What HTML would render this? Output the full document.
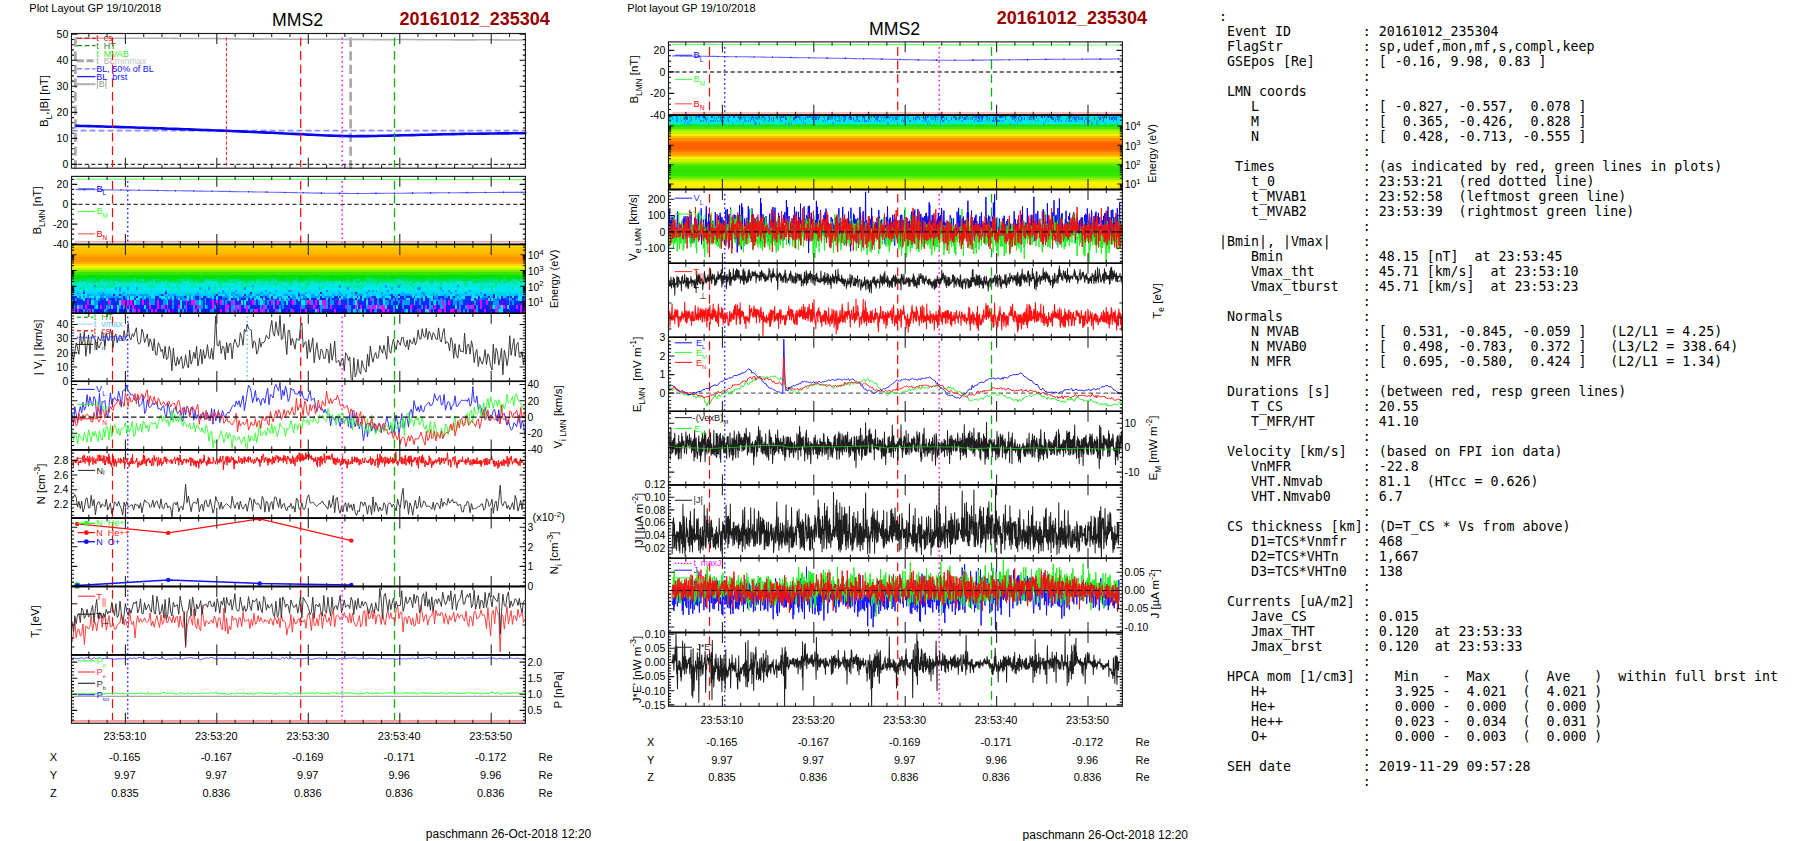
<!DOCTYPE html>
<html lang="en"><head><meta charset="utf-8"><title>MMS2 20161012_235304</title>
<style>
html,body{margin:0;padding:0;background:#fff;}
body{width:1804px;height:841px;overflow:hidden;position:relative;}
svg{position:absolute;left:0;top:0;font-family:"Liberation Sans", Arial, sans-serif;}
svg text{white-space:pre;}
pre#info{position:absolute;left:1219px;top:8.6px;margin:0;font-family:"DejaVu Sans Mono","Liberation Mono",monospace;
font-size:13.28px;line-height:15px;color:#000;white-space:pre;}
</style></head><body>
<svg width="1804" height="841" viewBox="0 0 1804 841">
<text x="29.3" y="11.9" font-size="11" text-anchor="start" fill="#000" >Plot Layout GP 19/10/2018</text>
<text x="297.5" y="26.3" font-size="17.7" text-anchor="middle" fill="#000" >MMS2</text>
<text x="399.6" y="24.6" font-size="18" text-anchor="start" fill="#990000" font-weight="bold" >20161012_235304</text>
<line x1="75.4" y1="37.6" x2="75.4" y2="169.6" stroke="#a8a8a8" stroke-width="2.7" stroke-dasharray="9.3 4.3"/>
<line x1="350.6" y1="37.6" x2="350.6" y2="169.6" stroke="#a8a8a8" stroke-width="2.7" stroke-dasharray="9.3 4.3"/>
<polyline points="75.3,38.2 82.9,38.2 90.6,38.2 98.2,38.2 105.9,38.3 113.5,38.3 121.2,38.3 128.8,38.3 136.5,38.2 144.1,38.2 151.7,38.2 159.4,38.2 167,38.3 174.7,38.4 182.3,38.5 190,38.5 197.6,38.5 205.3,38.5 212.9,38.5 220.6,38.6 228.2,38.7 235.9,38.9 243.5,39 251.1,39.1 258.8,39.1 266.4,39 274.1,39 281.7,39.1 289.4,39.2 297,39.2 304.7,39.2 312.3,39.2 320,39.2 327.6,39.2 335.3,39.3 342.9,39.4 350.5,39.4 358.2,39.4 365.8,39.5 373.5,39.6 381.1,39.6 388.8,39.6 396.4,39.5 404.1,39.5 411.7,39.5 419.4,39.6 427,39.7 434.7,39.7 442.3,39.7 449.9,39.8 457.6,39.9 465.2,39.9 472.9,39.9 480.5,39.8 488.2,39.8 495.8,39.9 503.5,40 511.1,40 518.8,40 526.4,40" fill="none" stroke="#b0b0b0" stroke-width="1.6" stroke-linejoin="round" />
<line x1="71.5" y1="130.6" x2="525.4" y2="130.6" stroke="#8c8cff" stroke-width="1.6" stroke-dasharray="6 3"/>
<line x1="71.5" y1="164.4" x2="525.4" y2="164.4" stroke="#333" stroke-width="1.1" stroke-dasharray="4 2.6"/>
<polyline points="75.3,125.7 79.8,125.9 84.4,126 89,126.1 93.5,126.3 98.1,126.4 102.6,126.5 107.2,126.7 111.7,126.8 116.3,126.9 120.9,127.1 125.4,127.2 130,127.3 134.5,127.5 139.1,127.7 143.6,127.8 148.2,128 152.8,128.1 157.3,128.3 161.9,128.4 166.4,128.6 171,128.7 175.5,128.9 180.1,129.1 184.6,129.3 189.2,129.4 193.8,129.6 198.3,129.8 202.9,130 207.4,130.1 212,130.3 216.5,130.5 221.1,130.6 225.7,130.8 230.2,131 234.8,131.2 239.3,131.4 243.9,131.6 248.4,131.8 253,132 257.6,132.2 262.1,132.4 266.7,132.6 271.2,132.8 275.8,133 280.3,133.2 284.9,133.5 289.5,133.7 294,133.9 298.6,134.1 303.1,134.3 307.7,134.6 312.2,134.8 316.8,135 321.4,135.3 325.9,135.5 330.5,135.6 335,135.7 339.6,135.9 344.1,136 348.7,136.1 353.2,136.2 357.8,136.1 362.4,136.1 366.9,136.1 371.5,136 376,136 380.6,135.8 385.1,135.7 389.7,135.6 394.3,135.5 398.8,135.4 403.4,135.3 407.9,135.2 412.5,135.1 417,135 421.6,134.8 426.2,134.7 430.7,134.6 435.3,134.5 439.8,134.4 444.4,134.3 448.9,134.2 453.5,134.1 458.1,134 462.6,133.9 467.2,133.8 471.7,133.7 476.3,133.7 480.8,133.6 485.4,133.6 490,133.5 494.5,133.5 499.1,133.4 503.6,133.4 508.2,133.4 512.7,133.3 517.3,133.3 521.9,133.2 526.4,133.2" fill="none" stroke="#0808f0" stroke-width="2.6" stroke-linejoin="round" />
<line x1="112.5" y1="37.5" x2="112.5" y2="167" stroke="#ff0000" stroke-width="1.2" stroke-dasharray="8.8 4.8"/>
<line x1="300.7" y1="37.5" x2="300.7" y2="167" stroke="#ff0000" stroke-width="1.2" stroke-dasharray="8.8 4.8"/>
<line x1="342.2" y1="37.5" x2="342.2" y2="167" stroke="#ff20ff" stroke-width="1.55" stroke-dasharray="1.7 3.0"/>
<line x1="394.5" y1="37.5" x2="394.5" y2="167" stroke="#10b010" stroke-width="1.3" stroke-dasharray="8.8 4.8"/>
<line x1="226.4" y1="37.5" x2="226.4" y2="167" stroke="#ff0000" stroke-width="0.9" stroke-dasharray="3.2 2"/>
<line x1="77" y1="38.3" x2="95.5" y2="38.3" stroke="#ff0000" stroke-width="1.3" stroke-dasharray="5 2.6"/>
<text x="96.3" y="41.4" font-size="9" text-anchor="start" fill="#ff0000" >t cs</text>
<line x1="77" y1="45.7" x2="95.5" y2="45.7" stroke="#109010" stroke-width="1.3" stroke-dasharray="5 2.6"/>
<text x="96.3" y="48.8" font-size="9" text-anchor="start" fill="#109010" >t HT</text>
<text x="96.3" y="56.7" font-size="9" text-anchor="start" fill="#30f030" >t MVAB</text>
<line x1="77" y1="60.8" x2="95.5" y2="60.8" stroke="#a8a8a8" stroke-width="3.0" stroke-dasharray="7 2.5"/>
<text x="96.3" y="63.9" font-size="9" text-anchor="start" fill="#b4acac" >t BL<tspan fill="#c4c4c4">minmax</tspan></text>
<line x1="77" y1="68.8" x2="95.5" y2="68.8" stroke="#7070ff" stroke-width="1.3" stroke-dasharray="5 2.6"/>
<text x="96.3" y="71.9" font-size="9" text-anchor="start" fill="#1010ff" >BL, 50% of BL</text>
<line x1="77" y1="76.6" x2="95.5" y2="76.6" stroke="#2020ff" stroke-width="1.3" />
<text x="96.3" y="79.7" font-size="9" text-anchor="start" fill="#1010ff" >BL brst</text>
<line x1="77" y1="84.2" x2="95.5" y2="84.2" stroke="#b0b0b0" stroke-width="2.0" />
<text x="96.3" y="87.3" font-size="9" text-anchor="start" fill="#909090" >|B|</text>
<path d="M88.8 33.5v3.5M88.8 168.2v-3.5M107.1 33.5v3.5M107.1 168.2v-3.5M125.4 33.5v10.4M125.4 168.2v-10.4M143.7 33.5v3.5M143.7 168.2v-3.5M162 33.5v3.5M162 168.2v-3.5M180.3 33.5v3.5M180.3 168.2v-3.5M198.6 33.5v3.5M198.6 168.2v-3.5M216.8 33.5v10.4M216.8 168.2v-10.4M235.1 33.5v3.5M235.1 168.2v-3.5M253.4 33.5v3.5M253.4 168.2v-3.5M271.7 33.5v3.5M271.7 168.2v-3.5M290 33.5v3.5M290 168.2v-3.5M308.3 33.5v10.4M308.3 168.2v-10.4M326.6 33.5v3.5M326.6 168.2v-3.5M344.9 33.5v3.5M344.9 168.2v-3.5M363.2 33.5v3.5M363.2 168.2v-3.5M381.5 33.5v3.5M381.5 168.2v-3.5M399.8 33.5v10.4M399.8 168.2v-10.4M418 33.5v3.5M418 168.2v-3.5M436.3 33.5v3.5M436.3 168.2v-3.5M454.6 33.5v3.5M454.6 168.2v-3.5M472.9 33.5v3.5M472.9 168.2v-3.5M491.2 33.5v10.4M491.2 168.2v-10.4M509.5 33.5v3.5M509.5 168.2v-3.5" stroke="#2a2a2a" stroke-width="1.1" fill="none"/>
<rect x="71.5" y="33.5" width="453.9" height="134.7" fill="none" stroke="#1c1c1c" stroke-width="1.15"/>
<path d="M71.5 164.4h5.8M525.4 164.4h-5.8M71.5 138.4h5.8M525.4 138.4h-5.8M71.5 112.4h5.8M525.4 112.4h-5.8M71.5 86.3h5.8M525.4 86.3h-5.8M71.5 60.3h5.8M525.4 60.3h-5.8M71.5 34.3h5.8M525.4 34.3h-5.8M71.5 164.4h2.6M525.4 164.4h-2.6M71.5 159.2h2.6M525.4 159.2h-2.6M71.5 154h2.6M525.4 154h-2.6M71.5 148.8h2.6M525.4 148.8h-2.6M71.5 143.6h2.6M525.4 143.6h-2.6M71.5 138.4h2.6M525.4 138.4h-2.6M71.5 133.2h2.6M525.4 133.2h-2.6M71.5 128h2.6M525.4 128h-2.6M71.5 122.8h2.6M525.4 122.8h-2.6M71.5 117.6h2.6M525.4 117.6h-2.6M71.5 112.4h2.6M525.4 112.4h-2.6M71.5 107.2h2.6M525.4 107.2h-2.6M71.5 102h2.6M525.4 102h-2.6M71.5 96.7h2.6M525.4 96.7h-2.6M71.5 91.5h2.6M525.4 91.5h-2.6M71.5 86.3h2.6M525.4 86.3h-2.6M71.5 81.1h2.6M525.4 81.1h-2.6M71.5 75.9h2.6M525.4 75.9h-2.6M71.5 70.7h2.6M525.4 70.7h-2.6M71.5 65.5h2.6M525.4 65.5h-2.6M71.5 60.3h2.6M525.4 60.3h-2.6M71.5 55.1h2.6M525.4 55.1h-2.6M71.5 49.9h2.6M525.4 49.9h-2.6M71.5 44.7h2.6M525.4 44.7h-2.6M71.5 39.5h2.6M525.4 39.5h-2.6M71.5 34.3h2.6M525.4 34.3h-2.6" stroke="#111" stroke-width="1.1" fill="none"/>
<text x="68.3" y="168.1" font-size="10.5" text-anchor="end" fill="#000" >0</text>
<text x="68.3" y="142.1" font-size="10.5" text-anchor="end" fill="#000" >10</text>
<text x="68.3" y="116.1" font-size="10.5" text-anchor="end" fill="#000" >20</text>
<text x="68.3" y="90" font-size="10.5" text-anchor="end" fill="#000" >30</text>
<text x="68.3" y="64" font-size="10.5" text-anchor="end" fill="#000" >40</text>
<text x="68.3" y="38" font-size="10.5" text-anchor="end" fill="#000" >50</text>
<text x="48" y="101" font-size="11.5" text-anchor="middle" fill="#000" transform="rotate(-90 48 101)" >B<tspan dy="3.8" font-size="8.3">L</tspan><tspan dy="-3.8" font-size="1">&#8203;</tspan>,|B| [nT]</text>
<polyline points="75.3,179.1 79.8,179.1 84.4,179.2 89,179.2 93.5,179.2 98.1,179.2 102.6,179.2 107.2,179.2 111.7,179.2 116.3,179.2 120.9,179.2 125.4,179.2 130,179.2 134.5,179.2 139.1,179.2 143.6,179.2 148.2,179.2 152.8,179.2 157.3,179.2 161.9,179.3 166.4,179.3 171,179.3 175.5,179.3 180.1,179.3 184.6,179.3 189.2,179.3 193.8,179.3 198.3,179.3 202.9,179.3 207.4,179.3 212,179.3 216.5,179.3 221.1,179.3 225.7,179.3 230.2,179.3 234.8,179.3 239.3,179.4 243.9,179.4 248.4,179.4 253,179.4 257.6,179.4 262.1,179.4 266.7,179.4 271.2,179.4 275.8,179.4 280.3,179.4 284.9,179.4 289.5,179.4 294,179.4 298.6,179.4 303.1,179.4 307.7,179.4 312.2,179.5 316.8,179.5 321.4,179.5 325.9,179.5 330.5,179.5 335,179.5 339.6,179.5 344.1,179.5 348.7,179.5 353.2,179.5 357.8,179.5 362.4,179.5 366.9,179.5 371.5,179.5 376,179.5 380.6,179.5 385.1,179.5 389.7,179.6 394.3,179.6 398.8,179.6 403.4,179.6 407.9,179.6 412.5,179.6 417,179.6 421.6,179.6 426.2,179.6 430.7,179.6 435.3,179.6 439.8,179.6 444.4,179.6 448.9,179.6 453.5,179.6 458.1,179.6 462.6,179.6 467.2,179.7 471.7,179.7 476.3,179.7 480.8,179.7 485.4,179.7 490,179.7 494.5,179.7 499.1,179.7 503.6,179.7 508.2,179.7 512.7,179.7 517.3,179.7 521.9,179.7 526.4,179.7" fill="none" stroke="#70ff70" stroke-width="1.2" stroke-linejoin="round" />
<polyline points="75.3,241.8 79.8,241.8 84.4,241.8 89,241.8 93.5,241.8 98.1,241.8 102.6,241.8 107.2,241.8 111.7,241.8 116.3,241.8 120.9,241.8 125.4,241.8 130,241.8 134.5,241.8 139.1,241.8 143.6,241.8 148.2,241.8 152.8,241.8 157.3,241.8 161.9,241.8 166.4,241.8 171,241.8 175.5,241.8 180.1,241.8 184.6,241.8 189.2,241.8 193.8,241.8 198.3,241.8 202.9,241.8 207.4,241.8 212,241.8 216.5,241.8 221.1,241.8 225.7,241.8 230.2,241.8 234.8,241.8 239.3,241.8 243.9,241.8 248.4,241.8 253,241.8 257.6,241.8 262.1,241.8 266.7,241.8 271.2,241.8 275.8,241.8 280.3,241.8 284.9,241.8 289.5,241.8 294,241.8 298.6,241.8 303.1,241.8 307.7,241.8 312.2,241.8 316.8,241.8 321.4,241.8 325.9,241.8 330.5,241.8 335,241.8 339.6,241.8 344.1,241.8 348.7,241.8 353.2,241.8 357.8,241.8 362.4,241.8 366.9,241.8 371.5,241.8 376,241.8 380.6,241.8 385.1,241.8 389.7,241.8 394.3,241.8 398.8,241.8 403.4,241.8 407.9,241.8 412.5,241.8 417,241.8 421.6,241.8 426.2,241.8 430.7,241.8 435.3,241.8 439.8,241.8 444.4,241.8 448.9,241.8 453.5,241.8 458.1,241.8 462.6,241.8 467.2,241.8 471.7,241.8 476.3,241.8 480.8,241.8 485.4,241.8 490,241.8 494.5,241.8 499.1,241.8 503.6,241.8 508.2,241.8 512.7,241.8 517.3,241.8 521.9,241.8 526.4,241.8" fill="none" stroke="#ff5858" stroke-width="0.8" stroke-linejoin="round" />
<polyline points="75.3,189.5 79.8,189.6 84.4,189.6 89,189.7 93.5,189.7 98.1,189.8 102.6,189.8 107.2,189.9 111.7,189.9 116.3,190 120.9,190 125.4,190.1 130,190.1 134.5,190.2 139.1,190.2 143.6,190.3 148.2,190.4 152.8,190.4 157.3,190.5 161.9,190.5 166.4,190.6 171,190.7 175.5,190.7 180.1,190.8 184.6,190.9 189.2,190.9 193.8,191 198.3,191.1 202.9,191.1 207.4,191.2 212,191.2 216.5,191.3 221.1,191.4 225.7,191.4 230.2,191.5 234.8,191.6 239.3,191.7 243.9,191.7 248.4,191.8 253,191.9 257.6,192 262.1,192 266.7,192.1 271.2,192.2 275.8,192.3 280.3,192.4 284.9,192.5 289.5,192.5 294,192.6 298.6,192.7 303.1,192.8 307.7,192.9 312.2,193 316.8,193.1 321.4,193.1 325.9,193.2 330.5,193.3 335,193.3 339.6,193.4 344.1,193.4 348.7,193.5 353.2,193.5 357.8,193.5 362.4,193.5 366.9,193.5 371.5,193.4 376,193.4 380.6,193.4 385.1,193.3 389.7,193.3 394.3,193.2 398.8,193.2 403.4,193.2 407.9,193.1 412.5,193.1 417,193 421.6,193 426.2,192.9 430.7,192.9 435.3,192.9 439.8,192.8 444.4,192.8 448.9,192.7 453.5,192.7 458.1,192.7 462.6,192.6 467.2,192.6 471.7,192.6 476.3,192.5 480.8,192.5 485.4,192.5 490,192.5 494.5,192.5 499.1,192.4 503.6,192.4 508.2,192.4 512.7,192.4 517.3,192.4 521.9,192.4 526.4,192.3" fill="none" stroke="#6868ff" stroke-width="1.1" stroke-linejoin="round" />
<path d="M84.4 188.8v1.6M102.6 189v1.6M120.9 189.2v1.6M139.1 189.4v1.6M157.3 189.7v1.6M175.5 189.9v1.6M193.8 190.2v1.6M212 190.4v1.6M230.2 190.7v1.6M248.4 191v1.6M266.7 191.3v1.6M284.9 191.7v1.6M303.1 192v1.6M321.4 192.3v1.6M339.6 192.6v1.6M357.8 192.7v1.6M376 192.6v1.6M394.3 192.4v1.6M412.5 192.3v1.6M430.7 192.1v1.6M448.9 191.9v1.6M467.2 191.8v1.6M485.4 191.7v1.6M503.6 191.6v1.6M521.9 191.6v1.6" stroke="#3030d0" stroke-width="1.2"/>
<line x1="71.5" y1="204.3" x2="525.4" y2="204.3" stroke="#3a3a3a" stroke-width="1.3" stroke-dasharray="4.2 2.7"/>
<line x1="112.5" y1="181" x2="112.5" y2="243" stroke="#ff0000" stroke-width="1.2" stroke-dasharray="8.8 4.8"/>
<line x1="127.7" y1="181" x2="127.7" y2="243" stroke="#3434ff" stroke-width="1.5" stroke-dasharray="1.8 2.7"/>
<line x1="300.7" y1="181" x2="300.7" y2="243" stroke="#ff0000" stroke-width="1.2" stroke-dasharray="8.8 4.8"/>
<line x1="342.2" y1="181" x2="342.2" y2="243" stroke="#ff20ff" stroke-width="1.55" stroke-dasharray="1.7 3.0"/>
<line x1="394.5" y1="181" x2="394.5" y2="243" stroke="#10b010" stroke-width="1.3" stroke-dasharray="8.8 4.8"/>
<line x1="77.8" y1="188.9" x2="94.8" y2="188.9" stroke="#4040ff" stroke-width="1.2" />
<text x="96.4" y="191.7" font-size="9.2" text-anchor="start" fill="#0000ff" >B<tspan dy="3.6" font-size="6.5">L</tspan><tspan dy="-3.6" font-size="1">&#8203;</tspan></text>
<line x1="77.8" y1="211.5" x2="94.8" y2="211.5" stroke="#50ff50" stroke-width="1.2" />
<text x="96.4" y="214.3" font-size="9.2" text-anchor="start" fill="#30ff30" >B<tspan dy="3.6" font-size="6.5">M</tspan><tspan dy="-3.6" font-size="1">&#8203;</tspan></text>
<line x1="77.8" y1="233.8" x2="94.8" y2="233.8" stroke="#ff6060" stroke-width="1.2" />
<text x="96.4" y="236.6" font-size="9.2" text-anchor="start" fill="#ff0000" >B<tspan dy="3.6" font-size="6.5">N</tspan><tspan dy="-3.6" font-size="1">&#8203;</tspan></text>
<path d="M88.8 176.4v3.5M88.8 244.5v-3.5M107.1 176.4v3.5M107.1 244.5v-3.5M125.4 176.4v10.4M125.4 244.5v-10.4M143.7 176.4v3.5M143.7 244.5v-3.5M162 176.4v3.5M162 244.5v-3.5M180.3 176.4v3.5M180.3 244.5v-3.5M198.6 176.4v3.5M198.6 244.5v-3.5M216.8 176.4v10.4M216.8 244.5v-10.4M235.1 176.4v3.5M235.1 244.5v-3.5M253.4 176.4v3.5M253.4 244.5v-3.5M271.7 176.4v3.5M271.7 244.5v-3.5M290 176.4v3.5M290 244.5v-3.5M308.3 176.4v10.4M308.3 244.5v-10.4M326.6 176.4v3.5M326.6 244.5v-3.5M344.9 176.4v3.5M344.9 244.5v-3.5M363.2 176.4v3.5M363.2 244.5v-3.5M381.5 176.4v3.5M381.5 244.5v-3.5M399.8 176.4v10.4M399.8 244.5v-10.4M418 176.4v3.5M418 244.5v-3.5M436.3 176.4v3.5M436.3 244.5v-3.5M454.6 176.4v3.5M454.6 244.5v-3.5M472.9 176.4v3.5M472.9 244.5v-3.5M491.2 176.4v10.4M491.2 244.5v-10.4M509.5 176.4v3.5M509.5 244.5v-3.5" stroke="#2a2a2a" stroke-width="1.1" fill="none"/>
<rect x="71.5" y="176.4" width="453.9" height="68.1" fill="none" stroke="#1c1c1c" stroke-width="1.15"/>
<line x1="71" y1="244.5" x2="525.9" y2="244.5" stroke="#000" stroke-width="1.35" />
<path d="M71.5 244h5.8M525.4 244h-5.8M71.5 224.1h5.8M525.4 224.1h-5.8M71.5 204.3h5.8M525.4 204.3h-5.8M71.5 184.4h5.8M525.4 184.4h-5.8M71.5 244h2.6M525.4 244h-2.6M71.5 239h2.6M525.4 239h-2.6M71.5 234.1h2.6M525.4 234.1h-2.6M71.5 229.1h2.6M525.4 229.1h-2.6M71.5 224.1h2.6M525.4 224.1h-2.6M71.5 219.2h2.6M525.4 219.2h-2.6M71.5 214.2h2.6M525.4 214.2h-2.6M71.5 209.2h2.6M525.4 209.2h-2.6M71.5 204.3h2.6M525.4 204.3h-2.6M71.5 199.3h2.6M525.4 199.3h-2.6M71.5 194.3h2.6M525.4 194.3h-2.6M71.5 189.4h2.6M525.4 189.4h-2.6M71.5 184.4h2.6M525.4 184.4h-2.6M71.5 179.4h2.6M525.4 179.4h-2.6" stroke="#111" stroke-width="1.1" fill="none"/>
<text x="68.3" y="247.7" font-size="10.5" text-anchor="end" fill="#000" >-40</text>
<text x="68.3" y="227.8" font-size="10.5" text-anchor="end" fill="#000" >-20</text>
<text x="68.3" y="208" font-size="10.5" text-anchor="end" fill="#000" >0</text>
<text x="68.3" y="188.1" font-size="10.5" text-anchor="end" fill="#000" >20</text>
<text x="41.4" y="210.5" font-size="11.5" text-anchor="middle" fill="#000" transform="rotate(-90 41.4 210.5)" >B<tspan dy="3.8" font-size="8.3">LMN</tspan><tspan dy="-3.8" font-size="1">&#8203;</tspan> [nT]</text>
<g shape-rendering="crispEdges">
<rect x="71.5" y="244.4" width="453.9" height="2.5" fill="#e8e400"/>
<rect x="71.5" y="246.6" width="453.9" height="2.5" fill="#ffc400"/>
<rect x="71.5" y="248.7" width="453.9" height="2.5" fill="#ffc000"/>
<rect x="71.5" y="250.9" width="453.9" height="2.5" fill="#ffbc00"/>
<rect x="71.5" y="253" width="453.9" height="2.5" fill="#ffb400"/>
<rect x="71.5" y="255.2" width="453.9" height="2.5" fill="#ffa400"/>
<rect x="71.5" y="257.3" width="453.9" height="2.5" fill="#ff9600"/>
<rect x="71.5" y="259.5" width="453.9" height="2.5" fill="#ff9400"/>
<rect x="71.5" y="261.6" width="453.9" height="2.5" fill="#ffb000"/>
<rect x="71.5" y="263.8" width="453.9" height="2.5" fill="#ffd800"/>
<rect x="71.5" y="265.9" width="453.9" height="2.5" fill="#f8f800"/>
<rect x="71.5" y="268.1" width="453.9" height="2.5" fill="#c0f400"/>
<rect x="71.5" y="270.2" width="453.9" height="2.5" fill="#78ec00"/>
<rect x="71.5" y="272.4" width="453.9" height="2.5" fill="#38e400"/>
<rect x="71.5" y="274.5" width="453.9" height="2.5" fill="#08e000"/>
<rect x="71.5" y="276.7" width="453.9" height="2.5" fill="#00e010"/>
<rect x="71.5" y="278.8" width="453.9" height="2.5" fill="#00e048"/>
<rect x="71.5" y="281" width="453.9" height="2.5" fill="#00e488"/>
<rect x="71.5" y="283.2" width="453.9" height="2.5" fill="#00e8c0"/>
<rect x="71.5" y="285.3" width="453.9" height="2.5" fill="#00e8e0"/>
<rect x="71.5" y="287.5" width="453.9" height="2.5" fill="#00e8f0"/>
<rect x="71.5" y="289.6" width="453.9" height="2.5" fill="#00e0f8"/>
<rect x="71.5" y="291.8" width="453.9" height="2.5" fill="#00d8ff"/>
<rect x="71.5" y="293.9" width="453.9" height="2.5" fill="#00c8ff"/>
<rect x="71.5" y="296.1" width="453.9" height="2.5" fill="#0098ff"/>
<rect x="71.5" y="298.2" width="453.9" height="2.5" fill="#0060ff"/>
<rect x="71.5" y="300.4" width="453.9" height="4.6" fill="#0030ff"/>
<rect x="71.5" y="304.7" width="453.9" height="4.6" fill="#0024ff"/>
<rect x="71.5" y="309" width="453.9" height="4.6" fill="#0018ff"/>
<path d="M71.5 277.9H525.4" stroke="#00e048" stroke-width="2.4" stroke-dasharray="0 11.4 1.9 3.8 1.9 1.9 3.8 7.6 1.9 7.6 5.7 7.6 1.9 5.7 1.9 5.7 1.9 3.8 1.9 19 1.9 15.2 1.9 13.3 5.7 9.5 3.8 5.7 1.9 19 1.9 1.9 1.9 13.3 1.9 3.8 1.9 3.8 1.9 7.6 1.9 7.6 1.9 11.4 3.8 5.7 1.9 3.8 1.9 7.6 1.9 22.8 1.9 5.7 7.6 1.9 1.9 9.5 3.8 5.7 1.9 1.9 1.9 1.9 1.9 1.9 1.9 1.9 3.8 11.4 1.9 1.9 1.9 3.8 1.9 11.4 1.9 9.5 1.9 5.7 1.9 15.2 5.7 3.8 1.9 5.7 1.9 7.6 1.9 7.6 1.9 1.9" fill="none"/>
<path d="M71.5 280H525.4" stroke="#00e488" stroke-width="2.4" stroke-dasharray="1.9 13.3 1.9 1.9 1.9 7.6 3.8 7.6 1.9 9.5 1.9 9.5 1.9 1.9 5.7 9.5 1.9 9.5 1.9 13.3 3.8 1.9 3.8 1.9 1.9 1.9 1.9 7.6 3.8 1.9 1.9 17.1 7.6 19 1.9 3.8 1.9 7.6 5.7 15.2 1.9 1.9 1.9 15.2 1.9 32.3 1.9 5.7 5.7 5.7 5.7 1.9 3.8 1.9 1.9 13.3 7.6 3.8 1.9 11.4 1.9 7.6 1.9 3.8 1.9 3.8 1.9 11.4 3.8 1.9 1.9 11.4 1.9 1.9 1.9 3.8 1.9 7.6 5.7 3.8 5.7 5.7 5.7 1.9 1.9 3.8" fill="none"/>
<path d="M71.5 280H525.4" stroke="#00e010" stroke-width="2.4" stroke-dasharray="0 5.7 1.9 3.8 1.9 11.4 3.8 24.7 1.9 9.5 1.9 7.6 1.9 1.9 1.9 9.5 1.9 3.8 5.7 1.9 1.9 7.6 1.9 7.6 1.9 1.9 1.9 1.9 1.9 22.8 1.9 13.3 1.9 3.8 1.9 3.8 1.9 22.8 1.9 3.8 1.9 5.7 1.9 5.7 5.7 26.6 5.7 3.8 5.7 5.7 1.9 7.6 1.9 1.9 1.9 11.4 1.9 28.5 1.9 7.6 1.9 3.8 1.9 5.7 3.8 7.6 1.9 19 1.9 9.5 1.9 30.4 1.9 9.5 1.9 3.8 1.9 0" fill="none"/>
<path d="M71.5 282.2H525.4" stroke="#00e8d8" stroke-width="2.4" stroke-dasharray="0 7.6 1.9 1.9 1.9 15.2 1.9 3.8 1.9 1.9 1.9 3.8 1.9 15.2 1.9 15.2 1.9 1.9 1.9 5.7 1.9 1.9 1.9 15.2 3.8 1.9 1.9 15.2 13.3 19 5.7 9.5 1.9 1.9 3.8 1.9 1.9 1.9 3.8 1.9 1.9 1.9 1.9 3.8 1.9 11.4 1.9 9.5 1.9 3.8 1.9 13.3 1.9 1.9 1.9 1.9 1.9 1.9 3.8 11.4 1.9 5.7 1.9 1.9 1.9 5.7 1.9 24.7 5.7 5.7 1.9 5.7 1.9 5.7 3.8 5.7 1.9 7.6 1.9 3.8 1.9 5.7 5.7 3.8 5.7 17.1 1.9 9.5 1.9 7.6 1.9 3.8 3.8 1.9 1.9 1.9" fill="none"/>
<path d="M71.5 282.2H525.4" stroke="#00e048" stroke-width="2.4" stroke-dasharray="0 1.9 1.9 1.9 1.9 15.2 1.9 43.7 1.9 1.9 1.9 9.5 1.9 17.1 1.9 3.8 1.9 17.1 3.8 15.2 1.9 3.8 1.9 19 3.8 5.7 1.9 13.3 1.9 19 1.9 58.9 1.9 1.9 5.7 1.9 1.9 1.9 1.9 9.5 1.9 32.3 3.8 5.7 1.9 5.7 3.8 41.8 3.8 13.3 1.9 5.7 1.9 1.9 1.9 15.2 1.9 3.8" fill="none"/>
<path d="M71.5 284.3H525.4" stroke="#00e8f0" stroke-width="2.4" stroke-dasharray="0 3.8 1.9 1.9 1.9 1.9 1.9 3.8 3.8 3.8 1.9 3.8 3.8 13.3 1.9 3.8 7.6 1.9 3.8 1.9 5.7 3.8 1.9 1.9 1.9 5.7 3.8 7.6 3.8 11.4 1.9 5.7 3.8 1.9 5.7 1.9 1.9 1.9 1.9 1.9 1.9 3.8 11.4 5.7 1.9 3.8 1.9 1.9 1.9 13.3 1.9 17.1 5.7 3.8 1.9 1.9 1.9 3.8 3.8 5.7 1.9 1.9 1.9 3.8 1.9 5.7 1.9 3.8 3.8 5.7 1.9 9.5 1.9 1.9 1.9 7.6 1.9 11.4 1.9 1.9 3.8 13.3 1.9 19 5.7 5.7 5.7 1.9 5.7 1.9 3.8 1.9 3.8 1.9 1.9 5.7 3.8 5.7 1.9 5.7 1.9 1.9 5.7 1.9 1.9 5.7 3.8 1.9 1.9 7.6 3.8 1.9" fill="none"/>
<path d="M71.5 284.3H525.4" stroke="#00e470" stroke-width="2.4" stroke-dasharray="0 41.8 1.9 51.3 1.9 51.3 1.9 19 1.9 19 1.9 11.4 1.9 3.8 1.9 7.6 1.9 13.3 3.8 66.5 1.9 19 1.9 1.9 1.9 7.6 1.9 28.5 1.9 22.8 1.9 28.5 1.9 28.5" fill="none"/>
<path d="M71.5 286.5H525.4" stroke="#00e8a0" stroke-width="2.4" stroke-dasharray="3.8 7.6 1.9 1.9 1.9 3.8 1.9 1.9 7.6 1.9 7.6 7.6 1.9 1.9 3.8 19 7.6 13.3 1.9 5.7 1.9 13.3 1.9 1.9 1.9 7.6 1.9 1.9 1.9 3.8 1.9 3.8 1.9 3.8 1.9 17.1 5.7 34.2 1.9 11.4 1.9 5.7 1.9 15.2 1.9 13.3 1.9 5.7 1.9 1.9 1.9 1.9 11.4 24.7 1.9 20.9 1.9 5.7 1.9 3.8 1.9 11.4 1.9 39.9 1.9 5.7 1.9 1.9 3.8 13.3 1.9 9.5 1.9 3.8" fill="none"/>
<path d="M71.5 286.5H525.4" stroke="#0098ff" stroke-width="2.4" stroke-dasharray="0 22.8 1.9 155.8 1.9 85.5 1.9 43.7 1.9 11.4 1.9 57 1.9 64.6 1.9 0" fill="none"/>
<path d="M71.5 288.6H525.4" stroke="#00e8a0" stroke-width="2.4" stroke-dasharray="0 7.6 5.7 9.5 1.9 7.6 1.9 34.2 1.9 30.4 1.9 3.8 1.9 20.9 1.9 1.9 1.9 7.6 1.9 13.3 1.9 9.5 1.9 9.5 1.9 32.3 1.9 13.3 1.9 1.9 1.9 13.3 1.9 30.4 1.9 1.9 1.9 1.9 1.9 17.1 1.9 15.2 1.9 7.6 1.9 5.7 1.9 22.8 1.9 17.1 1.9 20.9 3.8 7.6 1.9 19 1.9 9.5 1.9 0" fill="none"/>
<path d="M71.5 288.6H525.4" stroke="#0098ff" stroke-width="2.4" stroke-dasharray="0 43.7 1.9 1.9 1.9 5.7 1.9 7.6 1.9 60.8 1.9 7.6 1.9 34.2 1.9 72.2 1.9 26.6 1.9 41.8 1.9 24.7 3.8 19 1.9 83.6" fill="none"/>
<path d="M71.5 290.8H525.4" stroke="#00e8a0" stroke-width="2.4" stroke-dasharray="0 28.5 1.9 41.8 1.9 3.8 1.9 19 1.9 5.7 1.9 32.3 1.9 28.5 1.9 98.8 1.9 9.5 1.9 13.3 1.9 38 1.9 1.9 1.9 5.7 1.9 3.8 1.9 34.2 1.9 30.4 1.9 22.8 3.8 1.9" fill="none"/>
<path d="M71.5 290.8H525.4" stroke="#0098ff" stroke-width="2.4" stroke-dasharray="0 1.9 1.9 7.6 1.9 34.2 1.9 43.7 1.9 38 1.9 15.2 1.9 11.4 1.9 28.5 1.9 7.6 1.9 11.4 3.8 34.2 1.9 9.5 1.9 28.5 1.9 1.9 1.9 1.9 1.9 9.5 1.9 53.2 1.9 3.8 1.9 5.7 1.9 11.4 1.9 55.1" fill="none"/>
<path d="M71.5 292.9H525.4" stroke="#0098ff" stroke-width="2.4" stroke-dasharray="0 5.7 1.9 19 1.9 1.9 1.9 19 1.9 72.2 1.9 19 1.9 1.9 3.8 5.7 3.8 24.7 3.8 5.7 1.9 26.6 1.9 5.7 1.9 32.3 1.9 9.5 1.9 3.8 1.9 7.6 1.9 13.3 1.9 19 1.9 17.1 3.8 7.6 1.9 15.2 1.9 13.3 1.9 13.3 1.9 43.7" fill="none"/>
<path d="M71.5 292.9H525.4" stroke="#00e8a0" stroke-width="2.4" stroke-dasharray="0 89.3 1.9 20.9 5.7 1.9 1.9 19 1.9 1.9 1.9 36.1 1.9 47.5 1.9 13.3 1.9 41.8 1.9 32.3 1.9 32.3 1.9 57 3.8 5.7 1.9 5.7 1.9 17.1" fill="none"/>
<path d="M71.5 292.9H525.4" stroke="#0028ff" stroke-width="2.4" stroke-dasharray="0 11.4 1.9 79.8 1.9 83.6 1.9 68.4 1.9 32.3 1.9 169.1" fill="none"/>
<path d="M71.5 295.1H525.4" stroke="#0098ff" stroke-width="2.4" stroke-dasharray="1.9 13.3 3.8 9.5 5.7 1.9 1.9 11.4 1.9 3.8 1.9 1.9 5.7 3.8 7.6 11.4 1.9 1.9 1.9 3.8 1.9 1.9 3.8 9.5 1.9 1.9 1.9 3.8 3.8 15.2 1.9 9.5 1.9 3.8 1.9 1.9 3.8 9.5 3.8 3.8 3.8 3.8 1.9 1.9 1.9 3.8 1.9 9.5 3.8 3.8 1.9 7.6 3.8 5.7 3.8 3.8 1.9 1.9 1.9 7.6 1.9 3.8 1.9 1.9 1.9 1.9 1.9 7.6 1.9 1.9 3.8 26.6 1.9 3.8 1.9 3.8 1.9 1.9 7.6 3.8 1.9 5.7 1.9 7.6 1.9 1.9 1.9 5.7 1.9 9.5 3.8 11.4 1.9 3.8 1.9 11.4 1.9 17.1 1.9 5.7 1.9 7.6" fill="none"/>
<path d="M71.5 295.1H525.4" stroke="#0028ff" stroke-width="2.4" stroke-dasharray="0 41.8 1.9 3.8 1.9 39.9 1.9 53.2 1.9 26.6 1.9 51.3 1.9 91.2 1.9 5.7 1.9 83.6 1.9 7.6 1.9 30.4" fill="none"/>
<path d="M71.5 295.1H525.4" stroke="#00e8f0" stroke-width="2.4" stroke-dasharray="0 3.8 1.9 3.8 1.9 1.9 1.9 64.6 1.9 26.6 1.9 36.1 1.9 1.9 3.8 3.8 1.9 11.4 1.9 7.6 1.9 7.6 1.9 5.7 3.8 3.8 5.7 13.3 1.9 7.6 5.7 3.8 1.9 3.8 1.9 1.9 1.9 3.8 1.9 11.4 1.9 3.8 1.9 13.3 1.9 3.8 1.9 3.8 3.8 32.3 1.9 13.3 1.9 9.5 1.9 9.5 1.9 1.9 1.9 17.1 1.9 20.9 1.9 9.5 1.9 9.5 1.9 1.9 3.8 0" fill="none"/>
<path d="M71.5 297.3H525.4" stroke="#00e8f0" stroke-width="2.4" stroke-dasharray="0 5.7 1.9 1.9 1.9 1.9 1.9 1.9 5.7 1.9 3.8 3.8 1.9 13.3 1.9 5.7 1.9 1.9 3.8 3.8 3.8 1.9 1.9 5.7 3.8 3.8 5.7 3.8 1.9 1.9 1.9 13.3 1.9 1.9 1.9 7.6 1.9 5.7 1.9 1.9 1.9 1.9 1.9 11.4 3.8 1.9 1.9 13.3 1.9 3.8 3.8 9.5 1.9 1.9 3.8 5.7 5.7 1.9 1.9 3.8 1.9 3.8 1.9 3.8 3.8 7.6 1.9 1.9 1.9 7.6 1.9 3.8 1.9 1.9 1.9 3.8 3.8 1.9 3.8 1.9 1.9 1.9 3.8 9.5 5.7 3.8 5.7 3.8 1.9 1.9 1.9 11.4 1.9 1.9 5.7 1.9 1.9 1.9 5.7 17.1 1.9 5.7 1.9 1.9 3.8 7.6 5.7 1.9 1.9 7.6 1.9 3.8 1.9 1.9 1.9 1.9 1.9 7.6 1.9 3.8 3.8 3.8" fill="none"/>
<path d="M71.5 297.3H525.4" stroke="#0028ff" stroke-width="2.4" stroke-dasharray="5.7 45.6 1.9 3.8 1.9 5.7 1.9 17.1 3.8 15.2 1.9 7.6 1.9 9.5 3.8 3.8 3.8 7.6 1.9 1.9 3.8 20.9 1.9 15.2 3.8 1.9 1.9 3.8 1.9 15.2 1.9 30.4 1.9 11.4 3.8 1.9 1.9 15.2 1.9 1.9 1.9 9.5 3.8 15.2 3.8 5.7 3.8 1.9 5.7 1.9 1.9 9.5 1.9 5.7 1.9 3.8 5.7 3.8 1.9 3.8 1.9 9.5 5.7 7.6 1.9 7.6 1.9 3.8 1.9 5.7 1.9 3.8 1.9 1.9 1.9 1.9 3.8 3.8 1.9 1.9" fill="none"/>
<path d="M71.5 299.4H525.4" stroke="#00e8f0" stroke-width="2.4" stroke-dasharray="0 11.4 1.9 11.4 1.9 7.6 1.9 19 1.9 1.9 3.8 1.9 3.8 24.7 1.9 5.7 1.9 3.8 1.9 7.6 1.9 1.9 1.9 22.8 1.9 11.4 1.9 5.7 1.9 7.6 1.9 5.7 1.9 1.9 3.8 1.9 1.9 13.3 1.9 3.8 1.9 11.4 1.9 9.5 1.9 5.7 1.9 7.6 1.9 11.4 1.9 15.2 1.9 3.8 1.9 19 1.9 20.9 3.8 3.8 1.9 7.6 1.9 5.7 1.9 22.8 1.9 1.9 1.9 9.5 3.8 13.3 1.9 1.9 1.9 15.2 1.9 7.6 3.8 3.8" fill="none"/>
<path d="M71.5 299.4H525.4" stroke="#0028ff" stroke-width="2.4" stroke-dasharray="3.8 1.9 1.9 5.7 1.9 1.9 1.9 9.5 1.9 1.9 1.9 3.8 5.7 1.9 3.8 1.9 1.9 9.5 1.9 3.8 1.9 3.8 1.9 7.6 1.9 1.9 1.9 13.3 1.9 20.9 1.9 1.9 1.9 3.8 3.8 3.8 1.9 1.9 3.8 3.8 1.9 3.8 1.9 1.9 1.9 3.8 5.7 1.9 1.9 1.9 1.9 7.6 1.9 3.8 1.9 7.6 1.9 1.9 1.9 7.6 1.9 15.2 1.9 1.9 5.7 3.8 5.7 1.9 1.9 1.9 1.9 3.8 1.9 9.5 3.8 1.9 1.9 7.6 1.9 1.9 1.9 3.8 3.8 1.9 1.9 3.8 3.8 5.7 1.9 1.9 1.9 9.5 3.8 3.8 1.9 1.9 1.9 1.9 3.8 17.1 3.8 17.1 1.9 5.7 1.9 9.5 1.9 1.9 1.9 9.5 3.8 7.6 1.9 7.6 1.9 1.9" fill="none"/>
<path d="M71.5 299.4H525.4" stroke="#0098ff" stroke-width="2.4" stroke-dasharray="0 3.8 1.9 13.3 3.8 3.8 1.9 15.2 1.9 3.8 1.9 19 1.9 5.7 3.8 28.5 5.7 5.7 1.9 3.8 1.9 3.8 1.9 20.9 1.9 20.9 1.9 17.1 1.9 11.4 1.9 3.8 1.9 1.9 3.8 34.2 1.9 34.2 1.9 3.8 1.9 19 1.9 1.9 1.9 17.1 1.9 1.9 1.9 7.6 1.9 5.7 1.9 1.9 1.9 11.4 1.9 1.9 1.9 20.9 1.9 11.4 1.9 15.2 1.9 3.8 1.9 5.7 1.9 0" fill="none"/>
<path d="M71.5 299.4H525.4" stroke="#ff00ff" stroke-width="2.4" stroke-dasharray="0 298.3 1.9 153.9" fill="none"/>
<path d="M71.5 302.6H525.4" stroke="#00e8f0" stroke-width="4.6" stroke-dasharray="0 19 3.8 24.7 1.9 13.3 1.9 30.4 1.9 11.4 1.9 17.1 1.9 39.9 1.9 1.9 1.9 13.3 3.8 22.8 1.9 13.3 3.8 13.3 3.8 32.3 1.9 9.5 1.9 15.2 1.9 28.5 1.9 19 1.9 89.3" fill="none"/>
<path d="M71.5 302.6H525.4" stroke="#0098ff" stroke-width="4.6" stroke-dasharray="1.9 20.9 3.8 11.4 1.9 24.7 3.8 9.5 5.7 7.6 3.8 5.7 1.9 20.9 3.8 1.9 1.9 1.9 1.9 15.2 1.9 1.9 1.9 5.7 1.9 19 1.9 1.9 1.9 3.8 1.9 1.9 1.9 3.8 1.9 5.7 3.8 9.5 1.9 9.5 1.9 3.8 1.9 13.3 1.9 1.9 3.8 5.7 1.9 5.7 1.9 3.8 1.9 17.1 1.9 3.8 1.9 5.7 3.8 1.9 1.9 5.7 1.9 1.9 7.6 9.5 1.9 7.6 1.9 1.9 1.9 3.8 3.8 1.9 1.9 7.6 3.8 1.9 3.8 11.4 1.9 17.1 5.7 9.5 1.9 1.9 1.9 11.4" fill="none"/>
<path d="M71.5 302.6H525.4" stroke="#ff00ff" stroke-width="4.6" stroke-dasharray="0 15.2 1.9 19 1.9 11.4 3.8 1.9 1.9 1.9 1.9 9.5 1.9 13.3 1.9 26.6 1.9 3.8 3.8 17.1 1.9 1.9 1.9 1.9 1.9 9.5 1.9 19 1.9 17.1 1.9 3.8 1.9 13.3 1.9 13.3 3.8 3.8 1.9 5.7 3.8 11.4 1.9 17.1 1.9 83.6 1.9 3.8 1.9 30.4 1.9 3.8 1.9 38" fill="none"/>
<path d="M71.5 302.6H525.4" stroke="#6000ff" stroke-width="4.6" stroke-dasharray="0 60.8 1.9 11.4 3.8 20.9 1.9 5.7 1.9 30.4 1.9 22.8 1.9 1.9 1.9 9.5 1.9 22.8 1.9 13.3 1.9 24.7 1.9 17.1 1.9 3.8 1.9 20.9 1.9 9.5 1.9 22.8 1.9 66.5 1.9 5.7 1.9 22.8 3.8 17.1 3.8 0" fill="none"/>
<path d="M71.5 306.9H525.4" stroke="#00e8f0" stroke-width="4.6" stroke-dasharray="0 5.7 1.9 17.1 1.9 13.3 1.9 3.8 1.9 24.7 1.9 34.2 1.9 22.8 1.9 150.1 1.9 17.1 1.9 7.6 1.9 9.5 1.9 57 1.9 36.1 1.9 5.7 1.9 3.8 1.9 17.1" fill="none"/>
<path d="M71.5 306.9H525.4" stroke="#0098ff" stroke-width="4.6" stroke-dasharray="0 1.9 1.9 5.7 1.9 11.4 1.9 9.5 3.8 9.5 1.9 1.9 1.9 3.8 1.9 30.4 1.9 9.5 1.9 9.5 1.9 7.6 1.9 3.8 3.8 3.8 1.9 5.7 1.9 15.2 3.8 1.9 1.9 5.7 1.9 1.9 1.9 9.5 1.9 3.8 1.9 5.7 1.9 3.8 1.9 1.9 1.9 17.1 3.8 15.2 3.8 1.9 1.9 19 3.8 15.2 1.9 1.9 1.9 7.6 1.9 11.4 1.9 7.6 1.9 17.1 1.9 5.7 3.8 7.6 3.8 15.2 1.9 3.8 1.9 3.8 1.9 3.8 1.9 13.3 1.9 1.9 1.9 1.9 1.9 24.7" fill="none"/>
<path d="M71.5 306.9H525.4" stroke="#ff00ff" stroke-width="4.6" stroke-dasharray="0 7.6 1.9 3.8 1.9 13.3 1.9 22.8 1.9 5.7 1.9 15.2 1.9 5.7 1.9 3.8 1.9 1.9 1.9 9.5 1.9 5.7 1.9 9.5 1.9 13.3 1.9 11.4 3.8 5.7 1.9 1.9 1.9 5.7 1.9 15.2 1.9 34.2 1.9 11.4 1.9 9.5 1.9 3.8 1.9 13.3 1.9 7.6 1.9 3.8 1.9 5.7 1.9 1.9 3.8 1.9 1.9 1.9 3.8 24.7 1.9 13.3 1.9 7.6 1.9 7.6 1.9 20.9 3.8 1.9 1.9 5.7 1.9 7.6 1.9 5.7 1.9 3.8 1.9 11.4 1.9 1.9 1.9 1.9 1.9 0" fill="none"/>
<path d="M71.5 306.9H525.4" stroke="#6000ff" stroke-width="4.6" stroke-dasharray="0 15.2 1.9 15.2 1.9 7.6 3.8 9.5 1.9 5.7 1.9 22.8 1.9 34.2 1.9 32.3 1.9 30.4 1.9 5.7 1.9 3.8 1.9 11.4 1.9 20.9 1.9 1.9 1.9 1.9 1.9 91.2 1.9 19 1.9 70.3 1.9 19" fill="none"/>
<path d="M71.5 311.2H525.4" stroke="#00e8f0" stroke-width="4.6" stroke-dasharray="0 45.6 1.9 7.6 1.9 49.4 1.9 19 1.9 77.9 1.9 34.2 1.9 36.1 1.9 5.7 1.9 43.7 1.9 17.1 3.8 70.3 3.8 22.8" fill="none"/>
<path d="M71.5 311.2H525.4" stroke="#0098ff" stroke-width="4.6" stroke-dasharray="1.9 9.5 1.9 1.9 1.9 3.8 1.9 9.5 3.8 24.7 1.9 11.4 1.9 17.1 1.9 15.2 1.9 1.9 1.9 5.7 1.9 15.2 3.8 13.3 1.9 1.9 1.9 1.9 1.9 13.3 3.8 7.6 1.9 3.8 1.9 7.6 1.9 11.4 1.9 28.5 1.9 24.7 3.8 3.8 1.9 1.9 1.9 3.8 1.9 7.6 3.8 15.2 1.9 9.5 1.9 3.8 1.9 5.7 1.9 13.3 1.9 24.7 1.9 1.9 1.9 1.9 1.9 7.6 1.9 19 1.9 9.5 1.9 15.2" fill="none"/>
<path d="M71.5 311.2H525.4" stroke="#ff00ff" stroke-width="4.6" stroke-dasharray="0 1.9 1.9 1.9 1.9 9.5 1.9 38 1.9 3.8 1.9 1.9 1.9 11.4 1.9 1.9 1.9 11.4 1.9 24.7 1.9 22.8 1.9 3.8 1.9 5.7 1.9 3.8 1.9 5.7 1.9 5.7 3.8 1.9 1.9 1.9 1.9 9.5 1.9 15.2 1.9 5.7 1.9 3.8 1.9 9.5 1.9 15.2 1.9 34.2 1.9 9.5 3.8 1.9 1.9 30.4 1.9 7.6 1.9 7.6 3.8 1.9 1.9 3.8 5.7 1.9 1.9 15.2 1.9 7.6 1.9 9.5 1.9 22.8 1.9 1.9 1.9 0" fill="none"/>
<path d="M71.5 311.2H525.4" stroke="#6000ff" stroke-width="4.6" stroke-dasharray="0 13.3 1.9 85.5 1.9 112.1 1.9 68.4 1.9 30.4 1.9 11.4 1.9 11.4 1.9 53.2 1.9 53.2" fill="none"/>
</g>
<path d="M88.8 244.5v3.5M88.8 313.4v-3.5M107.1 244.5v3.5M107.1 313.4v-3.5M125.4 244.5v10.4M125.4 313.4v-10.4M143.7 244.5v3.5M143.7 313.4v-3.5M162 244.5v3.5M162 313.4v-3.5M180.3 244.5v3.5M180.3 313.4v-3.5M198.6 244.5v3.5M198.6 313.4v-3.5M216.8 244.5v10.4M216.8 313.4v-10.4M235.1 244.5v3.5M235.1 313.4v-3.5M253.4 244.5v3.5M253.4 313.4v-3.5M271.7 244.5v3.5M271.7 313.4v-3.5M290 244.5v3.5M290 313.4v-3.5M308.3 244.5v10.4M308.3 313.4v-10.4M326.6 244.5v3.5M326.6 313.4v-3.5M344.9 244.5v3.5M344.9 313.4v-3.5M363.2 244.5v3.5M363.2 313.4v-3.5M381.5 244.5v3.5M381.5 313.4v-3.5M399.8 244.5v10.4M399.8 313.4v-10.4M418 244.5v3.5M418 313.4v-3.5M436.3 244.5v3.5M436.3 313.4v-3.5M454.6 244.5v3.5M454.6 313.4v-3.5M472.9 244.5v3.5M472.9 313.4v-3.5M491.2 244.5v10.4M491.2 313.4v-10.4M509.5 244.5v3.5M509.5 313.4v-3.5" stroke="#2a2a2a" stroke-width="1.1" fill="none"/>
<rect x="71.5" y="244.5" width="453.9" height="68.9" fill="none" stroke="#1c1c1c" stroke-width="1.15"/>
<line x1="71" y1="244.5" x2="525.9" y2="244.5" stroke="#000" stroke-width="1.35" />
<line x1="71" y1="313.4" x2="525.9" y2="313.4" stroke="#000" stroke-width="1.35" />
<path d="M71.5 301.9h5M525.4 301.9h-5M71.5 286.2h5M525.4 286.2h-5M71.5 270.5h5M525.4 270.5h-5M71.5 254.8h5M525.4 254.8h-5M71.5 312.9h2.6M525.4 312.9h-2.6M71.5 310.1h2.6M525.4 310.1h-2.6M71.5 308.1h2.6M525.4 308.1h-2.6M71.5 306.6h2.6M525.4 306.6h-2.6M71.5 305.4h2.6M525.4 305.4h-2.6M71.5 304.3h2.6M525.4 304.3h-2.6M71.5 303.4h2.6M525.4 303.4h-2.6M71.5 302.6h2.6M525.4 302.6h-2.6M71.5 297.2h2.6M525.4 297.2h-2.6M71.5 294.4h2.6M525.4 294.4h-2.6M71.5 292.4h2.6M525.4 292.4h-2.6M71.5 290.9h2.6M525.4 290.9h-2.6M71.5 289.7h2.6M525.4 289.7h-2.6M71.5 288.6h2.6M525.4 288.6h-2.6M71.5 287.7h2.6M525.4 287.7h-2.6M71.5 286.9h2.6M525.4 286.9h-2.6M71.5 281.5h2.6M525.4 281.5h-2.6M71.5 278.7h2.6M525.4 278.7h-2.6M71.5 276.7h2.6M525.4 276.7h-2.6M71.5 275.2h2.6M525.4 275.2h-2.6M71.5 274h2.6M525.4 274h-2.6M71.5 272.9h2.6M525.4 272.9h-2.6M71.5 272h2.6M525.4 272h-2.6M71.5 271.2h2.6M525.4 271.2h-2.6M71.5 265.8h2.6M525.4 265.8h-2.6M71.5 263h2.6M525.4 263h-2.6M71.5 261h2.6M525.4 261h-2.6M71.5 259.5h2.6M525.4 259.5h-2.6M71.5 258.3h2.6M525.4 258.3h-2.6M71.5 257.2h2.6M525.4 257.2h-2.6M71.5 256.3h2.6M525.4 256.3h-2.6M71.5 255.5h2.6M525.4 255.5h-2.6M71.5 250.1h2.6M525.4 250.1h-2.6M71.5 247.3h2.6M525.4 247.3h-2.6M71.5 245.3h2.6M525.4 245.3h-2.6" stroke="#111" stroke-width="1.1" fill="none"/>
<text x="527.8" y="306.3" font-size="10.4" text-anchor="start" fill="#000" >10<tspan dy="-4.4" font-size="7.8">1</tspan><tspan dy="4.4" font-size="1">&#8203;</tspan></text>
<text x="527.8" y="290.6" font-size="10.4" text-anchor="start" fill="#000" >10<tspan dy="-4.4" font-size="7.8">2</tspan><tspan dy="4.4" font-size="1">&#8203;</tspan></text>
<text x="527.8" y="274.9" font-size="10.4" text-anchor="start" fill="#000" >10<tspan dy="-4.4" font-size="7.8">3</tspan><tspan dy="4.4" font-size="1">&#8203;</tspan></text>
<text x="527.8" y="259.2" font-size="10.4" text-anchor="start" fill="#000" >10<tspan dy="-4.4" font-size="7.8">4</tspan><tspan dy="4.4" font-size="1">&#8203;</tspan></text>
<text x="558.3" y="279" font-size="11" text-anchor="middle" fill="#000" transform="rotate(-90 558.3 279)" >Energy (eV)</text>
<line x1="247.2" y1="316.5" x2="247.2" y2="380" stroke="#40c0ff" stroke-width="1.4" stroke-dasharray="1.5 3"/>
<line x1="112.5" y1="316.5" x2="112.5" y2="380.5" stroke="#ff0000" stroke-width="1.2" stroke-dasharray="8.8 4.8"/>
<line x1="127.7" y1="316.5" x2="127.7" y2="380.5" stroke="#3434ff" stroke-width="1.5" stroke-dasharray="1.8 2.7"/>
<line x1="300.7" y1="316.5" x2="300.7" y2="380.5" stroke="#ff0000" stroke-width="1.2" stroke-dasharray="8.8 4.8"/>
<line x1="342.2" y1="316.5" x2="342.2" y2="380.5" stroke="#ff20ff" stroke-width="1.55" stroke-dasharray="1.7 3.0"/>
<line x1="394.5" y1="316.5" x2="394.5" y2="380.5" stroke="#10b010" stroke-width="1.3" stroke-dasharray="8.8 4.8"/>
<polyline points="72.1,351.2 73.5,360.4 74.8,352 76.2,342.8 77.6,348.2 78.9,354.4 80.3,333.3 81.7,344.5 83,341.7 84.4,331.2 85.8,356.3 87.1,345.3 88.5,334.8 89.9,353.7 91.2,339.7 92.6,334.4 94,338.5 95.4,340 96.7,350 98.1,336.6 99.5,339.9 100.8,340.8 102.2,331.9 103.6,336.6 104.9,346.3 106.3,332.9 107.7,339.8 109,340.4 110.4,329.1 111.8,335 113.1,347.5 114.5,335.8 115.9,334 117.2,342.9 118.6,338.2 120,335.1 121.3,337.4 122.7,341.1 124.1,330.6 125.4,337.3 126.8,336.5 128.2,323.5 129.5,337.3 130.9,339.9 132.3,333.7 133.6,336.7 135,332.1 136.4,327.8 137.7,341.8 139.1,344.3 140.5,342.5 141.9,329 143.2,332.9 144.6,342.6 146,338.4 147.3,334 148.7,346.5 150.1,338.8 151.4,342.4 152.8,350.9 154.2,338.7 155.5,354.7 156.9,354.9 158.3,342.6 159.6,345.4 161,351.5 162.4,349.4 163.7,358.5 165.1,346.2 166.5,359.6 167.8,358.6 169.2,346.4 170.6,352 171.9,370.9 173.3,348 174.7,362.2 176,366 177.4,356.9 178.8,364.5 180.1,359.5 181.5,356.2 182.9,368.5 184.2,365.7 185.6,354.8 187,364.7 188.4,368 189.7,350 191.1,364.2 192.5,359.6 193.8,352.2 195.2,358.6 196.6,346.1 197.9,366 199.3,357.8 200.7,349 202,364 203.4,349.8 204.8,358.7 206.1,355 207.5,344.7 208.9,357.6 210.2,358.6 211.6,348.3 213,359.4 214.3,345.3 215.7,316 217.1,345.1 218.4,346 219.8,340.6 221.2,353.5 222.5,346.3 223.9,347.3 225.3,359.7 226.6,342.5 228,353 229.4,343.8 230.8,343.4 232.1,358.9 233.5,344.7 234.9,339 236.2,342.8 237.6,347.2 239,345.9 240.3,332.7 241.7,337.4 243.1,345.4 244.4,329.3 245.8,331.9 247.2,324.1 248.5,328.4 249.9,329.3 251.3,330.2 252.6,348.2 254,340.8 255.4,342.3 256.7,354.1 258.1,350.8 259.5,338.2 260.8,347.2 262.2,342.3 263.6,342.9 264.9,340.7 266.3,335.2 267.7,337.8 269,339 270.4,328.1 271.8,320.4 273.1,333.1 274.5,336.2 275.9,321.8 277.3,330.6 278.6,335.5 280,315.3 281.4,339.7 282.7,338.5 284.1,323.7 285.5,340.6 286.8,354.5 288.2,330.3 289.6,330.5 290.9,345.3 292.3,338.3 293.7,343 295,349.1 296.4,338.7 297.8,339.4 299.1,340.6 300.5,326.2 301.9,323.1 303.2,347.4 304.6,342.7 306,341.7 307.3,358.7 308.7,339.7 310.1,352.3 311.4,346.5 312.8,337.8 314.2,362.8 315.5,351.6 316.9,342.7 318.3,354.2 319.6,359.7 321,349 322.4,350.5 323.8,358.4 325.1,358.4 326.5,348.8 327.9,350.7 329.2,363.2 330.6,343.5 332,360.3 333.3,354.2 334.7,341.1 336.1,362.6 337.4,361.4 338.8,360.2 340.2,366.3 341.5,359.6 342.9,358 344.3,370.9 345.6,352.7 347,354.9 348.4,360.5 349.7,356.8 351.1,378.6 352.5,380.4 353.8,357.8 355.2,377 356.6,373.7 357.9,359.4 359.3,371.6 360.7,374.1 362,360.6 363.4,366.8 364.8,369.6 366.1,372.1 367.5,354 368.9,366.4 370.3,346 371.6,356.1 373,362.2 374.4,355.4 375.7,352.5 377.1,358.7 378.5,357.1 379.8,345.6 381.2,349.9 382.6,353.3 383.9,345.1 385.3,351.8 386.7,359.2 388,336.2 389.4,350.8 390.8,353.4 392.1,344.9 393.5,339 394.9,346.6 396.2,349.7 397.6,339.9 399,342.7 400.3,345.3 401.7,337.7 403.1,337.2 404.4,344.6 405.8,347 407.2,340 408.5,349.8 409.9,339.5 411.3,343.1 412.7,343.6 414,337.6 415.4,345.1 416.8,340.9 418.1,330 419.5,338.6 420.9,339.2 422.2,328.7 423.6,336.3 425,337.4 426.3,328.3 427.7,339.6 429.1,331.4 430.4,334.2 431.8,339.7 433.2,332.6 434.5,334.7 435.9,339 437.3,339.6 438.6,327.9 440,339.8 441.4,342.1 442.7,332.9 444.1,328.5 445.5,343.8 446.8,341.5 448.2,342.9 449.6,350.8 450.9,337.6 452.3,341.3 453.7,358.3 455,343.7 456.4,355.7 457.8,358.2 459.2,344.5 460.5,351.4 461.9,351.2 463.3,352.2 464.6,333.1 466,354.1 467.4,344.8 468.7,344.1 470.1,354.2 471.5,340.7 472.8,347 474.2,362.6 475.6,352.8 476.9,349.5 478.3,366.4 479.7,356.6 481,361.5 482.4,364.2 483.8,358.4 485.1,349.6 486.5,364.5 487.9,353.8 489.2,356.8 490.6,366.1 492,370 493.3,344.1 494.7,363.8 496.1,348.3 497.4,351.5 498.8,365.3 500.2,357.7 501.5,348.3 502.9,374.7 504.3,350.1 505.7,355.8 507,365.8 508.4,357.4 509.8,335.7 511.1,355.3 512.5,346.7 513.9,338.6 515.2,356.3 516.6,344.7 518,342.4 519.3,357.1 520.7,357.1 522.1,351.6 523.4,364.2 524.8,356.3" fill="none" stroke="#333" stroke-width="0.95" stroke-linejoin="round" />
<line x1="77" y1="317.3" x2="93.2" y2="317.3" stroke="#28c028" stroke-width="1.4" stroke-dasharray="4 3"/>
<text x="93.8" y="320.4" font-size="8.9" text-anchor="start" fill="#28c028" >t HT</text>
<line x1="77" y1="324.1" x2="93.2" y2="324.1" stroke="#60c4ff" stroke-width="1.3" stroke-dasharray="1 .8"/>
<text x="93.8" y="327.2" font-size="8.9" text-anchor="start" fill="#60c4ff" >t vmax</text>
<line x1="77" y1="330.8" x2="93.2" y2="330.8" stroke="#ff2020" stroke-width="1.4" stroke-dasharray="4 3"/>
<text x="93.8" y="333.9" font-size="8.9" text-anchor="start" fill="#ff2020" >t cs</text>
<line x1="77" y1="337.5" x2="93.2" y2="337.5" stroke="#3030ff" stroke-width="1.3" stroke-dasharray="1 .8"/>
<text x="93.8" y="340.6" font-size="8.9" text-anchor="start" fill="#3030ff" >t dvmax</text>
<line x1="77" y1="344.4" x2="93.2" y2="344.4" stroke="#222" stroke-width="1.1" />
<text x="93.8" y="347.5" font-size="8.9" text-anchor="start" fill="#111" >|V<tspan dy="2" font-size="6">i</tspan><tspan dy="-2" font-size="1">&#8203;</tspan>|</text>
<path d="M88.8 313.4v3.5M88.8 381.4v-3.5M107.1 313.4v3.5M107.1 381.4v-3.5M125.4 313.4v10.4M125.4 381.4v-10.4M143.7 313.4v3.5M143.7 381.4v-3.5M162 313.4v3.5M162 381.4v-3.5M180.3 313.4v3.5M180.3 381.4v-3.5M198.6 313.4v3.5M198.6 381.4v-3.5M216.8 313.4v10.4M216.8 381.4v-10.4M235.1 313.4v3.5M235.1 381.4v-3.5M253.4 313.4v3.5M253.4 381.4v-3.5M271.7 313.4v3.5M271.7 381.4v-3.5M290 313.4v3.5M290 381.4v-3.5M308.3 313.4v10.4M308.3 381.4v-10.4M326.6 313.4v3.5M326.6 381.4v-3.5M344.9 313.4v3.5M344.9 381.4v-3.5M363.2 313.4v3.5M363.2 381.4v-3.5M381.5 313.4v3.5M381.5 381.4v-3.5M399.8 313.4v10.4M399.8 381.4v-10.4M418 313.4v3.5M418 381.4v-3.5M436.3 313.4v3.5M436.3 381.4v-3.5M454.6 313.4v3.5M454.6 381.4v-3.5M472.9 313.4v3.5M472.9 381.4v-3.5M491.2 313.4v10.4M491.2 381.4v-10.4M509.5 313.4v3.5M509.5 381.4v-3.5" stroke="#2a2a2a" stroke-width="1.1" fill="none"/>
<rect x="71.5" y="313.4" width="453.9" height="68.1" fill="none" stroke="#1c1c1c" stroke-width="1.15"/>
<line x1="71" y1="313.4" x2="525.9" y2="313.4" stroke="#000" stroke-width="1.35" />
<line x1="71" y1="381.4" x2="525.9" y2="381.4" stroke="#000" stroke-width="1.35" />
<path d="M71.5 381.2h5.8M525.4 381.2h-5.8M71.5 367h5.8M525.4 367h-5.8M71.5 352.9h5.8M525.4 352.9h-5.8M71.5 338.7h5.8M525.4 338.7h-5.8M71.5 324.5h5.8M525.4 324.5h-5.8M71.5 381.2h2.6M525.4 381.2h-2.6M71.5 378.4h2.6M525.4 378.4h-2.6M71.5 375.5h2.6M525.4 375.5h-2.6M71.5 372.7h2.6M525.4 372.7h-2.6M71.5 369.9h2.6M525.4 369.9h-2.6M71.5 367h2.6M525.4 367h-2.6M71.5 364.2h2.6M525.4 364.2h-2.6M71.5 361.4h2.6M525.4 361.4h-2.6M71.5 358.5h2.6M525.4 358.5h-2.6M71.5 355.7h2.6M525.4 355.7h-2.6M71.5 352.9h2.6M525.4 352.9h-2.6M71.5 350h2.6M525.4 350h-2.6M71.5 347.2h2.6M525.4 347.2h-2.6M71.5 344.3h2.6M525.4 344.3h-2.6M71.5 341.5h2.6M525.4 341.5h-2.6M71.5 338.7h2.6M525.4 338.7h-2.6M71.5 335.8h2.6M525.4 335.8h-2.6M71.5 333h2.6M525.4 333h-2.6M71.5 330.2h2.6M525.4 330.2h-2.6M71.5 327.3h2.6M525.4 327.3h-2.6M71.5 324.5h2.6M525.4 324.5h-2.6M71.5 321.7h2.6M525.4 321.7h-2.6M71.5 318.8h2.6M525.4 318.8h-2.6M71.5 316h2.6M525.4 316h-2.6" stroke="#111" stroke-width="1.1" fill="none"/>
<text x="68.3" y="384.9" font-size="10.5" text-anchor="end" fill="#000" >0</text>
<text x="68.3" y="370.7" font-size="10.5" text-anchor="end" fill="#000" >10</text>
<text x="68.3" y="356.6" font-size="10.5" text-anchor="end" fill="#000" >20</text>
<text x="68.3" y="342.4" font-size="10.5" text-anchor="end" fill="#000" >30</text>
<text x="68.3" y="328.2" font-size="10.5" text-anchor="end" fill="#000" >40</text>
<text x="42.5" y="347.4" font-size="11.5" text-anchor="middle" fill="#000" transform="rotate(-90 42.5 347.4)" >| V<tspan dy="3.8" font-size="8.3">i</tspan><tspan dy="-3.8" font-size="1">&#8203;</tspan> | [km/s]</text>
<line x1="112.5" y1="385" x2="112.5" y2="449" stroke="#ff0000" stroke-width="1.2" stroke-dasharray="8.8 4.8"/>
<line x1="127.7" y1="385" x2="127.7" y2="449" stroke="#3434ff" stroke-width="1.5" stroke-dasharray="1.8 2.7"/>
<line x1="300.7" y1="385" x2="300.7" y2="449" stroke="#ff0000" stroke-width="1.2" stroke-dasharray="8.8 4.8"/>
<line x1="342.2" y1="385" x2="342.2" y2="449" stroke="#ff20ff" stroke-width="1.55" stroke-dasharray="1.7 3.0"/>
<line x1="394.5" y1="385" x2="394.5" y2="449" stroke="#10b010" stroke-width="1.3" stroke-dasharray="8.8 4.8"/>
<polyline points="72.1,413.9 73.5,424.9 74.8,406.5 76.2,414.2 77.6,422.5 78.9,412.5 80.3,406.5 81.7,412.8 83,402.3 84.4,410.2 85.8,406.5 87.1,394.6 88.5,406.3 89.9,396.6 91.2,402.7 92.6,405.8 94,396.6 95.4,399.5 96.7,417.3 98.1,409.9 99.5,393.1 100.8,414.4 102.2,401.7 103.6,402 104.9,400.5 106.3,412.9 107.7,417.9 109,406.2 110.4,392.9 111.8,404.4 113.1,400.7 114.5,397.4 115.9,399.5 117.2,401 118.6,391.3 120,397 121.3,407.2 122.7,390.9 124.1,389.7 125.4,390.7 126.8,384.9 128.2,391.6 129.5,392.2 130.9,395.1 132.3,394.4 133.6,396 135,400.4 136.4,400.5 137.7,396.1 139.1,406.6 140.5,405.1 141.9,403.7 143.2,395.2 144.6,413.6 146,410.5 147.3,399.7 148.7,406.4 150.1,407.6 151.4,405.8 152.8,402.5 154.2,404.9 155.5,402.2 156.9,402.2 158.3,409.1 159.6,408.4 161,410.2 162.4,406.5 163.7,405.7 165.1,414.6 166.5,416.7 167.8,403.1 169.2,407.9 170.6,415.6 171.9,420.3 173.3,410.3 174.7,407.8 176,407.5 177.4,413.6 178.8,412.2 180.1,409.8 181.5,419.1 182.9,421.3 184.2,407.2 185.6,415 187,406.2 188.4,408.7 189.7,415.6 191.1,407.1 192.5,408 193.8,420.2 195.2,411.5 196.6,419 197.9,414.8 199.3,417.2 200.7,419.5 202,414.7 203.4,411.9 204.8,418 206.1,419.4 207.5,412.7 208.9,418.9 210.2,420.9 211.6,408.6 213,424.2 214.3,409.3 215.7,420.8 217.1,418.3 218.4,410.4 219.8,422.5 221.2,415.8 222.5,410.6 223.9,415.2 225.3,417.6 226.6,413.6 228,412.5 229.4,412.8 230.8,409.9 232.1,406.4 233.5,405.1 234.9,406.8 236.2,400.9 237.6,404.7 239,400.7 240.3,407.2 241.7,401.2 243.1,395.6 244.4,410.7 245.8,401.7 247.2,392.8 248.5,385.1 249.9,387.2 251.3,392.6 252.6,402.6 254,397.4 255.4,390.4 256.7,401.5 258.1,397.9 259.5,400.5 260.8,405.4 262.2,398.7 263.6,398.5 264.9,403.2 266.3,394.1 267.7,388.2 269,404.8 270.4,394.5 271.8,395.4 273.1,398 274.5,387.1 275.9,384.4 277.3,388.3 278.6,390.8 280,382.4 281.4,399.6 282.7,390.3 284.1,395.5 285.5,386.2 286.8,391.1 288.2,401.5 289.6,398.5 290.9,388 292.3,390.1 293.7,389.6 295,393.7 296.4,393.9 297.8,394.5 299.1,390.7 300.5,396.6 301.9,391.1 303.2,397.4 304.6,399.5 306,398.9 307.3,401.3 308.7,395.8 310.1,390.6 311.4,400.4 312.8,399.1 314.2,398.2 315.5,405.7 316.9,411.6 318.3,406.6 319.6,406.4 321,409.9 322.4,408.8 323.8,412.8 325.1,409.2 326.5,413.2 327.9,413.4 329.2,414.7 330.6,426 332,416.8 333.3,417.4 334.7,420.8 336.1,417.2 337.4,415.8 338.8,421.2 340.2,426.6 341.5,418.6 342.9,422.4 344.3,421.5 345.6,420.4 347,417.6 348.4,426.5 349.7,414.6 351.1,428.3 352.5,410.7 353.8,421.2 355.2,426.8 356.6,420.1 357.9,416.8 359.3,428.9 360.7,422 362,426.8 363.4,440.7 364.8,432.7 366.1,424.1 367.5,436.9 368.9,425.2 370.3,422.1 371.6,431 373,426 374.4,423.2 375.7,432.4 377.1,429.7 378.5,424.8 379.8,424.1 381.2,432.9 382.6,424.8 383.9,430.6 385.3,425.1 386.7,416.8 388,421.8 389.4,429.8 390.8,425 392.1,433.8 393.5,432.2 394.9,424.3 396.2,415.1 397.6,424.2 399,433.9 400.3,425.8 401.7,413.5 403.1,428.4 404.4,427 405.8,417.3 407.2,418.6 408.5,427.1 409.9,412 411.3,409.3 412.7,416.7 414,400.6 415.4,406.9 416.8,411 418.1,406.6 419.5,412 420.9,405.1 422.2,410.9 423.6,411.9 425,406.4 426.3,404.9 427.7,403.3 429.1,402.4 430.4,406 431.8,405 433.2,402.2 434.5,393.6 435.9,398.4 437.3,400.7 438.6,397.3 440,395.5 441.4,405.1 442.7,404.3 444.1,394.4 445.5,410.2 446.8,405 448.2,401.4 449.6,402.9 450.9,410 452.3,405.4 453.7,404.5 455,395.8 456.4,406.4 457.8,406.1 459.2,403.6 460.5,401.2 461.9,400 463.3,400.5 464.6,400.5 466,399.9 467.4,401.5 468.7,398 470.1,406.3 471.5,403.1 472.8,386.6 474.2,401.5 475.6,402.5 476.9,396 478.3,409.7 479.7,404.9 481,407.9 482.4,414.1 483.8,415.1 485.1,407.3 486.5,413.6 487.9,416.1 489.2,420.5 490.6,415.2 492,415.6 493.3,410.3 494.7,409.4 496.1,418.4 497.4,421.4 498.8,409.7 500.2,421.3 501.5,416.8 502.9,414.5 504.3,413.5 505.7,420 507,425.2 508.4,419.7 509.8,426.7 511.1,430.1 512.5,429.2 513.9,422.8 515.2,423.8 516.6,426.8 518,419.3 519.3,414.6 520.7,428.7 522.1,420.5 523.4,423.7 524.8,435.8" fill="none" stroke="#2828ff" stroke-width="0.95" stroke-linejoin="round" />
<polyline points="72.1,430.3 73.5,440.1 74.8,434.9 76.2,435.5 77.6,444.3 78.9,433.9 80.3,436.8 81.7,439.3 83,440.9 84.4,432.5 85.8,437.9 87.1,442.1 88.5,429.6 89.9,436 91.2,442 92.6,431.5 94,436.2 95.4,431.3 96.7,437 98.1,441.7 99.5,430.8 100.8,437.5 102.2,439.9 103.6,428.5 104.9,437 106.3,426.3 107.7,427.5 109,440.2 110.4,425.1 111.8,436.5 113.1,432 114.5,424.4 115.9,428.1 117.2,433.9 118.6,428.6 120,435.8 121.3,428.3 122.7,428.8 124.1,427 125.4,422.4 126.8,433.8 128.2,425.4 129.5,432.3 130.9,427.7 132.3,421.3 133.6,436.4 135,435.5 136.4,423.1 137.7,430.3 139.1,429.9 140.5,423.8 141.9,432.3 143.2,421.1 144.6,423.2 146,428.3 147.3,425.1 148.7,431.8 150.1,423.5 151.4,422.2 152.8,424.3 154.2,423.5 155.5,422.4 156.9,428.6 158.3,423 159.6,417.6 161,415 162.4,421.6 163.7,416.3 165.1,420.2 166.5,423 167.8,419.3 169.2,426.5 170.6,418.8 171.9,410 173.3,422.5 174.7,414 176,421.3 177.4,418.2 178.8,421.8 180.1,414 181.5,422.6 182.9,426.5 184.2,421 185.6,423.6 187,427 188.4,426.8 189.7,423.3 191.1,429.2 192.5,428.4 193.8,422.7 195.2,431.7 196.6,425.4 197.9,425.2 199.3,429.3 200.7,431.5 202,427.9 203.4,432 204.8,433.5 206.1,424.7 207.5,428.5 208.9,441.2 210.2,432.1 211.6,431.3 213,448.3 214.3,439.5 215.7,443.1 217.1,440.9 218.4,439.2 219.8,435.8 221.2,430.8 222.5,436.5 223.9,442.6 225.3,436.7 226.6,432.3 228,438.8 229.4,432.9 230.8,437.6 232.1,448.5 233.5,435.4 234.9,436.6 236.2,440.8 237.6,439.4 239,436.6 240.3,440.5 241.7,443.8 243.1,438.1 244.4,436.4 245.8,447.2 247.2,448.8 248.5,434.8 249.9,441.7 251.3,436 252.6,438.3 254,441.1 255.4,432.8 256.7,442.8 258.1,434.6 259.5,423.8 260.8,435.5 262.2,435.5 263.6,431.8 264.9,430.8 266.3,436 267.7,427.8 269,429.7 270.4,433.7 271.8,423.6 273.1,433.4 274.5,426.1 275.9,430.9 277.3,436.7 278.6,431.1 280,423.2 281.4,427 282.7,428.2 284.1,428.4 285.5,436.4 286.8,428.3 288.2,430 289.6,427.4 290.9,420.5 292.3,426 293.7,433.1 295,423.6 296.4,424.9 297.8,429.5 299.1,423.6 300.5,424.4 301.9,428.7 303.2,418.5 304.6,421.1 306,422.5 307.3,419.4 308.7,425.2 310.1,419.4 311.4,420.7 312.8,422 314.2,416.4 315.5,421 316.9,423 318.3,422.9 319.6,415 321,418.4 322.4,415.2 323.8,418.8 325.1,420.3 326.5,421.6 327.9,408.5 329.2,412.2 330.6,419.4 332,414.7 333.3,417.6 334.7,418.1 336.1,425.4 337.4,416.5 338.8,413.9 340.2,421 341.5,412.8 342.9,412.8 344.3,424.3 345.6,418.5 347,418.6 348.4,424.1 349.7,423.8 351.1,418.2 352.5,430 353.8,417.7 355.2,422.1 356.6,424.8 357.9,420.2 359.3,426.9 360.7,423.8 362,424.7 363.4,426.6 364.8,427.8 366.1,432.9 367.5,418.8 368.9,432.8 370.3,431.4 371.6,414.8 373,423.6 374.4,429 375.7,434.3 377.1,427.3 378.5,428.2 379.8,431.9 381.2,426.6 382.6,427.1 383.9,431.6 385.3,423.8 386.7,425.6 388,427.8 389.4,427.8 390.8,422.1 392.1,432.4 393.5,418.8 394.9,421.8 396.2,428.9 397.6,426.5 399,421.8 400.3,424.2 401.7,426.6 403.1,417.9 404.4,435.9 405.8,418.2 407.2,413.7 408.5,412.7 409.9,423.9 411.3,418.7 412.7,420.8 414,426.2 415.4,416.5 416.8,420.1 418.1,417.6 419.5,425.1 420.9,422.1 422.2,415.9 423.6,426.6 425,429.2 426.3,424.9 427.7,433.1 429.1,429.8 430.4,421.1 431.8,433.7 433.2,435.5 434.5,421.9 435.9,428.8 437.3,436.8 438.6,434.8 440,435.8 441.4,428.3 442.7,433.1 444.1,436.7 445.5,423.9 446.8,425.5 448.2,434.7 449.6,425.4 450.9,426.8 452.3,430.6 453.7,422.5 455,416.1 456.4,431 457.8,424.1 459.2,419.5 460.5,419.9 461.9,424.3 463.3,423 464.6,425 466,419.3 467.4,412.7 468.7,426 470.1,411.4 471.5,410.1 472.8,422.7 474.2,407.1 475.6,413.4 476.9,414.2 478.3,412.3 479.7,404.3 481,416.1 482.4,410 483.8,402.6 485.1,420.1 486.5,406 487.9,398.6 489.2,407.9 490.6,396.8 492,402.3 493.3,408.5 494.7,400.8 496.1,400.4 497.4,406.5 498.8,399.6 500.2,405.4 501.5,412.3 502.9,403.8 504.3,408.7 505.7,404.5 507,394.2 508.4,403.1 509.8,402.1 511.1,399.8 512.5,396.4 513.9,406 515.2,394.5 516.6,393.8 518,399.6 519.3,401.7 520.7,403 522.1,407.8 523.4,405.5 524.8,405.6" fill="none" stroke="#38ff38" stroke-width="0.95" stroke-linejoin="round" />
<polyline points="72.1,416.4 73.5,423.7 74.8,417.7 76.2,426.2 77.6,423.6 78.9,413.4 80.3,419.5 81.7,421 83,414.7 84.4,418.4 85.8,415.1 87.1,414.1 88.5,416 89.9,416.4 91.2,421.9 92.6,422.1 94,412.5 95.4,418.5 96.7,418.8 98.1,404.2 99.5,412.8 100.8,418.3 102.2,408.9 103.6,410.4 104.9,418.3 106.3,410.4 107.7,411.3 109,412.9 110.4,406.5 111.8,409 113.1,410.6 114.5,405.1 115.9,404.2 117.2,401.8 118.6,399.2 120,405.3 121.3,402.8 122.7,402.2 124.1,406.4 125.4,392.8 126.8,399.6 128.2,406.4 129.5,395.9 130.9,401.9 132.3,401.6 133.6,398.2 135,393.5 136.4,404 137.7,393.9 139.1,399.6 140.5,397.1 141.9,393.8 143.2,397.9 144.6,398.3 146,392.6 147.3,389.8 148.7,404.9 150.1,395.7 151.4,399.7 152.8,401.7 154.2,396.5 155.5,402.9 156.9,405.1 158.3,398.1 159.6,400.7 161,405.1 162.4,403.8 163.7,401.7 165.1,404.9 166.5,405.2 167.8,401.7 169.2,401.5 170.6,407 171.9,404.6 173.3,403.1 174.7,403.6 176,410.4 177.4,402.2 178.8,400.2 180.1,406.3 181.5,415.1 182.9,407.6 184.2,409.3 185.6,412 187,406.9 188.4,408.8 189.7,417.2 191.1,409.7 192.5,406.2 193.8,409.1 195.2,412.4 196.6,407.1 197.9,404.5 199.3,424.3 200.7,414.2 202,413.9 203.4,414.1 204.8,420.2 206.1,410.1 207.5,419.1 208.9,420.3 210.2,414.5 211.6,414.8 213,421.2 214.3,412.1 215.7,414 217.1,417.7 218.4,411.4 219.8,414.3 221.2,418.5 222.5,414.9 223.9,423.4 225.3,421.6 226.6,416.7 228,422.1 229.4,421.5 230.8,423.4 232.1,425 233.5,422.1 234.9,420.2 236.2,413.5 237.6,431.9 239,420.3 240.3,426.1 241.7,423.8 243.1,422.1 244.4,424.9 245.8,423.5 247.2,418.7 248.5,430.1 249.9,426.4 251.3,421.9 252.6,425.3 254,425.2 255.4,418.6 256.7,427.1 258.1,421.9 259.5,420.8 260.8,428.4 262.2,417.9 263.6,419.7 264.9,420.6 266.3,415.9 267.7,423.5 269,425.4 270.4,411.6 271.8,417.5 273.1,421.9 274.5,416.1 275.9,410.5 277.3,416.3 278.6,409.5 280,412.7 281.4,419.7 282.7,415.8 284.1,409.5 285.5,417 286.8,411.5 288.2,410.7 289.6,414.8 290.9,411.6 292.3,407.1 293.7,414.7 295,414.9 296.4,398.3 297.8,410.5 299.1,406.7 300.5,403.5 301.9,407.4 303.2,415.4 304.6,400.9 306,404.3 307.3,413.5 308.7,415.5 310.1,404.4 311.4,410.9 312.8,405.7 314.2,404.7 315.5,413.9 316.9,408.7 318.3,400.1 319.6,406.5 321,410.2 322.4,400.8 323.8,404.2 325.1,406.1 326.5,391.3 327.9,399.1 329.2,403.7 330.6,398.2 332,403.6 333.3,400.5 334.7,398.8 336.1,399.9 337.4,394.9 338.8,399.1 340.2,405.3 341.5,406 342.9,404.5 344.3,408.2 345.6,407 347,405.3 348.4,410.1 349.7,415.4 351.1,408.8 352.5,411.9 353.8,410.2 355.2,418.3 356.6,412.1 357.9,426.1 359.3,415.6 360.7,411.6 362,424.9 363.4,415.4 364.8,420 366.1,425.6 367.5,423.1 368.9,423.5 370.3,426.5 371.6,417 373,425.9 374.4,428.8 375.7,423.9 377.1,430.2 378.5,423.3 379.8,423.6 381.2,430.5 382.6,426.6 383.9,423 385.3,430.4 386.7,429 388,434.3 389.4,433.6 390.8,431.6 392.1,433.7 393.5,438.6 394.9,431.9 396.2,437 397.6,439.9 399,433.4 400.3,443.9 401.7,438.4 403.1,436.9 404.4,438.2 405.8,446.9 407.2,440.8 408.5,435.8 409.9,441.1 411.3,435.4 412.7,438.2 414,444.6 415.4,438.3 416.8,438.9 418.1,439.1 419.5,436.8 420.9,432.2 422.2,436.5 423.6,440.7 425,445.1 426.3,431.2 427.7,440.6 429.1,438.9 430.4,429.5 431.8,438.9 433.2,437.3 434.5,431 435.9,440.9 437.3,432.5 438.6,435.7 440,438.2 441.4,430.9 442.7,438.6 444.1,435 445.5,433.1 446.8,432.3 448.2,432.6 449.6,430.5 450.9,423.9 452.3,430.4 453.7,422.7 455,435.9 456.4,429.5 457.8,420.8 459.2,427.8 460.5,420.5 461.9,418.3 463.3,426.2 464.6,425.1 466,415.5 467.4,420.2 468.7,425.1 470.1,423.2 471.5,420.6 472.8,422.2 474.2,423.7 475.6,426.8 476.9,420.5 478.3,418.8 479.7,428.5 481,422.9 482.4,415.6 483.8,409.5 485.1,419.9 486.5,418.1 487.9,409.9 489.2,417.2 490.6,420.8 492,416.6 493.3,418.9 494.7,419.9 496.1,418 497.4,414.5 498.8,420.4 500.2,424.1 501.5,404.9 502.9,418.5 504.3,419.6 505.7,417.5 507,420.1 508.4,423.7 509.8,410.9 511.1,411.7 512.5,417.8 513.9,413.1 515.2,413.5 516.6,410.2 518,416.2 519.3,423.1 520.7,407.5 522.1,417.3 523.4,417.3 524.8,411.5" fill="none" stroke="#ff2828" stroke-width="0.95" stroke-linejoin="round" />
<line x1="71.5" y1="417.1" x2="525.4" y2="417.1" stroke="#111" stroke-width="1.3" stroke-dasharray="5.5 3"/>
<line x1="77" y1="389.4" x2="94.5" y2="389.4" stroke="#2020ff" stroke-width="1.1" />
<text x="96" y="392.2" font-size="9.2" text-anchor="start" fill="#2020ff" >V<tspan dy="3.6" font-size="6.5">L</tspan><tspan dy="-3.6" font-size="1">&#8203;</tspan></text>
<line x1="77" y1="404.4" x2="94.5" y2="404.4" stroke="#30ff30" stroke-width="1.1" />
<text x="96" y="407.2" font-size="9.2" text-anchor="start" fill="#30ff30" >V<tspan dy="3.6" font-size="6.5">M</tspan><tspan dy="-3.6" font-size="1">&#8203;</tspan></text>
<line x1="77" y1="418.8" x2="94.5" y2="418.8" stroke="#ff2020" stroke-width="1.1" />
<text x="96" y="421.6" font-size="9.2" text-anchor="start" fill="#ff2020" >V<tspan dy="3.6" font-size="6.5">N</tspan><tspan dy="-3.6" font-size="1">&#8203;</tspan></text>
<path d="M88.8 381.4v3.5M88.8 449.8v-3.5M107.1 381.4v3.5M107.1 449.8v-3.5M125.4 381.4v10.4M125.4 449.8v-10.4M143.7 381.4v3.5M143.7 449.8v-3.5M162 381.4v3.5M162 449.8v-3.5M180.3 381.4v3.5M180.3 449.8v-3.5M198.6 381.4v3.5M198.6 449.8v-3.5M216.8 381.4v10.4M216.8 449.8v-10.4M235.1 381.4v3.5M235.1 449.8v-3.5M253.4 381.4v3.5M253.4 449.8v-3.5M271.7 381.4v3.5M271.7 449.8v-3.5M290 381.4v3.5M290 449.8v-3.5M308.3 381.4v10.4M308.3 449.8v-10.4M326.6 381.4v3.5M326.6 449.8v-3.5M344.9 381.4v3.5M344.9 449.8v-3.5M363.2 381.4v3.5M363.2 449.8v-3.5M381.5 381.4v3.5M381.5 449.8v-3.5M399.8 381.4v10.4M399.8 449.8v-10.4M418 381.4v3.5M418 449.8v-3.5M436.3 381.4v3.5M436.3 449.8v-3.5M454.6 381.4v3.5M454.6 449.8v-3.5M472.9 381.4v3.5M472.9 449.8v-3.5M491.2 381.4v10.4M491.2 449.8v-10.4M509.5 381.4v3.5M509.5 449.8v-3.5" stroke="#2a2a2a" stroke-width="1.1" fill="none"/>
<rect x="71.5" y="381.4" width="453.9" height="68.4" fill="none" stroke="#1c1c1c" stroke-width="1.15"/>
<line x1="71" y1="381.4" x2="525.9" y2="381.4" stroke="#000" stroke-width="1.35" />
<line x1="71" y1="449.8" x2="525.9" y2="449.8" stroke="#000" stroke-width="1.35" />
<path d="M71.5 449.6h5.8M525.4 449.6h-5.8M71.5 433.3h5.8M525.4 433.3h-5.8M71.5 417.1h5.8M525.4 417.1h-5.8M71.5 400.8h5.8M525.4 400.8h-5.8M71.5 384.5h5.8M525.4 384.5h-5.8M71.5 449.6h2.6M525.4 449.6h-2.6M71.5 445.5h2.6M525.4 445.5h-2.6M71.5 441.5h2.6M525.4 441.5h-2.6M71.5 437.4h2.6M525.4 437.4h-2.6M71.5 433.3h2.6M525.4 433.3h-2.6M71.5 429.3h2.6M525.4 429.3h-2.6M71.5 425.2h2.6M525.4 425.2h-2.6M71.5 421.1h2.6M525.4 421.1h-2.6M71.5 417.1h2.6M525.4 417.1h-2.6M71.5 413h2.6M525.4 413h-2.6M71.5 408.9h2.6M525.4 408.9h-2.6M71.5 404.8h2.6M525.4 404.8h-2.6M71.5 400.8h2.6M525.4 400.8h-2.6M71.5 396.7h2.6M525.4 396.7h-2.6M71.5 392.6h2.6M525.4 392.6h-2.6M71.5 388.6h2.6M525.4 388.6h-2.6M71.5 384.5h2.6M525.4 384.5h-2.6" stroke="#111" stroke-width="1.1" fill="none"/>
<text x="527.6" y="453.3" font-size="10.4" text-anchor="start" fill="#000" >-40</text>
<text x="527.6" y="437" font-size="10.4" text-anchor="start" fill="#000" >-20</text>
<text x="527.6" y="420.8" font-size="10.4" text-anchor="start" fill="#000" >0</text>
<text x="527.6" y="404.5" font-size="10.4" text-anchor="start" fill="#000" >20</text>
<text x="527.6" y="388.2" font-size="10.4" text-anchor="start" fill="#000" >40</text>
<text x="562.2" y="417" font-size="11.5" text-anchor="middle" fill="#000" transform="rotate(-90 562.2 417)" >V<tspan dy="3.8" font-size="8.3">i LMN</tspan><tspan dy="-3.8" font-size="1">&#8203;</tspan> [km/s]</text>
<line x1="112.5" y1="453.5" x2="112.5" y2="517.5" stroke="#ff0000" stroke-width="1.2" stroke-dasharray="8.8 4.8"/>
<line x1="127.7" y1="453.5" x2="127.7" y2="517.5" stroke="#3434ff" stroke-width="1.5" stroke-dasharray="1.8 2.7"/>
<line x1="300.7" y1="453.5" x2="300.7" y2="517.5" stroke="#ff0000" stroke-width="1.2" stroke-dasharray="8.8 4.8"/>
<line x1="342.2" y1="453.5" x2="342.2" y2="517.5" stroke="#ff20ff" stroke-width="1.55" stroke-dasharray="1.7 3.0"/>
<line x1="394.5" y1="453.5" x2="394.5" y2="517.5" stroke="#10b010" stroke-width="1.3" stroke-dasharray="8.8 4.8"/>
<polyline transform="translate(72.1 449.8) scale(0.41667 .1)" points="0,118 1,123 2,116 3,168 4,117 5,100 6,113 7,110 8,128 9,99 10,128 11,120 12,85 13,72 14,106 15,156 16,125 17,119 18,130 19,109 20,106 21,132 22,123 23,118 24,124 25,75 26,60 27,95 28,120 29,50 30,79 31,135 32,95 33,100 34,88 35,103 36,118 37,63 38,77 39,124 40,85 41,157 42,60 43,83 44,122 45,121 46,98 47,92 48,82 49,69 50,147 51,87 52,91 53,132 54,118 55,119 56,97 57,140 58,88 59,96 60,105 61,103 62,115 63,68 64,57 65,48 66,112 67,56 68,103 69,111 70,91 71,98 72,89 73,85 74,129 75,106 76,56 77,75 78,152 79,104 80,150 81,121 82,100 83,73 84,98 85,76 86,128 87,137 88,41 89,141 90,67 91,109 92,121 93,151 94,131 95,169 96,135 97,92 98,127 99,66 100,156 101,166 102,125 103,89 104,133 105,107 106,168 107,123 108,128 109,131 110,124 111,85 112,97 113,130 114,119 115,120 116,81 117,137 118,107 119,95 120,115 121,110 122,121 123,131 124,72 125,105 126,189 127,125 128,137 129,117 130,121 131,98 132,82 133,107 134,132 135,146 136,131 137,172 138,126 139,113 140,141 141,104 142,80 143,133 144,143 145,45 146,136 147,115 148,135 149,135 150,136 151,134 152,110 153,121 154,115 155,82 156,121 157,123 158,177 159,133 160,144 161,116 162,155 163,151 164,154 165,143 166,117 167,152 168,101 169,144 170,125 171,48 172,118 173,139 174,58 175,91 176,134 177,113 178,161 179,97 180,91 181,119 182,96 183,80 184,100 185,89 186,130 187,133 188,107 189,132 190,139 191,162 192,89 193,80 194,154 195,159 196,146 197,55 198,104 199,113 200,114 201,88 202,78 203,94 204,108 205,165 206,118 207,72 208,88 209,154 210,109 211,110 212,134 213,83 214,130 215,162 216,127 217,143 218,119 219,135 220,124 221,70 222,85 223,91 224,120 225,70 226,103 227,138 228,90 229,98 230,110 231,106 232,108 233,117 234,124 235,114 236,99 237,115 238,139 239,98 240,122 241,137 242,114 243,108 244,96 245,91 246,71 247,99 248,141 249,98 250,99 251,89 252,106 253,72 254,108 255,83 256,155 257,100 258,110 259,50 260,93 261,122 262,101 263,117 264,152 265,113 266,139 267,108 268,92 269,109 270,90 271,100 272,116 273,120 274,135 275,90 276,114 277,101 278,117 279,126 280,99 281,97 282,105 283,75 284,128 285,164 286,106 287,81 288,129 289,112 290,89 291,116 292,156 293,124 294,108 295,147 296,110 297,172 298,173 299,112 300,134 301,108 302,132 303,120 304,185 305,149 306,111 307,89 308,122 309,93 310,145 311,120 312,111 313,122 314,131 315,85 316,123 317,50 318,107 319,120 320,124 321,134 322,120 323,161 324,152 325,104 326,134 327,71 328,142 329,143 330,83 331,105 332,118 333,139 334,125 335,132 336,133 337,127 338,138 339,73 340,111 341,114 342,112 343,118 344,144 345,119 346,106 347,91 348,96 349,147 350,96 351,127 352,116 353,133 354,84 355,110 356,64 357,124 358,113 359,115 360,89 361,89 362,61 363,199 364,129 365,147 366,117 367,123 368,91 369,69 370,66 371,128 372,154 373,73 374,64 375,120 376,126 377,77 378,126 379,130 380,100 381,114 382,68 383,65 384,101 385,83 386,99 387,76 388,164 389,193 390,101 391,98 392,138 393,111 394,130 395,111 396,123 397,136 398,125 399,110 400,67 401,129 402,121 403,112 404,98 405,81 406,131 407,139 408,87 409,136 410,117 411,122 412,103 413,69 414,135 415,73 416,91 417,103 418,117 419,120 420,96 421,113 422,73 423,127 424,67 425,91 426,100 427,104 428,74 429,119 430,109 431,128 432,107 433,95 434,102 435,132 436,140 437,117 438,94 439,133 440,125 441,118 442,85 443,107 444,73 445,87 446,92 447,113 448,93 449,125 450,96 451,167 452,106 453,117 454,128 455,61 456,104 457,86 458,55 459,41 460,66 461,126 462,115 463,86 464,94 465,73 466,112 467,108 468,101 469,86 470,157 471,92 472,134 473,82 474,120 475,103 476,117 477,92 478,98 479,103 480,147 481,66 482,91 483,77 484,135 485,106 486,130 487,69 488,96 489,107 490,53 491,60 492,63 493,87 494,60 495,127 496,70 497,99 498,110 499,71 500,76 501,106 502,90 503,107 504,103 505,81 506,91 507,129 508,53 509,104 510,102 511,62 512,114 513,82 514,107 515,144 516,94 517,63 518,90 519,68 520,91 521,91 522,114 523,84 524,121 525,140 526,96 527,131 528,95 529,59 530,115 531,140 532,77 533,123 534,103 535,163 536,86 537,84 538,69 539,69 540,123 541,54 542,98 543,82 544,68 545,28 546,113 547,89 548,80 549,87 550,103 551,73 552,38 553,105 554,55 555,109 556,58 557,98 558,75 559,81 560,94 561,28 562,93 563,49 564,73 565,49 566,53 567,55 568,86 569,39 570,55 571,84 572,62 573,61 574,97 575,58 576,102 577,96 578,82 579,93 580,119 581,89 582,105 583,118 584,71 585,80 586,126 587,149 588,100 589,173 590,72 591,94 592,103 593,97 594,79 595,166 596,67 597,124 598,88 599,66 600,147 601,86 602,92 603,109 604,98 605,36 606,96 607,134 608,113 609,107 610,61 611,98 612,60 613,76 614,88 615,63 616,97 617,57 618,92 619,81 620,96 621,97 622,60 623,66 624,38 625,87 626,102 627,135 628,79 629,144 630,82 631,92 632,90 633,153 634,96 635,124 636,77 637,79 638,134 639,117 640,119 641,92 642,121 643,110 644,162 645,137 646,153 647,102 648,124 649,60 650,144 651,94 652,132 653,102 654,105 655,91 656,121 657,144 658,119 659,108 660,186 661,125 662,146 663,92 664,146 665,139 666,141 667,133 668,113 669,144 670,126 671,127 672,70 673,141 674,103 675,103 676,99 677,122 678,69 679,119 680,79 681,81 682,81 683,132 684,74 685,121 686,90 687,94 688,125 689,155 690,116 691,94 692,110 693,141 694,137 695,145 696,106 697,84 698,117 699,116 700,131 701,117 702,128 703,78 704,88 705,101 706,106 707,122 708,118 709,129 710,115 711,107 712,132 713,96 714,111 715,101 716,68 717,147 718,140 719,154 720,83 721,141 722,113 723,96 724,118 725,117 726,135 727,161 728,135 729,95 730,93 731,103 732,106 733,45 734,178 735,108 736,87 737,152 738,106 739,40 740,98 741,123 742,64 743,128 744,127 745,134 746,77 747,94 748,119 749,118 750,166 751,69 752,109 753,138 754,106 755,124 756,76 757,126 758,107 759,141 760,84 761,136 762,101 763,127 764,69 765,98 766,100 767,122 768,115 769,78 770,138 771,88 772,133 773,116 774,130 775,101 776,111 777,19 778,116 779,137 780,124 781,111 782,159 783,132 784,117 785,98 786,107 787,119 788,121 789,120 790,70 791,138 792,78 793,101 794,145 795,98 796,94 797,85 798,139 799,56 800,55 801,155 802,129 803,117 804,88 805,121 806,96 807,69 808,131 809,61 810,146 811,107 812,120 813,58 814,75 815,168 816,99 817,121 818,102 819,112 820,122 821,76 822,105 823,98 824,95 825,73 826,130 827,101 828,154 829,111 830,76 831,186 832,108 833,89 834,64 835,120 836,118 837,98 838,135 839,66 840,132 841,49 842,134 843,109 844,77 845,128 846,123 847,172 848,106 849,110 850,122 851,151 852,138 853,153 854,127 855,150 856,127 857,59 858,108 859,137 860,82 861,88 862,124 863,179 864,152 865,143 866,110 867,151 868,122 869,137 870,112 871,127 872,99 873,114 874,135 875,121 876,97 877,119 878,109 879,115 880,85 881,75 882,121 883,150 884,115 885,116 886,79 887,130 888,89 889,104 890,111 891,108 892,80 893,140 894,126 895,116 896,84 897,111 898,93 899,97 900,66 901,28 902,97 903,154 904,104 905,98 906,116 907,111 908,98 909,176 910,127 911,127 912,117 913,95 914,76 915,71 916,100 917,113 918,149 919,64 920,86 921,126 922,121 923,167 924,184 925,132 926,122 927,104 928,143 929,119 930,126 931,95 932,115 933,112 934,103 935,122 936,109 937,69 938,116 939,122 940,116 941,122 942,112 943,136 944,91 945,149 946,107 947,99 948,133 949,120 950,77 951,80 952,120 953,116 954,112 955,154 956,104 957,98 958,123 959,143 960,156 961,150 962,97 963,141 964,92 965,98 966,142 967,109 968,135 969,104 970,141 971,100 972,78 973,143 974,137 975,136 976,114 977,141 978,107 979,129 980,151 981,102 982,169 983,109 984,132 985,136 986,122 987,116 988,119 989,90 990,153 991,157 992,112 993,82 994,150 995,121 996,86 997,150 998,147 999,131 1000,120 1001,92 1002,144 1003,106 1004,103 1005,97 1006,87 1007,65 1008,100 1009,95 1010,108 1011,141 1012,107 1013,164 1014,109 1015,168 1016,137 1017,132 1018,113 1019,154 1020,133 1021,151 1022,189 1023,102 1024,130 1025,173 1026,130 1027,138 1028,143 1029,122 1030,110 1031,155 1032,161 1033,124 1034,126 1035,94 1036,155 1037,162 1038,101 1039,120 1040,109 1041,138 1042,141 1043,107 1044,61 1045,92 1046,170 1047,113 1048,86 1049,132 1050,146 1051,78 1052,96 1053,103 1054,61 1055,107 1056,129 1057,145 1058,116 1059,123 1060,123 1061,91 1062,92 1063,127 1064,84 1065,94 1066,130 1067,89 1068,138 1069,116 1070,128 1071,156 1072,118 1073,116 1074,119 1075,161 1076,86 1077,114 1078,109 1079,133 1080,120 1081,114 1082,121 1083,124 1084,129 1085,146" fill="none" stroke="#ff1010" stroke-width="1.0" vector-effect="non-scaling-stroke" stroke-linejoin="round"/>
<polyline points="72.1,499.1 73.5,497.4 74.8,494.5 76.2,497.5 77.6,507.1 78.9,501.4 80.3,508.7 81.7,501 83,512.1 84.4,508 85.8,498.9 87.1,498 88.5,507.9 89.9,507.8 91.2,495.3 92.6,505.9 94,499.5 95.4,514.8 96.7,505.6 98.1,502 99.5,502 100.8,507.7 102.2,503.9 103.6,505.2 104.9,506.6 106.3,499.1 107.7,510.1 109,506.9 110.4,503.1 111.8,513.9 113.1,510.5 114.5,501.8 115.9,503.7 117.2,506.1 118.6,501.2 120,505.9 121.3,508.7 122.7,515.3 124.1,502.1 125.4,507.1 126.8,501.6 128.2,506.8 129.5,506.6 130.9,505.1 132.3,504.9 133.6,510.1 135,503.8 136.4,505.4 137.7,504.7 139.1,508.4 140.5,502.9 141.9,512.7 143.2,505.9 144.6,499.8 146,502 147.3,502.2 148.7,503.3 150.1,507.6 151.4,506.3 152.8,500.2 154.2,507.5 155.5,502.6 156.9,500.8 158.3,505.3 159.6,508.5 161,498.8 162.4,507.9 163.7,509 165.1,503.5 166.5,503.1 167.8,508 169.2,506 170.6,507.2 171.9,517 173.3,503.6 174.7,502.2 176,505.1 177.4,501.8 178.8,511.7 180.1,507.6 181.5,506.2 182.9,509.9 184.2,501.4 185.6,484.3 187,502.7 188.4,496 189.7,503.7 191.1,511.7 192.5,504 193.8,502.2 195.2,502.8 196.6,503.8 197.9,498.2 199.3,511.8 200.7,505.8 202,504.1 203.4,511.1 204.8,501.1 206.1,500.2 207.5,506.3 208.9,506.4 210.2,499.3 211.6,505.3 213,513.1 214.3,508.6 215.7,496.5 217.1,501.2 218.4,502.2 219.8,509.3 221.2,502 222.5,509.2 223.9,506.3 225.3,504.7 226.6,503.7 228,504.9 229.4,506.3 230.8,508.3 232.1,496.3 233.5,503.6 234.9,508.4 236.2,504.2 237.6,502.2 239,509.5 240.3,501.3 241.7,506.4 243.1,509.1 244.4,506.3 245.8,503.9 247.2,511.3 248.5,504 249.9,497.7 251.3,500.3 252.6,511.2 254,499.1 255.4,502.8 256.7,504.4 258.1,503.3 259.5,505.6 260.8,509.3 262.2,496.4 263.6,499.4 264.9,512.2 266.3,501.1 267.7,502.7 269,511.7 270.4,503.8 271.8,501.6 273.1,509.6 274.5,497.4 275.9,497 277.3,502.6 278.6,507.4 280,498.7 281.4,508.6 282.7,505 284.1,503.3 285.5,508.8 286.8,510.8 288.2,506.3 289.6,507.1 290.9,503.3 292.3,508.8 293.7,506.2 295,512.1 296.4,498 297.8,500 299.1,509.2 300.5,508.9 301.9,502.7 303.2,509.1 304.6,509.4 306,504.5 307.3,497.4 308.7,494.8 310.1,502.9 311.4,502.9 312.8,502.3 314.2,503.4 315.5,505.3 316.9,506.4 318.3,505 319.6,503.4 321,503.2 322.4,500.9 323.8,504.2 325.1,504.9 326.5,507.1 327.9,509.2 329.2,500.3 330.6,507.7 332,503.7 333.3,495.5 334.7,512.7 336.1,498.2 337.4,497.5 338.8,509.4 340.2,513.3 341.5,506.3 342.9,512 344.3,504.4 345.6,502.7 347,511.5 348.4,502.9 349.7,507.7 351.1,504.6 352.5,510.5 353.8,503.9 355.2,512.8 356.6,515.7 357.9,510.4 359.3,511.8 360.7,502 362,502.4 363.4,506.2 364.8,502 366.1,505.8 367.5,514.2 368.9,505.3 370.3,506.5 371.6,514.9 373,496.9 374.4,511.5 375.7,502.2 377.1,505.7 378.5,511.5 379.8,507 381.2,510.5 382.6,510 383.9,502.7 385.3,504.8 386.7,514.5 388,504.6 389.4,502.8 390.8,503.9 392.1,507.2 393.5,504 394.9,507.4 396.2,510.9 397.6,499 399,505 400.3,507.8 401.7,495.5 403.1,488.3 404.4,508.8 405.8,500.4 407.2,501.4 408.5,514.3 409.9,502.8 411.3,506.3 412.7,515.3 414,506.8 415.4,500.1 416.8,508.7 418.1,506.6 419.5,496.2 420.9,507.6 422.2,506.5 423.6,501 425,502 426.3,506.3 427.7,506.2 429.1,506.1 430.4,507 431.8,509.3 433.2,502.2 434.5,510.2 435.9,504.4 437.3,502.8 438.6,505.2 440,508.8 441.4,498.4 442.7,506.6 444.1,502 445.5,503.8 446.8,505.3 448.2,498.5 449.6,503.2 450.9,501.8 452.3,499.4 453.7,502.9 455,502.2 456.4,502.2 457.8,505.8 459.2,504.7 460.5,504.6 461.9,511.7 463.3,512 464.6,505.4 466,505.4 467.4,501.1 468.7,502.8 470.1,512.7 471.5,503.6 472.8,509.3 474.2,508.6 475.6,508.7 476.9,507.7 478.3,506.5 479.7,506.5 481,504.1 482.4,503.9 483.8,510.2 485.1,508.4 486.5,498.7 487.9,500.8 489.2,506.5 490.6,504.5 492,499.3 493.3,513.4 494.7,503.7 496.1,501 497.4,510.7 498.8,500.2 500.2,485 501.5,503.5 502.9,506 504.3,501.8 505.7,501.9 507,508.5 508.4,505.2 509.8,509.8 511.1,506.8 512.5,502.6 513.9,509.6 515.2,495.4 516.6,500.8 518,511.1 519.3,506.4 520.7,500.2 522.1,509.8 523.4,499.7 524.8,500.1" fill="none" stroke="#333" stroke-width="0.95" stroke-linejoin="round" />
<line x1="78" y1="458.4" x2="95" y2="458.4" stroke="#ff4040" stroke-width="1.1" />
<text x="96.4" y="461.4" font-size="9" text-anchor="start" fill="#ff2020" >Ne</text>
<line x1="78" y1="470.4" x2="95" y2="470.4" stroke="#333" stroke-width="1.1" />
<text x="96.4" y="473.6" font-size="9" text-anchor="start" fill="#222" >N<tspan dy="1.5" font-size="7">i</tspan><tspan dy="-1.5" font-size="1">&#8203;</tspan></text>
<path d="M88.8 449.8v3.5M88.8 518.1v-3.5M107.1 449.8v3.5M107.1 518.1v-3.5M125.4 449.8v10.4M125.4 518.1v-10.4M143.7 449.8v3.5M143.7 518.1v-3.5M162 449.8v3.5M162 518.1v-3.5M180.3 449.8v3.5M180.3 518.1v-3.5M198.6 449.8v3.5M198.6 518.1v-3.5M216.8 449.8v10.4M216.8 518.1v-10.4M235.1 449.8v3.5M235.1 518.1v-3.5M253.4 449.8v3.5M253.4 518.1v-3.5M271.7 449.8v3.5M271.7 518.1v-3.5M290 449.8v3.5M290 518.1v-3.5M308.3 449.8v10.4M308.3 518.1v-10.4M326.6 449.8v3.5M326.6 518.1v-3.5M344.9 449.8v3.5M344.9 518.1v-3.5M363.2 449.8v3.5M363.2 518.1v-3.5M381.5 449.8v3.5M381.5 518.1v-3.5M399.8 449.8v10.4M399.8 518.1v-10.4M418 449.8v3.5M418 518.1v-3.5M436.3 449.8v3.5M436.3 518.1v-3.5M454.6 449.8v3.5M454.6 518.1v-3.5M472.9 449.8v3.5M472.9 518.1v-3.5M491.2 449.8v10.4M491.2 518.1v-10.4M509.5 449.8v3.5M509.5 518.1v-3.5" stroke="#2a2a2a" stroke-width="1.1" fill="none"/>
<rect x="71.5" y="449.8" width="453.9" height="68.3" fill="none" stroke="#1c1c1c" stroke-width="1.15"/>
<line x1="71" y1="449.8" x2="525.9" y2="449.8" stroke="#000" stroke-width="1.35" />
<line x1="71" y1="518.1" x2="525.9" y2="518.1" stroke="#000" stroke-width="1.35" />
<path d="M71.5 504.3h5.8M525.4 504.3h-5.8M71.5 489.7h5.8M525.4 489.7h-5.8M71.5 475h5.8M525.4 475h-5.8M71.5 460.4h5.8M525.4 460.4h-5.8M71.5 515.3h2.6M525.4 515.3h-2.6M71.5 511.6h2.6M525.4 511.6h-2.6M71.5 508h2.6M525.4 508h-2.6M71.5 504.3h2.6M525.4 504.3h-2.6M71.5 500.6h2.6M525.4 500.6h-2.6M71.5 497h2.6M525.4 497h-2.6M71.5 493.3h2.6M525.4 493.3h-2.6M71.5 489.7h2.6M525.4 489.7h-2.6M71.5 486h2.6M525.4 486h-2.6M71.5 482.4h2.6M525.4 482.4h-2.6M71.5 478.7h2.6M525.4 478.7h-2.6M71.5 475h2.6M525.4 475h-2.6M71.5 471.4h2.6M525.4 471.4h-2.6M71.5 467.7h2.6M525.4 467.7h-2.6M71.5 464.1h2.6M525.4 464.1h-2.6M71.5 460.4h2.6M525.4 460.4h-2.6M71.5 456.7h2.6M525.4 456.7h-2.6M71.5 453.1h2.6M525.4 453.1h-2.6" stroke="#111" stroke-width="1.1" fill="none"/>
<text x="68.3" y="508" font-size="10.5" text-anchor="end" fill="#000" >2.2</text>
<text x="68.3" y="493.4" font-size="10.5" text-anchor="end" fill="#000" >2.4</text>
<text x="68.3" y="478.7" font-size="10.5" text-anchor="end" fill="#000" >2.6</text>
<text x="68.3" y="464.1" font-size="10.5" text-anchor="end" fill="#000" >2.8</text>
<text x="45" y="484" font-size="11.5" text-anchor="middle" fill="#000" transform="rotate(-90 45 484)" >N [cm<tspan dy="-4.6" font-size="8.6">-3</tspan><tspan dy="4.6" font-size="1">&#8203;</tspan>]</text>
<line x1="112.5" y1="522" x2="112.5" y2="585.5" stroke="#ff0000" stroke-width="1.2" stroke-dasharray="8.8 4.8"/>
<line x1="127.7" y1="522" x2="127.7" y2="585.5" stroke="#3434ff" stroke-width="1.5" stroke-dasharray="1.8 2.7"/>
<line x1="300.7" y1="522" x2="300.7" y2="585.5" stroke="#ff0000" stroke-width="1.2" stroke-dasharray="8.8 4.8"/>
<line x1="342.2" y1="522" x2="342.2" y2="585.5" stroke="#ff20ff" stroke-width="1.55" stroke-dasharray="1.7 3.0"/>
<line x1="394.5" y1="522" x2="394.5" y2="585.5" stroke="#10b010" stroke-width="1.3" stroke-dasharray="8.8 4.8"/>
<circle cx="77.2" cy="585.4" r="2.6" fill="none" stroke="#20d020" stroke-width="1.2"/>
<polyline points="77.2,523.9 168.2,532.9 259.7,518.9 351.3,540.6" fill="none" stroke="#ff1010" stroke-width="1.3" stroke-linejoin="round" />
<circle cx="77.2" cy="523.9" r="2.2" fill="#ff1010"/>
<circle cx="168.2" cy="532.9" r="2.2" fill="#ff1010"/>
<circle cx="259.7" cy="518.9" r="2.2" fill="#ff1010"/>
<circle cx="351.3" cy="540.6" r="2.2" fill="#ff1010"/>
<polyline points="77.2,585.4 168.2,579.9 259.7,583.5 351.3,584.9" fill="none" stroke="#1010ff" stroke-width="1.5" stroke-linejoin="round" />
<circle cx="77.2" cy="585.4" r="2.2" fill="#1010ff"/>
<circle cx="168.2" cy="579.9" r="2.2" fill="#1010ff"/>
<circle cx="259.7" cy="583.5" r="2.2" fill="#1010ff"/>
<circle cx="351.3" cy="584.9" r="2.2" fill="#1010ff"/>
<line x1="77.5" y1="523.3" x2="95" y2="523.3" stroke="#20ff20" stroke-width="1.3" />
<circle cx="86.3" cy="523.3" r="2.4" fill="#20ff20"/>
<text x="96.2" y="526.4" font-size="9" text-anchor="start" fill="#20ff20" >N He+</text>
<line x1="77.5" y1="532.6" x2="95" y2="532.6" stroke="#ff1010" stroke-width="1.3" />
<circle cx="86.3" cy="532.6" r="2.4" fill="#ff1010"/>
<text x="96.2" y="535.7" font-size="9" text-anchor="start" fill="#ff1010" >N He++</text>
<line x1="77.5" y1="541.7" x2="95" y2="541.7" stroke="#1010ff" stroke-width="1.3" />
<circle cx="86.3" cy="541.7" r="2.4" fill="#1010ff"/>
<text x="96.2" y="544.8" font-size="9" text-anchor="start" fill="#1010ff" >N O+</text>
<path d="M88.8 518.1v3.5M88.8 586.5v-3.5M107.1 518.1v3.5M107.1 586.5v-3.5M125.4 518.1v10.4M125.4 586.5v-10.4M143.7 518.1v3.5M143.7 586.5v-3.5M162 518.1v3.5M162 586.5v-3.5M180.3 518.1v3.5M180.3 586.5v-3.5M198.6 518.1v3.5M198.6 586.5v-3.5M216.8 518.1v10.4M216.8 586.5v-10.4M235.1 518.1v3.5M235.1 586.5v-3.5M253.4 518.1v3.5M253.4 586.5v-3.5M271.7 518.1v3.5M271.7 586.5v-3.5M290 518.1v3.5M290 586.5v-3.5M308.3 518.1v10.4M308.3 586.5v-10.4M326.6 518.1v3.5M326.6 586.5v-3.5M344.9 518.1v3.5M344.9 586.5v-3.5M363.2 518.1v3.5M363.2 586.5v-3.5M381.5 518.1v3.5M381.5 586.5v-3.5M399.8 518.1v10.4M399.8 586.5v-10.4M418 518.1v3.5M418 586.5v-3.5M436.3 518.1v3.5M436.3 586.5v-3.5M454.6 518.1v3.5M454.6 586.5v-3.5M472.9 518.1v3.5M472.9 586.5v-3.5M491.2 518.1v10.4M491.2 586.5v-10.4M509.5 518.1v3.5M509.5 586.5v-3.5" stroke="#2a2a2a" stroke-width="1.1" fill="none"/>
<rect x="71.5" y="518.1" width="453.9" height="68.3" fill="none" stroke="#1c1c1c" stroke-width="1.15"/>
<line x1="71" y1="518.1" x2="525.9" y2="518.1" stroke="#000" stroke-width="1.35" />
<line x1="71" y1="586.5" x2="525.9" y2="586.5" stroke="#000" stroke-width="1.35" />
<path d="M71.5 586h5.8M525.4 586h-5.8M71.5 566.4h5.8M525.4 566.4h-5.8M71.5 546.8h5.8M525.4 546.8h-5.8M71.5 527.2h5.8M525.4 527.2h-5.8M71.5 586h2.6M525.4 586h-2.6M71.5 582.1h2.6M525.4 582.1h-2.6M71.5 578.2h2.6M525.4 578.2h-2.6M71.5 574.2h2.6M525.4 574.2h-2.6M71.5 570.3h2.6M525.4 570.3h-2.6M71.5 566.4h2.6M525.4 566.4h-2.6M71.5 562.5h2.6M525.4 562.5h-2.6M71.5 558.6h2.6M525.4 558.6h-2.6M71.5 554.6h2.6M525.4 554.6h-2.6M71.5 550.7h2.6M525.4 550.7h-2.6M71.5 546.8h2.6M525.4 546.8h-2.6M71.5 542.9h2.6M525.4 542.9h-2.6M71.5 539h2.6M525.4 539h-2.6M71.5 535h2.6M525.4 535h-2.6M71.5 531.1h2.6M525.4 531.1h-2.6M71.5 527.2h2.6M525.4 527.2h-2.6M71.5 523.3h2.6M525.4 523.3h-2.6" stroke="#111" stroke-width="1.1" fill="none"/>
<text x="527.6" y="589.7" font-size="10.4" text-anchor="start" fill="#000" >0</text>
<text x="527.6" y="570.1" font-size="10.4" text-anchor="start" fill="#000" >1</text>
<text x="527.6" y="550.5" font-size="10.4" text-anchor="start" fill="#000" >2</text>
<text x="527.6" y="530.9" font-size="10.4" text-anchor="start" fill="#000" >3</text>
<text x="532.6" y="521.4" font-size="11" text-anchor="start" fill="#000" >(x10<tspan dy="-4.5" font-size="8">-2</tspan><tspan dy="4.5" font-size="1">&#8203;</tspan>)</text>
<text x="558" y="553" font-size="11.5" text-anchor="middle" fill="#000" transform="rotate(-90 558 553)" >N<tspan dy="3.8" font-size="8.3">i</tspan><tspan dy="-3.8" font-size="1">&#8203;</tspan> [cm<tspan dy="-4.6" font-size="8.6">-3</tspan><tspan dy="4.6" font-size="1">&#8203;</tspan>]</text>
<line x1="112.5" y1="590" x2="112.5" y2="654" stroke="#ff0000" stroke-width="1.2" stroke-dasharray="8.8 4.8"/>
<line x1="127.7" y1="590" x2="127.7" y2="654" stroke="#3434ff" stroke-width="1.5" stroke-dasharray="1.8 2.7"/>
<line x1="300.7" y1="590" x2="300.7" y2="654" stroke="#ff0000" stroke-width="1.2" stroke-dasharray="8.8 4.8"/>
<line x1="342.2" y1="590" x2="342.2" y2="654" stroke="#ff20ff" stroke-width="1.55" stroke-dasharray="1.7 3.0"/>
<line x1="394.5" y1="590" x2="394.5" y2="654" stroke="#10b010" stroke-width="1.3" stroke-dasharray="8.8 4.8"/>
<polyline points="72.1,642 73.5,633.3 74.8,619.1 76.2,637.9 77.6,629.5 78.9,629.1 80.3,636.2 81.7,633.8 83,624.1 84.4,644.6 85.8,626.2 87.1,626.9 88.5,629.1 89.9,626.8 91.2,615.5 92.6,630.7 94,622.8 95.4,622.5 96.7,631 98.1,621.3 99.5,617.7 100.8,613.6 102.2,627.3 103.6,614.5 104.9,615.9 106.3,630.2 107.7,622.7 109,615.5 110.4,627.1 111.8,626.2 113.1,623.1 114.5,629.3 115.9,629 117.2,625.6 118.6,623.4 120,622.9 121.3,613.3 122.7,619.3 124.1,625.1 125.4,618.9 126.8,625.1 128.2,627.7 129.5,609.9 130.9,621.1 132.3,624.7 133.6,621.2 135,638 136.4,622.2 137.7,615.6 139.1,622.2 140.5,618.5 141.9,622.1 143.2,621.1 144.6,617.8 146,621.7 147.3,622.5 148.7,621.2 150.1,613 151.4,625.9 152.8,621 154.2,627.4 155.5,620.7 156.9,615.6 158.3,622.7 159.6,627.6 161,615 162.4,624.5 163.7,622.1 165.1,612.7 166.5,622.5 167.8,622.6 169.2,616.7 170.6,618.9 171.9,622.7 173.3,615.4 174.7,622.9 176,617 177.4,616.7 178.8,627.3 180.1,615.8 181.5,624.4 182.9,627.6 184.2,611.3 185.6,648 187,627 188.4,621.7 189.7,616.4 191.1,618.3 192.5,625.2 193.8,609.1 195.2,624.8 196.6,628.6 197.9,618.6 199.3,628.3 200.7,630.7 202,605.4 203.4,618.2 204.8,626.4 206.1,620.5 207.5,621.7 208.9,624 210.2,621.1 211.6,620.1 213,623.3 214.3,616.1 215.7,619.7 217.1,627.6 218.4,618 219.8,617.8 221.2,627.5 222.5,630 223.9,608.3 225.3,631.2 226.6,617.8 228,634 229.4,626 230.8,629.6 232.1,615.8 233.5,620.4 234.9,618.2 236.2,619 237.6,627.5 239,618 240.3,617.9 241.7,626.7 243.1,611.9 244.4,621.1 245.8,621.1 247.2,620.5 248.5,618.9 249.9,628.6 251.3,619.4 252.6,626.1 254,613.3 255.4,624.4 256.7,622.8 258.1,615.6 259.5,621.8 260.8,617.4 262.2,621.3 263.6,622.7 264.9,619.5 266.3,621.4 267.7,620.4 269,623.8 270.4,618.4 271.8,620.4 273.1,625.3 274.5,617.2 275.9,619.3 277.3,624 278.6,617.6 280,627.7 281.4,613.5 282.7,621.1 284.1,620.8 285.5,622.5 286.8,635 288.2,626.9 289.6,626.8 290.9,614.2 292.3,632.3 293.7,617.7 295,623.7 296.4,623.6 297.8,620.1 299.1,618.5 300.5,623.9 301.9,620.5 303.2,622 304.6,619.8 306,628.3 307.3,615.5 308.7,612.9 310.1,619.1 311.4,630.7 312.8,613 314.2,625.6 315.5,625 316.9,618.5 318.3,625.9 319.6,614.9 321,612.5 322.4,628.4 323.8,617.4 325.1,613.7 326.5,621.6 327.9,621.8 329.2,617.3 330.6,626 332,614.3 333.3,610 334.7,627.1 336.1,616.2 337.4,615.2 338.8,616.3 340.2,619.6 341.5,616.8 342.9,618 344.3,612.5 345.6,617.3 347,616.6 348.4,622.8 349.7,613.2 351.1,623.1 352.5,613.1 353.8,621.7 355.2,625.5 356.6,626.2 357.9,621.5 359.3,615.5 360.7,626.9 362,624.5 363.4,611.5 364.8,610.7 366.1,626.3 367.5,607.6 368.9,619.1 370.3,618.1 371.6,610.6 373,619 374.4,609 375.7,624.2 377.1,616.1 378.5,614.2 379.8,616 381.2,624.5 382.6,612.7 383.9,621.1 385.3,625.1 386.7,613.9 388,610.1 389.4,618.7 390.8,612.8 392.1,618.9 393.5,617.5 394.9,622.8 396.2,609.4 397.6,606.3 399,618.7 400.3,612.2 401.7,611.9 403.1,632 404.4,617.7 405.8,616.9 407.2,623.7 408.5,615.9 409.9,617.6 411.3,624.8 412.7,617.8 414,626.1 415.4,625.4 416.8,613.2 418.1,623.5 419.5,623.3 420.9,604.9 422.2,612.8 423.6,621.7 425,615.6 426.3,614.7 427.7,625.3 429.1,619.1 430.4,616.1 431.8,615.7 433.2,606.8 434.5,623.9 435.9,610.2 437.3,615.6 438.6,613.4 440,616 441.4,611.9 442.7,613.9 444.1,623.4 445.5,613.5 446.8,618 448.2,624.4 449.6,615.6 450.9,620.3 452.3,617.2 453.7,612 455,622.1 456.4,617.5 457.8,613.5 459.2,618.4 460.5,615.3 461.9,614.8 463.3,618.4 464.6,621.2 466,611 467.4,622.4 468.7,626.7 470.1,615.9 471.5,618 472.8,625.9 474.2,611.7 475.6,611.6 476.9,619.1 478.3,618.1 479.7,615.8 481,609.9 482.4,615.4 483.8,614.5 485.1,617.5 486.5,628.4 487.9,607.4 489.2,621.7 490.6,635.8 492,612.9 493.3,610.3 494.7,623.6 496.1,606.3 497.4,611.4 498.8,615.5 500.2,652 501.5,615.1 502.9,615.7 504.3,629.1 505.7,616.7 507,606.5 508.4,624.1 509.8,616.6 511.1,610.6 512.5,624.4 513.9,615.5 515.2,616.3 516.6,621 518,609.3 519.3,616.9 520.7,615.8 522.1,609 523.4,622.4 524.8,619.2" fill="none" stroke="#ff3838" stroke-width="0.95" stroke-linejoin="round" />
<polyline points="72.1,621.6 73.5,631.8 74.8,615.8 76.2,623.6 77.6,614.5 78.9,613.7 80.3,622.5 81.7,608 83,610.2 84.4,618.4 85.8,615.3 87.1,609.2 88.5,616.9 89.9,615.8 91.2,611.2 92.6,605.5 94,622.5 95.4,608.2 96.7,599.5 98.1,618.2 99.5,612.6 100.8,613.4 102.2,618.5 103.6,613.1 104.9,617.3 106.3,609.2 107.7,614 109,611.1 110.4,612.9 111.8,602.3 113.1,609.5 114.5,615.5 115.9,603.6 117.2,617.6 118.6,615.3 120,601.1 121.3,613.3 122.7,623.6 124.1,614.9 125.4,603.5 126.8,611.5 128.2,615.4 129.5,608.1 130.9,613.2 132.3,608 133.6,602.2 135,603.8 136.4,601.2 137.7,612.9 139.1,608.9 140.5,598.7 141.9,613.4 143.2,613.6 144.6,602.7 146,609.9 147.3,606.7 148.7,604.3 150.1,609.5 151.4,612.2 152.8,595.2 154.2,613.5 155.5,613.8 156.9,596.3 158.3,603.3 159.6,614.8 161,611.9 162.4,604.3 163.7,617.8 165.1,599.4 166.5,619.3 167.8,614.4 169.2,597.7 170.6,611.2 171.9,616 173.3,602.3 174.7,606.8 176,605.8 177.4,604.7 178.8,614.3 180.1,596.2 181.5,604.4 182.9,611.4 184.2,612.5 185.6,646 187,611.7 188.4,609.7 189.7,599.5 191.1,616.4 192.5,597 193.8,603.6 195.2,615.9 196.6,604.1 197.9,609 199.3,606.4 200.7,600.6 202,614.3 203.4,605.3 204.8,604.9 206.1,604.3 207.5,607.3 208.9,601.4 210.2,601.1 211.6,606.4 213,606.7 214.3,601.8 215.7,611.9 217.1,598.5 218.4,603.8 219.8,613.2 221.2,601.2 222.5,604.7 223.9,597.6 225.3,612.7 226.6,597.4 228,603.4 229.4,605.5 230.8,599.5 232.1,610.1 233.5,603.3 234.9,593.6 236.2,608.1 237.6,611.1 239,610.7 240.3,597.1 241.7,605.3 243.1,611.3 244.4,605.7 245.8,611.5 247.2,608.8 248.5,596.6 249.9,605.5 251.3,610.5 252.6,599.9 254,601.9 255.4,600.7 256.7,598.6 258.1,610.5 259.5,601.2 260.8,608.9 262.2,612.8 263.6,596.5 264.9,598.7 266.3,610.2 267.7,604.4 269,608.2 270.4,606.9 271.8,603.8 273.1,613.6 274.5,616.9 275.9,601.2 277.3,617.3 278.6,614.4 280,597.9 281.4,617.6 282.7,597 284.1,599.8 285.5,607.2 286.8,604 288.2,605.6 289.6,613.5 290.9,599.9 292.3,604.2 293.7,607.3 295,607 296.4,604.2 297.8,613.1 299.1,605.9 300.5,596.1 301.9,617.8 303.2,597.4 304.6,600 306,602.7 307.3,604.4 308.7,608.8 310.1,614.4 311.4,611.8 312.8,597.1 314.2,618.3 315.5,604.8 316.9,604.7 318.3,606.9 319.6,603.4 321,612.2 322.4,616.2 323.8,595.5 325.1,610.5 326.5,613.2 327.9,597.3 329.2,608.4 330.6,616.3 332,597 333.3,610.8 334.7,607 336.1,605.5 337.4,609.8 338.8,602.6 340.2,595.4 341.5,612.8 342.9,607 344.3,599.9 345.6,607.3 347,605.4 348.4,605.1 349.7,608.6 351.1,597.3 352.5,601.2 353.8,614.5 355.2,600.6 356.6,609.4 357.9,598.3 359.3,607.3 360.7,607.8 362,601.2 363.4,605.9 364.8,602.2 366.1,602.6 367.5,607.9 368.9,613.7 370.3,608.1 371.6,603.2 373,611.3 374.4,612.9 375.7,602.6 377.1,609.5 378.5,611.2 379.8,588.4 381.2,599.6 382.6,618.6 383.9,596.4 385.3,593.4 386.7,603.1 388,610.6 389.4,599.4 390.8,609.8 392.1,603.1 393.5,598.2 394.9,608.3 396.2,601.3 397.6,606.5 399,605.4 400.3,605.6 401.7,590.7 403.1,611.3 404.4,606.5 405.8,596.8 407.2,603.7 408.5,601.9 409.9,597.2 411.3,600.8 412.7,607.7 414,594 415.4,603.3 416.8,595.7 418.1,596.6 419.5,612.9 420.9,609 422.2,596.8 423.6,593.5 425,606 426.3,591.7 427.7,606.6 429.1,599.3 430.4,610.2 431.8,596.8 433.2,610.8 434.5,601.6 435.9,599.2 437.3,603.6 438.6,598.6 440,601.7 441.4,606.4 442.7,592.1 444.1,599.8 445.5,604.7 446.8,601.8 448.2,595.2 449.6,601 450.9,590.9 452.3,609.4 453.7,597.9 455,594.2 456.4,610.2 457.8,602.5 459.2,599.8 460.5,597.7 461.9,590.1 463.3,604.1 464.6,604 466,597.4 467.4,594.5 468.7,597.3 470.1,593.2 471.5,607.7 472.8,604.7 474.2,590.1 475.6,609.3 476.9,603.4 478.3,595.2 479.7,608.9 481,600.1 482.4,600.9 483.8,608.1 485.1,592.4 486.5,607.4 487.9,599.3 489.2,592.8 490.6,598.4 492,607 493.3,595.7 494.7,598.2 496.1,600.6 497.4,601.5 498.8,593 500.2,634 501.5,611.7 502.9,594.2 504.3,605.4 505.7,606.8 507,596.3 508.4,591.9 509.8,608 511.1,600.9 512.5,606.3 513.9,603.3 515.2,598.6 516.6,600.3 518,605.5 519.3,598.3 520.7,607.5 522.1,612.1 523.4,601.8 524.8,600.2" fill="none" stroke="#333" stroke-width="0.95" stroke-linejoin="round" />
<line x1="78" y1="596.2" x2="95" y2="596.2" stroke="#ff3030" stroke-width="1.1" />
<text x="96.2" y="599.9" font-size="9.3" text-anchor="start" fill="#ff2020" >T<tspan dy="4.6" font-size="8.6">||</tspan><tspan dy="-4.6" font-size="1">&#8203;</tspan></text>
<line x1="78" y1="614.2" x2="95" y2="614.2" stroke="#222" stroke-width="1.1" />
<text x="96" y="618.7" font-size="9.3" text-anchor="start" fill="#111" >T<tspan dy="5.2" font-size="8.6">⊥</tspan><tspan dy="-5.2" font-size="1">&#8203;</tspan></text>
<path d="M88.8 586.5v3.5M88.8 654.9v-3.5M107.1 586.5v3.5M107.1 654.9v-3.5M125.4 586.5v10.4M125.4 654.9v-10.4M143.7 586.5v3.5M143.7 654.9v-3.5M162 586.5v3.5M162 654.9v-3.5M180.3 586.5v3.5M180.3 654.9v-3.5M198.6 586.5v3.5M198.6 654.9v-3.5M216.8 586.5v10.4M216.8 654.9v-10.4M235.1 586.5v3.5M235.1 654.9v-3.5M253.4 586.5v3.5M253.4 654.9v-3.5M271.7 586.5v3.5M271.7 654.9v-3.5M290 586.5v3.5M290 654.9v-3.5M308.3 586.5v10.4M308.3 654.9v-10.4M326.6 586.5v3.5M326.6 654.9v-3.5M344.9 586.5v3.5M344.9 654.9v-3.5M363.2 586.5v3.5M363.2 654.9v-3.5M381.5 586.5v3.5M381.5 654.9v-3.5M399.8 586.5v10.4M399.8 654.9v-10.4M418 586.5v3.5M418 654.9v-3.5M436.3 586.5v3.5M436.3 654.9v-3.5M454.6 586.5v3.5M454.6 654.9v-3.5M472.9 586.5v3.5M472.9 654.9v-3.5M491.2 586.5v10.4M491.2 654.9v-10.4M509.5 586.5v3.5M509.5 654.9v-3.5" stroke="#2a2a2a" stroke-width="1.1" fill="none"/>
<rect x="71.5" y="586.5" width="453.9" height="68.4" fill="none" stroke="#1c1c1c" stroke-width="1.15"/>
<line x1="71" y1="586.5" x2="525.9" y2="586.5" stroke="#000" stroke-width="1.35" />
<line x1="71" y1="654.9" x2="525.9" y2="654.9" stroke="#000" stroke-width="1.35" />
<path d="M71.5 603.8h5.8M525.4 603.8h-5.8M71.5 625h3M525.4 625h-3M71.5 638h3M525.4 638h-3M71.5 647h3M525.4 647h-3" stroke="#111" stroke-width="1"/>
<text x="38.5" y="621.5" font-size="11.5" text-anchor="middle" fill="#000" transform="rotate(-90 38.5 621.5)" >T<tspan dy="3.8" font-size="8.3">i</tspan><tspan dy="-3.8" font-size="1">&#8203;</tspan> [eV]</text>
<line x1="112.5" y1="658.5" x2="112.5" y2="722" stroke="#ff0000" stroke-width="1.2" stroke-dasharray="8.8 4.8"/>
<line x1="127.7" y1="658.5" x2="127.7" y2="722" stroke="#3434ff" stroke-width="1.5" stroke-dasharray="1.8 2.7"/>
<line x1="300.7" y1="658.5" x2="300.7" y2="722" stroke="#ff0000" stroke-width="1.2" stroke-dasharray="8.8 4.8"/>
<line x1="342.2" y1="658.5" x2="342.2" y2="722" stroke="#ff20ff" stroke-width="1.55" stroke-dasharray="1.7 3.0"/>
<line x1="394.5" y1="658.5" x2="394.5" y2="722" stroke="#10b010" stroke-width="1.3" stroke-dasharray="8.8 4.8"/>
<polyline points="72.1,696.3 74.1,696.3 76.1,696.3 78.1,696.3 80.1,696.3 82.1,696.3 84.1,696.3 86.1,696.3 88.1,696.3 90.1,696.3 92.1,696.3 94.1,696.3 96.1,696.3 98.1,696.3 100.1,696.3 102.1,696.3 104.1,696.3 106.2,696.3 108.2,696.3 110.2,696.3 112.2,696.3 114.2,696.3 116.2,696.3 118.2,696.3 120.2,696.3 122.2,696.3 124.2,696.3 126.2,696.3 128.2,696.3 130.2,696.3 132.2,696.3 134.2,696.3 136.2,696.3 138.2,696.3 140.2,696.3 142.2,696.3 144.2,696.3 146.2,696.3 148.2,696.3 150.2,696.3 152.2,696.3 154.2,696.3 156.2,696.3 158.2,696.3 160.2,696.3 162.2,696.3 164.2,696.3 166.2,696.3 168.2,696.3 170.3,696.3 172.3,696.3 174.3,696.3 176.3,696.3 178.3,696.3 180.3,696.3 182.3,696.3 184.3,696.3 186.3,696.3 188.3,696.3 190.3,696.3 192.3,696.3 194.3,696.3 196.3,696.3 198.3,696.3 200.3,696.3 202.3,696.3 204.3,696.3 206.3,696.3 208.3,696.3 210.3,696.3 212.3,696.3 214.3,696.3 216.3,696.3 218.3,696.3 220.3,696.3 222.3,696.3 224.3,696.3 226.3,696.3 228.3,696.3 230.3,696.3 232.3,696.3 234.4,696.3 236.4,696.3 238.4,696.3 240.4,696.3 242.4,696.3 244.4,696.3 246.4,696.3 248.4,696.3 250.4,696.3 252.4,696.3 254.4,696.3 256.4,696.3 258.4,696.3 260.4,696.3 262.4,696.3 264.4,696.3 266.4,696.3 268.4,696.3 270.4,696.3 272.4,696.3 274.4,696.3 276.4,696.3 278.4,696.3 280.4,696.3 282.4,696.3 284.4,696.3 286.4,696.3 288.4,696.3 290.4,696.3 292.4,696.3 294.4,696.3 296.4,696.3 298.4,696.3 300.5,696.3 302.5,696.3 304.5,696.3 306.5,696.3 308.5,696.3 310.5,696.3 312.5,696.3 314.5,696.3 316.5,696.3 318.5,696.3 320.5,696.3 322.5,696.3 324.5,696.3 326.5,696.3 328.5,696.3 330.5,696.3 332.5,696.3 334.5,696.3 336.5,696.3 338.5,696.3 340.5,696.3 342.5,696.3 344.5,696.3 346.5,696.3 348.5,696.3 350.5,696.3 352.5,696.3 354.5,696.3 356.5,696.3 358.5,696.3 360.5,696.3 362.5,696.3 364.6,696.3 366.6,696.3 368.6,696.3 370.6,696.3 372.6,696.3 374.6,696.3 376.6,696.3 378.6,696.3 380.6,696.3 382.6,696.3 384.6,696.3 386.6,696.3 388.6,696.3 390.6,696.3 392.6,696.3 394.6,696.3 396.6,696.3 398.6,696.3 400.6,696.3 402.6,696.3 404.6,696.3 406.6,696.3 408.6,696.3 410.6,696.3 412.6,696.3 414.6,696.3 416.6,696.3 418.6,696.3 420.6,696.3 422.6,696.3 424.6,696.3 426.6,696.3 428.7,696.3 430.7,696.3 432.7,696.3 434.7,696.3 436.7,696.3 438.7,696.3 440.7,696.3 442.7,696.3 444.7,696.3 446.7,696.3 448.7,696.3 450.7,696.3 452.7,696.3 454.7,696.3 456.7,696.3 458.7,696.3 460.7,696.3 462.7,696.3 464.7,696.3 466.7,696.3 468.7,696.3 470.7,696.3 472.7,696.3 474.7,696.3 476.7,696.3 478.7,696.3 480.7,696.3 482.7,696.3 484.7,696.3 486.7,696.3 488.7,696.3 490.7,696.3 492.8,696.3 494.8,696.3 496.8,696.3 498.8,696.3 500.8,696.3 502.8,696.3 504.8,696.3 506.8,696.3 508.8,696.3 510.8,696.3 512.8,696.3 514.8,696.3 516.8,696.3 518.8,696.3 520.8,696.3 522.8,696.3 524.8,696.3" fill="none" stroke="#a4a4a4" stroke-width="1.3" stroke-linejoin="round" />
<polyline points="72.1,694 74.1,693.8 76.1,694 78.1,693.3 80.1,693.2 82.1,693.6 84.1,693.1 86.1,693.8 88.1,694 90.1,693.6 92.1,693.8 94.1,693.3 96.1,693.9 98.1,693.2 100.1,693.6 102.1,694.1 104.1,694 106.2,693.4 108.2,693.5 110.2,693.2 112.2,693.8 114.2,693.4 116.2,692.7 118.2,693.4 120.2,693.7 122.2,693.4 124.2,693.6 126.2,694.3 128.2,693.5 130.2,693.2 132.2,694 134.2,693.5 136.2,693.6 138.2,693.4 140.2,693.1 142.2,693.2 144.2,693.5 146.2,693.9 148.2,692.5 150.2,694.2 152.2,693.6 154.2,693.7 156.2,693.7 158.2,693.6 160.2,694 162.2,692.8 164.2,692.5 166.2,693.7 168.2,693 170.3,693.3 172.3,693 174.3,693.6 176.3,694.1 178.3,693.7 180.3,692.5 182.3,693.4 184.3,693.9 186.3,693.7 188.3,692.7 190.3,693.9 192.3,693.2 194.3,693.3 196.3,693.7 198.3,693.7 200.3,693.4 202.3,692.7 204.3,693.3 206.3,693.5 208.3,693.5 210.3,692.8 212.3,693.2 214.3,693.1 216.3,692.2 218.3,693.8 220.3,693.4 222.3,693.6 224.3,693.4 226.3,694.1 228.3,694.2 230.3,693.5 232.3,693.7 234.4,694 236.4,692.6 238.4,693.5 240.4,693.5 242.4,693.1 244.4,693.1 246.4,693.6 248.4,694.2 250.4,693 252.4,694 254.4,694 256.4,693.2 258.4,693.5 260.4,692.6 262.4,693.3 264.4,693 266.4,693.7 268.4,693.4 270.4,693 272.4,693.4 274.4,693.6 276.4,694.2 278.4,692.7 280.4,693.2 282.4,693.2 284.4,693.1 286.4,692.8 288.4,693.4 290.4,694.3 292.4,694 294.4,693.1 296.4,693.2 298.4,692.9 300.5,693.5 302.5,693.2 304.5,693.1 306.5,693.2 308.5,693.2 310.5,692.9 312.5,693.1 314.5,693.7 316.5,692.7 318.5,693 320.5,693.6 322.5,693.2 324.5,693.7 326.5,693.6 328.5,693.4 330.5,693.6 332.5,692.6 334.5,692.7 336.5,693.4 338.5,693.1 340.5,693.3 342.5,694.6 344.5,693.1 346.5,692.9 348.5,692.9 350.5,693.1 352.5,693 354.5,693.3 356.5,693.6 358.5,694.1 360.5,693.4 362.5,693.7 364.6,693.4 366.6,692.6 368.6,693.1 370.6,693.1 372.6,693.9 374.6,693.1 376.6,692.9 378.6,693.1 380.6,693.2 382.6,693.7 384.6,693.3 386.6,692.8 388.6,693.2 390.6,692.6 392.6,692.8 394.6,693.2 396.6,693.1 398.6,693.2 400.6,693.3 402.6,693.4 404.6,693.2 406.6,692.6 408.6,692.9 410.6,693 412.6,693.4 414.6,692.9 416.6,693.3 418.6,693.7 420.6,693.1 422.6,692.8 424.6,692.9 426.6,693.1 428.7,693 430.7,693.6 432.7,693.3 434.7,693.5 436.7,693 438.7,693.7 440.7,692.7 442.7,693 444.7,693.4 446.7,694.1 448.7,692.6 450.7,693 452.7,693.4 454.7,693.1 456.7,693.8 458.7,693.4 460.7,693 462.7,693.4 464.7,693.8 466.7,692.7 468.7,692.9 470.7,692.9 472.7,693 474.7,693.6 476.7,693.1 478.7,693.3 480.7,694.1 482.7,693.4 484.7,693.1 486.7,693.1 488.7,693.6 490.7,692.3 492.8,692.4 494.8,693.7 496.8,692.5 498.8,692.7 500.8,694.3 502.8,693.2 504.8,692.7 506.8,693.6 508.8,693.1 510.8,693.5 512.8,692.6 514.8,693.4 516.8,692.6 518.8,693.4 520.8,693.3 522.8,693.4 524.8,693.2" fill="none" stroke="#50ff50" stroke-width="1.1" stroke-linejoin="round" />
<polyline points="72.1,659 74.1,657.9 76.1,658.7 78.1,658.7 80.1,658.2 82.1,657.8 84.1,659.2 86.1,657.7 88.1,657.9 90.1,658.9 92.1,659 94.1,657.4 96.1,658.9 98.1,658.1 100.1,657.9 102.1,658.7 104.1,658.4 106.2,658.4 108.2,658.3 110.2,658.6 112.2,658.8 114.2,659.2 116.2,659.1 118.2,658.7 120.2,658.8 122.2,658.8 124.2,658.5 126.2,659 128.2,658.7 130.2,658 132.2,658.5 134.2,657.9 136.2,658.8 138.2,657.6 140.2,657.7 142.2,658 144.2,658.4 146.2,658.6 148.2,659.3 150.2,659.1 152.2,658.8 154.2,658.1 156.2,657.6 158.2,658.8 160.2,658.4 162.2,658.1 164.2,658.4 166.2,659.6 168.2,658.7 170.3,659.2 172.3,658.9 174.3,658.1 176.3,658.4 178.3,658.9 180.3,658.8 182.3,659.3 184.3,658.3 186.3,658.1 188.3,657.9 190.3,657.7 192.3,658.1 194.3,658.5 196.3,658.3 198.3,658.4 200.3,659.8 202.3,658.9 204.3,658.7 206.3,657.8 208.3,658.3 210.3,657.6 212.3,657.5 214.3,658.7 216.3,658.9 218.3,658.8 220.3,657.9 222.3,658.6 224.3,658.3 226.3,658.3 228.3,658.2 230.3,658.7 232.3,658.4 234.4,658.8 236.4,658.2 238.4,658.4 240.4,658.4 242.4,658.2 244.4,658.4 246.4,659.2 248.4,659.1 250.4,658.2 252.4,658.5 254.4,658.2 256.4,658.3 258.4,658.5 260.4,658.9 262.4,659 264.4,658.2 266.4,658.6 268.4,658.5 270.4,658.4 272.4,658.5 274.4,658.2 276.4,658.6 278.4,658.9 280.4,659.4 282.4,657.3 284.4,658.8 286.4,657.3 288.4,659 290.4,658.2 292.4,658.2 294.4,659.4 296.4,658.6 298.4,658.5 300.5,659.1 302.5,658.9 304.5,658.5 306.5,658.2 308.5,658.1 310.5,659.4 312.5,659.3 314.5,658.7 316.5,658.6 318.5,658 320.5,658.3 322.5,658.5 324.5,659.1 326.5,658 328.5,658.5 330.5,658.2 332.5,658.8 334.5,658.3 336.5,659.4 338.5,659 340.5,658.3 342.5,657.9 344.5,658.8 346.5,658.9 348.5,657.9 350.5,658.5 352.5,658 354.5,657.7 356.5,658.2 358.5,659.1 360.5,658.2 362.5,658.8 364.6,658.6 366.6,658.9 368.6,658.1 370.6,658.1 372.6,658.5 374.6,658.5 376.6,659 378.6,659 380.6,658.6 382.6,658.4 384.6,658.9 386.6,658.9 388.6,658.5 390.6,658.8 392.6,658.7 394.6,658.7 396.6,659.3 398.6,658.7 400.6,658.5 402.6,659.2 404.6,658.5 406.6,659.1 408.6,658.3 410.6,658.7 412.6,657.8 414.6,658.9 416.6,658.5 418.6,658.2 420.6,658.6 422.6,658.4 424.6,658 426.6,658.2 428.7,657.4 430.7,658.5 432.7,658.4 434.7,659.4 436.7,658.4 438.7,658.6 440.7,658.7 442.7,658.2 444.7,658.3 446.7,658.5 448.7,658 450.7,658.6 452.7,658.6 454.7,658.2 456.7,658.7 458.7,658.5 460.7,658.1 462.7,657.9 464.7,659.1 466.7,658 468.7,658.2 470.7,658 472.7,658.4 474.7,658.6 476.7,658.7 478.7,658.3 480.7,658.5 482.7,658.6 484.7,658 486.7,658.5 488.7,657.8 490.7,658.5 492.8,658 494.8,658.6 496.8,659.2 498.8,658.4 500.8,658.3 502.8,658.8 504.8,658.6 506.8,658.9 508.8,658.5 510.8,658 512.8,658.6 514.8,658.6 516.8,658.2 518.8,658.3 520.8,658.8 522.8,658.6 524.8,658.6" fill="none" stroke="#5050ff" stroke-width="1.0" stroke-linejoin="round" />
<line x1="71.5" y1="721.1" x2="525.4" y2="721.1" stroke="#ff9c9c" stroke-width="2.2" />
<line x1="78" y1="660.9" x2="95" y2="660.9" stroke="#40ff40" stroke-width="1.2" />
<text x="96.4" y="664.1" font-size="9.5" text-anchor="start" fill="#40ff40" >P<tspan dy="3.2" font-size="5.8">p</tspan><tspan dy="-3.2" font-size="1">&#8203;</tspan></text>
<line x1="78" y1="672" x2="95" y2="672" stroke="#ff4040" stroke-width="1.2" />
<text x="96.4" y="675.2" font-size="9.5" text-anchor="start" fill="#ff4040" >P<tspan dy="3.2" font-size="5.8">e</tspan><tspan dy="-3.2" font-size="1">&#8203;</tspan></text>
<line x1="78" y1="683.3" x2="95" y2="683.3" stroke="#333" stroke-width="1.2" />
<text x="96.4" y="686.5" font-size="9.5" text-anchor="start" fill="#333" >P<tspan dy="3.2" font-size="5.8">b</tspan><tspan dy="-3.2" font-size="1">&#8203;</tspan></text>
<line x1="78" y1="694.7" x2="95" y2="694.7" stroke="#3030ff" stroke-width="1.2" />
<text x="96.4" y="697.9" font-size="9.5" text-anchor="start" fill="#3030ff" >P<tspan dy="3.2" font-size="5.8">tot</tspan><tspan dy="-3.2" font-size="1">&#8203;</tspan></text>
<path d="M88.8 654.9v3.5M88.8 723.2v-3.5M107.1 654.9v3.5M107.1 723.2v-3.5M125.4 654.9v10.4M125.4 723.2v-10.4M143.7 654.9v3.5M143.7 723.2v-3.5M162 654.9v3.5M162 723.2v-3.5M180.3 654.9v3.5M180.3 723.2v-3.5M198.6 654.9v3.5M198.6 723.2v-3.5M216.8 654.9v10.4M216.8 723.2v-10.4M235.1 654.9v3.5M235.1 723.2v-3.5M253.4 654.9v3.5M253.4 723.2v-3.5M271.7 654.9v3.5M271.7 723.2v-3.5M290 654.9v3.5M290 723.2v-3.5M308.3 654.9v10.4M308.3 723.2v-10.4M326.6 654.9v3.5M326.6 723.2v-3.5M344.9 654.9v3.5M344.9 723.2v-3.5M363.2 654.9v3.5M363.2 723.2v-3.5M381.5 654.9v3.5M381.5 723.2v-3.5M399.8 654.9v10.4M399.8 723.2v-10.4M418 654.9v3.5M418 723.2v-3.5M436.3 654.9v3.5M436.3 723.2v-3.5M454.6 654.9v3.5M454.6 723.2v-3.5M472.9 654.9v3.5M472.9 723.2v-3.5M491.2 654.9v10.4M491.2 723.2v-10.4M509.5 654.9v3.5M509.5 723.2v-3.5" stroke="#2a2a2a" stroke-width="1.1" fill="none"/>
<rect x="71.5" y="654.9" width="453.9" height="68.4" fill="none" stroke="#1c1c1c" stroke-width="1.15"/>
<line x1="71" y1="654.9" x2="525.9" y2="654.9" stroke="#000" stroke-width="1.35" />
<path d="M71.5 710.4h5.8M525.4 710.4h-5.8M71.5 694.3h5.8M525.4 694.3h-5.8M71.5 678.2h5.8M525.4 678.2h-5.8M71.5 662.1h5.8M525.4 662.1h-5.8M71.5 720.1h2.6M525.4 720.1h-2.6M71.5 716.8h2.6M525.4 716.8h-2.6M71.5 713.6h2.6M525.4 713.6h-2.6M71.5 710.4h2.6M525.4 710.4h-2.6M71.5 707.2h2.6M525.4 707.2h-2.6M71.5 704h2.6M525.4 704h-2.6M71.5 700.7h2.6M525.4 700.7h-2.6M71.5 697.5h2.6M525.4 697.5h-2.6M71.5 694.3h2.6M525.4 694.3h-2.6M71.5 691.1h2.6M525.4 691.1h-2.6M71.5 687.9h2.6M525.4 687.9h-2.6M71.5 684.6h2.6M525.4 684.6h-2.6M71.5 681.4h2.6M525.4 681.4h-2.6M71.5 678.2h2.6M525.4 678.2h-2.6M71.5 675h2.6M525.4 675h-2.6M71.5 671.8h2.6M525.4 671.8h-2.6M71.5 668.5h2.6M525.4 668.5h-2.6M71.5 665.3h2.6M525.4 665.3h-2.6M71.5 662.1h2.6M525.4 662.1h-2.6M71.5 658.9h2.6M525.4 658.9h-2.6" stroke="#111" stroke-width="1.1" fill="none"/>
<text x="527.6" y="714.1" font-size="10.4" text-anchor="start" fill="#000" >0.5</text>
<text x="527.6" y="698" font-size="10.4" text-anchor="start" fill="#000" >1.0</text>
<text x="527.6" y="681.9" font-size="10.4" text-anchor="start" fill="#000" >1.5</text>
<text x="527.6" y="665.8" font-size="10.4" text-anchor="start" fill="#000" >2.0</text>
<text x="562.5" y="689.8" font-size="11.5" text-anchor="middle" fill="#000" transform="rotate(-90 562.5 689.8)" >P [nPa]</text>
<text x="124.9" y="739.9" font-size="11" text-anchor="middle" fill="#000" >23:53:10</text>
<text x="216.3" y="739.9" font-size="11" text-anchor="middle" fill="#000" >23:53:20</text>
<text x="307.8" y="739.9" font-size="11" text-anchor="middle" fill="#000" >23:53:30</text>
<text x="399.2" y="739.9" font-size="11" text-anchor="middle" fill="#000" >23:53:40</text>
<text x="490.7" y="739.9" font-size="11" text-anchor="middle" fill="#000" >23:53:50</text>
<text x="53.3" y="761.2" font-size="11" text-anchor="middle" fill="#000" >X</text>
<text x="124.9" y="761.2" font-size="11" text-anchor="middle" fill="#000" >-0.165</text>
<text x="216.3" y="761.2" font-size="11" text-anchor="middle" fill="#000" >-0.167</text>
<text x="307.8" y="761.2" font-size="11" text-anchor="middle" fill="#000" >-0.169</text>
<text x="399.2" y="761.2" font-size="11" text-anchor="middle" fill="#000" >-0.171</text>
<text x="490.7" y="761.2" font-size="11" text-anchor="middle" fill="#000" >-0.172</text>
<text x="545.6" y="761.2" font-size="11" text-anchor="middle" fill="#000" >Re</text>
<text x="53.3" y="779.2" font-size="11" text-anchor="middle" fill="#000" >Y</text>
<text x="124.9" y="779.2" font-size="11" text-anchor="middle" fill="#000" >9.97</text>
<text x="216.3" y="779.2" font-size="11" text-anchor="middle" fill="#000" >9.97</text>
<text x="307.8" y="779.2" font-size="11" text-anchor="middle" fill="#000" >9.97</text>
<text x="399.2" y="779.2" font-size="11" text-anchor="middle" fill="#000" >9.96</text>
<text x="490.7" y="779.2" font-size="11" text-anchor="middle" fill="#000" >9.96</text>
<text x="545.6" y="779.2" font-size="11" text-anchor="middle" fill="#000" >Re</text>
<text x="53.3" y="797.1" font-size="11" text-anchor="middle" fill="#000" >Z</text>
<text x="124.9" y="797.1" font-size="11" text-anchor="middle" fill="#000" >0.835</text>
<text x="216.3" y="797.1" font-size="11" text-anchor="middle" fill="#000" >0.836</text>
<text x="307.8" y="797.1" font-size="11" text-anchor="middle" fill="#000" >0.836</text>
<text x="399.2" y="797.1" font-size="11" text-anchor="middle" fill="#000" >0.836</text>
<text x="490.7" y="797.1" font-size="11" text-anchor="middle" fill="#000" >0.836</text>
<text x="545.6" y="797.1" font-size="11" text-anchor="middle" fill="#000" >Re</text>
<text x="425.8" y="838" font-size="12" text-anchor="start" fill="#000" >paschmann 26-Oct-2018 12:20</text>
<text x="627.3" y="11.9" font-size="11" text-anchor="start" fill="#000" >Plot layout GP 19/10/2018</text>
<text x="894.6" y="35" font-size="17.7" text-anchor="middle" fill="#000" >MMS2</text>
<text x="996.8" y="24" font-size="18" text-anchor="start" fill="#990000" font-weight="bold" >20161012_235304</text>
<polyline points="672.3,44.4 676.9,44.4 681.4,44.4 686,44.4 690.5,44.4 695.1,44.4 699.6,44.4 704.2,44.4 708.7,44.4 713.3,44.4 717.9,44.5 722.4,44.5 727,44.5 731.5,44.5 736.1,44.5 740.6,44.5 745.2,44.5 749.7,44.5 754.3,44.5 758.8,44.5 763.4,44.5 768,44.5 772.5,44.5 777.1,44.5 781.6,44.5 786.2,44.5 790.7,44.6 795.3,44.6 799.8,44.6 804.4,44.6 808.9,44.6 813.5,44.6 818.1,44.6 822.6,44.6 827.2,44.6 831.7,44.6 836.3,44.6 840.8,44.6 845.4,44.6 849.9,44.6 854.5,44.6 859,44.7 863.6,44.7 868.1,44.7 872.7,44.7 877.3,44.7 881.8,44.7 886.4,44.7 890.9,44.7 895.5,44.7 900,44.7 904.6,44.7 909.1,44.7 913.7,44.7 918.2,44.7 922.8,44.7 927.4,44.7 931.9,44.8 936.5,44.8 941,44.8 945.6,44.8 950.1,44.8 954.7,44.8 959.2,44.8 963.8,44.8 968.3,44.8 972.9,44.8 977.5,44.8 982,44.8 986.6,44.8 991.1,44.8 995.7,44.8 1000.2,44.8 1004.8,44.9 1009.3,44.9 1013.9,44.9 1018.4,44.9 1023,44.9 1027.5,44.9 1032.1,44.9 1036.7,44.9 1041.2,44.9 1045.8,44.9 1050.3,44.9 1054.9,44.9 1059.4,44.9 1064,44.9 1068.5,44.9 1073.1,45 1077.6,45 1082.2,45 1086.8,45 1091.3,45 1095.9,45 1100.4,45 1105,45 1109.5,45 1114.1,45 1118.6,45 1123.2,45" fill="none" stroke="#70ff70" stroke-width="1.2" stroke-linejoin="round" />
<polyline points="672.3,113 676.9,113 681.4,113 686,113 690.5,113 695.1,113 699.6,113 704.2,113 708.7,113 713.3,113 717.9,113 722.4,113 727,113 731.5,113 736.1,113 740.6,113 745.2,113 749.7,113 754.3,113 758.8,113 763.4,113 768,113 772.5,113 777.1,113 781.6,113 786.2,113 790.7,113 795.3,113 799.8,113 804.4,113 808.9,113 813.5,113 818.1,113 822.6,113 827.2,113 831.7,113 836.3,113 840.8,113 845.4,113 849.9,113 854.5,113 859,113 863.6,113 868.1,113 872.7,113 877.3,113 881.8,113 886.4,113 890.9,113 895.5,113 900,113 904.6,113 909.1,113 913.7,113 918.2,113 922.8,113 927.4,113 931.9,113 936.5,113 941,113 945.6,113 950.1,113 954.7,113 959.2,113 963.8,113 968.3,113 972.9,113 977.5,113 982,113 986.6,113 991.1,113 995.7,113 1000.2,113 1004.8,113 1009.3,113 1013.9,113 1018.4,113 1023,113 1027.5,113 1032.1,113 1036.7,113 1041.2,113 1045.8,113 1050.3,113 1054.9,113 1059.4,113 1064,113 1068.5,113 1073.1,113 1077.6,113 1082.2,113 1086.8,113 1091.3,113 1095.9,113 1100.4,113 1105,113 1109.5,113 1114.1,113 1118.6,113 1123.2,113" fill="none" stroke="#ff5858" stroke-width="0.8" stroke-linejoin="round" />
<polyline points="672.3,55.9 676.9,56 681.4,56 686,56.1 690.5,56.1 695.1,56.2 699.6,56.3 704.2,56.3 708.7,56.4 713.3,56.4 717.9,56.5 722.4,56.5 727,56.6 731.5,56.7 736.1,56.7 740.6,56.8 745.2,56.8 749.7,56.9 754.3,57 758.8,57 763.4,57.1 768,57.2 772.5,57.2 777.1,57.3 781.6,57.4 786.2,57.5 790.7,57.5 795.3,57.6 799.8,57.7 804.4,57.7 808.9,57.8 813.5,57.9 818.1,58 822.6,58 827.2,58.1 831.7,58.2 836.3,58.3 840.8,58.3 845.4,58.4 849.9,58.5 854.5,58.6 859,58.7 863.6,58.8 868.1,58.8 872.7,58.9 877.3,59 881.8,59.1 886.4,59.2 890.9,59.3 895.5,59.4 900,59.5 904.6,59.6 909.1,59.7 913.7,59.8 918.2,59.9 922.8,60 927.4,60 931.9,60.1 936.5,60.1 941,60.2 945.6,60.2 950.1,60.2 954.7,60.2 959.2,60.2 963.8,60.2 968.3,60.2 972.9,60.1 977.5,60.1 982,60.1 986.6,60 991.1,60 995.7,59.9 1000.2,59.9 1004.8,59.8 1009.3,59.8 1013.9,59.7 1018.4,59.7 1023,59.6 1027.5,59.6 1032.1,59.5 1036.7,59.5 1041.2,59.5 1045.8,59.4 1050.3,59.4 1054.9,59.3 1059.4,59.3 1064,59.3 1068.5,59.2 1073.1,59.2 1077.6,59.2 1082.2,59.2 1086.8,59.1 1091.3,59.1 1095.9,59.1 1100.4,59.1 1105,59.1 1109.5,59.1 1114.1,59 1118.6,59 1123.2,59" fill="none" stroke="#6868ff" stroke-width="1.1" stroke-linejoin="round" />
<path d="M681.4 55.2v1.6M699.6 55.5v1.6M717.9 55.7v1.6M736.1 55.9v1.6M754.3 56.2v1.6M772.5 56.4v1.6M790.7 56.7v1.6M808.9 57v1.6M827.2 57.3v1.6M845.4 57.6v1.6M863.6 58v1.6M881.8 58.3v1.6M900 58.7v1.6M918.2 59.1v1.6M936.5 59.3v1.6M954.7 59.4v1.6M972.9 59.3v1.6M991.1 59.2v1.6M1009.3 59v1.6M1027.5 58.8v1.6M1045.8 58.6v1.6M1064 58.5v1.6M1082.2 58.4v1.6M1100.4 58.3v1.6M1118.6 58.2v1.6" stroke="#3030d0" stroke-width="1.2"/>
<line x1="668.5" y1="71.9" x2="1122.4" y2="71.9" stroke="#444" stroke-width="1.5" stroke-dasharray="4.2 2.7"/>
<line x1="709.5" y1="47" x2="709.5" y2="114" stroke="#ff0000" stroke-width="1.2" stroke-dasharray="8.8 4.8"/>
<line x1="724.7" y1="47" x2="724.7" y2="114" stroke="#3434ff" stroke-width="1.5" stroke-dasharray="1.8 2.7"/>
<line x1="897.7" y1="47" x2="897.7" y2="114" stroke="#ff0000" stroke-width="1.2" stroke-dasharray="8.8 4.8"/>
<line x1="939.2" y1="47" x2="939.2" y2="114" stroke="#ff20ff" stroke-width="1.55" stroke-dasharray="1.7 3.0"/>
<line x1="991.5" y1="47" x2="991.5" y2="114" stroke="#10b010" stroke-width="1.3" stroke-dasharray="8.8 4.8"/>
<line x1="674.8" y1="55.3" x2="692" y2="55.3" stroke="#4040ff" stroke-width="1.2" />
<text x="693.6" y="58.1" font-size="9.2" text-anchor="start" fill="#0000ff" >B<tspan dy="3.6" font-size="6.5">L</tspan><tspan dy="-3.6" font-size="1">&#8203;</tspan></text>
<line x1="674.8" y1="79.5" x2="692" y2="79.5" stroke="#50ff50" stroke-width="1.2" />
<text x="693.6" y="82.3" font-size="9.2" text-anchor="start" fill="#30ff30" >B<tspan dy="3.6" font-size="6.5">M</tspan><tspan dy="-3.6" font-size="1">&#8203;</tspan></text>
<line x1="674.8" y1="103.8" x2="692" y2="103.8" stroke="#ff6060" stroke-width="1.2" />
<text x="693.6" y="106.6" font-size="9.2" text-anchor="start" fill="#ff0000" >B<tspan dy="3.6" font-size="6.5">N</tspan><tspan dy="-3.6" font-size="1">&#8203;</tspan></text>
<path d="M685.8 41.9v3.5M685.8 115.2v-3.5M704.1 41.9v3.5M704.1 115.2v-3.5M722.4 41.9v10.4M722.4 115.2v-10.4M740.7 41.9v3.5M740.7 115.2v-3.5M759 41.9v3.5M759 115.2v-3.5M777.2 41.9v3.5M777.2 115.2v-3.5M795.5 41.9v3.5M795.5 115.2v-3.5M813.8 41.9v10.4M813.8 115.2v-10.4M832.1 41.9v3.5M832.1 115.2v-3.5M850.4 41.9v3.5M850.4 115.2v-3.5M868.6 41.9v3.5M868.6 115.2v-3.5M886.9 41.9v3.5M886.9 115.2v-3.5M905.2 41.9v10.4M905.2 115.2v-10.4M923.5 41.9v3.5M923.5 115.2v-3.5M941.8 41.9v3.5M941.8 115.2v-3.5M960 41.9v3.5M960 115.2v-3.5M978.3 41.9v3.5M978.3 115.2v-3.5M996.6 41.9v10.4M996.6 115.2v-10.4M1014.9 41.9v3.5M1014.9 115.2v-3.5M1033.2 41.9v3.5M1033.2 115.2v-3.5M1051.4 41.9v3.5M1051.4 115.2v-3.5M1069.7 41.9v3.5M1069.7 115.2v-3.5M1088 41.9v10.4M1088 115.2v-10.4M1106.3 41.9v3.5M1106.3 115.2v-3.5" stroke="#2a2a2a" stroke-width="1.1" fill="none"/>
<rect x="668.5" y="41.9" width="453.9" height="73.3" fill="none" stroke="#1c1c1c" stroke-width="1.15"/>
<line x1="668" y1="115.2" x2="1122.9" y2="115.2" stroke="#000" stroke-width="1.35" />
<path d="M668.5 114.9h5.8M1122.4 114.9h-5.8M668.5 93.4h5.8M1122.4 93.4h-5.8M668.5 71.9h5.8M1122.4 71.9h-5.8M668.5 50.4h5.8M1122.4 50.4h-5.8M668.5 114.9h2.6M1122.4 114.9h-2.6M668.5 109.5h2.6M1122.4 109.5h-2.6M668.5 104.2h2.6M1122.4 104.2h-2.6M668.5 98.8h2.6M1122.4 98.8h-2.6M668.5 93.4h2.6M1122.4 93.4h-2.6M668.5 88h2.6M1122.4 88h-2.6M668.5 82.7h2.6M1122.4 82.7h-2.6M668.5 77.3h2.6M1122.4 77.3h-2.6M668.5 71.9h2.6M1122.4 71.9h-2.6M668.5 66.5h2.6M1122.4 66.5h-2.6M668.5 61.1h2.6M1122.4 61.1h-2.6M668.5 55.8h2.6M1122.4 55.8h-2.6M668.5 50.4h2.6M1122.4 50.4h-2.6M668.5 45h2.6M1122.4 45h-2.6" stroke="#111" stroke-width="1.1" fill="none"/>
<text x="665.3" y="118.6" font-size="10.5" text-anchor="end" fill="#000" >-40</text>
<text x="665.3" y="97.1" font-size="10.5" text-anchor="end" fill="#000" >-20</text>
<text x="665.3" y="75.6" font-size="10.5" text-anchor="end" fill="#000" >0</text>
<text x="665.3" y="54.1" font-size="10.5" text-anchor="end" fill="#000" >20</text>
<text x="638.2" y="79.5" font-size="11.5" text-anchor="middle" fill="#000" transform="rotate(-90 638.2 79.5)" >B<tspan dy="3.8" font-size="8.3">LMN</tspan><tspan dy="-3.8" font-size="1">&#8203;</tspan> [nT]</text>
<g shape-rendering="crispEdges">
<rect x="668.5" y="115.1" width="453.9" height="2.6" fill="#00e4f8"/>
<rect x="668.5" y="117.4" width="453.9" height="2.6" fill="#00e4f8"/>
<rect x="668.5" y="119.7" width="453.9" height="2.6" fill="#00e4f8"/>
<rect x="668.5" y="122.1" width="453.9" height="2.6" fill="#00e8f0"/>
<rect x="668.5" y="124.4" width="453.9" height="2.6" fill="#20e020"/>
<rect x="668.5" y="126.7" width="453.9" height="2.6" fill="#40e800"/>
<rect x="668.5" y="129" width="453.9" height="2.6" fill="#90f000"/>
<rect x="668.5" y="131.4" width="453.9" height="2.6" fill="#c0f400"/>
<rect x="668.5" y="133.7" width="453.9" height="2.6" fill="#f8f000"/>
<rect x="668.5" y="136" width="453.9" height="2.6" fill="#ffc000"/>
<rect x="668.5" y="138.3" width="453.9" height="2.6" fill="#ff9000"/>
<rect x="668.5" y="140.6" width="453.9" height="2.6" fill="#ff7000"/>
<rect x="668.5" y="143" width="453.9" height="2.6" fill="#ff6000"/>
<rect x="668.5" y="145.3" width="453.9" height="2.6" fill="#ff6000"/>
<rect x="668.5" y="147.6" width="453.9" height="2.6" fill="#ff6000"/>
<rect x="668.5" y="149.9" width="453.9" height="2.6" fill="#ff7800"/>
<rect x="668.5" y="152.2" width="453.9" height="2.6" fill="#ff9800"/>
<rect x="668.5" y="154.6" width="453.9" height="2.6" fill="#ffc000"/>
<rect x="668.5" y="156.9" width="453.9" height="2.6" fill="#fff000"/>
<rect x="668.5" y="159.2" width="453.9" height="2.6" fill="#d0f400"/>
<rect x="668.5" y="161.5" width="453.9" height="2.6" fill="#90f000"/>
<rect x="668.5" y="163.9" width="453.9" height="2.6" fill="#58ea00"/>
<rect x="668.5" y="166.2" width="453.9" height="2.6" fill="#34e600"/>
<rect x="668.5" y="168.5" width="453.9" height="2.6" fill="#2ce400"/>
<rect x="668.5" y="170.8" width="453.9" height="2.6" fill="#2ce400"/>
<rect x="668.5" y="173.1" width="453.9" height="2.6" fill="#34e600"/>
<rect x="668.5" y="175.5" width="453.9" height="2.6" fill="#58ea00"/>
<rect x="668.5" y="177.8" width="453.9" height="2.6" fill="#90f000"/>
<rect x="668.5" y="180.1" width="453.9" height="2.6" fill="#d0f400"/>
<rect x="668.5" y="182.4" width="453.9" height="2.6" fill="#f8f400"/>
<rect x="668.5" y="184.8" width="453.9" height="2.6" fill="#fff000"/>
<rect x="668.5" y="187.1" width="453.9" height="2.6" fill="#ffe400"/>
<path d="M668.5 116.4H1122.4" stroke="#0048ff" stroke-width="2.6" stroke-dasharray="0 2.2 1.1 4.4 1.1 18.7 1.1 1.1 2.2 3.3 1.1 6.6 1.1 5.5 1.1 3.3 1.1 5.5 1.1 3.3 1.1 3.3 1.1 13.2 1.1 8.8 2.2 3.3 1.1 12.1 1.1 1.1 1.1 1.1 1.1 3.3 1.1 4.4 2.2 1.1 1.1 7.7 1.1 1.1 1.1 8.8 1.1 7.7 2.2 4.4 1.1 3.3 1.1 3.3 2.2 3.3 1.1 5.5 1.1 5.5 3.3 5.5 1.1 1.1 2.2 2.2 1.1 8.8 1.1 8.8 1.1 18.7 1.1 6.6 1.1 1.1 1.1 2.2 1.1 3.3 1.1 6.6 1.1 9.9 1.1 7.7 1.1 2.2 2.2 7.7 1.1 4.4 2.2 3.3 1.1 11 3.3 3.3 1.1 3.3 1.1 1.1 2.2 5.5 1.1 9.9 1.1 1.1 2.2 1.1 1.1 4.4 1.1 1.1 1.1 2.2 4.4 5.5 3.3 7.7 1.1 4.4 1.1 1.1 1.1 1.1 1.1 23.1 1.1 1.1 1.1 3.3 1.1 3.3 1.1 8.8" fill="none"/>
<path d="M668.5 116.4H1122.4" stroke="#0098ff" stroke-width="2.6" stroke-dasharray="0 3.3 1.1 12.1 1.1 1.1 1.1 1.1 1.1 4.4 1.1 5.5 2.2 16.5 2.2 20.9 2.2 2.2 1.1 2.2 1.1 3.3 1.1 2.2 1.1 16.5 1.1 1.1 1.1 2.2 1.1 14.3 1.1 1.1 1.1 7.7 1.1 1.1 1.1 2.2 2.2 1.1 1.1 4.4 1.1 3.3 1.1 8.8 2.2 17.6 1.1 1.1 1.1 7.7 2.2 6.6 1.1 2.2 1.1 1.1 1.1 1.1 3.3 2.2 1.1 1.1 1.1 2.2 1.1 2.2 1.1 4.4 1.1 2.2 2.2 6.6 1.1 1.1 1.1 8.8 1.1 4.4 1.1 1.1 1.1 1.1 1.1 34.1 2.2 2.2 1.1 1.1 1.1 2.2 1.1 9.9 1.1 6.6 2.2 6.6 1.1 3.3 2.2 9.9 1.1 9.9 1.1 12.1 1.1 3.3 1.1 3.3 1.1 8.8 2.2 4.4 1.1 9.9 1.1 8.8 1.1 1.1 1.1 8.8 1.1 4.4 3.3 4.4" fill="none"/>
<path d="M668.5 116.4H1122.4" stroke="#00e870" stroke-width="2.6" stroke-dasharray="0 11 1.1 5.5 1.1 18.7 2.2 5.5 1.1 24.2 1.1 6.6 1.1 8.8 1.1 26.4 1.1 5.5 1.1 31.9 2.2 15.4 1.1 15.4 1.1 11 1.1 4.4 1.1 16.5 1.1 26.4 1.1 22 1.1 1.1 2.2 6.6 1.1 1.1 1.1 2.2 1.1 9.9 1.1 31.9 1.1 2.2 1.1 5.5 1.1 16.5 1.1 7.7 1.1 25.3 1.1 11 2.2 1.1 1.1 19.8 1.1 1.1 1.1 16.5" fill="none"/>
<path d="M668.5 118.7H1122.4" stroke="#0060ff" stroke-width="2.6" stroke-dasharray="0 15.4 1.1 1.1 2.2 2.2 1.1 13.2 1.1 33 1.1 11 1.1 1.1 1.1 14.3 1.1 3.3 1.1 5.5 1.1 4.4 2.2 5.5 2.2 9.9 1.1 5.5 1.1 2.2 2.2 1.1 1.1 7.7 2.2 15.4 1.1 4.4 2.2 1.1 1.1 2.2 1.1 6.6 1.1 3.3 1.1 6.6 1.1 17.6 2.2 15.4 1.1 1.1 1.1 3.3 1.1 4.4 1.1 8.8 1.1 5.5 1.1 3.3 1.1 4.4 1.1 2.2 2.2 7.7 1.1 6.6 1.1 5.5 1.1 1.1 2.2 5.5 1.1 3.3 1.1 1.1 1.1 8.8 1.1 5.5 1.1 5.5 1.1 1.1 1.1 2.2 1.1 4.4 1.1 2.2 1.1 18.7 1.1 3.3 1.1 16.5 1.1 2.2 1.1 3.3 1.1 11 1.1 3.3 2.2 2.2 1.1 4.4 1.1 1.1 2.2 1.1 1.1 1.1 1.1 5.5" fill="none"/>
<path d="M668.5 118.7H1122.4" stroke="#00a0ff" stroke-width="2.6" stroke-dasharray="0 3.3 1.1 3.3 2.2 4.4 1.1 11 2.2 2.2 1.1 5.5 2.2 5.5 1.1 1.1 1.1 3.3 2.2 1.1 1.1 2.2 2.2 11 1.1 1.1 1.1 1.1 1.1 3.3 1.1 5.5 2.2 3.3 1.1 2.2 2.2 4.4 1.1 27.5 1.1 2.2 1.1 19.8 1.1 4.4 2.2 2.2 2.2 3.3 1.1 1.1 1.1 1.1 1.1 3.3 1.1 6.6 1.1 5.5 1.1 12.1 1.1 4.4 1.1 1.1 1.1 1.1 1.1 2.2 1.1 2.2 2.2 3.3 1.1 3.3 1.1 1.1 1.1 3.3 1.1 6.6 1.1 6.6 1.1 1.1 1.1 4.4 2.2 3.3 1.1 2.2 1.1 2.2 1.1 13.2 2.2 3.3 1.1 2.2 2.2 1.1 1.1 4.4 1.1 9.9 1.1 25.3 2.2 1.1 1.1 4.4 1.1 7.7 1.1 2.2 1.1 11 1.1 4.4 1.1 2.2 1.1 2.2 2.2 5.5 1.1 1.1 2.2 2.2 1.1 2.2 1.1 2.2 3.3 3.3 1.1 28.6 1.1 6.6" fill="none"/>
<path d="M668.5 118.7H1122.4" stroke="#00e880" stroke-width="2.6" stroke-dasharray="1.1 1.1 1.1 7.7 1.1 4.4 1.1 3.3 1.1 3.3 1.1 63.8 2.2 6.6 1.1 6.6 1.1 1.1 1.1 5.5 1.1 3.3 2.2 15.4 1.1 24.2 1.1 5.5 1.1 1.1 1.1 26.4 1.1 4.4 1.1 24.2 1.1 11 1.1 18.7 1.1 34.1 1.1 4.4 1.1 34.1 1.1 2.2 1.1 8.8 1.1 7.7 1.1 7.7 2.2 7.7 1.1 1.1 1.1 5.5 1.1 4.4 1.1 7.7 1.1 12.1 1.1 3.3 1.1 3.3 1.1 2.2 2.2 3.3 1.1 20.9" fill="none"/>
<path d="M668.5 121H1122.4" stroke="#0080ff" stroke-width="2.6" stroke-dasharray="0 1.1 1.1 5.5 2.2 2.2 1.1 3.3 1.1 14.3 1.1 1.1 1.1 2.2 1.1 3.3 1.1 1.1 1.1 1.1 1.1 5.5 2.2 4.4 1.1 18.7 1.1 1.1 1.1 3.3 1.1 12.1 1.1 4.4 1.1 6.6 1.1 18.7 1.1 20.9 1.1 1.1 1.1 11 1.1 1.1 1.1 3.3 1.1 13.2 2.2 4.4 2.2 1.1 1.1 9.9 1.1 20.9 1.1 1.1 1.1 5.5 1.1 29.7 1.1 1.1 1.1 18.7 1.1 11 1.1 1.1 2.2 13.2 3.3 2.2 2.2 15.4 1.1 28.6 1.1 8.8 1.1 2.2 1.1 2.2 1.1 6.6 1.1 1.1 1.1 3.3 1.1 7.7 1.1 1.1 1.1 1.1 1.1 13.2 1.1 8.8 1.1 8.8" fill="none"/>
<path d="M668.5 121H1122.4" stroke="#00b0ff" stroke-width="2.6" stroke-dasharray="0 20.9 2.2 19.8 1.1 4.4 2.2 6.6 1.1 8.8 1.1 2.2 1.1 4.4 2.2 6.6 1.1 8.8 2.2 5.5 1.1 7.7 1.1 12.1 1.1 1.1 1.1 1.1 1.1 4.4 1.1 8.8 2.2 12.1 1.1 6.6 1.1 4.4 1.1 13.2 2.2 5.5 1.1 6.6 1.1 3.3 1.1 1.1 1.1 2.2 1.1 1.1 1.1 1.1 1.1 5.5 1.1 2.2 1.1 8.8 1.1 8.8 1.1 6.6 1.1 1.1 3.3 1.1 1.1 5.5 1.1 7.7 1.1 3.3 2.2 11 1.1 16.5 4.4 5.5 1.1 5.5 1.1 4.4 3.3 13.2 1.1 1.1 2.2 13.2 1.1 2.2 1.1 8.8 1.1 4.4 1.1 4.4 1.1 4.4 2.2 1.1 1.1 5.5 1.1 6.6 1.1 4.4 1.1 7.7 1.1 1.1 1.1 2.2 1.1 13.2 1.1 4.4 1.1 0" fill="none"/>
<path d="M668.5 121H1122.4" stroke="#00e890" stroke-width="2.6" stroke-dasharray="0 5.5 1.1 7.7 1.1 11 1.1 1.1 1.1 6.6 1.1 7.7 1.1 4.4 2.2 18.7 1.1 16.5 1.1 6.6 2.2 1.1 1.1 12.1 1.1 5.5 3.3 16.5 1.1 7.7 1.1 3.3 1.1 13.2 1.1 7.7 1.1 7.7 1.1 28.6 1.1 8.8 1.1 2.2 1.1 4.4 1.1 13.2 1.1 9.9 1.1 2.2 1.1 2.2 1.1 2.2 1.1 8.8 1.1 6.6 2.2 1.1 2.2 7.7 1.1 16.5 3.3 19.8 1.1 19.8 1.1 6.6 1.1 31.9 1.1 6.6 3.3 9.9 2.2 1.1 1.1 2.2 1.1 9.9 1.1 9.9 1.1 2.2" fill="none"/>
<path d="M668.5 123.3H1122.4" stroke="#00a8ff" stroke-width="2.6" stroke-dasharray="0 15.4 1.1 2.2 2.2 18.7 1.1 13.2 1.1 8.8 1.1 9.9 1.1 9.9 2.2 2.2 1.1 25.3 1.1 2.2 1.1 1.1 1.1 11 1.1 1.1 1.1 6.6 1.1 18.7 1.1 53.9 1.1 8.8 1.1 6.6 1.1 20.9 1.1 1.1 1.1 9.9 1.1 68.2 1.1 6.6 1.1 24.2 1.1 40.7 1.1 5.5 2.2 3.3 1.1 7.7 1.1 11 1.1 4.4" fill="none"/>
<path d="M668.5 123.3H1122.4" stroke="#00f0b0" stroke-width="2.6" stroke-dasharray="0 7.7 1.1 1.1 1.1 1.1 1.1 18.7 2.2 3.3 1.1 3.3 2.2 2.2 2.2 3.3 1.1 5.5 1.1 2.2 2.2 3.3 2.2 1.1 2.2 1.1 1.1 1.1 2.2 2.2 1.1 2.2 1.1 3.3 1.1 2.2 1.1 3.3 1.1 5.5 2.2 2.2 4.4 2.2 1.1 1.1 1.1 6.6 2.2 6.6 1.1 14.3 4.4 2.2 1.1 2.2 2.2 7.7 1.1 3.3 1.1 3.3 1.1 6.6 1.1 3.3 1.1 13.2 1.1 3.3 1.1 1.1 1.1 2.2 1.1 2.2 2.2 4.4 1.1 7.7 2.2 2.2 1.1 1.1 1.1 1.1 1.1 3.3 1.1 5.5 1.1 5.5 1.1 1.1 1.1 1.1 1.1 4.4 1.1 2.2 1.1 2.2 1.1 1.1 1.1 1.1 1.1 2.2 1.1 4.4 1.1 1.1 1.1 7.7 1.1 1.1 2.2 2.2 2.2 4.4 1.1 4.4 1.1 1.1 1.1 4.4 1.1 1.1 4.4 4.4 1.1 2.2 1.1 7.7 1.1 1.1 1.1 5.5 2.2 5.5 1.1 1.1 1.1 3.3 2.2 3.3 1.1 7.7 1.1 2.2 1.1 4.4 1.1 2.2 1.1 1.1 1.1 2.2 1.1 4.4 1.1 2.2 1.1 2.2 1.1 2.2 1.1 2.2 1.1 4.4 1.1 3.3 1.1 1.1 3.3 2.2 1.1 6.6 2.2 1.1 1.1 3.3" fill="none"/>
</g>
<path d="M685.8 115.2v3.5M685.8 189.5v-3.5M704.1 115.2v3.5M704.1 189.5v-3.5M722.4 115.2v10.4M722.4 189.5v-10.4M740.7 115.2v3.5M740.7 189.5v-3.5M759 115.2v3.5M759 189.5v-3.5M777.2 115.2v3.5M777.2 189.5v-3.5M795.5 115.2v3.5M795.5 189.5v-3.5M813.8 115.2v10.4M813.8 189.5v-10.4M832.1 115.2v3.5M832.1 189.5v-3.5M850.4 115.2v3.5M850.4 189.5v-3.5M868.6 115.2v3.5M868.6 189.5v-3.5M886.9 115.2v3.5M886.9 189.5v-3.5M905.2 115.2v10.4M905.2 189.5v-10.4M923.5 115.2v3.5M923.5 189.5v-3.5M941.8 115.2v3.5M941.8 189.5v-3.5M960 115.2v3.5M960 189.5v-3.5M978.3 115.2v3.5M978.3 189.5v-3.5M996.6 115.2v10.4M996.6 189.5v-10.4M1014.9 115.2v3.5M1014.9 189.5v-3.5M1033.2 115.2v3.5M1033.2 189.5v-3.5M1051.4 115.2v3.5M1051.4 189.5v-3.5M1069.7 115.2v3.5M1069.7 189.5v-3.5M1088 115.2v10.4M1088 189.5v-10.4M1106.3 115.2v3.5M1106.3 189.5v-3.5" stroke="#2a2a2a" stroke-width="1.1" fill="none"/>
<rect x="668.5" y="115.2" width="453.9" height="74.3" fill="none" stroke="#1c1c1c" stroke-width="1.15"/>
<line x1="668" y1="115.2" x2="1122.9" y2="115.2" stroke="#000" stroke-width="1.35" />
<line x1="668" y1="189.5" x2="1122.9" y2="189.5" stroke="#000" stroke-width="1.35" />
<path d="M668.5 184h5M1122.4 184h-5M668.5 164.7h5M1122.4 164.7h-5M668.5 145.3h5M1122.4 145.3h-5M668.5 126h5M1122.4 126h-5M668.5 188.3h2.6M1122.4 188.3h-2.6M668.5 187h2.6M1122.4 187h-2.6M668.5 185.9h2.6M1122.4 185.9h-2.6M668.5 184.9h2.6M1122.4 184.9h-2.6M668.5 178.2h2.6M1122.4 178.2h-2.6M668.5 174.8h2.6M1122.4 174.8h-2.6M668.5 172.4h2.6M1122.4 172.4h-2.6M668.5 170.5h2.6M1122.4 170.5h-2.6M668.5 169h2.6M1122.4 169h-2.6M668.5 167.7h2.6M1122.4 167.7h-2.6M668.5 166.5h2.6M1122.4 166.5h-2.6M668.5 165.6h2.6M1122.4 165.6h-2.6M668.5 158.8h2.6M1122.4 158.8h-2.6M668.5 155.4h2.6M1122.4 155.4h-2.6M668.5 153h2.6M1122.4 153h-2.6M668.5 151.2h2.6M1122.4 151.2h-2.6M668.5 149.6h2.6M1122.4 149.6h-2.6M668.5 148.3h2.6M1122.4 148.3h-2.6M668.5 147.2h2.6M1122.4 147.2h-2.6M668.5 146.2h2.6M1122.4 146.2h-2.6M668.5 139.5h2.6M1122.4 139.5h-2.6M668.5 136.1h2.6M1122.4 136.1h-2.6M668.5 133.7h2.6M1122.4 133.7h-2.6M668.5 131.8h2.6M1122.4 131.8h-2.6M668.5 130.3h2.6M1122.4 130.3h-2.6M668.5 129h2.6M1122.4 129h-2.6M668.5 127.9h2.6M1122.4 127.9h-2.6M668.5 126.9h2.6M1122.4 126.9h-2.6M668.5 120.2h2.6M1122.4 120.2h-2.6M668.5 116.8h2.6M1122.4 116.8h-2.6" stroke="#111" stroke-width="1.1" fill="none"/>
<text x="1124.8" y="188.4" font-size="10.4" text-anchor="start" fill="#000" >10<tspan dy="-4.4" font-size="7.8">1</tspan><tspan dy="4.4" font-size="1">&#8203;</tspan></text>
<text x="1124.8" y="169.1" font-size="10.4" text-anchor="start" fill="#000" >10<tspan dy="-4.4" font-size="7.8">2</tspan><tspan dy="4.4" font-size="1">&#8203;</tspan></text>
<text x="1124.8" y="149.7" font-size="10.4" text-anchor="start" fill="#000" >10<tspan dy="-4.4" font-size="7.8">3</tspan><tspan dy="4.4" font-size="1">&#8203;</tspan></text>
<text x="1124.8" y="130.4" font-size="10.4" text-anchor="start" fill="#000" >10<tspan dy="-4.4" font-size="7.8">4</tspan><tspan dy="4.4" font-size="1">&#8203;</tspan></text>
<text x="1155.6" y="153.3" font-size="11" text-anchor="middle" fill="#000" transform="rotate(-90 1155.6 153.3)" >Energy (eV)</text>
<line x1="709.5" y1="194" x2="709.5" y2="262.5" stroke="#ff0000" stroke-width="1.2" stroke-dasharray="8.8 4.8"/>
<line x1="724.7" y1="194" x2="724.7" y2="262.5" stroke="#3434ff" stroke-width="1.5" stroke-dasharray="1.8 2.7"/>
<line x1="897.7" y1="194" x2="897.7" y2="262.5" stroke="#ff0000" stroke-width="1.2" stroke-dasharray="8.8 4.8"/>
<line x1="939.2" y1="194" x2="939.2" y2="262.5" stroke="#ff20ff" stroke-width="1.55" stroke-dasharray="1.7 3.0"/>
<line x1="991.5" y1="194" x2="991.5" y2="262.5" stroke="#10b010" stroke-width="1.3" stroke-dasharray="8.8 4.8"/>
<polyline transform="translate(669.1 189.5) scale(0.30000 .1)" points="0,338 1,240 2,195 3,431 4,438 5,320 6,305 7,318 8,497 9,298 10,273 11,430 12,418 13,366 14,381 15,277 16,334 17,435 18,260 19,392 20,451 21,408 22,420 23,386 24,474 25,431 26,356 27,286 28,219 29,349 30,397 31,371 32,327 33,373 34,441 35,496 36,372 37,384 38,382 39,361 40,341 41,372 42,322 43,485 44,482 45,326 46,497 47,293 48,467 49,480 50,269 51,300 52,338 53,381 54,494 55,536 56,267 57,325 58,339 59,309 60,347 61,348 62,464 63,326 64,274 65,420 66,391 67,320 68,359 69,358 70,440 71,460 72,512 73,225 74,459 75,535 76,492 77,363 78,372 79,537 80,462 81,430 82,377 83,472 84,391 85,285 86,426 87,336 88,409 89,291 90,314 91,419 92,340 93,360 94,473 95,449 96,411 97,236 98,354 99,429 100,347 101,336 102,409 103,460 104,389 105,324 106,457 107,189 108,548 109,344 110,403 111,420 112,379 113,457 114,303 115,344 116,414 117,416 118,379 119,389 120,492 121,295 122,401 123,279 124,169 125,498 126,323 127,405 128,345 129,519 130,481 131,361 132,242 133,274 134,528 135,338 136,440 137,322 138,304 139,359 140,374 141,397 142,393 143,398 144,358 145,316 146,380 147,348 148,318 149,372 150,370 151,436 152,490 153,351 154,226 155,375 156,425 157,520 158,442 159,445 160,440 161,277 162,330 163,341 164,261 165,383 166,286 167,321 168,501 169,414 170,233 171,325 172,271 173,338 174,306 175,388 176,277 177,402 178,512 179,438 180,301 181,352 182,463 183,323 184,541 185,441 186,331 187,417 188,289 189,202 190,344 191,471 192,465 193,321 194,196 195,405 196,245 197,305 198,265 199,369 200,580 201,438 202,402 203,403 204,450 205,181 206,370 207,390 208,434 209,284 210,293 211,586 212,354 213,335 214,327 215,301 216,395 217,249 218,500 219,370 220,256 221,258 222,343 223,497 224,348 225,404 226,274 227,629 228,396 229,263 230,303 231,255 232,429 233,466 234,552 235,157 236,384 237,257 238,338 239,573 240,291 241,599 242,140 243,428 244,350 245,179 246,380 247,434 248,514 249,564 250,558 251,375 252,289 253,409 254,342 255,479 256,391 257,318 258,304 259,359 260,282 261,443 262,303 263,343 264,168 265,391 266,197 267,357 268,325 269,462 270,407 271,486 272,325 273,399 274,330 275,510 276,189 277,271 278,249 279,315 280,485 281,420 282,434 283,402 284,332 285,462 286,291 287,457 288,295 289,386 290,393 291,416 292,280 293,341 294,278 295,341 296,316 297,315 298,311 299,469 300,443 301,384 302,415 303,368 304,282 305,86 306,449 307,137 308,370 309,393 310,289 311,466 312,416 313,247 314,368 315,460 316,375 317,279 318,447 319,539 320,302 321,395 322,384 323,266 324,433 325,422 326,441 327,438 328,413 329,525 330,476 331,478 332,519 333,369 334,319 335,249 336,240 337,401 338,473 339,382 340,423 341,377 342,267 343,342 344,501 345,283 346,175 347,207 348,335 349,366 350,329 351,519 352,399 353,181 354,393 355,415 356,533 357,382 358,380 359,353 360,315 361,328 362,308 363,441 364,412 365,233 366,434 367,440 368,266 369,380 370,442 371,426 372,500 373,400 374,486 375,420 376,373 377,437 378,339 379,517 380,407 381,316 382,256 383,251 384,335 385,257 386,225 387,284 388,341 389,444 390,387 391,105 392,255 393,270 394,340 395,175 396,382 397,338 398,413 399,538 400,265 401,476 402,475 403,404 404,333 405,421 406,399 407,477 408,425 409,319 410,286 411,354 412,490 413,372 414,369 415,405 416,255 417,351 418,173 419,320 420,276 421,416 422,460 423,484 424,221 425,479 426,346 427,448 428,347 429,322 430,375 431,223 432,335 433,400 434,428 435,282 436,440 437,510 438,142 439,539 440,435 441,454 442,419 443,314 444,384 445,426 446,397 447,402 448,495 449,487 450,169 451,337 452,297 453,382 454,448 455,349 456,291 457,351 458,256 459,457 460,376 461,286 462,271 463,280 464,165 465,635 466,317 467,361 468,162 469,419 470,364 471,446 472,322 473,344 474,233 475,320 476,349 477,293 478,413 479,447 480,327 481,484 482,344 483,448 484,336 485,369 486,463 487,373 488,307 489,305 490,410 491,113 492,384 493,453 494,172 495,223 496,348 497,245 498,321 499,440 500,334 501,305 502,460 503,399 504,438 505,205 506,301 507,371 508,431 509,426 510,368 511,420 512,431 513,411 514,336 515,452 516,256 517,383 518,577 519,341 520,228 521,415 522,400 523,191 524,465 525,338 526,249 527,452 528,386 529,314 530,420 531,336 532,430 533,408 534,465 535,449 536,374 537,349 538,397 539,567 540,276 541,335 542,435 543,420 544,344 545,294 546,396 547,433 548,357 549,352 550,340 551,355 552,340 553,410 554,296 555,399 556,393 557,273 558,500 559,263 560,405 561,399 562,283 563,411 564,421 565,314 566,187 567,386 568,490 569,453 570,338 571,429 572,464 573,344 574,326 575,352 576,479 577,404 578,202 579,175 580,362 581,441 582,330 583,412 584,556 585,451 586,493 587,294 588,386 589,366 590,437 591,394 592,482 593,399 594,316 595,325 596,426 597,425 598,220 599,292 600,362 601,521 602,477 603,328 604,434 605,618 606,182 607,338 608,329 609,398 610,313 611,451 612,417 613,383 614,330 615,242 616,411 617,256 618,314 619,454 620,324 621,384 622,294 623,318 624,380 625,302 626,538 627,421 628,380 629,287 630,330 631,341 632,445 633,361 634,503 635,413 636,175 637,478 638,231 639,324 640,420 641,553 642,380 643,578 644,305 645,375 646,435 647,217 648,379 649,407 650,323 651,370 652,416 653,406 654,219 655,23 656,417 657,385 658,307 659,412 660,427 661,393 662,363 663,325 664,324 665,378 666,363 667,460 668,348 669,399 670,346 671,294 672,461 673,332 674,437 675,183 676,305 677,377 678,341 679,476 680,394 681,360 682,322 683,436 684,349 685,451 686,390 687,364 688,325 689,391 690,335 691,378 692,491 693,282 694,334 695,403 696,456 697,434 698,416 699,206 700,523 701,272 702,424 703,476 704,363 705,398 706,308 707,402 708,324 709,299 710,453 711,479 712,373 713,415 714,340 715,413 716,399 717,427 718,484 719,451 720,548 721,357 722,406 723,468 724,274 725,394 726,423 727,431 728,169 729,348 730,360 731,546 732,395 733,358 734,299 735,386 736,459 737,279 738,474 739,408 740,354 741,336 742,501 743,431 744,394 745,254 746,295 747,303 748,360 749,498 750,316 751,248 752,561 753,379 754,369 755,294 756,351 757,377 758,274 759,402 760,438 761,410 762,339 763,402 764,431 765,346 766,313 767,541 768,349 769,361 770,392 771,258 772,288 773,570 774,495 775,251 776,265 777,488 778,309 779,340 780,476 781,310 782,381 783,389 784,277 785,204 786,412 787,440 788,380 789,377 790,318 791,278 792,469 793,422 794,383 795,445 796,569 797,403 798,321 799,493 800,319 801,320 802,384 803,309 804,299 805,262 806,553 807,514 808,222 809,476 810,524 811,375 812,377 813,233 814,219 815,387 816,450 817,314 818,284 819,200 820,435 821,538 822,313 823,314 824,374 825,393 826,397 827,370 828,463 829,195 830,214 831,342 832,412 833,523 834,370 835,287 836,284 837,406 838,416 839,244 840,287 841,438 842,406 843,427 844,277 845,503 846,437 847,408 848,288 849,487 850,283 851,364 852,266 853,436 854,333 855,382 856,239 857,383 858,233 859,468 860,325 861,305 862,432 863,270 864,328 865,423 866,249 867,128 868,322 869,151 870,293 871,529 872,473 873,311 874,461 875,367 876,387 877,254 878,375 879,361 880,316 881,296 882,253 883,539 884,298 885,295 886,360 887,402 888,441 889,411 890,474 891,314 892,527 893,350 894,482 895,293 896,453 897,234 898,244 899,358 900,487 901,361 902,268 903,447 904,369 905,257 906,415 907,363 908,184 909,195 910,424 911,402 912,391 913,403 914,327 915,406 916,211 917,441 918,375 919,322 920,388 921,443 922,335 923,392 924,354 925,415 926,456 927,368 928,336 929,319 930,362 931,390 932,331 933,375 934,457 935,412 936,393 937,258 938,447 939,379 940,495 941,290 942,285 943,420 944,382 945,454 946,398 947,444 948,290 949,470 950,453 951,394 952,449 953,367 954,385 955,443 956,426 957,388 958,496 959,426 960,221 961,324 962,453 963,396 964,374 965,183 966,325 967,379 968,336 969,290 970,256 971,373 972,409 973,422 974,393 975,372 976,367 977,352 978,290 979,385 980,404 981,271 982,349 983,439 984,313 985,323 986,336 987,386 988,306 989,406 990,419 991,392 992,314 993,362 994,228 995,456 996,113 997,428 998,231 999,389 1000,492 1001,525 1002,405 1003,440 1004,552 1005,407 1006,320 1007,402 1008,211 1009,489 1010,442 1011,332 1012,500 1013,482 1014,420 1015,367 1016,311 1017,387 1018,284 1019,434 1020,317 1021,270 1022,461 1023,251 1024,478 1025,438 1026,316 1027,435 1028,443 1029,479 1030,468 1031,359 1032,342 1033,424 1034,406 1035,337 1036,267 1037,479 1038,406 1039,356 1040,378 1041,229 1042,359 1043,415 1044,431 1045,447 1046,347 1047,395 1048,336 1049,488 1050,395 1051,336 1052,514 1053,433 1054,403 1055,468 1056,77 1057,268 1058,368 1059,289 1060,356 1061,326 1062,421 1063,511 1064,394 1065,259 1066,421 1067,472 1068,313 1069,270 1070,344 1071,318 1072,379 1073,329 1074,449 1075,356 1076,432 1077,271 1078,280 1079,274 1080,454 1081,131 1082,371 1083,416 1084,278 1085,45 1086,348 1087,490 1088,345 1089,447 1090,449 1091,504 1092,331 1093,281 1094,388 1095,510 1096,537 1097,374 1098,463 1099,395 1100,337 1101,291 1102,392 1103,342 1104,381 1105,371 1106,395 1107,368 1108,451 1109,451 1110,390 1111,464 1112,371 1113,284 1114,454 1115,302 1116,368 1117,262 1118,547 1119,385 1120,372 1121,417 1122,416 1123,416 1124,337 1125,323 1126,315 1127,477 1128,316 1129,295 1130,389 1131,437 1132,451 1133,380 1134,358 1135,520 1136,392 1137,365 1138,441 1139,341 1140,401 1141,368 1142,378 1143,370 1144,414 1145,421 1146,349 1147,438 1148,332 1149,394 1150,218 1151,325 1152,494 1153,391 1154,296 1155,385 1156,552 1157,386 1158,377 1159,350 1160,343 1161,422 1162,402 1163,298 1164,351 1165,473 1166,452 1167,451 1168,393 1169,481 1170,446 1171,407 1172,406 1173,300 1174,370 1175,252 1176,375 1177,394 1178,170 1179,434 1180,322 1181,330 1182,323 1183,392 1184,581 1185,461 1186,377 1187,465 1188,358 1189,332 1190,408 1191,433 1192,362 1193,421 1194,186 1195,286 1196,337 1197,319 1198,401 1199,334 1200,476 1201,341 1202,356 1203,348 1204,338 1205,368 1206,454 1207,253 1208,376 1209,420 1210,485 1211,421 1212,388 1213,312 1214,391 1215,259 1216,73 1217,373 1218,424 1219,517 1220,355 1221,377 1222,365 1223,243 1224,460 1225,422 1226,345 1227,437 1228,374 1229,215 1230,356 1231,409 1232,403 1233,354 1234,416 1235,365 1236,291 1237,365 1238,364 1239,498 1240,423 1241,362 1242,397 1243,449 1244,415 1245,370 1246,509 1247,197 1248,333 1249,339 1250,322 1251,394 1252,477 1253,319 1254,289 1255,481 1256,319 1257,482 1258,349 1259,503 1260,327 1261,137 1262,373 1263,331 1264,260 1265,445 1266,301 1267,316 1268,440 1269,443 1270,358 1271,458 1272,488 1273,337 1274,331 1275,482 1276,297 1277,402 1278,318 1279,228 1280,404 1281,331 1282,475 1283,108 1284,300 1285,387 1286,368 1287,370 1288,271 1289,326 1290,253 1291,329 1292,344 1293,446 1294,557 1295,396 1296,185 1297,449 1298,316 1299,317 1300,381 1301,90 1302,501 1303,386 1304,425 1305,471 1306,485 1307,295 1308,249 1309,293 1310,236 1311,469 1312,341 1313,392 1314,441 1315,523 1316,462 1317,417 1318,382 1319,445 1320,352 1321,297 1322,460 1323,213 1324,443 1325,322 1326,471 1327,350 1328,452 1329,323 1330,454 1331,486 1332,266 1333,438 1334,364 1335,234 1336,356 1337,382 1338,389 1339,330 1340,325 1341,368 1342,349 1343,364 1344,302 1345,261 1346,352 1347,447 1348,230 1349,364 1350,285 1351,393 1352,394 1353,340 1354,534 1355,410 1356,370 1357,433 1358,438 1359,312 1360,269 1361,434 1362,330 1363,333 1364,386 1365,456 1366,418 1367,308 1368,309 1369,489 1370,316 1371,345 1372,296 1373,344 1374,278 1375,372 1376,430 1377,280 1378,377 1379,489 1380,398 1381,398 1382,402 1383,357 1384,284 1385,256 1386,305 1387,355 1388,449 1389,242 1390,304 1391,426 1392,261 1393,434 1394,189 1395,241 1396,274 1397,322 1398,323 1399,446 1400,442 1401,304 1402,273 1403,281 1404,398 1405,335 1406,377 1407,504 1408,207 1409,235 1410,347 1411,375 1412,424 1413,413 1414,454 1415,310 1416,417 1417,268 1418,416 1419,360 1420,397 1421,240 1422,400 1423,221 1424,391 1425,353 1426,362 1427,359 1428,505 1429,338 1430,301 1431,234 1432,349 1433,326 1434,280 1435,276 1436,286 1437,402 1438,368 1439,387 1440,410 1441,372 1442,445 1443,404 1444,305 1445,339 1446,324 1447,471 1448,264 1449,427 1450,324 1451,248 1452,238 1453,288 1454,423 1455,237 1456,279 1457,329 1458,334 1459,311 1460,219 1461,506 1462,255 1463,172 1464,301 1465,316 1466,457 1467,276 1468,496 1469,328 1470,348 1471,391 1472,463 1473,333 1474,207 1475,361 1476,343 1477,350 1478,489 1479,201 1480,436 1481,406 1482,304 1483,276 1484,348 1485,417 1486,337 1487,364 1488,336 1489,270 1490,268 1491,463 1492,430 1493,424 1494,187 1495,418 1496,288 1497,333 1498,385 1499,400 1500,339 1501,246 1502,129 1503,445 1504,315 1505,330 1506,364 1507,390 1508,478 1509,355 1510,474" fill="none" stroke="#0000ff" stroke-width="0.98" vector-effect="non-scaling-stroke" stroke-linejoin="round"/>
<polyline transform="translate(669.1 189.5) scale(0.30000 .1)" points="0,575 1,532 2,542 3,398 4,473 5,380 6,447 7,527 8,419 9,442 10,532 11,482 12,385 13,483 14,553 15,592 16,469 17,277 18,542 19,388 20,394 21,533 22,491 23,397 24,519 25,479 26,455 27,621 28,549 29,492 30,396 31,451 32,232 33,516 34,597 35,382 36,492 37,542 38,419 39,522 40,526 41,540 42,327 43,375 44,330 45,435 46,393 47,610 48,368 49,592 50,494 51,514 52,496 53,473 54,540 55,373 56,521 57,446 58,436 59,428 60,352 61,479 62,429 63,394 64,419 65,412 66,391 67,448 68,464 69,287 70,543 71,484 72,503 73,577 74,380 75,426 76,431 77,348 78,442 79,540 80,451 81,351 82,474 83,429 84,536 85,423 86,471 87,461 88,490 89,379 90,582 91,496 92,637 93,382 94,404 95,503 96,495 97,387 98,425 99,493 100,354 101,474 102,226 103,420 104,475 105,450 106,405 107,345 108,336 109,442 110,342 111,463 112,398 113,489 114,591 115,587 116,376 117,464 118,400 119,677 120,404 121,497 122,380 123,431 124,481 125,491 126,465 127,504 128,633 129,361 130,484 131,375 132,496 133,438 134,440 135,514 136,415 137,422 138,514 139,550 140,551 141,232 142,449 143,338 144,441 145,330 146,549 147,403 148,306 149,372 150,410 151,507 152,384 153,364 154,549 155,545 156,476 157,412 158,550 159,436 160,521 161,442 162,383 163,574 164,304 165,396 166,564 167,456 168,379 169,588 170,549 171,386 172,515 173,569 174,490 175,373 176,511 177,522 178,346 179,470 180,469 181,385 182,503 183,362 184,458 185,373 186,506 187,408 188,325 189,301 190,543 191,472 192,414 193,449 194,378 195,466 196,345 197,523 198,514 199,456 200,494 201,416 202,400 203,282 204,411 205,195 206,516 207,292 208,502 209,598 210,540 211,468 212,406 213,497 214,407 215,417 216,370 217,294 218,391 219,475 220,529 221,426 222,293 223,537 224,261 225,482 226,472 227,395 228,376 229,436 230,337 231,408 232,396 233,571 234,542 235,366 236,438 237,510 238,579 239,260 240,361 241,424 242,568 243,348 244,392 245,404 246,370 247,580 248,628 249,384 250,536 251,558 252,369 253,507 254,534 255,421 256,502 257,387 258,431 259,279 260,368 261,546 262,402 263,411 264,482 265,394 266,537 267,419 268,308 269,355 270,425 271,395 272,449 273,475 274,186 275,474 276,360 277,405 278,456 279,609 280,398 281,417 282,521 283,440 284,503 285,450 286,442 287,417 288,456 289,554 290,344 291,288 292,461 293,478 294,545 295,500 296,578 297,502 298,335 299,311 300,532 301,507 302,442 303,551 304,322 305,582 306,579 307,535 308,405 309,547 310,404 311,612 312,282 313,343 314,322 315,463 316,568 317,359 318,414 319,466 320,482 321,277 322,477 323,347 324,480 325,447 326,335 327,537 328,337 329,534 330,567 331,502 332,401 333,491 334,394 335,603 336,607 337,420 338,540 339,375 340,273 341,547 342,403 343,386 344,537 345,429 346,392 347,523 348,364 349,492 350,383 351,368 352,414 353,565 354,450 355,395 356,454 357,631 358,444 359,604 360,382 361,481 362,455 363,279 364,612 365,414 366,515 367,349 368,477 369,536 370,378 371,559 372,500 373,406 374,344 375,391 376,459 377,448 378,409 379,419 380,584 381,412 382,426 383,445 384,495 385,419 386,423 387,406 388,280 389,386 390,475 391,554 392,489 393,376 394,355 395,424 396,404 397,372 398,416 399,359 400,502 401,314 402,561 403,428 404,395 405,453 406,461 407,418 408,465 409,330 410,398 411,388 412,569 413,449 414,411 415,485 416,465 417,511 418,587 419,344 420,518 421,468 422,310 423,319 424,358 425,350 426,440 427,447 428,393 429,455 430,369 431,601 432,506 433,410 434,460 435,509 436,425 437,342 438,455 439,378 440,559 441,524 442,425 443,469 444,465 445,466 446,316 447,376 448,570 449,300 450,471 451,376 452,375 453,344 454,343 455,443 456,402 457,290 458,498 459,433 460,316 461,317 462,399 463,327 464,425 465,460 466,441 467,456 468,290 469,334 470,401 471,493 472,510 473,411 474,494 475,464 476,520 477,491 478,415 479,451 480,648 481,505 482,393 483,260 484,403 485,551 486,683 487,508 488,421 489,484 490,484 491,583 492,386 493,367 494,405 495,478 496,518 497,322 498,298 499,369 500,628 501,455 502,428 503,448 504,437 505,375 506,495 507,392 508,536 509,482 510,438 511,463 512,323 513,458 514,362 515,434 516,331 517,458 518,611 519,464 520,483 521,388 522,428 523,429 524,480 525,499 526,491 527,466 528,408 529,485 530,460 531,459 532,398 533,428 534,460 535,480 536,386 537,472 538,452 539,574 540,408 541,415 542,321 543,367 544,436 545,462 546,420 547,489 548,636 549,396 550,434 551,462 552,248 553,506 554,524 555,426 556,360 557,568 558,365 559,476 560,557 561,480 562,442 563,257 564,448 565,530 566,536 567,453 568,512 569,450 570,451 571,566 572,419 573,608 574,338 575,511 576,339 577,473 578,494 579,356 580,414 581,355 582,554 583,375 584,505 585,488 586,385 587,544 588,392 589,414 590,332 591,302 592,350 593,517 594,432 595,374 596,542 597,445 598,384 599,443 600,425 601,568 602,374 603,454 604,287 605,295 606,545 607,489 608,513 609,415 610,413 611,310 612,401 613,489 614,339 615,507 616,424 617,342 618,510 619,488 620,508 621,532 622,342 623,356 624,613 625,455 626,432 627,344 628,310 629,394 630,356 631,419 632,353 633,299 634,427 635,551 636,445 637,539 638,394 639,430 640,516 641,621 642,355 643,323 644,403 645,314 646,412 647,411 648,590 649,608 650,524 651,444 652,467 653,476 654,343 655,348 656,331 657,539 658,487 659,531 660,654 661,421 662,508 663,474 664,574 665,454 666,485 667,436 668,516 669,354 670,617 671,438 672,531 673,630 674,554 675,394 676,388 677,543 678,396 679,413 680,430 681,325 682,559 683,485 684,570 685,603 686,379 687,474 688,484 689,451 690,450 691,520 692,406 693,434 694,482 695,440 696,480 697,409 698,541 699,644 700,416 701,431 702,288 703,434 704,591 705,527 706,394 707,338 708,414 709,468 710,491 711,555 712,400 713,443 714,459 715,276 716,462 717,482 718,370 719,409 720,485 721,393 722,385 723,570 724,471 725,424 726,495 727,364 728,396 729,462 730,571 731,464 732,387 733,500 734,627 735,416 736,408 737,515 738,560 739,506 740,455 741,373 742,517 743,403 744,388 745,478 746,379 747,525 748,445 749,529 750,437 751,399 752,461 753,446 754,460 755,423 756,487 757,491 758,491 759,496 760,508 761,497 762,330 763,379 764,332 765,447 766,595 767,527 768,409 769,560 770,570 771,469 772,472 773,489 774,415 775,659 776,553 777,473 778,505 779,498 780,461 781,371 782,553 783,413 784,483 785,404 786,354 787,179 788,651 789,477 790,429 791,487 792,677 793,587 794,465 795,545 796,384 797,497 798,571 799,472 800,492 801,540 802,508 803,496 804,628 805,253 806,433 807,443 808,523 809,585 810,552 811,459 812,571 813,494 814,315 815,481 816,421 817,544 818,526 819,474 820,421 821,532 822,319 823,402 824,604 825,567 826,469 827,463 828,395 829,504 830,314 831,620 832,528 833,623 834,502 835,310 836,454 837,378 838,470 839,476 840,477 841,601 842,463 843,573 844,484 845,457 846,475 847,536 848,577 849,430 850,396 851,503 852,377 853,326 854,544 855,436 856,478 857,465 858,542 859,349 860,411 861,454 862,564 863,479 864,452 865,442 866,545 867,336 868,406 869,416 870,593 871,419 872,496 873,406 874,462 875,364 876,657 877,490 878,354 879,457 880,473 881,554 882,446 883,549 884,385 885,618 886,497 887,527 888,566 889,480 890,577 891,499 892,536 893,398 894,541 895,572 896,380 897,494 898,408 899,452 900,618 901,583 902,413 903,491 904,370 905,385 906,431 907,455 908,318 909,513 910,525 911,499 912,519 913,432 914,375 915,427 916,656 917,613 918,434 919,591 920,360 921,511 922,455 923,396 924,542 925,445 926,455 927,436 928,449 929,461 930,357 931,489 932,432 933,640 934,314 935,455 936,390 937,292 938,293 939,472 940,545 941,506 942,576 943,384 944,533 945,444 946,406 947,369 948,567 949,399 950,361 951,633 952,527 953,473 954,430 955,644 956,657 957,419 958,487 959,512 960,474 961,476 962,528 963,444 964,486 965,471 966,490 967,481 968,442 969,566 970,477 971,508 972,408 973,369 974,420 975,523 976,198 977,415 978,507 979,392 980,432 981,664 982,458 983,390 984,499 985,449 986,422 987,470 988,349 989,405 990,385 991,309 992,489 993,507 994,412 995,369 996,389 997,323 998,568 999,483 1000,420 1001,444 1002,366 1003,593 1004,379 1005,474 1006,284 1007,390 1008,549 1009,408 1010,359 1011,513 1012,573 1013,552 1014,537 1015,619 1016,646 1017,498 1018,494 1019,476 1020,402 1021,460 1022,588 1023,470 1024,640 1025,449 1026,489 1027,394 1028,477 1029,489 1030,538 1031,381 1032,359 1033,600 1034,489 1035,432 1036,470 1037,436 1038,379 1039,406 1040,454 1041,562 1042,473 1043,467 1044,481 1045,443 1046,432 1047,425 1048,389 1049,536 1050,414 1051,386 1052,360 1053,496 1054,523 1055,470 1056,555 1057,478 1058,556 1059,356 1060,461 1061,537 1062,433 1063,432 1064,405 1065,522 1066,563 1067,321 1068,415 1069,483 1070,418 1071,550 1072,534 1073,514 1074,502 1075,392 1076,437 1077,380 1078,427 1079,465 1080,632 1081,399 1082,455 1083,363 1084,445 1085,449 1086,405 1087,492 1088,555 1089,483 1090,573 1091,505 1092,613 1093,440 1094,539 1095,290 1096,626 1097,670 1098,522 1099,556 1100,468 1101,463 1102,499 1103,400 1104,322 1105,573 1106,495 1107,480 1108,562 1109,430 1110,541 1111,532 1112,574 1113,438 1114,492 1115,367 1116,557 1117,666 1118,602 1119,441 1120,422 1121,390 1122,430 1123,641 1124,528 1125,434 1126,369 1127,363 1128,490 1129,463 1130,397 1131,317 1132,374 1133,553 1134,456 1135,488 1136,652 1137,441 1138,394 1139,592 1140,537 1141,570 1142,360 1143,493 1144,350 1145,573 1146,550 1147,519 1148,509 1149,451 1150,418 1151,472 1152,550 1153,398 1154,559 1155,503 1156,420 1157,458 1158,609 1159,423 1160,481 1161,563 1162,545 1163,504 1164,551 1165,407 1166,592 1167,537 1168,434 1169,540 1170,414 1171,486 1172,485 1173,628 1174,521 1175,382 1176,430 1177,545 1178,444 1179,369 1180,395 1181,460 1182,501 1183,315 1184,691 1185,403 1186,557 1187,392 1188,444 1189,374 1190,439 1191,453 1192,409 1193,490 1194,409 1195,543 1196,358 1197,468 1198,494 1199,476 1200,404 1201,409 1202,402 1203,357 1204,492 1205,557 1206,482 1207,360 1208,470 1209,392 1210,550 1211,390 1212,458 1213,400 1214,500 1215,523 1216,408 1217,416 1218,426 1219,473 1220,360 1221,406 1222,356 1223,567 1224,446 1225,460 1226,381 1227,436 1228,416 1229,355 1230,443 1231,402 1232,447 1233,575 1234,432 1235,370 1236,297 1237,399 1238,493 1239,345 1240,527 1241,350 1242,427 1243,524 1244,629 1245,310 1246,505 1247,460 1248,574 1249,411 1250,424 1251,426 1252,219 1253,386 1254,411 1255,537 1256,417 1257,457 1258,434 1259,341 1260,423 1261,429 1262,575 1263,398 1264,533 1265,450 1266,569 1267,486 1268,364 1269,516 1270,584 1271,480 1272,381 1273,424 1274,499 1275,415 1276,482 1277,497 1278,353 1279,359 1280,513 1281,453 1282,268 1283,326 1284,486 1285,327 1286,499 1287,420 1288,533 1289,332 1290,421 1291,488 1292,416 1293,445 1294,509 1295,311 1296,581 1297,451 1298,465 1299,410 1300,453 1301,501 1302,541 1303,517 1304,268 1305,493 1306,418 1307,373 1308,404 1309,577 1310,454 1311,502 1312,410 1313,490 1314,431 1315,476 1316,479 1317,598 1318,446 1319,412 1320,337 1321,437 1322,571 1323,372 1324,522 1325,373 1326,439 1327,442 1328,521 1329,426 1330,505 1331,428 1332,303 1333,451 1334,564 1335,419 1336,524 1337,386 1338,356 1339,467 1340,476 1341,397 1342,405 1343,536 1344,326 1345,311 1346,341 1347,237 1348,460 1349,422 1350,463 1351,424 1352,411 1353,544 1354,451 1355,356 1356,409 1357,307 1358,241 1359,440 1360,662 1361,474 1362,472 1363,480 1364,486 1365,498 1366,439 1367,431 1368,564 1369,409 1370,436 1371,414 1372,532 1373,399 1374,486 1375,475 1376,511 1377,393 1378,542 1379,368 1380,544 1381,437 1382,647 1383,444 1384,327 1385,448 1386,668 1387,599 1388,455 1389,511 1390,426 1391,465 1392,477 1393,445 1394,521 1395,467 1396,341 1397,440 1398,437 1399,567 1400,732 1401,468 1402,453 1403,603 1404,491 1405,436 1406,460 1407,394 1408,496 1409,447 1410,448 1411,313 1412,556 1413,413 1414,492 1415,507 1416,433 1417,481 1418,535 1419,546 1420,463 1421,558 1422,489 1423,424 1424,632 1425,484 1426,465 1427,552 1428,479 1429,429 1430,380 1431,544 1432,393 1433,491 1434,433 1435,473 1436,418 1437,462 1438,564 1439,580 1440,499 1441,641 1442,495 1443,389 1444,357 1445,583 1446,472 1447,460 1448,395 1449,505 1450,549 1451,495 1452,499 1453,430 1454,550 1455,564 1456,678 1457,726 1458,317 1459,632 1460,316 1461,423 1462,422 1463,468 1464,475 1465,592 1466,523 1467,637 1468,461 1469,409 1470,547 1471,493 1472,463 1473,506 1474,438 1475,557 1476,426 1477,462 1478,286 1479,548 1480,401 1481,483 1482,395 1483,462 1484,497 1485,384 1486,452 1487,354 1488,490 1489,529 1490,466 1491,421 1492,591 1493,475 1494,362 1495,320 1496,599 1497,465 1498,505 1499,292 1500,495 1501,548 1502,373 1503,468 1504,487 1505,344 1506,388 1507,541 1508,446 1509,409 1510,563" fill="none" stroke="#20f020" stroke-width="0.98" vector-effect="non-scaling-stroke" stroke-linejoin="round"/>
<polyline transform="translate(669.1 189.5) scale(0.30000 .1)" points="0,482 1,412 2,400 3,388 4,432 5,496 6,547 7,341 8,422 9,386 10,426 11,493 12,296 13,489 14,462 15,407 16,420 17,365 18,478 19,303 20,334 21,366 22,370 23,447 24,482 25,486 26,444 27,388 28,406 29,408 30,477 31,476 32,477 33,436 34,334 35,470 36,397 37,469 38,404 39,429 40,401 41,351 42,394 43,399 44,393 45,478 46,477 47,473 48,498 49,350 50,360 51,396 52,433 53,327 54,366 55,399 56,490 57,393 58,462 59,304 60,589 61,374 62,264 63,459 64,437 65,390 66,414 67,483 68,438 69,205 70,453 71,410 72,402 73,407 74,429 75,472 76,494 77,442 78,471 79,457 80,448 81,356 82,404 83,513 84,489 85,402 86,310 87,330 88,176 89,475 90,486 91,295 92,379 93,474 94,348 95,421 96,399 97,424 98,524 99,457 100,456 101,503 102,491 103,399 104,438 105,402 106,312 107,353 108,363 109,377 110,422 111,444 112,386 113,451 114,512 115,332 116,416 117,451 118,483 119,438 120,418 121,478 122,470 123,432 124,396 125,499 126,422 127,543 128,474 129,394 130,346 131,367 132,462 133,483 134,641 135,452 136,458 137,474 138,257 139,414 140,378 141,390 142,406 143,534 144,343 145,348 146,490 147,537 148,535 149,381 150,451 151,435 152,406 153,385 154,448 155,452 156,446 157,465 158,389 159,495 160,245 161,525 162,379 163,455 164,352 165,406 166,391 167,493 168,293 169,442 170,451 171,399 172,454 173,335 174,593 175,354 176,373 177,407 178,513 179,334 180,363 181,444 182,350 183,416 184,408 185,389 186,420 187,306 188,403 189,568 190,417 191,426 192,527 193,439 194,433 195,412 196,406 197,451 198,596 199,537 200,396 201,244 202,491 203,406 204,391 205,494 206,503 207,407 208,340 209,640 210,437 211,327 212,258 213,403 214,302 215,314 216,436 217,352 218,453 219,403 220,391 221,344 222,351 223,494 224,427 225,476 226,319 227,419 228,376 229,230 230,480 231,380 232,556 233,545 234,429 235,264 236,371 237,322 238,329 239,373 240,399 241,316 242,394 243,469 244,369 245,350 246,510 247,406 248,412 249,424 250,458 251,389 252,424 253,436 254,394 255,346 256,414 257,549 258,288 259,451 260,470 261,488 262,382 263,337 264,342 265,340 266,378 267,444 268,437 269,337 270,449 271,326 272,347 273,469 274,525 275,369 276,251 277,528 278,439 279,345 280,599 281,248 282,394 283,338 284,562 285,284 286,444 287,328 288,524 289,526 290,378 291,376 292,324 293,415 294,346 295,475 296,251 297,435 298,461 299,397 300,348 301,321 302,431 303,443 304,422 305,516 306,270 307,465 308,286 309,414 310,346 311,439 312,317 313,282 314,303 315,481 316,363 317,501 318,490 319,579 320,388 321,438 322,381 323,365 324,430 325,386 326,352 327,378 328,394 329,391 330,421 331,394 332,400 333,442 334,407 335,455 336,450 337,396 338,306 339,377 340,342 341,374 342,197 343,316 344,624 345,473 346,445 347,326 348,369 349,420 350,487 351,420 352,322 353,343 354,222 355,360 356,503 357,333 358,423 359,527 360,515 361,379 362,433 363,450 364,410 365,324 366,297 367,274 368,418 369,327 370,416 371,495 372,373 373,498 374,485 375,219 376,469 377,359 378,387 379,376 380,283 381,445 382,305 383,424 384,501 385,356 386,417 387,475 388,269 389,365 390,404 391,472 392,450 393,450 394,375 395,291 396,408 397,337 398,500 399,504 400,434 401,403 402,406 403,469 404,397 405,437 406,316 407,334 408,314 409,453 410,449 411,500 412,370 413,285 414,414 415,446 416,507 417,449 418,393 419,397 420,240 421,489 422,588 423,261 424,437 425,268 426,501 427,454 428,336 429,436 430,308 431,469 432,484 433,376 434,294 435,493 436,386 437,384 438,431 439,558 440,426 441,305 442,389 443,328 444,295 445,189 446,401 447,431 448,288 449,401 450,352 451,326 452,509 453,407 454,389 455,404 456,385 457,490 458,392 459,517 460,377 461,343 462,459 463,489 464,238 465,369 466,452 467,441 468,405 469,520 470,446 471,273 472,345 473,359 474,404 475,398 476,512 477,385 478,308 479,492 480,375 481,213 482,324 483,419 484,406 485,386 486,385 487,436 488,437 489,335 490,439 491,396 492,339 493,329 494,445 495,397 496,418 497,516 498,376 499,418 500,386 501,481 502,338 503,409 504,226 505,325 506,370 507,514 508,469 509,342 510,415 511,362 512,295 513,358 514,314 515,288 516,352 517,412 518,310 519,316 520,350 521,475 522,298 523,353 524,488 525,534 526,223 527,419 528,441 529,254 530,468 531,382 532,354 533,482 534,516 535,577 536,341 537,365 538,464 539,588 540,340 541,359 542,436 543,531 544,461 545,494 546,423 547,464 548,443 549,398 550,407 551,357 552,378 553,516 554,482 555,475 556,281 557,435 558,391 559,469 560,251 561,453 562,625 563,326 564,325 565,391 566,383 567,362 568,362 569,384 570,426 571,429 572,283 573,427 574,420 575,376 576,535 577,356 578,390 579,277 580,444 581,399 582,306 583,430 584,394 585,250 586,385 587,317 588,437 589,432 590,415 591,565 592,301 593,378 594,287 595,446 596,500 597,344 598,396 599,359 600,358 601,470 602,324 603,315 604,506 605,400 606,342 607,502 608,556 609,344 610,368 611,491 612,415 613,382 614,612 615,463 616,515 617,463 618,442 619,496 620,512 621,492 622,434 623,360 624,534 625,357 626,338 627,428 628,461 629,468 630,409 631,585 632,540 633,447 634,383 635,402 636,301 637,302 638,405 639,425 640,510 641,350 642,495 643,362 644,392 645,241 646,459 647,579 648,412 649,394 650,456 651,363 652,421 653,441 654,548 655,526 656,395 657,336 658,329 659,586 660,470 661,458 662,421 663,527 664,269 665,419 666,522 667,269 668,489 669,374 670,469 671,375 672,428 673,475 674,506 675,472 676,432 677,600 678,265 679,517 680,406 681,557 682,471 683,383 684,529 685,449 686,377 687,334 688,367 689,469 690,488 691,483 692,387 693,438 694,434 695,500 696,274 697,276 698,408 699,377 700,572 701,595 702,432 703,415 704,448 705,353 706,335 707,426 708,368 709,386 710,471 711,397 712,362 713,503 714,352 715,413 716,385 717,437 718,242 719,427 720,456 721,471 722,450 723,486 724,445 725,463 726,425 727,314 728,440 729,460 730,468 731,484 732,357 733,385 734,353 735,498 736,489 737,403 738,395 739,468 740,317 741,522 742,336 743,453 744,408 745,409 746,492 747,441 748,323 749,470 750,402 751,362 752,262 753,353 754,326 755,451 756,362 757,206 758,486 759,355 760,368 761,527 762,307 763,463 764,423 765,422 766,363 767,393 768,307 769,382 770,427 771,516 772,426 773,385 774,446 775,401 776,286 777,371 778,403 779,578 780,317 781,394 782,412 783,429 784,436 785,520 786,451 787,425 788,410 789,369 790,279 791,494 792,433 793,398 794,482 795,285 796,557 797,462 798,341 799,446 800,480 801,401 802,504 803,438 804,388 805,354 806,512 807,310 808,380 809,394 810,550 811,368 812,433 813,184 814,526 815,292 816,485 817,262 818,545 819,444 820,450 821,382 822,386 823,264 824,319 825,426 826,481 827,476 828,462 829,310 830,593 831,453 832,414 833,413 834,219 835,501 836,398 837,391 838,404 839,445 840,325 841,513 842,542 843,435 844,431 845,436 846,460 847,483 848,409 849,304 850,510 851,594 852,365 853,340 854,412 855,503 856,383 857,435 858,382 859,516 860,434 861,385 862,343 863,508 864,320 865,355 866,452 867,474 868,472 869,285 870,498 871,328 872,391 873,463 874,484 875,479 876,411 877,346 878,476 879,350 880,335 881,563 882,465 883,236 884,360 885,314 886,492 887,422 888,336 889,198 890,347 891,446 892,417 893,456 894,473 895,344 896,423 897,405 898,506 899,435 900,318 901,359 902,532 903,328 904,376 905,329 906,310 907,300 908,306 909,270 910,380 911,442 912,374 913,481 914,516 915,356 916,542 917,418 918,407 919,407 920,374 921,386 922,535 923,460 924,492 925,470 926,307 927,610 928,341 929,403 930,557 931,402 932,419 933,324 934,345 935,359 936,432 937,516 938,334 939,473 940,458 941,348 942,496 943,483 944,419 945,525 946,494 947,486 948,509 949,394 950,529 951,409 952,388 953,407 954,430 955,346 956,469 957,440 958,469 959,405 960,414 961,448 962,338 963,424 964,408 965,380 966,424 967,384 968,534 969,419 970,422 971,502 972,468 973,526 974,595 975,425 976,458 977,287 978,553 979,462 980,346 981,515 982,413 983,485 984,438 985,332 986,493 987,343 988,420 989,420 990,372 991,518 992,387 993,403 994,290 995,340 996,582 997,321 998,411 999,468 1000,441 1001,512 1002,427 1003,470 1004,556 1005,532 1006,408 1007,255 1008,409 1009,497 1010,599 1011,275 1012,356 1013,415 1014,423 1015,372 1016,433 1017,439 1018,520 1019,355 1020,461 1021,335 1022,349 1023,396 1024,440 1025,391 1026,336 1027,367 1028,351 1029,469 1030,435 1031,353 1032,426 1033,491 1034,524 1035,442 1036,353 1037,383 1038,438 1039,411 1040,502 1041,490 1042,467 1043,456 1044,382 1045,463 1046,316 1047,426 1048,339 1049,407 1050,346 1051,541 1052,517 1053,271 1054,374 1055,362 1056,438 1057,411 1058,406 1059,431 1060,341 1061,464 1062,477 1063,358 1064,427 1065,570 1066,451 1067,493 1068,299 1069,441 1070,595 1071,361 1072,440 1073,423 1074,440 1075,435 1076,472 1077,422 1078,473 1079,302 1080,418 1081,428 1082,261 1083,423 1084,425 1085,299 1086,501 1087,291 1088,523 1089,444 1090,426 1091,482 1092,482 1093,520 1094,530 1095,427 1096,528 1097,461 1098,455 1099,399 1100,431 1101,386 1102,449 1103,469 1104,405 1105,415 1106,433 1107,424 1108,353 1109,456 1110,320 1111,412 1112,392 1113,461 1114,452 1115,320 1116,434 1117,414 1118,386 1119,438 1120,523 1121,362 1122,344 1123,460 1124,544 1125,456 1126,442 1127,476 1128,518 1129,476 1130,488 1131,434 1132,422 1133,492 1134,262 1135,315 1136,635 1137,432 1138,547 1139,415 1140,505 1141,425 1142,446 1143,529 1144,570 1145,439 1146,461 1147,477 1148,446 1149,350 1150,404 1151,326 1152,355 1153,558 1154,471 1155,435 1156,373 1157,341 1158,432 1159,362 1160,401 1161,382 1162,529 1163,420 1164,465 1165,260 1166,532 1167,460 1168,470 1169,381 1170,235 1171,207 1172,445 1173,551 1174,547 1175,351 1176,397 1177,387 1178,353 1179,310 1180,414 1181,450 1182,461 1183,412 1184,357 1185,482 1186,428 1187,445 1188,496 1189,458 1190,348 1191,423 1192,332 1193,411 1194,453 1195,417 1196,393 1197,433 1198,467 1199,260 1200,465 1201,352 1202,370 1203,554 1204,285 1205,305 1206,412 1207,421 1208,401 1209,444 1210,472 1211,447 1212,253 1213,456 1214,418 1215,339 1216,442 1217,330 1218,473 1219,313 1220,395 1221,340 1222,451 1223,509 1224,438 1225,343 1226,494 1227,387 1228,432 1229,415 1230,376 1231,323 1232,408 1233,304 1234,352 1235,482 1236,412 1237,339 1238,342 1239,431 1240,525 1241,394 1242,437 1243,496 1244,215 1245,549 1246,466 1247,547 1248,389 1249,510 1250,418 1251,399 1252,326 1253,450 1254,251 1255,556 1256,382 1257,458 1258,522 1259,358 1260,418 1261,445 1262,393 1263,424 1264,500 1265,371 1266,259 1267,407 1268,468 1269,399 1270,378 1271,408 1272,295 1273,390 1274,273 1275,189 1276,398 1277,387 1278,595 1279,441 1280,374 1281,320 1282,427 1283,465 1284,404 1285,506 1286,459 1287,468 1288,450 1289,518 1290,352 1291,325 1292,415 1293,344 1294,495 1295,431 1296,416 1297,525 1298,349 1299,364 1300,357 1301,392 1302,361 1303,550 1304,364 1305,289 1306,540 1307,283 1308,383 1309,433 1310,408 1311,415 1312,371 1313,452 1314,373 1315,386 1316,497 1317,381 1318,339 1319,406 1320,346 1321,465 1322,405 1323,362 1324,474 1325,329 1326,430 1327,355 1328,345 1329,485 1330,427 1331,504 1332,330 1333,404 1334,456 1335,409 1336,476 1337,391 1338,434 1339,312 1340,283 1341,432 1342,374 1343,454 1344,290 1345,436 1346,302 1347,413 1348,373 1349,339 1350,233 1351,380 1352,416 1353,323 1354,430 1355,505 1356,379 1357,292 1358,408 1359,367 1360,175 1361,420 1362,344 1363,390 1364,343 1365,354 1366,398 1367,411 1368,442 1369,395 1370,388 1371,338 1372,308 1373,361 1374,370 1375,446 1376,422 1377,575 1378,435 1379,382 1380,373 1381,369 1382,459 1383,363 1384,340 1385,508 1386,387 1387,524 1388,533 1389,390 1390,355 1391,411 1392,362 1393,488 1394,437 1395,394 1396,345 1397,386 1398,536 1399,386 1400,409 1401,242 1402,313 1403,487 1404,469 1405,438 1406,525 1407,350 1408,478 1409,418 1410,419 1411,447 1412,408 1413,319 1414,389 1415,361 1416,265 1417,453 1418,473 1419,381 1420,417 1421,429 1422,319 1423,556 1424,557 1425,265 1426,414 1427,341 1428,265 1429,390 1430,397 1431,363 1432,579 1433,364 1434,408 1435,364 1436,515 1437,467 1438,423 1439,428 1440,280 1441,186 1442,449 1443,371 1444,409 1445,361 1446,468 1447,353 1448,399 1449,414 1450,524 1451,397 1452,354 1453,527 1454,437 1455,351 1456,508 1457,213 1458,446 1459,418 1460,558 1461,374 1462,533 1463,346 1464,437 1465,489 1466,382 1467,509 1468,398 1469,381 1470,281 1471,376 1472,376 1473,308 1474,335 1475,545 1476,447 1477,449 1478,335 1479,471 1480,388 1481,390 1482,515 1483,375 1484,349 1485,579 1486,487 1487,414 1488,374 1489,289 1490,235 1491,581 1492,514 1493,358 1494,319 1495,403 1496,478 1497,401 1498,315 1499,557 1500,564 1501,372 1502,366 1503,586 1504,507 1505,351 1506,388 1507,458 1508,401 1509,435 1510,360" fill="none" stroke="#f01010" stroke-width="0.98" vector-effect="non-scaling-stroke" stroke-linejoin="round"/>
<line x1="668.5" y1="231.9" x2="1122.4" y2="231.9" stroke="#111" stroke-width="1.2" stroke-dasharray="5.5 3"/>
<line x1="674.8" y1="198.2" x2="692" y2="198.2" stroke="#3030ff" stroke-width="1.1" />
<text x="693.6" y="201" font-size="9.2" text-anchor="start" fill="#3030ff" >V<tspan dy="3.6" font-size="6.5">L</tspan><tspan dy="-3.6" font-size="1">&#8203;</tspan></text>
<line x1="674.8" y1="214" x2="692" y2="214" stroke="#30ff30" stroke-width="1.1" />
<text x="693.6" y="216.8" font-size="9.2" text-anchor="start" fill="#30ff30" >V<tspan dy="3.6" font-size="6.5">M</tspan><tspan dy="-3.6" font-size="1">&#8203;</tspan></text>
<line x1="674.8" y1="229.6" x2="692" y2="229.6" stroke="#ff2020" stroke-width="1.1" />
<text x="693.6" y="232.4" font-size="9.2" text-anchor="start" fill="#ff2020" >V<tspan dy="3.6" font-size="6.5">N</tspan><tspan dy="-3.6" font-size="1">&#8203;</tspan></text>
<path d="M685.8 189.5v3.5M685.8 263.3v-3.5M704.1 189.5v3.5M704.1 263.3v-3.5M722.4 189.5v10.4M722.4 263.3v-10.4M740.7 189.5v3.5M740.7 263.3v-3.5M759 189.5v3.5M759 263.3v-3.5M777.2 189.5v3.5M777.2 263.3v-3.5M795.5 189.5v3.5M795.5 263.3v-3.5M813.8 189.5v10.4M813.8 263.3v-10.4M832.1 189.5v3.5M832.1 263.3v-3.5M850.4 189.5v3.5M850.4 263.3v-3.5M868.6 189.5v3.5M868.6 263.3v-3.5M886.9 189.5v3.5M886.9 263.3v-3.5M905.2 189.5v10.4M905.2 263.3v-10.4M923.5 189.5v3.5M923.5 263.3v-3.5M941.8 189.5v3.5M941.8 263.3v-3.5M960 189.5v3.5M960 263.3v-3.5M978.3 189.5v3.5M978.3 263.3v-3.5M996.6 189.5v10.4M996.6 263.3v-10.4M1014.9 189.5v3.5M1014.9 263.3v-3.5M1033.2 189.5v3.5M1033.2 263.3v-3.5M1051.4 189.5v3.5M1051.4 263.3v-3.5M1069.7 189.5v3.5M1069.7 263.3v-3.5M1088 189.5v10.4M1088 263.3v-10.4M1106.3 189.5v3.5M1106.3 263.3v-3.5" stroke="#2a2a2a" stroke-width="1.1" fill="none"/>
<rect x="668.5" y="189.5" width="453.9" height="73.8" fill="none" stroke="#1c1c1c" stroke-width="1.15"/>
<line x1="668" y1="189.5" x2="1122.9" y2="189.5" stroke="#000" stroke-width="1.35" />
<line x1="668" y1="263.3" x2="1122.9" y2="263.3" stroke="#000" stroke-width="1.35" />
<path d="M668.5 248.3h5.8M1122.4 248.3h-5.8M668.5 231.9h5.8M1122.4 231.9h-5.8M668.5 215.6h5.8M1122.4 215.6h-5.8M668.5 199.2h5.8M1122.4 199.2h-5.8M668.5 261.4h2.6M1122.4 261.4h-2.6M668.5 258.1h2.6M1122.4 258.1h-2.6M668.5 254.8h2.6M1122.4 254.8h-2.6M668.5 251.6h2.6M1122.4 251.6h-2.6M668.5 248.3h2.6M1122.4 248.3h-2.6M668.5 245h2.6M1122.4 245h-2.6M668.5 241.8h2.6M1122.4 241.8h-2.6M668.5 238.5h2.6M1122.4 238.5h-2.6M668.5 235.2h2.6M1122.4 235.2h-2.6M668.5 231.9h2.6M1122.4 231.9h-2.6M668.5 228.7h2.6M1122.4 228.7h-2.6M668.5 225.4h2.6M1122.4 225.4h-2.6M668.5 222.1h2.6M1122.4 222.1h-2.6M668.5 218.8h2.6M1122.4 218.8h-2.6M668.5 215.6h2.6M1122.4 215.6h-2.6M668.5 212.3h2.6M1122.4 212.3h-2.6M668.5 209h2.6M1122.4 209h-2.6M668.5 205.7h2.6M1122.4 205.7h-2.6M668.5 202.5h2.6M1122.4 202.5h-2.6M668.5 199.2h2.6M1122.4 199.2h-2.6M668.5 195.9h2.6M1122.4 195.9h-2.6M668.5 192.7h2.6M1122.4 192.7h-2.6" stroke="#111" stroke-width="1.1" fill="none"/>
<text x="665.3" y="252" font-size="10.5" text-anchor="end" fill="#000" >-100</text>
<text x="665.3" y="235.6" font-size="10.5" text-anchor="end" fill="#000" >0</text>
<text x="665.3" y="219.3" font-size="10.5" text-anchor="end" fill="#000" >100</text>
<text x="665.3" y="202.9" font-size="10.5" text-anchor="end" fill="#000" >200</text>
<text x="637.3" y="227.5" font-size="11.5" text-anchor="middle" fill="#000" transform="rotate(-90 637.3 227.5)" >V<tspan dy="3.8" font-size="8.6">e LMN</tspan><tspan dy="-3.8" font-size="1">&#8203;</tspan> [km/s]</text>
<line x1="709.5" y1="267.5" x2="709.5" y2="336.5" stroke="#ff0000" stroke-width="1.2" stroke-dasharray="8.8 4.8"/>
<line x1="724.7" y1="267.5" x2="724.7" y2="336.5" stroke="#3434ff" stroke-width="1.5" stroke-dasharray="1.8 2.7"/>
<line x1="897.7" y1="267.5" x2="897.7" y2="336.5" stroke="#ff0000" stroke-width="1.2" stroke-dasharray="8.8 4.8"/>
<line x1="939.2" y1="267.5" x2="939.2" y2="336.5" stroke="#ff20ff" stroke-width="1.55" stroke-dasharray="1.7 3.0"/>
<line x1="991.5" y1="267.5" x2="991.5" y2="336.5" stroke="#10b010" stroke-width="1.3" stroke-dasharray="8.8 4.8"/>
<polyline transform="translate(669.1 263.3) scale(0.30000 .1)" points="0,532 1,521 2,481 3,638 4,550 5,524 6,540 7,497 8,566 9,475 10,407 11,568 12,549 13,533 14,546 15,519 16,567 17,564 18,486 19,602 20,460 21,476 22,537 23,517 24,537 25,468 26,471 27,488 28,545 29,466 30,577 31,637 32,535 33,627 34,539 35,560 36,534 37,540 38,531 39,587 40,535 41,568 42,508 43,483 44,515 45,508 46,554 47,557 48,529 49,501 50,517 51,534 52,387 53,499 54,583 55,571 56,552 57,479 58,598 59,474 60,591 61,523 62,556 63,496 64,484 65,548 66,548 67,476 68,505 69,495 70,513 71,571 72,533 73,526 74,542 75,623 76,485 77,489 78,557 79,573 80,482 81,557 82,576 83,546 84,574 85,565 86,519 87,421 88,485 89,489 90,568 91,564 92,518 93,509 94,555 95,559 96,469 97,438 98,570 99,510 100,500 101,525 102,542 103,457 104,564 105,471 106,452 107,470 108,535 109,472 110,587 111,581 112,581 113,456 114,526 115,520 116,474 117,546 118,473 119,581 120,524 121,502 122,461 123,449 124,550 125,550 126,638 127,541 128,462 129,574 130,563 131,464 132,532 133,444 134,520 135,510 136,420 137,606 138,516 139,534 140,507 141,556 142,538 143,473 144,509 145,563 146,460 147,407 148,491 149,545 150,476 151,535 152,457 153,496 154,493 155,580 156,480 157,513 158,578 159,521 160,530 161,600 162,481 163,523 164,406 165,632 166,444 167,500 168,504 169,511 170,495 171,546 172,538 173,503 174,523 175,442 176,555 177,557 178,489 179,456 180,615 181,515 182,544 183,583 184,514 185,524 186,513 187,500 188,585 189,518 190,552 191,554 192,519 193,490 194,531 195,540 196,587 197,624 198,603 199,608 200,618 201,524 202,480 203,483 204,582 205,512 206,541 207,580 208,506 209,497 210,522 211,515 212,557 213,550 214,514 215,463 216,562 217,551 218,424 219,453 220,509 221,452 222,412 223,529 224,614 225,547 226,560 227,433 228,416 229,518 230,504 231,459 232,486 233,546 234,499 235,453 236,606 237,394 238,607 239,510 240,477 241,533 242,512 243,509 244,475 245,499 246,532 247,535 248,487 249,559 250,534 251,554 252,601 253,541 254,575 255,532 256,652 257,545 258,559 259,539 260,526 261,565 262,578 263,578 264,545 265,562 266,544 267,597 268,419 269,556 270,528 271,497 272,460 273,472 274,482 275,449 276,475 277,518 278,525 279,496 280,543 281,529 282,459 283,426 284,464 285,530 286,468 287,457 288,508 289,541 290,462 291,598 292,515 293,463 294,461 295,514 296,473 297,480 298,517 299,540 300,468 301,542 302,593 303,538 304,536 305,456 306,437 307,490 308,563 309,492 310,530 311,528 312,569 313,727 314,485 315,562 316,583 317,579 318,532 319,578 320,556 321,560 322,589 323,540 324,586 325,519 326,599 327,551 328,556 329,546 330,570 331,570 332,527 333,498 334,558 335,598 336,635 337,468 338,628 339,524 340,596 341,464 342,541 343,566 344,539 345,481 346,493 347,469 348,483 349,515 350,584 351,583 352,431 353,523 354,546 355,571 356,531 357,555 358,528 359,499 360,508 361,572 362,501 363,503 364,517 365,652 366,495 367,553 368,495 369,466 370,533 371,512 372,605 373,462 374,547 375,520 376,522 377,532 378,566 379,541 380,541 381,544 382,519 383,553 384,557 385,613 386,559 387,520 388,614 389,596 390,529 391,521 392,567 393,518 394,506 395,481 396,507 397,521 398,495 399,426 400,487 401,527 402,566 403,521 404,460 405,514 406,524 407,460 408,568 409,471 410,503 411,534 412,466 413,509 414,551 415,592 416,512 417,592 418,609 419,565 420,566 421,551 422,500 423,608 424,473 425,613 426,570 427,615 428,503 429,474 430,529 431,526 432,513 433,526 434,460 435,540 436,516 437,534 438,467 439,528 440,521 441,526 442,436 443,488 444,476 445,552 446,504 447,556 448,410 449,478 450,559 451,530 452,525 453,438 454,512 455,567 456,503 457,502 458,487 459,546 460,491 461,544 462,442 463,576 464,538 465,547 466,434 467,407 468,511 469,495 470,461 471,585 472,512 473,574 474,462 475,571 476,472 477,587 478,398 479,568 480,554 481,511 482,525 483,363 484,511 485,532 486,569 487,603 488,571 489,654 490,562 491,496 492,527 493,497 494,483 495,497 496,588 497,460 498,475 499,443 500,519 501,501 502,481 503,550 504,492 505,591 506,527 507,588 508,546 509,633 510,519 511,576 512,533 513,524 514,519 515,581 516,505 517,524 518,475 519,583 520,471 521,552 522,614 523,598 524,479 525,495 526,539 527,535 528,571 529,534 530,607 531,581 532,444 533,588 534,554 535,556 536,630 537,550 538,530 539,568 540,516 541,527 542,604 543,458 544,597 545,560 546,558 547,517 548,476 549,467 550,640 551,575 552,609 553,572 554,478 555,580 556,505 557,707 558,560 559,475 560,531 561,561 562,667 563,637 564,587 565,534 566,570 567,553 568,599 569,496 570,470 571,519 572,585 573,579 574,523 575,543 576,460 577,407 578,588 579,450 580,581 581,530 582,587 583,526 584,555 585,503 586,481 587,594 588,487 589,515 590,531 591,483 592,511 593,526 594,559 595,478 596,509 597,389 598,517 599,497 600,512 601,475 602,551 603,542 604,638 605,516 606,511 607,514 608,468 609,520 610,565 611,544 612,561 613,551 614,436 615,435 616,540 617,510 618,594 619,500 620,505 621,530 622,574 623,357 624,529 625,541 626,562 627,481 628,518 629,421 630,474 631,527 632,492 633,540 634,574 635,638 636,564 637,547 638,539 639,543 640,533 641,608 642,577 643,495 644,544 645,498 646,455 647,360 648,567 649,571 650,599 651,470 652,544 653,583 654,380 655,530 656,572 657,444 658,621 659,537 660,571 661,488 662,532 663,508 664,559 665,592 666,557 667,530 668,557 669,517 670,591 671,479 672,590 673,485 674,536 675,593 676,533 677,467 678,551 679,525 680,564 681,555 682,543 683,594 684,548 685,503 686,500 687,564 688,453 689,543 690,551 691,515 692,494 693,503 694,499 695,525 696,633 697,640 698,685 699,530 700,526 701,588 702,501 703,552 704,539 705,430 706,468 707,548 708,540 709,550 710,559 711,544 712,481 713,532 714,483 715,562 716,606 717,597 718,523 719,571 720,528 721,487 722,542 723,650 724,500 725,552 726,519 727,620 728,552 729,478 730,535 731,545 732,497 733,546 734,531 735,507 736,510 737,485 738,472 739,529 740,537 741,565 742,551 743,448 744,603 745,526 746,523 747,533 748,416 749,477 750,556 751,587 752,626 753,544 754,585 755,529 756,517 757,598 758,557 759,523 760,602 761,587 762,571 763,478 764,479 765,518 766,559 767,576 768,537 769,509 770,509 771,458 772,540 773,639 774,633 775,530 776,467 777,483 778,509 779,510 780,503 781,483 782,423 783,513 784,485 785,558 786,536 787,556 788,527 789,536 790,652 791,612 792,600 793,553 794,598 795,508 796,581 797,689 798,578 799,563 800,571 801,632 802,560 803,538 804,604 805,522 806,493 807,569 808,497 809,441 810,418 811,500 812,499 813,475 814,598 815,493 816,538 817,511 818,508 819,486 820,559 821,500 822,574 823,522 824,431 825,580 826,452 827,503 828,480 829,507 830,520 831,559 832,568 833,527 834,623 835,541 836,567 837,568 838,438 839,536 840,472 841,545 842,594 843,454 844,420 845,548 846,534 847,567 848,593 849,438 850,576 851,519 852,582 853,530 854,547 855,574 856,553 857,526 858,655 859,408 860,561 861,566 862,511 863,522 864,565 865,569 866,531 867,538 868,575 869,591 870,476 871,602 872,509 873,524 874,534 875,512 876,542 877,599 878,576 879,544 880,506 881,559 882,507 883,553 884,666 885,550 886,554 887,521 888,565 889,553 890,480 891,584 892,517 893,576 894,518 895,641 896,619 897,550 898,469 899,554 900,608 901,439 902,469 903,432 904,531 905,513 906,568 907,535 908,585 909,566 910,492 911,612 912,557 913,518 914,489 915,513 916,545 917,520 918,494 919,543 920,479 921,594 922,484 923,604 924,523 925,476 926,516 927,538 928,470 929,598 930,514 931,474 932,558 933,499 934,533 935,550 936,509 937,558 938,613 939,484 940,600 941,486 942,629 943,557 944,578 945,571 946,523 947,570 948,526 949,571 950,492 951,551 952,567 953,606 954,552 955,527 956,489 957,546 958,473 959,520 960,529 961,554 962,536 963,544 964,599 965,548 966,511 967,535 968,482 969,527 970,531 971,546 972,543 973,623 974,556 975,485 976,491 977,538 978,513 979,543 980,572 981,517 982,526 983,530 984,521 985,585 986,505 987,534 988,537 989,551 990,581 991,606 992,548 993,577 994,551 995,557 996,568 997,496 998,525 999,438 1000,530 1001,603 1002,451 1003,542 1004,669 1005,537 1006,560 1007,511 1008,534 1009,599 1010,596 1011,565 1012,485 1013,504 1014,505 1015,600 1016,616 1017,510 1018,561 1019,539 1020,548 1021,549 1022,585 1023,567 1024,616 1025,504 1026,488 1027,648 1028,429 1029,617 1030,545 1031,671 1032,523 1033,552 1034,528 1035,507 1036,618 1037,551 1038,600 1039,613 1040,581 1041,611 1042,559 1043,560 1044,519 1045,518 1046,591 1047,584 1048,492 1049,462 1050,535 1051,527 1052,529 1053,558 1054,527 1055,517 1056,403 1057,498 1058,561 1059,513 1060,424 1061,532 1062,523 1063,422 1064,534 1065,549 1066,486 1067,509 1068,534 1069,450 1070,510 1071,508 1072,486 1073,581 1074,532 1075,576 1076,564 1077,542 1078,585 1079,516 1080,634 1081,517 1082,639 1083,614 1084,493 1085,396 1086,522 1087,516 1088,553 1089,580 1090,608 1091,593 1092,621 1093,648 1094,534 1095,553 1096,632 1097,554 1098,513 1099,556 1100,477 1101,573 1102,518 1103,431 1104,497 1105,508 1106,504 1107,533 1108,608 1109,667 1110,518 1111,518 1112,528 1113,526 1114,583 1115,492 1116,627 1117,575 1118,496 1119,516 1120,555 1121,569 1122,539 1123,636 1124,523 1125,530 1126,607 1127,532 1128,531 1129,592 1130,623 1131,560 1132,554 1133,497 1134,503 1135,518 1136,504 1137,476 1138,523 1139,431 1140,443 1141,520 1142,512 1143,525 1144,462 1145,407 1146,562 1147,523 1148,571 1149,574 1150,586 1151,510 1152,478 1153,536 1154,510 1155,483 1156,558 1157,585 1158,526 1159,548 1160,615 1161,631 1162,689 1163,505 1164,663 1165,636 1166,539 1167,517 1168,592 1169,553 1170,541 1171,513 1172,594 1173,539 1174,634 1175,656 1176,509 1177,540 1178,577 1179,578 1180,608 1181,530 1182,498 1183,611 1184,488 1185,499 1186,511 1187,581 1188,545 1189,520 1190,458 1191,616 1192,531 1193,411 1194,504 1195,646 1196,525 1197,526 1198,587 1199,466 1200,411 1201,564 1202,422 1203,573 1204,546 1205,436 1206,559 1207,571 1208,476 1209,575 1210,556 1211,542 1212,551 1213,532 1214,485 1215,557 1216,458 1217,474 1218,590 1219,549 1220,545 1221,392 1222,451 1223,550 1224,584 1225,532 1226,567 1227,493 1228,479 1229,582 1230,497 1231,508 1232,569 1233,546 1234,497 1235,525 1236,486 1237,482 1238,542 1239,408 1240,590 1241,507 1242,504 1243,513 1244,520 1245,548 1246,594 1247,583 1248,426 1249,576 1250,623 1251,597 1252,505 1253,563 1254,536 1255,572 1256,604 1257,593 1258,530 1259,555 1260,567 1261,635 1262,576 1263,561 1264,620 1265,491 1266,546 1267,562 1268,563 1269,537 1270,580 1271,566 1272,592 1273,560 1274,503 1275,510 1276,526 1277,609 1278,629 1279,480 1280,529 1281,506 1282,544 1283,540 1284,462 1285,411 1286,513 1287,540 1288,499 1289,488 1290,548 1291,516 1292,504 1293,542 1294,503 1295,550 1296,465 1297,495 1298,516 1299,561 1300,536 1301,510 1302,445 1303,609 1304,638 1305,639 1306,558 1307,464 1308,552 1309,590 1310,570 1311,536 1312,612 1313,545 1314,625 1315,522 1316,634 1317,570 1318,546 1319,455 1320,639 1321,629 1322,487 1323,524 1324,508 1325,552 1326,566 1327,510 1328,545 1329,548 1330,589 1331,473 1332,628 1333,465 1334,548 1335,536 1336,526 1337,557 1338,487 1339,554 1340,492 1341,623 1342,624 1343,620 1344,583 1345,514 1346,508 1347,549 1348,488 1349,539 1350,578 1351,623 1352,542 1353,560 1354,565 1355,552 1356,567 1357,470 1358,516 1359,493 1360,520 1361,477 1362,530 1363,497 1364,526 1365,523 1366,532 1367,497 1368,602 1369,527 1370,557 1371,600 1372,536 1373,532 1374,471 1375,541 1376,524 1377,556 1378,571 1379,643 1380,520 1381,554 1382,635 1383,560 1384,527 1385,594 1386,618 1387,489 1388,509 1389,479 1390,562 1391,577 1392,572 1393,597 1394,603 1395,585 1396,460 1397,481 1398,522 1399,568 1400,585 1401,570 1402,530 1403,552 1404,482 1405,544 1406,513 1407,527 1408,625 1409,589 1410,494 1411,573 1412,565 1413,562 1414,664 1415,537 1416,571 1417,512 1418,565 1419,515 1420,560 1421,503 1422,563 1423,593 1424,508 1425,557 1426,552 1427,568 1428,585 1429,522 1430,617 1431,601 1432,587 1433,587 1434,550 1435,569 1436,571 1437,587 1438,547 1439,525 1440,559 1441,552 1442,492 1443,548 1444,581 1445,530 1446,576 1447,538 1448,471 1449,586 1450,584 1451,575 1452,494 1453,583 1454,590 1455,540 1456,576 1457,439 1458,593 1459,487 1460,603 1461,492 1462,561 1463,484 1464,542 1465,607 1466,531 1467,647 1468,514 1469,538 1470,608 1471,509 1472,568 1473,501 1474,443 1475,533 1476,465 1477,612 1478,543 1479,517 1480,572 1481,493 1482,491 1483,491 1484,519 1485,590 1486,548 1487,473 1488,512 1489,596 1490,567 1491,592 1492,669 1493,529 1494,528 1495,617 1496,556 1497,497 1498,624 1499,455 1500,484 1501,541 1502,543 1503,495 1504,532 1505,611 1506,510 1507,567 1508,673 1509,528 1510,591" fill="none" stroke="#ff1010" stroke-width="1.05" vector-effect="non-scaling-stroke" stroke-linejoin="round"/>
<polyline transform="translate(669.1 263.3) scale(0.30000 .1)" points="0,203 1,227 2,182 3,196 4,201 5,228 6,136 7,195 8,248 9,218 10,201 11,208 12,193 13,213 14,139 15,236 16,239 17,155 18,161 19,320 20,209 21,201 22,206 23,212 24,206 25,203 26,127 27,242 28,199 29,141 30,229 31,159 32,143 33,169 34,173 35,188 36,207 37,178 38,185 39,188 40,187 41,276 42,141 43,159 44,124 45,129 46,199 47,169 48,204 49,196 50,195 51,191 52,109 53,175 54,175 55,191 56,240 57,186 58,160 59,137 60,225 61,149 62,226 63,252 64,149 65,250 66,184 67,199 68,183 69,192 70,202 71,176 72,163 73,133 74,188 75,163 76,233 77,169 78,170 79,185 80,188 81,198 82,173 83,222 84,214 85,243 86,160 87,186 88,224 89,254 90,201 91,178 92,74 93,134 94,204 95,217 96,191 97,123 98,176 99,109 100,190 101,120 102,165 103,207 104,138 105,160 106,204 107,159 108,171 109,155 110,162 111,166 112,265 113,225 114,208 115,182 116,204 117,101 118,82 119,122 120,133 121,173 122,191 123,145 124,198 125,154 126,163 127,182 128,144 129,129 130,115 131,168 132,180 133,175 134,138 135,136 136,140 137,176 138,56 139,98 140,132 141,161 142,205 143,163 144,134 145,106 146,157 147,159 148,145 149,149 150,116 151,114 152,223 153,155 154,197 155,175 156,217 157,176 158,134 159,195 160,161 161,155 162,144 163,83 164,161 165,154 166,115 167,158 168,120 169,118 170,141 171,108 172,103 173,171 174,62 175,172 176,237 177,153 178,130 179,126 180,207 181,157 182,123 183,131 184,167 185,86 186,166 187,131 188,148 189,140 190,124 191,254 192,202 193,110 194,163 195,138 196,188 197,147 198,160 199,135 200,110 201,63 202,216 203,135 204,133 205,91 206,222 207,175 208,174 209,136 210,135 211,135 212,147 213,163 214,51 215,121 216,128 217,174 218,145 219,116 220,169 221,105 222,74 223,165 224,130 225,54 226,109 227,136 228,65 229,144 230,136 231,152 232,72 233,74 234,128 235,116 236,159 237,124 238,200 239,138 240,146 241,124 242,141 243,167 244,131 245,173 246,68 247,141 248,206 249,55 250,211 251,142 252,155 253,83 254,161 255,169 256,132 257,179 258,196 259,159 260,162 261,125 262,190 263,138 264,75 265,176 266,91 267,63 268,139 269,110 270,100 271,151 272,174 273,160 274,131 275,144 276,126 277,81 278,125 279,121 280,90 281,95 282,126 283,127 284,93 285,114 286,116 287,77 288,130 289,103 290,194 291,136 292,149 293,104 294,116 295,134 296,122 297,140 298,139 299,121 300,140 301,177 302,163 303,85 304,99 305,94 306,135 307,170 308,73 309,72 310,131 311,132 312,118 313,94 314,117 315,152 316,125 317,104 318,142 319,178 320,183 321,167 322,115 323,126 324,173 325,142 326,156 327,143 328,161 329,124 330,167 331,106 332,145 333,49 334,84 335,80 336,66 337,138 338,125 339,120 340,172 341,189 342,105 343,116 344,145 345,81 346,140 347,51 348,137 349,102 350,124 351,129 352,105 353,126 354,131 355,136 356,136 357,132 358,166 359,173 360,44 361,103 362,264 363,167 364,139 365,113 366,117 367,116 368,94 369,137 370,132 371,101 372,175 373,117 374,125 375,163 376,161 377,191 378,138 379,146 380,141 381,128 382,187 383,113 384,136 385,140 386,81 387,67 388,192 389,103 390,141 391,145 392,146 393,196 394,164 395,170 396,168 397,154 398,170 399,150 400,137 401,104 402,132 403,143 404,175 405,76 406,102 407,123 408,117 409,160 410,198 411,124 412,165 413,176 414,174 415,194 416,129 417,145 418,136 419,156 420,204 421,168 422,95 423,194 424,145 425,144 426,184 427,102 428,131 429,137 430,140 431,112 432,144 433,172 434,163 435,110 436,142 437,168 438,126 439,154 440,107 441,229 442,147 443,190 444,186 445,177 446,176 447,224 448,159 449,176 450,200 451,87 452,169 453,198 454,127 455,129 456,162 457,72 458,217 459,95 460,135 461,197 462,162 463,193 464,107 465,158 466,162 467,156 468,102 469,130 470,150 471,78 472,140 473,191 474,107 475,126 476,131 477,110 478,167 479,176 480,206 481,164 482,111 483,161 484,121 485,147 486,223 487,169 488,173 489,112 490,153 491,149 492,98 493,180 494,136 495,138 496,185 497,166 498,187 499,188 500,150 501,183 502,184 503,177 504,195 505,171 506,78 507,151 508,179 509,178 510,175 511,153 512,155 513,179 514,125 515,153 516,143 517,215 518,133 519,93 520,164 521,194 522,145 523,192 524,170 525,137 526,173 527,100 528,157 529,213 530,208 531,145 532,113 533,184 534,157 535,168 536,201 537,209 538,133 539,172 540,251 541,149 542,168 543,169 544,132 545,107 546,188 547,173 548,127 549,142 550,201 551,166 552,191 553,129 554,155 555,66 556,153 557,129 558,198 559,205 560,134 561,179 562,144 563,56 564,128 565,171 566,117 567,171 568,169 569,153 570,181 571,166 572,164 573,182 574,187 575,117 576,193 577,178 578,203 579,147 580,197 581,200 582,162 583,228 584,224 585,198 586,161 587,158 588,185 589,169 590,200 591,252 592,213 593,225 594,180 595,171 596,152 597,205 598,210 599,179 600,183 601,196 602,188 603,110 604,239 605,181 606,221 607,146 608,198 609,120 610,137 611,128 612,143 613,156 614,220 615,221 616,199 617,221 618,217 619,145 620,197 621,227 622,155 623,208 624,177 625,161 626,189 627,179 628,125 629,183 630,240 631,182 632,180 633,172 634,174 635,159 636,167 637,218 638,232 639,269 640,231 641,206 642,165 643,216 644,222 645,240 646,207 647,209 648,191 649,224 650,193 651,174 652,134 653,189 654,226 655,228 656,267 657,168 658,198 659,200 660,192 661,178 662,163 663,257 664,232 665,178 666,213 667,209 668,290 669,244 670,220 671,169 672,225 673,190 674,298 675,199 676,191 677,168 678,188 679,192 680,137 681,186 682,145 683,176 684,211 685,134 686,179 687,183 688,227 689,177 690,248 691,213 692,167 693,168 694,196 695,184 696,155 697,188 698,183 699,196 700,184 701,185 702,249 703,179 704,113 705,183 706,134 707,189 708,156 709,202 710,128 711,141 712,222 713,143 714,196 715,193 716,105 717,196 718,205 719,81 720,149 721,183 722,181 723,166 724,192 725,166 726,153 727,124 728,231 729,144 730,147 731,170 732,199 733,211 734,245 735,181 736,173 737,212 738,211 739,181 740,232 741,176 742,152 743,213 744,243 745,143 746,161 747,183 748,116 749,174 750,138 751,133 752,185 753,225 754,231 755,114 756,189 757,208 758,145 759,145 760,190 761,161 762,167 763,204 764,187 765,154 766,177 767,182 768,197 769,194 770,152 771,209 772,163 773,268 774,110 775,170 776,109 777,151 778,134 779,198 780,161 781,212 782,143 783,107 784,201 785,189 786,205 787,208 788,201 789,167 790,151 791,146 792,198 793,189 794,156 795,177 796,182 797,141 798,183 799,233 800,158 801,191 802,149 803,230 804,173 805,176 806,166 807,168 808,185 809,181 810,166 811,146 812,174 813,201 814,104 815,147 816,230 817,127 818,170 819,227 820,191 821,168 822,177 823,225 824,192 825,239 826,248 827,150 828,146 829,194 830,214 831,178 832,178 833,107 834,217 835,139 836,132 837,146 838,152 839,101 840,119 841,131 842,152 843,129 844,198 845,135 846,120 847,134 848,168 849,198 850,149 851,213 852,159 853,185 854,174 855,162 856,128 857,149 858,161 859,169 860,180 861,202 862,175 863,195 864,161 865,218 866,165 867,208 868,184 869,154 870,166 871,189 872,217 873,208 874,184 875,200 876,239 877,248 878,218 879,183 880,219 881,194 882,175 883,225 884,261 885,177 886,155 887,214 888,248 889,234 890,161 891,192 892,236 893,184 894,124 895,169 896,173 897,156 898,199 899,198 900,201 901,158 902,220 903,190 904,184 905,150 906,202 907,172 908,171 909,66 910,158 911,164 912,148 913,116 914,97 915,142 916,137 917,196 918,163 919,121 920,121 921,147 922,220 923,171 924,177 925,242 926,134 927,186 928,173 929,202 930,221 931,140 932,200 933,227 934,143 935,214 936,157 937,210 938,199 939,199 940,202 941,184 942,187 943,163 944,188 945,115 946,176 947,126 948,117 949,143 950,242 951,151 952,134 953,150 954,201 955,176 956,210 957,228 958,174 959,156 960,153 961,147 962,152 963,198 964,209 965,161 966,175 967,219 968,233 969,176 970,156 971,115 972,135 973,238 974,240 975,194 976,196 977,177 978,256 979,223 980,160 981,190 982,191 983,194 984,187 985,172 986,151 987,174 988,251 989,206 990,213 991,194 992,185 993,151 994,156 995,163 996,169 997,248 998,162 999,216 1000,178 1001,247 1002,176 1003,174 1004,230 1005,234 1006,144 1007,186 1008,226 1009,159 1010,143 1011,67 1012,185 1013,61 1014,187 1015,176 1016,147 1017,176 1018,141 1019,214 1020,164 1021,191 1022,224 1023,171 1024,113 1025,174 1026,214 1027,219 1028,127 1029,167 1030,212 1031,125 1032,212 1033,143 1034,242 1035,116 1036,170 1037,178 1038,207 1039,181 1040,147 1041,175 1042,213 1043,218 1044,193 1045,177 1046,251 1047,228 1048,245 1049,142 1050,192 1051,188 1052,130 1053,185 1054,214 1055,182 1056,196 1057,188 1058,133 1059,192 1060,219 1061,193 1062,187 1063,241 1064,276 1065,178 1066,184 1067,170 1068,183 1069,153 1070,237 1071,154 1072,161 1073,143 1074,164 1075,189 1076,201 1077,190 1078,181 1079,150 1080,150 1081,191 1082,175 1083,184 1084,133 1085,151 1086,129 1087,115 1088,175 1089,227 1090,154 1091,200 1092,132 1093,198 1094,116 1095,172 1096,237 1097,155 1098,167 1099,160 1100,159 1101,115 1102,140 1103,215 1104,205 1105,231 1106,132 1107,251 1108,207 1109,209 1110,199 1111,181 1112,162 1113,202 1114,174 1115,196 1116,200 1117,172 1118,196 1119,114 1120,191 1121,215 1122,178 1123,113 1124,243 1125,189 1126,224 1127,203 1128,175 1129,156 1130,142 1131,140 1132,193 1133,196 1134,208 1135,174 1136,96 1137,151 1138,179 1139,144 1140,147 1141,140 1142,119 1143,153 1144,138 1145,140 1146,189 1147,147 1148,146 1149,166 1150,119 1151,154 1152,163 1153,171 1154,126 1155,126 1156,192 1157,216 1158,196 1159,111 1160,222 1161,192 1162,87 1163,115 1164,195 1165,151 1166,172 1167,205 1168,129 1169,231 1170,158 1171,226 1172,116 1173,222 1174,209 1175,103 1176,157 1177,58 1178,139 1179,126 1180,143 1181,165 1182,139 1183,107 1184,193 1185,145 1186,170 1187,116 1188,147 1189,152 1190,181 1191,141 1192,146 1193,192 1194,121 1195,108 1196,79 1197,137 1198,77 1199,135 1200,188 1201,226 1202,172 1203,110 1204,133 1205,164 1206,150 1207,181 1208,173 1209,153 1210,138 1211,49 1212,155 1213,155 1214,102 1215,145 1216,157 1217,132 1218,252 1219,157 1220,205 1221,173 1222,195 1223,266 1224,83 1225,90 1226,89 1227,232 1228,149 1229,186 1230,182 1231,182 1232,138 1233,146 1234,133 1235,117 1236,169 1237,210 1238,169 1239,152 1240,129 1241,168 1242,140 1243,171 1244,126 1245,140 1246,125 1247,46 1248,161 1249,155 1250,154 1251,91 1252,120 1253,115 1254,185 1255,135 1256,83 1257,116 1258,144 1259,95 1260,151 1261,155 1262,108 1263,148 1264,180 1265,144 1266,126 1267,191 1268,125 1269,154 1270,164 1271,220 1272,179 1273,171 1274,174 1275,174 1276,173 1277,176 1278,248 1279,124 1280,232 1281,183 1282,157 1283,186 1284,205 1285,99 1286,104 1287,176 1288,164 1289,170 1290,195 1291,175 1292,159 1293,129 1294,117 1295,126 1296,201 1297,182 1298,136 1299,56 1300,136 1301,24 1302,133 1303,68 1304,124 1305,111 1306,133 1307,101 1308,138 1309,163 1310,144 1311,133 1312,173 1313,141 1314,88 1315,74 1316,98 1317,116 1318,131 1319,149 1320,112 1321,80 1322,158 1323,119 1324,119 1325,191 1326,176 1327,179 1328,50 1329,153 1330,160 1331,120 1332,125 1333,120 1334,175 1335,191 1336,152 1337,134 1338,157 1339,124 1340,132 1341,136 1342,132 1343,133 1344,160 1345,137 1346,150 1347,118 1348,107 1349,108 1350,101 1351,60 1352,132 1353,94 1354,84 1355,151 1356,156 1357,162 1358,125 1359,148 1360,133 1361,128 1362,203 1363,160 1364,177 1365,155 1366,168 1367,119 1368,96 1369,113 1370,59 1371,135 1372,167 1373,147 1374,138 1375,153 1376,115 1377,93 1378,127 1379,126 1380,120 1381,88 1382,119 1383,145 1384,129 1385,189 1386,183 1387,146 1388,117 1389,138 1390,135 1391,160 1392,102 1393,157 1394,157 1395,140 1396,168 1397,203 1398,188 1399,151 1400,196 1401,168 1402,147 1403,164 1404,175 1405,131 1406,148 1407,140 1408,199 1409,171 1410,100 1411,131 1412,132 1413,118 1414,122 1415,141 1416,205 1417,154 1418,165 1419,105 1420,175 1421,69 1422,135 1423,199 1424,136 1425,174 1426,157 1427,145 1428,43 1429,153 1430,122 1431,192 1432,131 1433,139 1434,54 1435,110 1436,111 1437,111 1438,167 1439,187 1440,188 1441,169 1442,171 1443,150 1444,135 1445,118 1446,160 1447,101 1448,183 1449,176 1450,201 1451,53 1452,106 1453,173 1454,106 1455,88 1456,106 1457,95 1458,160 1459,150 1460,122 1461,124 1462,155 1463,152 1464,143 1465,123 1466,167 1467,123 1468,210 1469,76 1470,202 1471,93 1472,46 1473,139 1474,150 1475,37 1476,161 1477,173 1478,75 1479,99 1480,124 1481,152 1482,156 1483,87 1484,75 1485,131 1486,124 1487,110 1488,126 1489,181 1490,156 1491,94 1492,154 1493,149 1494,186 1495,127 1496,135 1497,150 1498,129 1499,138 1500,130 1501,129 1502,133 1503,100 1504,140 1505,136 1506,164 1507,131 1508,141 1509,127 1510,207" fill="none" stroke="#1e1e1e" stroke-width="1.02" vector-effect="non-scaling-stroke" stroke-linejoin="round"/>
<line x1="674.8" y1="271.6" x2="692" y2="271.6" stroke="#ff3030" stroke-width="1.1" />
<text x="693.2" y="275.2" font-size="9.3" text-anchor="start" fill="#ff2020" >T<tspan dy="4.6" font-size="8.6">||</tspan><tspan dy="-4.6" font-size="1">&#8203;</tspan></text>
<text x="693.2" y="293.4" font-size="9.3" text-anchor="start" fill="#111" >T<tspan dy="5.2" font-size="8.6">⊥</tspan><tspan dy="-5.2" font-size="1">&#8203;</tspan></text>
<path d="M685.8 263.3v3.5M685.8 337.3v-3.5M704.1 263.3v3.5M704.1 337.3v-3.5M722.4 263.3v10.4M722.4 337.3v-10.4M740.7 263.3v3.5M740.7 337.3v-3.5M759 263.3v3.5M759 337.3v-3.5M777.2 263.3v3.5M777.2 337.3v-3.5M795.5 263.3v3.5M795.5 337.3v-3.5M813.8 263.3v10.4M813.8 337.3v-10.4M832.1 263.3v3.5M832.1 337.3v-3.5M850.4 263.3v3.5M850.4 337.3v-3.5M868.6 263.3v3.5M868.6 337.3v-3.5M886.9 263.3v3.5M886.9 337.3v-3.5M905.2 263.3v10.4M905.2 337.3v-10.4M923.5 263.3v3.5M923.5 337.3v-3.5M941.8 263.3v3.5M941.8 337.3v-3.5M960 263.3v3.5M960 337.3v-3.5M978.3 263.3v3.5M978.3 337.3v-3.5M996.6 263.3v10.4M996.6 337.3v-10.4M1014.9 263.3v3.5M1014.9 337.3v-3.5M1033.2 263.3v3.5M1033.2 337.3v-3.5M1051.4 263.3v3.5M1051.4 337.3v-3.5M1069.7 263.3v3.5M1069.7 337.3v-3.5M1088 263.3v10.4M1088 337.3v-10.4M1106.3 263.3v3.5M1106.3 337.3v-3.5" stroke="#2a2a2a" stroke-width="1.1" fill="none"/>
<rect x="668.5" y="263.3" width="453.9" height="74" fill="none" stroke="#1c1c1c" stroke-width="1.15"/>
<line x1="668" y1="263.3" x2="1122.9" y2="263.3" stroke="#000" stroke-width="1.35" />
<line x1="668" y1="337.3" x2="1122.9" y2="337.3" stroke="#000" stroke-width="1.35" />
<path d="M668.5 281h5.8M1122.4 281h-5.8M668.5 303h3M1122.4 303h-3M668.5 318h3M1122.4 318h-3M668.5 329h3M1122.4 329h-3" stroke="#111" stroke-width="1"/>
<text x="1160.5" y="301" font-size="11.5" text-anchor="middle" fill="#000" transform="rotate(-90 1160.5 301)" >T<tspan dy="3.8" font-size="8.3">e</tspan><tspan dy="-3.8" font-size="1">&#8203;</tspan> [eV]</text>
<line x1="709.5" y1="341.5" x2="709.5" y2="410.5" stroke="#ff0000" stroke-width="1.2" stroke-dasharray="8.8 4.8"/>
<line x1="724.7" y1="341.5" x2="724.7" y2="410.5" stroke="#3434ff" stroke-width="1.5" stroke-dasharray="1.8 2.7"/>
<line x1="897.7" y1="341.5" x2="897.7" y2="410.5" stroke="#ff0000" stroke-width="1.2" stroke-dasharray="8.8 4.8"/>
<line x1="939.2" y1="341.5" x2="939.2" y2="410.5" stroke="#ff20ff" stroke-width="1.55" stroke-dasharray="1.7 3.0"/>
<line x1="991.5" y1="341.5" x2="991.5" y2="410.5" stroke="#10b010" stroke-width="1.3" stroke-dasharray="8.8 4.8"/>
<line x1="668.5" y1="393.1" x2="1122.4" y2="393.1" stroke="#222" stroke-width="0.9" stroke-dasharray="4.5 3"/>
<polyline points="669.1,385.4 670.1,389.3 671.1,387.9 672.1,391 673.1,389.8 674.1,389 675.1,388.7 676.1,389.2 677.1,390.8 678.1,390.7 679.1,391.6 680.1,392.3 681.1,393.1 682.1,393.5 683.1,394.5 684.1,394.8 685.1,394.6 686.1,393.9 687,394.4 688,396.1 689,395.2 690,394.8 691,394.1 692,394.7 693,395 694,397 695,396.2 696,398.2 697,396.6 698,396.4 699,397.2 700,397 701,396.6 702,396 703,397.9 704,397.7 705,402.7 706,402.3 707,406.4 708,402.1 709,401.4 710,402.7 711,402.3 712,398.9 713,398.4 714,396.5 715,395.7 716,397.3 717,398.8 718,396.2 719,394.6 720,396.9 721,396.3 721.9,394.8 722.9,392.8 723.9,394 724.9,392.7 725.9,393.6 726.9,392.1 727.9,391.1 728.9,394.2 729.9,393.9 730.9,391 731.9,392.6 732.9,390.1 733.9,391.3 734.9,389.2 735.9,389.2 736.9,389.6 737.9,388.8 738.9,388.7 739.9,389 740.9,385.6 741.9,385.6 742.9,387.1 743.9,386 744.9,383.1 745.9,382.9 746.9,382.4 747.9,384.5 748.9,384.7 749.9,382.8 750.9,382.2 751.9,382.4 752.9,379.7 753.9,380.5 754.9,378.7 755.9,377.5 756.8,379.1 757.8,377.4 758.8,378.5 759.8,378 760.8,377.1 761.8,377.1 762.8,376.9 763.8,377 764.8,377.9 765.8,377.7 766.8,376.6 767.8,378.3 768.8,378.1 769.8,376.6 770.8,377 771.8,376.2 772.8,376 773.8,377.1 774.8,375.6 775.8,377 776.8,377.9 777.8,378.4 778.8,379.2 779.8,380.1 780.8,377.3 781.8,378.6 782.8,380.9 783.8,379.2 784.8,385 785.8,386.9 786.8,387.9 787.8,388.2 788.8,389.2 789.8,388 790.8,391.1 791.7,389.1 792.7,391.1 793.7,391.9 794.7,391.5 795.7,392.3 796.7,392.7 797.7,392.5 798.7,390.7 799.7,390.3 800.7,390.1 801.7,389.6 802.7,388.5 803.7,387.6 804.7,387.3 805.7,386.8 806.7,387.5 807.7,388.7 808.7,386.4 809.7,386 810.7,385.6 811.7,385.3 812.7,386.1 813.7,383.8 814.7,383.8 815.7,385 816.7,384.3 817.7,383.7 818.7,384.2 819.7,385.1 820.7,385.4 821.7,384.6 822.7,383.9 823.7,384.5 824.7,384.9 825.7,385.2 826.6,387.3 827.6,385.2 828.6,386.2 829.6,385.6 830.6,385.6 831.6,386 832.6,386.8 833.6,388.9 834.6,386.3 835.6,385.2 836.6,387.2 837.6,387.1 838.6,385.5 839.6,386.1 840.6,385.5 841.6,385.9 842.6,385.8 843.6,384.4 844.6,385.9 845.6,382.3 846.6,383.7 847.6,384.1 848.6,383.3 849.6,385.5 850.6,382.7 851.6,382.9 852.6,382.8 853.6,384.5 854.6,382.8 855.6,382.9 856.6,383.5 857.6,383.2 858.6,383.2 859.6,381.3 860.6,382.2 861.5,382 862.5,380.6 863.5,379.6 864.5,379.5 865.5,381.6 866.5,379 867.5,378.3 868.5,379.1 869.5,381.5 870.5,381 871.5,380.7 872.5,381.8 873.5,382 874.5,383.4 875.5,383.3 876.5,383 877.5,386.6 878.5,387.2 879.5,388.3 880.5,388.6 881.5,390.8 882.5,392 883.5,392.2 884.5,391.6 885.5,394.1 886.5,394.7 887.5,395.7 888.5,394.4 889.5,392.4 890.5,392.3 891.5,393.2 892.5,390.7 893.5,392.9 894.5,393.4 895.5,394 896.4,392.2 897.4,393.3 898.4,393.6 899.4,394 900.4,393.5 901.4,393.6 902.4,392 903.4,391 904.4,391.3 905.4,391.2 906.4,391.2 907.4,391.6 908.4,389.4 909.4,388.8 910.4,390.7 911.4,389.1 912.4,388.7 913.4,390.1 914.4,388.5 915.4,389.2 916.4,388.9 917.4,387.7 918.4,388.2 919.4,386.5 920.4,388.8 921.4,388.9 922.4,385.2 923.4,388.3 924.4,388 925.4,387.3 926.4,387.9 927.4,388.5 928.4,388.6 929.4,387.5 930.3,386.3 931.3,386.8 932.3,386.2 933.3,386.1 934.3,386.4 935.3,386.6 936.3,384.4 937.3,387.3 938.3,386.5 939.3,386.1 940.3,388.7 941.3,387.9 942.3,386.8 943.3,387.7 944.3,388.4 945.3,388.8 946.3,389.9 947.3,388.3 948.3,386.3 949.3,388 950.3,387.3 951.3,387.9 952.3,389.1 953.3,387.6 954.3,390 955.3,391.1 956.3,391.2 957.3,390.8 958.3,392.4 959.3,391.4 960.3,391.6 961.3,393.3 962.3,394.5 963.3,393.6 964.3,394.5 965.2,394.2 966.2,395.2 967.2,396.4 968.2,398.1 969.2,400.6 970.2,400.7 971.2,401.1 972.2,400.1 973.2,400.1 974.2,399.7 975.2,399.5 976.2,399.1 977.2,399.9 978.2,400.3 979.2,399.5 980.2,399 981.2,397.6 982.2,398.4 983.2,399.5 984.2,397.4 985.2,397 986.2,395.8 987.2,395.3 988.2,396.2 989.2,396.2 990.2,395.5 991.2,394.2 992.2,393.1 993.2,394.4 994.2,394 995.2,392.7 996.2,393.3 997.2,395.6 998.2,395.3 999.2,394.8 1000.1,393.4 1001.1,394.2 1002.1,394.3 1003.1,395.2 1004.1,396 1005.1,395.7 1006.1,396.1 1007.1,397.9 1008.1,398 1009.1,397.5 1010.1,397.5 1011.1,399.1 1012.1,398.8 1013.1,400 1014.1,400.4 1015.1,399.6 1016.1,399.8 1017.1,399.4 1018.1,402 1019.1,399.8 1020.1,399.6 1021.1,401 1022.1,400.3 1023.1,397.8 1024.1,398.3 1025.1,396.6 1026.1,396 1027.1,396.7 1028.1,396.3 1029.1,395.3 1030.1,395 1031.1,396.7 1032.1,396.4 1033.1,395.2 1034.1,395 1035,394.9 1036,393.5 1037,393.1 1038,392.9 1039,394.5 1040,394 1041,396.3 1042,395.5 1043,397 1044,396.4 1045,396.8 1046,397.6 1047,399.4 1048,397.1 1049,397.6 1050,398.4 1051,399.7 1052,397.6 1053,399.1 1054,398 1055,399.1 1056,399.1 1057,400 1058,400.9 1059,400.1 1060,401.3 1061,401.8 1062,400.5 1063,402.4 1064,401.2 1065,402.6 1066,401.4 1067,400.3 1068,398 1069,400 1069.9,400.1 1070.9,397 1071.9,400 1072.9,399.2 1073.9,401.3 1074.9,400.6 1075.9,397.4 1076.9,397.2 1077.9,397 1078.9,398.3 1079.9,398.8 1080.9,399.5 1081.9,399.4 1082.9,399.3 1083.9,401.5 1084.9,400.9 1085.9,400.2 1086.9,400.4 1087.9,401.1 1088.9,400.5 1089.9,401.3 1090.9,398.8 1091.9,400.9 1092.9,401.3 1093.9,401.9 1094.9,403 1095.9,401.6 1096.9,403.1 1097.9,402.8 1098.9,404.4 1099.9,405 1100.9,403.3 1101.9,404 1102.9,404.9 1103.9,403.4 1104.8,403.4 1105.8,405.6 1106.8,403.6 1107.8,406.1 1108.8,405.1 1109.8,404.8 1110.8,405.6 1111.8,405.7 1112.8,404.2 1113.8,404.5 1114.8,404.1 1115.8,404.2 1116.8,405.2 1117.8,403.6 1118.8,403.1 1119.8,401.8 1120.8,401.8 1121.8,404.5" fill="none" stroke="#30f030" stroke-width="1.0" stroke-linejoin="round" />
<polyline points="669.1,383.6 670.1,384.7 671.1,385 672.1,385.7 673.1,385.7 674.1,386.6 675.1,388.1 676.1,388.8 677.1,390.5 678.1,390.1 679.1,391.5 680.1,391.5 681.1,391.3 682.1,390.2 683.1,392.1 684.1,391.8 685.1,392.4 686.1,392.2 687,394 688,394.6 689,394.4 690,394.6 691,394.3 692,393.3 693,392.5 694,393 695,392.3 696,393.3 697,391.9 698,392.2 699,391.1 700,392 701,391.3 702,390.8 703,389.4 704,389.5 705,389.4 706,388.3 707,388.5 708,388.9 709,388.3 710,388.3 711,386.5 712,386.4 713,385.6 714,385.4 715,384.9 716,385 717,385.7 718,384.5 719,383.6 720,382.7 721,381.6 721.9,381.4 722.9,381.2 723.9,380.3 724.9,379.5 725.9,379.6 726.9,379.4 727.9,378.8 728.9,377.7 729.9,378 730.9,377.9 731.9,377.7 732.9,376.8 733.9,375.5 734.9,375.5 735.9,375.5 736.9,375.6 737.9,374.9 738.9,374.7 739.9,374.1 740.9,374.3 741.9,372.5 742.9,373.1 743.9,372.8 744.9,372.1 745.9,371.7 746.9,370.3 747.9,369.3 748.9,368.8 749.9,370.1 750.9,370.1 751.9,373.1 752.9,372.2 753.9,373.1 754.9,373.5 755.9,374.8 756.8,376.3 757.8,376.7 758.8,377.2 759.8,377.8 760.8,378.7 761.8,380.6 762.8,381 763.8,382.8 764.8,383.5 765.8,383.4 766.8,385.8 767.8,386 768.8,387.8 769.8,388.4 770.8,387.8 771.8,388.5 772.8,389.1 773.8,390 774.8,390.1 775.8,390.9 776.8,391.5 777.8,391.9 778.8,391.7 779.8,392.2 780.8,393.2 781.8,393.4 782.8,392.6 783.8,339 784.8,374.6 785.8,390.5 786.8,389.7 787.8,391.1 788.8,386.9 789.8,388.2 790.8,386.6 791.7,386.9 792.7,385.7 793.7,385.7 794.7,385.9 795.7,385.1 796.7,384.5 797.7,385 798.7,383.7 799.7,383.7 800.7,383.7 801.7,381.7 802.7,381.8 803.7,381.7 804.7,381.3 805.7,381.9 806.7,381.3 807.7,382.2 808.7,382.2 809.7,382.4 810.7,382.3 811.7,383.2 812.7,382.2 813.7,381.7 814.7,382.7 815.7,382.2 816.7,382 817.7,382.8 818.7,381.3 819.7,381.6 820.7,382.5 821.7,382.2 822.7,381.6 823.7,381.8 824.7,381.5 825.7,381.3 826.6,380.8 827.6,380.7 828.6,380 829.6,380.1 830.6,380.7 831.6,379.9 832.6,379.6 833.6,379.9 834.6,380.3 835.6,380 836.6,380.1 837.6,378.7 838.6,379.9 839.6,379.1 840.6,379.6 841.6,379.8 842.6,380.1 843.6,379.5 844.6,379.2 845.6,379.8 846.6,379.7 847.6,379.1 848.6,378.9 849.6,380.7 850.6,379.8 851.6,379.4 852.6,378.9 853.6,379.4 854.6,380.9 855.6,381.3 856.6,381.5 857.6,382.9 858.6,382.8 859.6,383.8 860.6,384.7 861.5,386 862.5,385.7 863.5,388.2 864.5,389.3 865.5,388.9 866.5,390.7 867.5,390.9 868.5,390.3 869.5,390.3 870.5,391.3 871.5,390.7 872.5,392.5 873.5,393.5 874.5,393.2 875.5,391.9 876.5,392.3 877.5,390.8 878.5,390.7 879.5,390.8 880.5,389.2 881.5,390.5 882.5,389.3 883.5,388.5 884.5,388.9 885.5,388.6 886.5,388 887.5,387.4 888.5,387.3 889.5,385.6 890.5,385 891.5,384.5 892.5,383.7 893.5,383.3 894.5,382 895.5,381.4 896.4,380.2 897.4,380 898.4,380.8 899.4,381.2 900.4,381 901.4,379.7 902.4,380.3 903.4,379.2 904.4,379.4 905.4,378.8 906.4,379.5 907.4,379.7 908.4,379.7 909.4,380.6 910.4,379 911.4,379.1 912.4,378.2 913.4,378.9 914.4,379.3 915.4,379.3 916.4,379.6 917.4,380.3 918.4,378.5 919.4,379.4 920.4,380 921.4,378.1 922.4,378.3 923.4,378.6 924.4,378.3 925.4,378.1 926.4,377.7 927.4,377.7 928.4,377.7 929.4,377.1 930.3,377.2 931.3,378.6 932.3,378.9 933.3,380.1 934.3,380.2 935.3,380.8 936.3,383.5 937.3,382.5 938.3,385.5 939.3,386.1 940.3,387.1 941.3,388.7 942.3,388.7 943.3,389.3 944.3,390.3 945.3,391.5 946.3,394.2 947.3,394.1 948.3,395.6 949.3,395.3 950.3,395.8 951.3,395.2 952.3,395.1 953.3,396.3 954.3,397 955.3,397 956.3,398.2 957.3,397.6 958.3,397.4 959.3,398.7 960.3,398 961.3,396.5 962.3,395.4 963.3,394.9 964.3,393.9 965.2,393.6 966.2,393.5 967.2,391.6 968.2,389.9 969.2,389.6 970.2,388.8 971.2,389.8 972.2,385.2 973.2,387.8 974.2,386.1 975.2,385.7 976.2,385 977.2,385.5 978.2,383.7 979.2,382.5 980.2,383 981.2,382 982.2,382.2 983.2,382.5 984.2,382.1 985.2,381.4 986.2,379.7 987.2,380.3 988.2,379.2 989.2,378.7 990.2,378.6 991.2,378.9 992.2,378.1 993.2,378.2 994.2,377.9 995.2,379.3 996.2,378.9 997.2,378.2 998.2,378.1 999.2,378.2 1000.1,379.1 1001.1,378.9 1002.1,377.6 1003.1,379.3 1004.1,376.9 1005.1,377.9 1006.1,377.3 1007.1,378.3 1008.1,377.3 1009.1,376.4 1010.1,375.8 1011.1,375.2 1012.1,375.6 1013.1,374.5 1014.1,374.7 1015.1,374.7 1016.1,374.8 1017.1,374.1 1018.1,374.7 1019.1,374 1020.1,373.1 1021.1,373 1022.1,373.7 1023.1,374.6 1024.1,376.5 1025.1,376.7 1026.1,377.4 1027.1,378.1 1028.1,379.2 1029.1,379.2 1030.1,380.8 1031.1,380.2 1032.1,381 1033.1,382.3 1034.1,383.7 1035,383.9 1036,385 1037,384.2 1038,385.1 1039,387.4 1040,389.1 1041,390.1 1042,389.2 1043,388.3 1044,389.8 1045,391.3 1046,391.8 1047,391.7 1048,392.8 1049,391.9 1050,392.8 1051,391.9 1052,392 1053,392.6 1054,392.7 1055,391.9 1056,392.4 1057,392.5 1058,393.5 1059,393 1060,392.5 1061,391.3 1062,392.3 1063,391.8 1064,389.9 1065,389.8 1066,390.2 1067,389.1 1068,389.6 1069,390.2 1069.9,389.6 1070.9,388.6 1071.9,388.7 1072.9,391.1 1073.9,390.2 1074.9,390.2 1075.9,389 1076.9,389.4 1077.9,390.3 1078.9,390.6 1079.9,390 1080.9,390.5 1081.9,390 1082.9,390.6 1083.9,390.9 1084.9,390.8 1085.9,389.9 1086.9,390.2 1087.9,389.6 1088.9,389 1089.9,390.5 1090.9,390.9 1091.9,389.3 1092.9,389.3 1093.9,388.6 1094.9,388.9 1095.9,390.1 1096.9,388.8 1097.9,388.7 1098.9,389.3 1099.9,388.4 1100.9,387.4 1101.9,386.6 1102.9,386.4 1103.9,387.1 1104.8,386.1 1105.8,385.6 1106.8,385.7 1107.8,385.4 1108.8,386.8 1109.8,386.9 1110.8,386.3 1111.8,387.8 1112.8,388.7 1113.8,390.1 1114.8,390.1 1115.8,390.5 1116.8,391.8 1117.8,392.5 1118.8,392.4 1119.8,393.7 1120.8,393.1 1121.8,394.8" fill="none" stroke="#2020ff" stroke-width="1.0" stroke-linejoin="round" />
<polyline points="669.1,390.7 670.1,390.1 671.1,389.6 672.1,389.4 673.1,387.8 674.1,386.4 675.1,386.8 676.1,389 677.1,389 678.1,389.4 679.1,390.6 680.1,391.3 681.1,391.9 682.1,392.5 683.1,393 684.1,391.7 685.1,393.2 686.1,392.9 687,393.4 688,392.5 689,393.8 690,392.1 691,393.1 692,394.4 693,394.8 694,394.2 695,394.7 696,393.5 697,394.9 698,395.7 699,395.3 700,395.9 701,396 702,395.5 703,397.3 704,397.1 705,397.8 706,396.4 707,397 708,396.7 709,395.9 710,394.5 711,395 712,395.4 713,394.6 714,395.3 715,395.1 716,394.4 717,392.5 718,391.2 719,392.9 720,392.6 721,392.6 721.9,391.6 722.9,390.5 723.9,391.4 724.9,389.6 725.9,390.6 726.9,390.2 727.9,388.9 728.9,387.9 729.9,388.8 730.9,387.8 731.9,387.2 732.9,384.5 733.9,385.5 734.9,384.4 735.9,384.7 736.9,385.1 737.9,384.7 738.9,384.9 739.9,384.3 740.9,382.7 741.9,382.3 742.9,381 743.9,381.3 744.9,380.9 745.9,381.5 746.9,381.2 747.9,378.8 748.9,378.4 749.9,377.2 750.9,377.3 751.9,379.1 752.9,377.3 753.9,376.2 754.9,376.8 755.9,380.4 756.8,378.5 757.8,377.8 758.8,377.9 759.8,376 760.8,377.5 761.8,379.1 762.8,379.1 763.8,378.6 764.8,379.9 765.8,378.7 766.8,377.7 767.8,379.1 768.8,379.9 769.8,379.3 770.8,379.3 771.8,380.8 772.8,382.3 773.8,380.9 774.8,383 775.8,383.7 776.8,383.4 777.8,384 778.8,382.4 779.8,382.3 780.8,383.1 781.8,385.6 782.8,384.4 783.8,357 784.8,378.3 785.8,388 786.8,387.6 787.8,388.9 788.8,389.8 789.8,388.7 790.8,389 791.7,387.6 792.7,388.1 793.7,389.4 794.7,389 795.7,389.7 796.7,389 797.7,388.7 798.7,390 799.7,389.1 800.7,388.2 801.7,390.1 802.7,388.6 803.7,387.5 804.7,387.3 805.7,386 806.7,386.3 807.7,385.6 808.7,385.8 809.7,385.6 810.7,384.2 811.7,384.8 812.7,384.9 813.7,384.8 814.7,384.3 815.7,382.6 816.7,383.7 817.7,383.1 818.7,384.1 819.7,384.3 820.7,384.7 821.7,384.7 822.7,384.7 823.7,385.4 824.7,385.2 825.7,385 826.6,384.8 827.6,385.4 828.6,385.2 829.6,384.6 830.6,385.7 831.6,386.7 832.6,386.4 833.6,385.6 834.6,386.2 835.6,385.5 836.6,386.5 837.6,385.5 838.6,386.3 839.6,385 840.6,386.6 841.6,384.9 842.6,385.1 843.6,385.2 844.6,382.2 845.6,383.8 846.6,384.7 847.6,382.7 848.6,382.6 849.6,382.6 850.6,383.2 851.6,381.7 852.6,382.9 853.6,382.5 854.6,382.9 855.6,382.6 856.6,383.1 857.6,382.4 858.6,382.2 859.6,382.1 860.6,383.8 861.5,384.1 862.5,384.5 863.5,383.7 864.5,382.8 865.5,383.9 866.5,384.1 867.5,384.6 868.5,385.9 869.5,386.8 870.5,386.7 871.5,387.9 872.5,387.3 873.5,389.5 874.5,390 875.5,390.2 876.5,389.3 877.5,390.7 878.5,390.8 879.5,390.8 880.5,391.4 881.5,391.2 882.5,390.6 883.5,391.3 884.5,391.2 885.5,390.2 886.5,390.9 887.5,391.2 888.5,391 889.5,390 890.5,391.9 891.5,391.3 892.5,390.7 893.5,389.3 894.5,389.8 895.5,390.3 896.4,388.5 897.4,390.4 898.4,389.6 899.4,388.8 900.4,388.7 901.4,389.2 902.4,387.5 903.4,387.5 904.4,386.5 905.4,386.8 906.4,385.9 907.4,386.4 908.4,387.4 909.4,386.6 910.4,387.2 911.4,385.8 912.4,387.7 913.4,387.4 914.4,387.8 915.4,388 916.4,386.5 917.4,386.1 918.4,387.4 919.4,385.3 920.4,385.4 921.4,385.7 922.4,385.8 923.4,385 924.4,385.3 925.4,385.2 926.4,385.1 927.4,385.9 928.4,385.3 929.4,387.4 930.3,386.3 931.3,387.2 932.3,386.7 933.3,386.3 934.3,386.1 935.3,386 936.3,385.6 937.3,385.6 938.3,384.9 939.3,385.8 940.3,385.4 941.3,385.7 942.3,384.9 943.3,386.4 944.3,388.6 945.3,388.2 946.3,389.4 947.3,389.9 948.3,391.3 949.3,392 950.3,390.7 951.3,390.8 952.3,391.6 953.3,393 954.3,392.7 955.3,393.8 956.3,393.2 957.3,392.7 958.3,393.7 959.3,394.9 960.3,395.2 961.3,396 962.3,395 963.3,396.1 964.3,395.8 965.2,396.5 966.2,397.2 967.2,397 968.2,395.3 969.2,394 970.2,395.3 971.2,395.2 972.2,394.2 973.2,394.8 974.2,395.5 975.2,394.4 976.2,393.5 977.2,391.4 978.2,390.9 979.2,392.8 980.2,391.6 981.2,391.6 982.2,392.3 983.2,390.4 984.2,391.8 985.2,390 986.2,390.9 987.2,390.5 988.2,390.8 989.2,390.3 990.2,389.6 991.2,389.7 992.2,387.6 993.2,388.3 994.2,387.3 995.2,388.6 996.2,388.5 997.2,388.1 998.2,389.3 999.2,388.3 1000.1,388.5 1001.1,387.4 1002.1,389.4 1003.1,388.1 1004.1,388.4 1005.1,390.2 1006.1,389 1007.1,389.1 1008.1,388.2 1009.1,389.1 1010.1,389.2 1011.1,390.1 1012.1,391.1 1013.1,389.9 1014.1,391.2 1015.1,391.2 1016.1,390.1 1017.1,390.8 1018.1,390.3 1019.1,390.6 1020.1,390.1 1021.1,389.1 1022.1,391.2 1023.1,391.5 1024.1,390.3 1025.1,390.9 1026.1,389.3 1027.1,391.4 1028.1,391.4 1029.1,391 1030.1,390.4 1031.1,390.6 1032.1,390.8 1033.1,391.1 1034.1,391.9 1035,390.9 1036,391.2 1037,393.3 1038,392.6 1039,391.9 1040,393.4 1041,393.9 1042,393.1 1043,392.1 1044,393.4 1045,393.9 1046,394.6 1047,394.7 1048,395.2 1049,394.2 1050,395.4 1051,394.5 1052,395.9 1053,396.1 1054,396.6 1055,397.1 1056,397.3 1057,396.3 1058,398.4 1059,396.6 1060,397.4 1061,397.3 1062,395.6 1063,398.9 1064,396.6 1065,396 1066,397.4 1067,396.2 1068,396.4 1069,396.5 1069.9,397.5 1070.9,397.5 1071.9,397.1 1072.9,396.5 1073.9,396.5 1074.9,394.7 1075.9,395 1076.9,396.2 1077.9,396.7 1078.9,395 1079.9,395.9 1080.9,395.2 1081.9,395.6 1082.9,394.8 1083.9,395.4 1084.9,395.8 1085.9,396 1086.9,396.1 1087.9,396.3 1088.9,395.1 1089.9,396.5 1090.9,396.6 1091.9,393.8 1092.9,395.3 1093.9,396 1094.9,397.5 1095.9,395.4 1096.9,397.8 1097.9,395.2 1098.9,396.1 1099.9,396.4 1100.9,396.8 1101.9,396.8 1102.9,396.3 1103.9,396.5 1104.8,396.3 1105.8,398.1 1106.8,397.8 1107.8,399 1108.8,398.7 1109.8,398.2 1110.8,399.1 1111.8,397.2 1112.8,398.6 1113.8,400.2 1114.8,400.2 1115.8,400 1116.8,399.8 1117.8,399.2 1118.8,399.3 1119.8,399.6 1120.8,399.6 1121.8,400.5" fill="none" stroke="#ff2020" stroke-width="1.0" stroke-linejoin="round" />
<line x1="674.8" y1="342.8" x2="692" y2="342.8" stroke="#2020ff" stroke-width="1.1" />
<text x="695.9" y="345.9" font-size="9.2" text-anchor="start" fill="#2020ff" >E<tspan dy="3.0" font-size="6.2">L</tspan><tspan dy="-3.0" font-size="1">&#8203;</tspan></text>
<line x1="674.8" y1="352.4" x2="692" y2="352.4" stroke="#30ff30" stroke-width="1.1" />
<text x="695.9" y="355.5" font-size="9.2" text-anchor="start" fill="#30ff30" >E<tspan dy="3.0" font-size="6.2">M</tspan><tspan dy="-3.0" font-size="1">&#8203;</tspan></text>
<line x1="674.8" y1="362.4" x2="692" y2="362.4" stroke="#ff2020" stroke-width="1.1" />
<text x="695.9" y="365.5" font-size="9.2" text-anchor="start" fill="#ff2020" >E<tspan dy="3.0" font-size="6.2">N</tspan><tspan dy="-3.0" font-size="1">&#8203;</tspan></text>
<path d="M685.8 337.3v3.5M685.8 411.4v-3.5M704.1 337.3v3.5M704.1 411.4v-3.5M722.4 337.3v10.4M722.4 411.4v-10.4M740.7 337.3v3.5M740.7 411.4v-3.5M759 337.3v3.5M759 411.4v-3.5M777.2 337.3v3.5M777.2 411.4v-3.5M795.5 337.3v3.5M795.5 411.4v-3.5M813.8 337.3v10.4M813.8 411.4v-10.4M832.1 337.3v3.5M832.1 411.4v-3.5M850.4 337.3v3.5M850.4 411.4v-3.5M868.6 337.3v3.5M868.6 411.4v-3.5M886.9 337.3v3.5M886.9 411.4v-3.5M905.2 337.3v10.4M905.2 411.4v-10.4M923.5 337.3v3.5M923.5 411.4v-3.5M941.8 337.3v3.5M941.8 411.4v-3.5M960 337.3v3.5M960 411.4v-3.5M978.3 337.3v3.5M978.3 411.4v-3.5M996.6 337.3v10.4M996.6 411.4v-10.4M1014.9 337.3v3.5M1014.9 411.4v-3.5M1033.2 337.3v3.5M1033.2 411.4v-3.5M1051.4 337.3v3.5M1051.4 411.4v-3.5M1069.7 337.3v3.5M1069.7 411.4v-3.5M1088 337.3v10.4M1088 411.4v-10.4M1106.3 337.3v3.5M1106.3 411.4v-3.5" stroke="#2a2a2a" stroke-width="1.1" fill="none"/>
<rect x="668.5" y="337.3" width="453.9" height="74.1" fill="none" stroke="#1c1c1c" stroke-width="1.15"/>
<line x1="668" y1="337.3" x2="1122.9" y2="337.3" stroke="#000" stroke-width="1.35" />
<line x1="668" y1="411.4" x2="1122.9" y2="411.4" stroke="#000" stroke-width="1.35" />
<path d="M668.5 393.1h5.8M1122.4 393.1h-5.8M668.5 374.6h5.8M1122.4 374.6h-5.8M668.5 356h5.8M1122.4 356h-5.8M668.5 337.5h5.8M1122.4 337.5h-5.8M668.5 411.6h2.6M1122.4 411.6h-2.6M668.5 407.9h2.6M1122.4 407.9h-2.6M668.5 404.2h2.6M1122.4 404.2h-2.6M668.5 400.5h2.6M1122.4 400.5h-2.6M668.5 396.8h2.6M1122.4 396.8h-2.6M668.5 393.1h2.6M1122.4 393.1h-2.6M668.5 389.4h2.6M1122.4 389.4h-2.6M668.5 385.7h2.6M1122.4 385.7h-2.6M668.5 382h2.6M1122.4 382h-2.6M668.5 378.3h2.6M1122.4 378.3h-2.6M668.5 374.6h2.6M1122.4 374.6h-2.6M668.5 370.9h2.6M1122.4 370.9h-2.6M668.5 367.2h2.6M1122.4 367.2h-2.6M668.5 363.4h2.6M1122.4 363.4h-2.6M668.5 359.7h2.6M1122.4 359.7h-2.6M668.5 356h2.6M1122.4 356h-2.6M668.5 352.3h2.6M1122.4 352.3h-2.6M668.5 348.6h2.6M1122.4 348.6h-2.6M668.5 344.9h2.6M1122.4 344.9h-2.6M668.5 341.2h2.6M1122.4 341.2h-2.6M668.5 337.5h2.6M1122.4 337.5h-2.6" stroke="#111" stroke-width="1.1" fill="none"/>
<text x="665.3" y="396.8" font-size="10.5" text-anchor="end" fill="#000" >0</text>
<text x="665.3" y="378.3" font-size="10.5" text-anchor="end" fill="#000" >1</text>
<text x="665.3" y="359.7" font-size="10.5" text-anchor="end" fill="#000" >2</text>
<text x="665.3" y="341.2" font-size="10.5" text-anchor="end" fill="#000" >3</text>
<text x="641" y="374.5" font-size="11.5" text-anchor="middle" fill="#000" transform="rotate(-90 641 374.5)" >E<tspan dy="3.8" font-size="8.3">LMN</tspan><tspan dy="-3.8" font-size="1">&#8203;</tspan> [mV m<tspan dy="-4.6" font-size="8.6">-1</tspan><tspan dy="4.6" font-size="1">&#8203;</tspan>]</text>
<line x1="709.5" y1="415.5" x2="709.5" y2="484" stroke="#ff0000" stroke-width="1.2" stroke-dasharray="8.8 4.8"/>
<line x1="724.7" y1="415.5" x2="724.7" y2="484" stroke="#3434ff" stroke-width="1.5" stroke-dasharray="1.8 2.7"/>
<line x1="897.7" y1="415.5" x2="897.7" y2="484" stroke="#ff0000" stroke-width="1.2" stroke-dasharray="8.8 4.8"/>
<line x1="939.2" y1="415.5" x2="939.2" y2="484" stroke="#ff20ff" stroke-width="1.55" stroke-dasharray="1.7 3.0"/>
<line x1="991.5" y1="415.5" x2="991.5" y2="484" stroke="#10b010" stroke-width="1.3" stroke-dasharray="8.8 4.8"/>
<polyline transform="translate(669.1 411.4) scale(0.30000 .1)" points="0,203 1,326 2,332 3,374 4,482 5,299 6,164 7,353 8,319 9,426 10,364 11,293 12,379 13,412 14,311 15,271 16,372 17,373 18,297 19,216 20,369 21,438 22,340 23,375 24,363 25,425 26,315 27,397 28,349 29,333 30,419 31,475 32,241 33,476 34,375 35,413 36,302 37,358 38,368 39,315 40,470 41,387 42,218 43,371 44,250 45,302 46,336 47,338 48,339 49,293 50,305 51,419 52,369 53,354 54,357 55,334 56,204 57,339 58,427 59,341 60,292 61,244 62,311 63,289 64,347 65,330 66,284 67,284 68,226 69,369 70,329 71,293 72,322 73,263 74,340 75,413 76,320 77,378 78,296 79,390 80,328 81,309 82,274 83,495 84,421 85,191 86,293 87,453 88,312 89,298 90,263 91,330 92,419 93,407 94,472 95,442 96,420 97,395 98,295 99,243 100,336 101,305 102,438 103,311 104,310 105,504 106,372 107,295 108,436 109,268 110,403 111,217 112,256 113,399 114,326 115,279 116,296 117,330 118,197 119,367 120,504 121,335 122,216 123,342 124,399 125,325 126,425 127,332 128,280 129,354 130,317 131,259 132,415 133,276 134,289 135,351 136,370 137,338 138,213 139,342 140,441 141,325 142,380 143,423 144,365 145,421 146,424 147,322 148,395 149,188 150,438 151,424 152,399 153,350 154,344 155,342 156,448 157,220 158,461 159,448 160,221 161,286 162,422 163,246 164,396 165,428 166,368 167,373 168,289 169,232 170,467 171,218 172,508 173,272 174,311 175,371 176,302 177,328 178,333 179,240 180,376 181,316 182,414 183,252 184,264 185,343 186,408 187,338 188,416 189,350 190,313 191,363 192,474 193,268 194,254 195,326 196,248 197,255 198,348 199,374 200,408 201,458 202,348 203,214 204,324 205,333 206,409 207,435 208,399 209,331 210,267 211,342 212,489 213,469 214,274 215,323 216,435 217,197 218,351 219,367 220,287 221,326 222,465 223,391 224,257 225,365 226,230 227,337 228,388 229,331 230,461 231,359 232,201 233,273 234,262 235,391 236,225 237,330 238,289 239,330 240,277 241,258 242,283 243,401 244,294 245,375 246,363 247,261 248,391 249,306 250,385 251,219 252,297 253,377 254,232 255,331 256,287 257,169 258,255 259,282 260,271 261,436 262,391 263,251 264,288 265,382 266,411 267,258 268,294 269,210 270,326 271,353 272,335 273,416 274,352 275,330 276,318 277,413 278,303 279,379 280,361 281,361 282,537 283,328 284,457 285,429 286,301 287,340 288,289 289,312 290,324 291,366 292,452 293,250 294,266 295,401 296,356 297,288 298,153 299,238 300,248 301,363 302,286 303,189 304,281 305,302 306,355 307,407 308,296 309,255 310,269 311,425 312,388 313,371 314,329 315,330 316,420 317,303 318,342 319,346 320,399 321,437 322,224 323,387 324,327 325,422 326,459 327,434 328,328 329,352 330,395 331,450 332,489 333,322 334,184 335,288 336,215 337,372 338,256 339,425 340,291 341,262 342,292 343,361 344,360 345,520 346,436 347,312 348,316 349,381 350,378 351,435 352,356 353,321 354,410 355,231 356,316 357,397 358,380 359,269 360,292 361,340 362,185 363,401 364,268 365,332 366,423 367,293 368,319 369,329 370,374 371,341 372,268 373,321 374,367 375,395 376,311 377,312 378,360 379,433 380,287 381,244 382,301 383,269 384,437 385,438 386,492 387,328 388,384 389,450 390,253 391,384 392,302 393,376 394,310 395,255 396,270 397,387 398,259 399,300 400,327 401,458 402,393 403,340 404,255 405,300 406,416 407,299 408,317 409,411 410,312 411,381 412,323 413,316 414,442 415,460 416,402 417,397 418,301 419,336 420,375 421,368 422,410 423,390 424,328 425,384 426,220 427,333 428,326 429,345 430,485 431,234 432,254 433,384 434,266 435,148 436,387 437,205 438,295 439,447 440,264 441,380 442,346 443,267 444,339 445,309 446,339 447,251 448,343 449,385 450,355 451,388 452,497 453,363 454,260 455,413 456,218 457,217 458,189 459,392 460,433 461,315 462,477 463,381 464,266 465,353 466,344 467,433 468,375 469,366 470,302 471,382 472,523 473,445 474,321 475,318 476,325 477,337 478,335 479,387 480,369 481,432 482,310 483,264 484,366 485,359 486,378 487,237 488,307 489,423 490,396 491,419 492,311 493,428 494,286 495,473 496,365 497,365 498,331 499,397 500,435 501,433 502,334 503,271 504,325 505,403 506,299 507,304 508,320 509,329 510,448 511,308 512,419 513,397 514,317 515,220 516,225 517,328 518,344 519,433 520,307 521,346 522,337 523,378 524,424 525,391 526,327 527,375 528,253 529,353 530,482 531,286 532,279 533,367 534,309 535,308 536,304 537,451 538,316 539,346 540,311 541,398 542,436 543,335 544,464 545,421 546,376 547,407 548,312 549,369 550,252 551,360 552,289 553,248 554,234 555,379 556,387 557,347 558,416 559,480 560,270 561,336 562,333 563,392 564,226 565,358 566,204 567,478 568,450 569,351 570,223 571,350 572,369 573,408 574,376 575,284 576,386 577,227 578,434 579,295 580,377 581,312 582,248 583,355 584,404 585,382 586,363 587,238 588,238 589,261 590,345 591,406 592,388 593,237 594,346 595,207 596,328 597,304 598,417 599,312 600,458 601,396 602,318 603,281 604,374 605,440 606,332 607,301 608,261 609,341 610,388 611,355 612,343 613,405 614,349 615,357 616,397 617,249 618,488 619,262 620,416 621,360 622,357 623,562 624,428 625,248 626,305 627,286 628,378 629,352 630,285 631,387 632,416 633,249 634,439 635,338 636,306 637,274 638,169 639,370 640,308 641,396 642,486 643,237 644,456 645,332 646,374 647,296 648,299 649,377 650,275 651,429 652,396 653,443 654,351 655,113 656,442 657,422 658,249 659,425 660,390 661,354 662,356 663,243 664,300 665,276 666,190 667,400 668,409 669,173 670,390 671,406 672,235 673,414 674,224 675,251 676,323 677,321 678,281 679,319 680,324 681,377 682,360 683,283 684,484 685,271 686,362 687,356 688,180 689,368 690,330 691,351 692,373 693,335 694,382 695,261 696,298 697,385 698,331 699,387 700,363 701,284 702,349 703,319 704,342 705,287 706,401 707,300 708,456 709,473 710,390 711,321 712,272 713,386 714,449 715,376 716,438 717,321 718,207 719,441 720,453 721,330 722,532 723,342 724,364 725,417 726,361 727,351 728,356 729,363 730,258 731,363 732,290 733,413 734,250 735,412 736,331 737,333 738,409 739,301 740,454 741,403 742,263 743,401 744,136 745,332 746,254 747,348 748,463 749,240 750,362 751,351 752,317 753,330 754,398 755,344 756,376 757,347 758,330 759,350 760,335 761,300 762,480 763,490 764,342 765,315 766,288 767,267 768,333 769,335 770,347 771,271 772,338 773,133 774,370 775,273 776,387 777,391 778,461 779,347 780,398 781,296 782,376 783,267 784,243 785,299 786,261 787,375 788,426 789,427 790,192 791,423 792,431 793,322 794,398 795,406 796,326 797,224 798,363 799,327 800,432 801,308 802,324 803,322 804,320 805,381 806,378 807,414 808,285 809,272 810,399 811,326 812,311 813,276 814,327 815,313 816,251 817,352 818,386 819,271 820,393 821,387 822,403 823,364 824,317 825,401 826,201 827,332 828,235 829,248 830,377 831,407 832,269 833,297 834,210 835,217 836,368 837,338 838,452 839,405 840,504 841,449 842,479 843,323 844,371 845,291 846,225 847,327 848,415 849,275 850,166 851,343 852,411 853,452 854,329 855,389 856,390 857,274 858,371 859,360 860,426 861,448 862,352 863,386 864,314 865,418 866,399 867,323 868,278 869,342 870,416 871,332 872,352 873,368 874,386 875,303 876,306 877,497 878,262 879,341 880,327 881,377 882,430 883,373 884,234 885,344 886,355 887,376 888,539 889,401 890,222 891,240 892,269 893,382 894,458 895,417 896,392 897,420 898,306 899,440 900,358 901,343 902,322 903,314 904,343 905,369 906,346 907,414 908,345 909,302 910,405 911,324 912,322 913,334 914,391 915,318 916,396 917,277 918,454 919,306 920,374 921,292 922,335 923,383 924,342 925,356 926,408 927,443 928,190 929,355 930,333 931,380 932,351 933,414 934,275 935,521 936,328 937,246 938,404 939,282 940,354 941,433 942,238 943,390 944,272 945,340 946,301 947,297 948,397 949,291 950,286 951,304 952,303 953,297 954,388 955,273 956,403 957,302 958,360 959,381 960,392 961,275 962,216 963,277 964,347 965,326 966,334 967,307 968,299 969,404 970,263 971,483 972,328 973,309 974,301 975,287 976,410 977,334 978,222 979,321 980,442 981,362 982,432 983,295 984,134 985,406 986,247 987,429 988,390 989,373 990,272 991,462 992,337 993,266 994,318 995,304 996,351 997,253 998,219 999,335 1000,383 1001,333 1002,197 1003,347 1004,318 1005,387 1006,267 1007,395 1008,325 1009,211 1010,278 1011,245 1012,359 1013,426 1014,286 1015,410 1016,166 1017,356 1018,270 1019,448 1020,305 1021,360 1022,297 1023,375 1024,330 1025,282 1026,344 1027,376 1028,353 1029,366 1030,213 1031,389 1032,315 1033,345 1034,208 1035,335 1036,465 1037,340 1038,323 1039,486 1040,266 1041,291 1042,283 1043,337 1044,382 1045,387 1046,302 1047,401 1048,227 1049,397 1050,374 1051,250 1052,350 1053,528 1054,272 1055,310 1056,471 1057,465 1058,110 1059,360 1060,314 1061,452 1062,324 1063,409 1064,478 1065,380 1066,285 1067,298 1068,357 1069,320 1070,270 1071,299 1072,294 1073,317 1074,297 1075,333 1076,280 1077,456 1078,339 1079,404 1080,321 1081,311 1082,385 1083,322 1084,281 1085,395 1086,342 1087,370 1088,375 1089,487 1090,328 1091,370 1092,427 1093,198 1094,289 1095,378 1096,467 1097,352 1098,253 1099,383 1100,452 1101,416 1102,400 1103,351 1104,227 1105,353 1106,244 1107,270 1108,337 1109,307 1110,261 1111,460 1112,233 1113,339 1114,288 1115,297 1116,345 1117,420 1118,312 1119,407 1120,271 1121,311 1122,475 1123,367 1124,374 1125,356 1126,418 1127,354 1128,407 1129,300 1130,385 1131,386 1132,205 1133,342 1134,333 1135,513 1136,311 1137,309 1138,349 1139,306 1140,261 1141,351 1142,323 1143,524 1144,215 1145,360 1146,383 1147,368 1148,357 1149,394 1150,319 1151,316 1152,389 1153,282 1154,326 1155,412 1156,356 1157,389 1158,371 1159,370 1160,353 1161,327 1162,444 1163,421 1164,357 1165,499 1166,383 1167,475 1168,338 1169,329 1170,432 1171,514 1172,410 1173,367 1174,384 1175,377 1176,357 1177,349 1178,366 1179,337 1180,319 1181,334 1182,423 1183,354 1184,449 1185,431 1186,343 1187,345 1188,451 1189,425 1190,409 1191,363 1192,316 1193,272 1194,407 1195,320 1196,429 1197,412 1198,358 1199,321 1200,216 1201,394 1202,388 1203,417 1204,425 1205,379 1206,318 1207,378 1208,290 1209,416 1210,459 1211,226 1212,337 1213,446 1214,357 1215,280 1216,311 1217,246 1218,247 1219,458 1220,294 1221,398 1222,344 1223,374 1224,295 1225,266 1226,290 1227,374 1228,319 1229,347 1230,463 1231,380 1232,504 1233,410 1234,274 1235,419 1236,422 1237,477 1238,281 1239,181 1240,289 1241,431 1242,349 1243,370 1244,335 1245,416 1246,446 1247,351 1248,485 1249,371 1250,424 1251,209 1252,424 1253,317 1254,341 1255,280 1256,398 1257,309 1258,417 1259,435 1260,468 1261,462 1262,419 1263,319 1264,366 1265,310 1266,280 1267,316 1268,376 1269,390 1270,301 1271,316 1272,433 1273,336 1274,434 1275,372 1276,312 1277,321 1278,353 1279,408 1280,424 1281,388 1282,285 1283,385 1284,351 1285,430 1286,257 1287,298 1288,352 1289,240 1290,277 1291,204 1292,397 1293,442 1294,418 1295,384 1296,401 1297,324 1298,181 1299,229 1300,405 1301,227 1302,336 1303,428 1304,371 1305,389 1306,331 1307,340 1308,376 1309,340 1310,323 1311,394 1312,309 1313,314 1314,283 1315,451 1316,288 1317,348 1318,384 1319,342 1320,290 1321,374 1322,419 1323,332 1324,275 1325,263 1326,194 1327,299 1328,386 1329,220 1330,332 1331,434 1332,209 1333,371 1334,286 1335,204 1336,438 1337,423 1338,282 1339,426 1340,358 1341,286 1342,373 1343,296 1344,333 1345,276 1346,434 1347,321 1348,245 1349,426 1350,412 1351,294 1352,136 1353,352 1354,351 1355,381 1356,414 1357,362 1358,470 1359,294 1360,343 1361,332 1362,254 1363,301 1364,461 1365,279 1366,321 1367,524 1368,317 1369,294 1370,385 1371,338 1372,350 1373,408 1374,453 1375,278 1376,323 1377,283 1378,411 1379,372 1380,543 1381,266 1382,428 1383,414 1384,261 1385,314 1386,357 1387,323 1388,257 1389,355 1390,236 1391,397 1392,310 1393,427 1394,405 1395,346 1396,325 1397,436 1398,413 1399,307 1400,348 1401,262 1402,314 1403,224 1404,333 1405,406 1406,247 1407,433 1408,263 1409,363 1410,227 1411,277 1412,343 1413,424 1414,429 1415,345 1416,304 1417,418 1418,278 1419,311 1420,321 1421,300 1422,370 1423,297 1424,399 1425,359 1426,252 1427,367 1428,466 1429,279 1430,384 1431,423 1432,418 1433,451 1434,571 1435,138 1436,408 1437,392 1438,475 1439,158 1440,284 1441,322 1442,370 1443,366 1444,322 1445,364 1446,445 1447,245 1448,306 1449,239 1450,389 1451,263 1452,289 1453,319 1454,325 1455,277 1456,342 1457,288 1458,331 1459,367 1460,273 1461,361 1462,453 1463,340 1464,338 1465,194 1466,370 1467,448 1468,225 1469,446 1470,408 1471,295 1472,353 1473,329 1474,322 1475,271 1476,348 1477,352 1478,325 1479,227 1480,255 1481,306 1482,390 1483,365 1484,395 1485,367 1486,366 1487,403 1488,534 1489,385 1490,305 1491,448 1492,359 1493,256 1494,453 1495,244 1496,488 1497,283 1498,289 1499,301 1500,234 1501,424 1502,311 1503,370 1504,362 1505,242 1506,248 1507,311 1508,200 1509,319 1510,384" fill="none" stroke="#1e1e1e" stroke-width="1.02" vector-effect="non-scaling-stroke" stroke-linejoin="round"/>
<polyline points="669.1,446.8 672.1,447 675.1,447.2 678.1,447.4 681.1,447.6 684.1,447.7 687,447.7 690,447.8 693,447.9 696,448 699,448.1 702,448.3 705,448.6 708,449.1 711,448.7 714,448.2 717,448.1 720,448 722.9,447.9 725.9,447.8 728.9,447.6 731.9,447.4 734.9,447.3 737.9,447.1 740.9,446.8 743.9,446.6 746.9,446.4 749.9,446.1 752.9,446 755.9,445.8 758.8,445.7 761.8,445.6 764.8,445.5 767.8,445.5 770.8,445.5 773.8,445.5 776.8,445.5 779.8,445.7 782.8,445.9 785.8,446.8 788.8,447.1 791.7,447.3 794.7,447.4 797.7,447.4 800.7,447.2 803.7,447 806.7,446.8 809.7,446.7 812.7,446.6 815.7,446.5 818.7,446.5 821.7,446.6 824.7,446.6 827.6,446.7 830.6,446.8 833.6,446.8 836.6,446.8 839.6,446.7 842.6,446.6 845.6,446.6 848.6,446.5 851.6,446.4 854.6,446.4 857.6,446.3 860.6,446.2 863.5,446.1 866.5,446 869.5,445.9 872.5,446.2 875.5,446.5 878.5,446.8 881.5,447.2 884.5,447.6 887.5,448.1 890.5,447.6 893.5,447.6 896.4,447.6 899.4,447.5 902.4,447.4 905.4,447.4 908.4,447.3 911.4,447.2 914.4,447.1 917.4,447 920.4,446.9 923.4,446.8 926.4,446.8 929.4,446.8 932.3,446.8 935.3,446.8 938.3,446.8 941.3,446.9 944.3,446.9 947.3,447 950.3,447 953.3,447.1 956.3,447.3 959.3,447.4 962.3,447.7 965.2,448 968.2,448.3 971.2,448.6 974.2,448.5 977.2,448.5 980.2,448.4 983.2,448.3 986.2,448.1 989.2,447.9 992.2,447.7 995.2,447.7 998.2,447.8 1001.1,448 1004.1,448.1 1007.1,448.2 1010.1,448.3 1013.1,448.4 1016.1,448.6 1019.1,448.6 1022.1,448.4 1025.1,448.3 1028.1,448.1 1031.1,448 1034.1,448 1037,447.9 1040,447.9 1043,448.1 1046,448.2 1049,448.3 1052,448.5 1055,448.5 1058,448.6 1061,448.6 1064,448.6 1067,448.6 1069.9,448.5 1072.9,448.5 1075.9,448.4 1078.9,448.3 1081.9,448.4 1084.9,448.5 1087.9,448.6 1090.9,448.7 1093.9,448.8 1096.9,448.9 1099.9,449 1102.9,449.1 1105.8,449.2 1108.8,449.2 1111.8,449.2 1114.8,449.2 1117.8,449.1 1120.8,449.1" fill="none" stroke="#22d022" stroke-width="0.85" stroke-linejoin="round" />
<line x1="674.8" y1="417.6" x2="692" y2="417.6" stroke="#333" stroke-width="1.1" />
<text x="692.6" y="420.8" font-size="9.2" text-anchor="start" fill="#222" >-(VexB)<tspan dy="3.0" font-size="6">M</tspan><tspan dy="-3.0" font-size="1">&#8203;</tspan></text>
<line x1="674.8" y1="428.5" x2="692" y2="428.5" stroke="#30ff30" stroke-width="1.1" />
<text x="694.2" y="431.6" font-size="9.4" text-anchor="start" fill="#30ff30" >E<tspan dy="3.2" font-size="6.2">M</tspan><tspan dy="-3.2" font-size="1">&#8203;</tspan></text>
<path d="M685.8 411.4v3.5M685.8 484.8v-3.5M704.1 411.4v3.5M704.1 484.8v-3.5M722.4 411.4v10.4M722.4 484.8v-10.4M740.7 411.4v3.5M740.7 484.8v-3.5M759 411.4v3.5M759 484.8v-3.5M777.2 411.4v3.5M777.2 484.8v-3.5M795.5 411.4v3.5M795.5 484.8v-3.5M813.8 411.4v10.4M813.8 484.8v-10.4M832.1 411.4v3.5M832.1 484.8v-3.5M850.4 411.4v3.5M850.4 484.8v-3.5M868.6 411.4v3.5M868.6 484.8v-3.5M886.9 411.4v3.5M886.9 484.8v-3.5M905.2 411.4v10.4M905.2 484.8v-10.4M923.5 411.4v3.5M923.5 484.8v-3.5M941.8 411.4v3.5M941.8 484.8v-3.5M960 411.4v3.5M960 484.8v-3.5M978.3 411.4v3.5M978.3 484.8v-3.5M996.6 411.4v10.4M996.6 484.8v-10.4M1014.9 411.4v3.5M1014.9 484.8v-3.5M1033.2 411.4v3.5M1033.2 484.8v-3.5M1051.4 411.4v3.5M1051.4 484.8v-3.5M1069.7 411.4v3.5M1069.7 484.8v-3.5M1088 411.4v10.4M1088 484.8v-10.4M1106.3 411.4v3.5M1106.3 484.8v-3.5" stroke="#2a2a2a" stroke-width="1.1" fill="none"/>
<rect x="668.5" y="411.4" width="453.9" height="73.4" fill="none" stroke="#1c1c1c" stroke-width="1.15"/>
<line x1="668" y1="411.4" x2="1122.9" y2="411.4" stroke="#000" stroke-width="1.35" />
<line x1="668" y1="484.8" x2="1122.9" y2="484.8" stroke="#000" stroke-width="1.35" />
<path d="M668.5 472.1h5.8M1122.4 472.1h-5.8M668.5 447.6h5.8M1122.4 447.6h-5.8M668.5 423.2h5.8M1122.4 423.2h-5.8M668.5 481.9h2.6M1122.4 481.9h-2.6M668.5 477h2.6M1122.4 477h-2.6M668.5 472.1h2.6M1122.4 472.1h-2.6M668.5 467.2h2.6M1122.4 467.2h-2.6M668.5 462.3h2.6M1122.4 462.3h-2.6M668.5 457.4h2.6M1122.4 457.4h-2.6M668.5 452.5h2.6M1122.4 452.5h-2.6M668.5 447.6h2.6M1122.4 447.6h-2.6M668.5 442.8h2.6M1122.4 442.8h-2.6M668.5 437.9h2.6M1122.4 437.9h-2.6M668.5 433h2.6M1122.4 433h-2.6M668.5 428.1h2.6M1122.4 428.1h-2.6M668.5 423.2h2.6M1122.4 423.2h-2.6M668.5 418.3h2.6M1122.4 418.3h-2.6M668.5 413.4h2.6M1122.4 413.4h-2.6" stroke="#111" stroke-width="1.1" fill="none"/>
<text x="1124.6" y="475.8" font-size="10.4" text-anchor="start" fill="#000" >-10</text>
<text x="1124.6" y="451.3" font-size="10.4" text-anchor="start" fill="#000" >0</text>
<text x="1124.6" y="426.9" font-size="10.4" text-anchor="start" fill="#000" >10</text>
<text x="1157" y="448" font-size="11.5" text-anchor="middle" fill="#000" transform="rotate(-90 1157 448)" >E<tspan dy="3.8" font-size="8.3">M</tspan><tspan dy="-3.8" font-size="1">&#8203;</tspan> [mW m<tspan dy="-4.6" font-size="8.6">-2</tspan><tspan dy="4.6" font-size="1">&#8203;</tspan>]</text>
<line x1="709.5" y1="489" x2="709.5" y2="557.5" stroke="#ff0000" stroke-width="1.2" stroke-dasharray="8.8 4.8"/>
<line x1="724.7" y1="489" x2="724.7" y2="557.5" stroke="#3434ff" stroke-width="1.5" stroke-dasharray="1.8 2.7"/>
<line x1="897.7" y1="489" x2="897.7" y2="557.5" stroke="#ff0000" stroke-width="1.2" stroke-dasharray="8.8 4.8"/>
<line x1="939.2" y1="489" x2="939.2" y2="557.5" stroke="#ff20ff" stroke-width="1.55" stroke-dasharray="1.7 3.0"/>
<line x1="991.5" y1="489" x2="991.5" y2="557.5" stroke="#10b010" stroke-width="1.3" stroke-dasharray="8.8 4.8"/>
<polyline transform="translate(672.1 484.8) scale(0.30000 .1)" points="0,694 1,543 2,484 3,373 4,347 5,330 6,619 7,556 8,391 9,597 10,637 11,527 12,501 13,557 14,485 15,654 16,465 17,521 18,525 19,472 20,570 21,474 22,584 23,629 24,656 25,373 26,679 27,522 28,377 29,481 30,542 31,403 32,589 33,563 34,473 35,681 36,192 37,416 38,423 39,624 40,318 41,402 42,523 43,708 44,609 45,659 46,507 47,462 48,330 49,518 50,429 51,501 52,456 53,575 54,526 55,527 56,612 57,557 58,354 59,669 60,557 61,266 62,417 63,452 64,599 65,551 66,409 67,471 68,673 69,443 70,542 71,526 72,547 73,331 74,236 75,573 76,564 77,523 78,510 79,492 80,549 81,479 82,343 83,413 84,547 85,492 86,352 87,336 88,583 89,656 90,508 91,504 92,539 93,442 94,683 95,428 96,568 97,635 98,524 99,607 100,567 101,417 102,531 103,652 104,463 105,476 106,610 107,202 108,434 109,468 110,311 111,597 112,635 113,614 114,551 115,355 116,404 117,238 118,523 119,353 120,489 121,570 122,483 123,592 124,387 125,513 126,560 127,426 128,633 129,366 130,546 131,351 132,415 133,516 134,441 135,430 136,570 137,605 138,626 139,577 140,503 141,616 142,489 143,495 144,627 145,641 146,452 147,597 148,419 149,526 150,582 151,476 152,525 153,594 154,627 155,499 156,498 157,334 158,461 159,496 160,468 161,566 162,662 163,553 164,501 165,462 166,581 167,693 168,446 169,369 170,478 171,420 172,398 173,539 174,471 175,410 176,544 177,476 178,540 179,579 180,205 181,532 182,336 183,481 184,452 185,318 186,633 187,528 188,314 189,588 190,565 191,394 192,342 193,500 194,191 195,500 196,464 197,537 198,499 199,501 200,436 201,491 202,510 203,612 204,380 205,477 206,373 207,564 208,595 209,438 210,500 211,411 212,452 213,549 214,458 215,412 216,572 217,443 218,409 219,429 220,424 221,634 222,393 223,572 224,594 225,442 226,597 227,512 228,470 229,564 230,516 231,431 232,556 233,407 234,668 235,303 236,249 237,611 238,389 239,394 240,501 241,354 242,225 243,642 244,460 245,494 246,447 247,497 248,588 249,429 250,516 251,581 252,603 253,512 254,352 255,548 256,469 257,617 258,435 259,528 260,576 261,452 262,230 263,480 264,483 265,473 266,545 267,445 268,508 269,396 270,534 271,506 272,618 273,589 274,239 275,532 276,523 277,614 278,466 279,591 280,507 281,483 282,479 283,343 284,587 285,574 286,466 287,448 288,264 289,284 290,406 291,486 292,602 293,519 294,410 295,323 296,592 297,563 298,450 299,367 300,495 301,401 302,333 303,482 304,479 305,383 306,351 307,647 308,401 309,645 310,449 311,575 312,569 313,456 314,610 315,374 316,557 317,459 318,612 319,469 320,473 321,371 322,614 323,469 324,594 325,495 326,515 327,474 328,436 329,392 330,396 331,562 332,401 333,546 334,480 335,501 336,539 337,432 338,676 339,651 340,589 341,536 342,466 343,470 344,420 345,582 346,579 347,370 348,336 349,171 350,472 351,562 352,486 353,461 354,323 355,541 356,655 357,485 358,605 359,498 360,454 361,381 362,538 363,595 364,476 365,464 366,631 367,515 368,381 369,575 370,478 371,525 372,501 373,405 374,496 375,593 376,560 377,607 378,518 379,346 380,200 381,564 382,496 383,600 384,440 385,578 386,356 387,513 388,466 389,523 390,674 391,523 392,422 393,428 394,527 395,440 396,400 397,628 398,226 399,396 400,604 401,621 402,628 403,422 404,562 405,612 406,563 407,483 408,568 409,500 410,496 411,417 412,502 413,454 414,601 415,486 416,375 417,262 418,290 419,428 420,340 421,344 422,471 423,242 424,526 425,400 426,395 427,640 428,373 429,588 430,396 431,622 432,414 433,609 434,348 435,375 436,436 437,632 438,375 439,525 440,549 441,656 442,541 443,530 444,392 445,286 446,444 447,413 448,437 449,565 450,472 451,507 452,537 453,347 454,299 455,530 456,480 457,329 458,649 459,615 460,421 461,526 462,657 463,527 464,464 465,412 466,516 467,449 468,636 469,496 470,542 471,463 472,447 473,460 474,398 475,570 476,306 477,349 478,333 479,454 480,524 481,503 482,481 483,393 484,357 485,326 486,322 487,150 488,525 489,329 490,230 491,532 492,477 493,459 494,347 495,586 496,415 497,545 498,509 499,437 500,669 501,315 502,352 503,461 504,489 505,446 506,636 507,579 508,184 509,410 510,449 511,312 512,428 513,536 514,259 515,640 516,546 517,216 518,391 519,475 520,522 521,575 522,361 523,399 524,585 525,336 526,501 527,402 528,403 529,626 530,548 531,497 532,555 533,481 534,555 535,449 536,449 537,511 538,74 539,411 540,438 541,528 542,508 543,450 544,412 545,463 546,204 547,516 548,198 549,150 550,298 551,503 552,549 553,281 554,409 555,649 556,371 557,351 558,633 559,181 560,673 561,500 562,355 563,508 564,650 565,363 566,222 567,531 568,594 569,537 570,481 571,308 572,357 573,405 574,491 575,226 576,411 577,480 578,610 579,289 580,649 581,514 582,511 583,290 584,559 585,465 586,587 587,632 588,520 589,394 590,482 591,214 592,438 593,536 594,543 595,601 596,484 597,575 598,537 599,547 600,663 601,466 602,315 603,645 604,525 605,581 606,274 607,567 608,416 609,534 610,466 611,524 612,335 613,421 614,421 615,386 616,593 617,623 618,468 619,268 620,569 621,473 622,597 623,517 624,390 625,434 626,578 627,661 628,384 629,535 630,509 631,601 632,418 633,494 634,569 635,545 636,646 637,261 638,236 639,552 640,570 641,468 642,447 643,528 644,415 645,81 646,427 647,529 648,403 649,434 650,349 651,571 652,691 653,512 654,572 655,419 656,532 657,523 658,510 659,685 660,535 661,470 662,532 663,499 664,326 665,484 666,469 667,302 668,568 669,240 670,333 671,445 672,403 673,526 674,271 675,684 676,341 677,545 678,461 679,358 680,428 681,382 682,579 683,362 684,259 685,542 686,569 687,521 688,440 689,372 690,390 691,390 692,465 693,481 694,439 695,507 696,444 697,515 698,400 699,537 700,432 701,354 702,467 703,544 704,621 705,256 706,634 707,446 708,612 709,483 710,519 711,481 712,439 713,583 714,545 715,593 716,271 717,523 718,557 719,459 720,500 721,501 722,562 723,532 724,572 725,411 726,520 727,486 728,487 729,258 730,463 731,540 732,241 733,552 734,493 735,574 736,287 737,513 738,319 739,409 740,511 741,360 742,469 743,232 744,382 745,468 746,552 747,540 748,356 749,478 750,466 751,558 752,362 753,434 754,414 755,556 756,395 757,661 758,296 759,541 760,514 761,452 762,495 763,647 764,463 765,523 766,288 767,441 768,336 769,433 770,466 771,534 772,445 773,496 774,526 775,445 776,519 777,491 778,625 779,432 780,435 781,519 782,358 783,639 784,538 785,616 786,559 787,379 788,421 789,456 790,571 791,189 792,478 793,515 794,493 795,485 796,520 797,540 798,527 799,592 800,500 801,521 802,395 803,614 804,310 805,612 806,425 807,407 808,580 809,483 810,238 811,575 812,486 813,659 814,490 815,490 816,675 817,555 818,583 819,416 820,487 821,475 822,335 823,481 824,583 825,397 826,474 827,623 828,481 829,400 830,480 831,696 832,316 833,518 834,535 835,534 836,505 837,540 838,505 839,450 840,510 841,646 842,468 843,571 844,493 845,634 846,446 847,610 848,328 849,424 850,510 851,458 852,600 853,423 854,420 855,312 856,455 857,504 858,576 859,484 860,539 861,566 862,333 863,704 864,532 865,626 866,554 867,447 868,623 869,623 870,541 871,470 872,551 873,602 874,539 875,246 876,442 877,537 878,462 879,519 880,499 881,340 882,205 883,518 884,264 885,617 886,430 887,622 888,511 889,631 890,6 891,530 892,551 893,496 894,291 895,621 896,513 897,596 898,465 899,427 900,416 901,565 902,554 903,526 904,483 905,475 906,385 907,585 908,414 909,593 910,636 911,465 912,215 913,447 914,467 915,467 916,529 917,448 918,628 919,443 920,477 921,363 922,368 923,484 924,526 925,575 926,358 927,510 928,693 929,442 930,288 931,598 932,321 933,376 934,586 935,561 936,353 937,457 938,412 939,534 940,402 941,470 942,278 943,530 944,594 945,570 946,536 947,494 948,349 949,467 950,551 951,544 952,546 953,338 954,540 955,401 956,432 957,384 958,453 959,451 960,464 961,467 962,498 963,451 964,532 965,328 966,504 967,62 968,555 969,519 970,570 971,333 972,431 973,405 974,565 975,188 976,414 977,490 978,491 979,514 980,507 981,176 982,503 983,425 984,569 985,272 986,561 987,606 988,465 989,516 990,612 991,296 992,352 993,555 994,367 995,442 996,318 997,381 998,210 999,491 1000,316 1001,375 1002,366 1003,373 1004,501 1005,455 1006,53 1007,616 1008,513 1009,542 1010,379 1011,619 1012,294 1013,552 1014,506 1015,379 1016,391 1017,449 1018,589 1019,603 1020,580 1021,573 1022,364 1023,438 1024,333 1025,243 1026,395 1027,217 1028,547 1029,630 1030,261 1031,586 1032,500 1033,316 1034,571 1035,500 1036,493 1037,382 1038,226 1039,537 1040,501 1041,440 1042,450 1043,394 1044,518 1045,674 1046,574 1047,525 1048,312 1049,436 1050,482 1051,229 1052,422 1053,537 1054,545 1055,261 1056,170 1057,486 1058,324 1059,362 1060,337 1061,446 1062,597 1063,302 1064,538 1065,373 1066,329 1067,297 1068,355 1069,334 1070,534 1071,489 1072,466 1073,474 1074,393 1075,506 1076,628 1077,675 1078,12 1079,479 1080,572 1081,261 1082,381 1083,596 1084,342 1085,450 1086,366 1087,376 1088,500 1089,429 1090,315 1091,475 1092,462 1093,530 1094,427 1095,417 1096,682 1097,686 1098,484 1099,519 1100,590 1101,549 1102,582 1103,378 1104,387 1105,291 1106,337 1107,469 1108,404 1109,646 1110,481 1111,202 1112,554 1113,435 1114,448 1115,479 1116,369 1117,403 1118,505 1119,429 1120,478 1121,364 1122,425 1123,552 1124,457 1125,605 1126,209 1127,509 1128,549 1129,327 1130,644 1131,462 1132,571 1133,383 1134,470 1135,597 1136,385 1137,406 1138,390 1139,369 1140,414 1141,456 1142,539 1143,375 1144,367 1145,609 1146,520 1147,394 1148,632 1149,573 1150,557 1151,525 1152,670 1153,568 1154,330 1155,364 1156,390 1157,600 1158,460 1159,249 1160,438 1161,407 1162,567 1163,449 1164,542 1165,517 1166,513 1167,644 1168,451 1169,456 1170,564 1171,472 1172,348 1173,440 1174,517 1175,582 1176,618 1177,454 1178,587 1179,475 1180,508 1181,542 1182,574 1183,411 1184,480 1185,624 1186,640 1187,639 1188,259 1189,596 1190,441 1191,505 1192,414 1193,462 1194,654 1195,444 1196,471 1197,431 1198,304 1199,518 1200,451 1201,337 1202,216 1203,566 1204,597 1205,647 1206,422 1207,410 1208,571 1209,621 1210,472 1211,582 1212,413 1213,474 1214,364 1215,545 1216,557 1217,469 1218,573 1219,448 1220,567 1221,553 1222,685 1223,464 1224,417 1225,592 1226,370 1227,599 1228,424 1229,610 1230,662 1231,561 1232,449 1233,543 1234,578 1235,562 1236,512 1237,661 1238,503 1239,319 1240,420 1241,523 1242,337 1243,360 1244,526 1245,249 1246,424 1247,231 1248,567 1249,550 1250,447 1251,569 1252,592 1253,454 1254,651 1255,449 1256,561 1257,318 1258,548 1259,509 1260,579 1261,502 1262,275 1263,679 1264,436 1265,413 1266,467 1267,401 1268,566 1269,433 1270,360 1271,630 1272,618 1273,576 1274,435 1275,484 1276,398 1277,436 1278,334 1279,506 1280,594 1281,603 1282,482 1283,697 1284,573 1285,593 1286,508 1287,545 1288,520 1289,179 1290,681 1291,438 1292,442 1293,546 1294,428 1295,621 1296,582 1297,431 1298,362 1299,364 1300,554 1301,502 1302,597 1303,435 1304,560 1305,473 1306,595 1307,483 1308,253 1309,444 1310,623 1311,513 1312,617 1313,411 1314,639 1315,548 1316,581 1317,516 1318,491 1319,530 1320,259 1321,403 1322,605 1323,551 1324,418 1325,488 1326,400 1327,493 1328,590 1329,619 1330,619 1331,632 1332,524 1333,466 1334,573 1335,625 1336,444 1337,506 1338,493 1339,512 1340,587 1341,549 1342,459 1343,418 1344,552 1345,560 1346,534 1347,521 1348,626 1349,367 1350,562 1351,399 1352,470 1353,672 1354,477 1355,582 1356,557 1357,551 1358,663 1359,411 1360,427 1361,474 1362,527 1363,406 1364,431 1365,499 1366,419 1367,572 1368,487 1369,486 1370,497 1371,508 1372,497 1373,513 1374,442 1375,436 1376,557 1377,593 1378,404 1379,610 1380,561 1381,540 1382,601 1383,600 1384,539 1385,415 1386,567 1387,373 1388,456 1389,412 1390,424 1391,441 1392,445 1393,617 1394,370 1395,402 1396,551 1397,312 1398,444 1399,534 1400,512 1401,578 1402,516 1403,598 1404,547 1405,420 1406,549 1407,318 1408,399 1409,424 1410,682 1411,331 1412,403 1413,500 1414,588 1415,501 1416,564 1417,494 1418,534 1419,484 1420,327 1421,625 1422,500 1423,576 1424,349 1425,263 1426,629 1427,557 1428,490 1429,218 1430,583 1431,722 1432,468 1433,371 1434,340 1435,333 1436,332 1437,443 1438,340 1439,640 1440,582 1441,511 1442,468 1443,236 1444,436 1445,483 1446,574 1447,481 1448,604 1449,416 1450,466 1451,543 1452,496 1453,296 1454,401 1455,497 1456,465 1457,369 1458,478 1459,273 1460,459 1461,459 1462,289 1463,394 1464,421 1465,548 1466,468 1467,426 1468,475 1469,631 1470,676 1471,568 1472,476 1473,564 1474,644 1475,581 1476,412 1477,600 1478,491 1479,504 1480,498 1481,552 1482,522 1483,580 1484,379 1485,530 1486,494 1487,376 1488,596 1489,477 1490,395" fill="none" stroke="#1e1e1e" stroke-width="1.02" vector-effect="non-scaling-stroke" stroke-linejoin="round"/>
<line x1="674.8" y1="500.3" x2="692" y2="500.3" stroke="#333" stroke-width="1.1" />
<text x="693.6" y="503.4" font-size="9" text-anchor="start" fill="#222" >|J|</text>
<path d="M685.8 484.8v3.5M685.8 558.3v-3.5M704.1 484.8v3.5M704.1 558.3v-3.5M722.4 484.8v10.4M722.4 558.3v-10.4M740.7 484.8v3.5M740.7 558.3v-3.5M759 484.8v3.5M759 558.3v-3.5M777.2 484.8v3.5M777.2 558.3v-3.5M795.5 484.8v3.5M795.5 558.3v-3.5M813.8 484.8v10.4M813.8 558.3v-10.4M832.1 484.8v3.5M832.1 558.3v-3.5M850.4 484.8v3.5M850.4 558.3v-3.5M868.6 484.8v3.5M868.6 558.3v-3.5M886.9 484.8v3.5M886.9 558.3v-3.5M905.2 484.8v10.4M905.2 558.3v-10.4M923.5 484.8v3.5M923.5 558.3v-3.5M941.8 484.8v3.5M941.8 558.3v-3.5M960 484.8v3.5M960 558.3v-3.5M978.3 484.8v3.5M978.3 558.3v-3.5M996.6 484.8v10.4M996.6 558.3v-10.4M1014.9 484.8v3.5M1014.9 558.3v-3.5M1033.2 484.8v3.5M1033.2 558.3v-3.5M1051.4 484.8v3.5M1051.4 558.3v-3.5M1069.7 484.8v3.5M1069.7 558.3v-3.5M1088 484.8v10.4M1088 558.3v-10.4M1106.3 484.8v3.5M1106.3 558.3v-3.5" stroke="#2a2a2a" stroke-width="1.1" fill="none"/>
<rect x="668.5" y="484.8" width="453.9" height="73.5" fill="none" stroke="#1c1c1c" stroke-width="1.15"/>
<line x1="668" y1="484.8" x2="1122.9" y2="484.8" stroke="#000" stroke-width="1.35" />
<line x1="668" y1="558.3" x2="1122.9" y2="558.3" stroke="#000" stroke-width="1.35" />
<path d="M668.5 547.8h5.8M1122.4 547.8h-5.8M668.5 535.2h5.8M1122.4 535.2h-5.8M668.5 522.6h5.8M1122.4 522.6h-5.8M668.5 509.9h5.8M1122.4 509.9h-5.8M668.5 497.3h5.8M1122.4 497.3h-5.8M668.5 484.7h5.8M1122.4 484.7h-5.8M668.5 557.3h2.6M1122.4 557.3h-2.6M668.5 554.1h2.6M1122.4 554.1h-2.6M668.5 551h2.6M1122.4 551h-2.6M668.5 547.8h2.6M1122.4 547.8h-2.6M668.5 544.6h2.6M1122.4 544.6h-2.6M668.5 541.5h2.6M1122.4 541.5h-2.6M668.5 538.3h2.6M1122.4 538.3h-2.6M668.5 535.2h2.6M1122.4 535.2h-2.6M668.5 532h2.6M1122.4 532h-2.6M668.5 528.9h2.6M1122.4 528.9h-2.6M668.5 525.7h2.6M1122.4 525.7h-2.6M668.5 522.6h2.6M1122.4 522.6h-2.6M668.5 519.4h2.6M1122.4 519.4h-2.6M668.5 516.2h2.6M1122.4 516.2h-2.6M668.5 513.1h2.6M1122.4 513.1h-2.6M668.5 509.9h2.6M1122.4 509.9h-2.6M668.5 506.8h2.6M1122.4 506.8h-2.6M668.5 503.6h2.6M1122.4 503.6h-2.6M668.5 500.5h2.6M1122.4 500.5h-2.6M668.5 497.3h2.6M1122.4 497.3h-2.6M668.5 494.2h2.6M1122.4 494.2h-2.6M668.5 491h2.6M1122.4 491h-2.6M668.5 487.9h2.6M1122.4 487.9h-2.6" stroke="#111" stroke-width="1.1" fill="none"/>
<text x="665.3" y="551.5" font-size="10.5" text-anchor="end" fill="#000" >0.02</text>
<text x="665.3" y="538.9" font-size="10.5" text-anchor="end" fill="#000" >0.04</text>
<text x="665.3" y="526.3" font-size="10.5" text-anchor="end" fill="#000" >0.06</text>
<text x="665.3" y="513.6" font-size="10.5" text-anchor="end" fill="#000" >0.08</text>
<text x="665.3" y="501" font-size="10.5" text-anchor="end" fill="#000" >0.10</text>
<text x="665.3" y="488.4" font-size="10.5" text-anchor="end" fill="#000" >0.12</text>
<text x="643" y="520.5" font-size="11.5" text-anchor="middle" fill="#000" transform="rotate(-90 643 520.5)" >|J| [µA m<tspan dy="-4.6" font-size="8.6">-2</tspan><tspan dy="4.6" font-size="1">&#8203;</tspan>]</text>
<line x1="709.5" y1="562.5" x2="709.5" y2="631.5" stroke="#ff0000" stroke-width="1.2" stroke-dasharray="8.8 4.8"/>
<line x1="724.7" y1="562.5" x2="724.7" y2="631.5" stroke="#3434ff" stroke-width="1.5" stroke-dasharray="1.8 2.7"/>
<line x1="897.7" y1="562.5" x2="897.7" y2="631.5" stroke="#ff0000" stroke-width="1.2" stroke-dasharray="8.8 4.8"/>
<line x1="939.2" y1="562.5" x2="939.2" y2="631.5" stroke="#ff20ff" stroke-width="1.55" stroke-dasharray="1.7 3.0"/>
<line x1="991.5" y1="562.5" x2="991.5" y2="631.5" stroke="#10b010" stroke-width="1.3" stroke-dasharray="8.8 4.8"/>
<polyline transform="translate(672.1 558.3) scale(0.30000 .1)" points="0,422 1,454 2,468 3,417 4,384 5,450 6,527 7,415 8,482 9,391 10,458 11,342 12,329 13,354 14,309 15,339 16,361 17,470 18,481 19,314 20,444 21,366 22,256 23,424 24,335 25,412 26,442 27,420 28,400 29,410 30,376 31,356 32,432 33,412 34,527 35,266 36,309 37,566 38,377 39,369 40,429 41,416 42,388 43,426 44,404 45,372 46,481 47,295 48,357 49,498 50,387 51,307 52,364 53,382 54,451 55,437 56,566 57,346 58,350 59,358 60,342 61,286 62,502 63,371 64,317 65,324 66,427 67,459 68,415 69,553 70,387 71,430 72,273 73,313 74,512 75,437 76,221 77,292 78,422 79,468 80,420 81,462 82,435 83,355 84,250 85,478 86,268 87,369 88,344 89,395 90,473 91,543 92,326 93,270 94,350 95,253 96,450 97,352 98,269 99,326 100,384 101,382 102,299 103,262 104,368 105,349 106,519 107,332 108,397 109,308 110,391 111,454 112,487 113,359 114,365 115,275 116,244 117,399 118,349 119,346 120,249 121,316 122,423 123,359 124,309 125,538 126,453 127,403 128,274 129,349 130,280 131,449 132,391 133,253 134,396 135,351 136,504 137,464 138,394 139,319 140,511 141,388 142,386 143,426 144,455 145,404 146,386 147,445 148,363 149,395 150,369 151,431 152,223 153,292 154,317 155,526 156,257 157,428 158,378 159,449 160,406 161,389 162,461 163,444 164,434 165,450 166,558 167,248 168,323 169,570 170,342 171,409 172,294 173,391 174,223 175,268 176,455 177,409 178,391 179,308 180,459 181,315 182,413 183,418 184,492 185,272 186,396 187,367 188,420 189,383 190,500 191,478 192,389 193,306 194,293 195,559 196,247 197,399 198,453 199,242 200,350 201,512 202,477 203,556 204,399 205,376 206,414 207,305 208,332 209,386 210,289 211,503 212,398 213,426 214,490 215,351 216,396 217,505 218,267 219,394 220,387 221,255 222,513 223,256 224,380 225,466 226,421 227,396 228,429 229,299 230,376 231,372 232,335 233,305 234,320 235,323 236,412 237,448 238,536 239,357 240,365 241,450 242,329 243,460 244,391 245,359 246,321 247,212 248,436 249,424 250,228 251,502 252,403 253,227 254,323 255,423 256,308 257,250 258,474 259,280 260,270 261,408 262,341 263,493 264,419 265,391 266,345 267,307 268,455 269,357 270,311 271,539 272,424 273,308 274,377 275,363 276,370 277,524 278,380 279,323 280,469 281,373 282,251 283,441 284,357 285,381 286,370 287,463 288,451 289,382 290,350 291,319 292,351 293,198 294,284 295,525 296,338 297,421 298,331 299,425 300,410 301,437 302,470 303,432 304,348 305,405 306,397 307,520 308,451 309,444 310,242 311,398 312,507 313,336 314,360 315,344 316,388 317,336 318,336 319,531 320,370 321,375 322,394 323,300 324,437 325,433 326,347 327,479 328,357 329,498 330,387 331,484 332,371 333,318 334,295 335,419 336,479 337,610 338,334 339,394 340,397 341,385 342,360 343,431 344,344 345,200 346,411 347,340 348,319 349,552 350,350 351,472 352,578 353,359 354,295 355,321 356,439 357,396 358,540 359,386 360,320 361,401 362,410 363,391 364,303 365,366 366,470 367,351 368,434 369,336 370,259 371,418 372,336 373,494 374,368 375,315 376,371 377,487 378,418 379,444 380,293 381,490 382,361 383,374 384,294 385,292 386,410 387,375 388,411 389,390 390,312 391,395 392,341 393,314 394,515 395,316 396,429 397,413 398,494 399,275 400,434 401,416 402,293 403,608 404,356 405,558 406,565 407,283 408,458 409,338 410,405 411,360 412,460 413,302 414,359 415,428 416,299 417,335 418,301 419,492 420,349 421,348 422,541 423,488 424,394 425,474 426,342 427,388 428,200 429,295 430,201 431,503 432,283 433,400 434,535 435,496 436,360 437,424 438,426 439,376 440,369 441,608 442,329 443,245 444,229 445,280 446,358 447,422 448,85 449,351 450,377 451,370 452,467 453,281 454,394 455,352 456,373 457,474 458,533 459,383 460,305 461,350 462,335 463,224 464,362 465,338 466,388 467,470 468,552 469,402 470,381 471,303 472,453 473,275 474,336 475,439 476,561 477,541 478,459 479,459 480,470 481,376 482,455 483,447 484,396 485,533 486,266 487,267 488,352 489,569 490,331 491,522 492,346 493,443 494,398 495,360 496,526 497,391 498,440 499,407 500,350 501,468 502,378 503,252 504,405 505,452 506,622 507,451 508,285 509,274 510,416 511,315 512,384 513,400 514,332 515,336 516,269 517,423 518,372 519,551 520,489 521,327 522,297 523,401 524,309 525,438 526,345 527,391 528,287 529,406 530,345 531,349 532,403 533,304 534,421 535,318 536,324 537,388 538,480 539,496 540,246 541,464 542,482 543,311 544,361 545,259 546,543 547,457 548,370 549,412 550,292 551,307 552,231 553,344 554,449 555,268 556,489 557,278 558,461 559,352 560,292 561,354 562,401 563,304 564,404 565,409 566,411 567,284 568,354 569,358 570,465 571,428 572,345 573,424 574,391 575,264 576,359 577,377 578,448 579,483 580,408 581,464 582,411 583,271 584,463 585,231 586,393 587,393 588,363 589,450 590,338 591,485 592,416 593,316 594,440 595,499 596,288 597,475 598,366 599,403 600,480 601,426 602,341 603,278 604,355 605,339 606,351 607,457 608,542 609,514 610,326 611,459 612,367 613,413 614,380 615,413 616,381 617,436 618,432 619,583 620,428 621,518 622,374 623,535 624,358 625,367 626,350 627,169 628,422 629,520 630,446 631,331 632,330 633,334 634,503 635,415 636,406 637,402 638,423 639,512 640,358 641,526 642,526 643,360 644,426 645,378 646,405 647,435 648,493 649,281 650,426 651,284 652,680 653,436 654,434 655,410 656,382 657,448 658,302 659,334 660,435 661,478 662,351 663,416 664,604 665,472 666,285 667,359 668,360 669,316 670,689 671,496 672,454 673,584 674,396 675,381 676,328 677,540 678,371 679,365 680,293 681,313 682,383 683,447 684,395 685,350 686,472 687,389 688,229 689,556 690,290 691,459 692,370 693,395 694,387 695,527 696,478 697,397 698,323 699,433 700,410 701,295 702,449 703,319 704,467 705,486 706,476 707,288 708,369 709,511 710,250 711,368 712,346 713,283 714,370 715,339 716,503 717,365 718,518 719,454 720,367 721,492 722,356 723,366 724,326 725,400 726,306 727,372 728,318 729,361 730,429 731,418 732,455 733,507 734,311 735,272 736,194 737,486 738,359 739,347 740,355 741,247 742,378 743,529 744,411 745,359 746,384 747,312 748,418 749,343 750,344 751,427 752,417 753,382 754,258 755,343 756,441 757,342 758,302 759,271 760,287 761,453 762,338 763,364 764,261 765,379 766,227 767,197 768,330 769,457 770,341 771,492 772,315 773,327 774,310 775,287 776,349 777,314 778,418 779,386 780,299 781,339 782,480 783,291 784,339 785,354 786,408 787,351 788,336 789,393 790,414 791,330 792,296 793,416 794,550 795,286 796,340 797,456 798,428 799,557 800,286 801,452 802,248 803,495 804,471 805,318 806,286 807,328 808,221 809,342 810,518 811,416 812,317 813,256 814,368 815,498 816,315 817,536 818,459 819,502 820,284 821,319 822,286 823,379 824,268 825,629 826,427 827,425 828,636 829,359 830,316 831,391 832,449 833,154 834,337 835,492 836,422 837,368 838,447 839,488 840,174 841,267 842,474 843,336 844,562 845,477 846,311 847,310 848,348 849,279 850,223 851,341 852,455 853,347 854,488 855,430 856,262 857,438 858,491 859,269 860,297 861,372 862,499 863,434 864,406 865,431 866,419 867,364 868,463 869,542 870,284 871,239 872,219 873,280 874,433 875,439 876,372 877,349 878,275 879,390 880,361 881,512 882,320 883,413 884,385 885,474 886,474 887,424 888,290 889,547 890,434 891,460 892,437 893,345 894,199 895,399 896,227 897,187 898,244 899,346 900,269 901,382 902,358 903,305 904,546 905,348 906,240 907,417 908,461 909,647 910,388 911,500 912,458 913,424 914,298 915,401 916,357 917,459 918,208 919,474 920,367 921,250 922,503 923,392 924,366 925,130 926,380 927,381 928,351 929,457 930,375 931,225 932,348 933,464 934,534 935,295 936,329 937,415 938,380 939,449 940,278 941,311 942,414 943,309 944,566 945,254 946,376 947,318 948,273 949,461 950,415 951,425 952,273 953,331 954,278 955,524 956,386 957,448 958,440 959,516 960,447 961,358 962,186 963,404 964,323 965,277 966,396 967,92 968,287 969,514 970,379 971,339 972,328 973,218 974,359 975,59 976,545 977,400 978,396 979,139 980,340 981,407 982,394 983,363 984,349 985,323 986,320 987,314 988,364 989,318 990,323 991,281 992,340 993,425 994,494 995,130 996,492 997,320 998,504 999,280 1000,308 1001,393 1002,262 1003,436 1004,460 1005,276 1006,325 1007,299 1008,540 1009,463 1010,431 1011,293 1012,497 1013,464 1014,133 1015,419 1016,286 1017,457 1018,444 1019,395 1020,509 1021,97 1022,251 1023,289 1024,305 1025,404 1026,445 1027,266 1028,113 1029,361 1030,672 1031,449 1032,409 1033,336 1034,382 1035,374 1036,189 1037,383 1038,201 1039,348 1040,430 1041,408 1042,238 1043,474 1044,250 1045,362 1046,400 1047,359 1048,365 1049,380 1050,198 1051,349 1052,287 1053,375 1054,306 1055,270 1056,313 1057,429 1058,276 1059,550 1060,325 1061,386 1062,363 1063,311 1064,423 1065,315 1066,455 1067,520 1068,226 1069,123 1070,456 1071,244 1072,265 1073,321 1074,418 1075,342 1076,230 1077,385 1078,716 1079,229 1080,210 1081,103 1082,460 1083,321 1084,331 1085,277 1086,527 1087,207 1088,419 1089,229 1090,408 1091,213 1092,225 1093,211 1094,495 1095,279 1096,325 1097,566 1098,405 1099,305 1100,215 1101,211 1102,211 1103,262 1104,241 1105,416 1106,237 1107,394 1108,318 1109,261 1110,341 1111,291 1112,419 1113,426 1114,270 1115,316 1116,369 1117,413 1118,263 1119,344 1120,278 1121,349 1122,287 1123,167 1124,356 1125,588 1126,338 1127,184 1128,322 1129,385 1130,335 1131,382 1132,337 1133,326 1134,354 1135,300 1136,501 1137,325 1138,116 1139,329 1140,310 1141,269 1142,412 1143,423 1144,425 1145,218 1146,336 1147,219 1148,260 1149,234 1150,473 1151,184 1152,367 1153,174 1154,201 1155,385 1156,168 1157,313 1158,238 1159,340 1160,246 1161,252 1162,458 1163,386 1164,382 1165,310 1166,320 1167,312 1168,369 1169,418 1170,303 1171,358 1172,292 1173,359 1174,350 1175,196 1176,251 1177,428 1178,190 1179,425 1180,365 1181,416 1182,252 1183,273 1184,176 1185,249 1186,393 1187,226 1188,414 1189,201 1190,311 1191,355 1192,192 1193,343 1194,314 1195,199 1196,389 1197,422 1198,360 1199,327 1200,354 1201,286 1202,385 1203,421 1204,482 1205,551 1206,504 1207,435 1208,376 1209,356 1210,436 1211,418 1212,260 1213,463 1214,190 1215,338 1216,356 1217,302 1218,379 1219,356 1220,342 1221,481 1222,298 1223,386 1224,420 1225,294 1226,517 1227,283 1228,260 1229,218 1230,324 1231,246 1232,372 1233,401 1234,302 1235,280 1236,389 1237,253 1238,268 1239,190 1240,142 1241,468 1242,297 1243,316 1244,390 1245,429 1246,271 1247,366 1248,571 1249,440 1250,225 1251,322 1252,203 1253,350 1254,471 1255,308 1256,448 1257,199 1258,221 1259,239 1260,391 1261,287 1262,382 1263,421 1264,493 1265,380 1266,369 1267,304 1268,435 1269,473 1270,277 1271,381 1272,299 1273,359 1274,256 1275,394 1276,456 1277,373 1278,331 1279,187 1280,339 1281,326 1282,378 1283,353 1284,458 1285,397 1286,466 1287,479 1288,317 1289,309 1290,378 1291,484 1292,290 1293,391 1294,319 1295,372 1296,334 1297,497 1298,448 1299,603 1300,387 1301,432 1302,474 1303,397 1304,364 1305,347 1306,354 1307,579 1308,275 1309,313 1310,407 1311,403 1312,268 1313,198 1314,469 1315,259 1316,492 1317,404 1318,416 1319,314 1320,308 1321,256 1322,291 1323,268 1324,512 1325,336 1326,347 1327,233 1328,248 1329,370 1330,329 1331,313 1332,281 1333,382 1334,198 1335,272 1336,434 1337,300 1338,344 1339,459 1340,272 1341,221 1342,368 1343,268 1344,388 1345,349 1346,260 1347,337 1348,395 1349,462 1350,368 1351,341 1352,370 1353,328 1354,344 1355,272 1356,386 1357,330 1358,390 1359,423 1360,391 1361,306 1362,348 1363,371 1364,290 1365,352 1366,412 1367,359 1368,371 1369,262 1370,287 1371,341 1372,356 1373,288 1374,306 1375,351 1376,328 1377,278 1378,239 1379,374 1380,377 1381,379 1382,456 1383,382 1384,312 1385,335 1386,386 1387,336 1388,322 1389,283 1390,372 1391,281 1392,440 1393,312 1394,325 1395,363 1396,338 1397,383 1398,274 1399,254 1400,388 1401,260 1402,388 1403,287 1404,497 1405,276 1406,340 1407,320 1408,328 1409,375 1410,461 1411,489 1412,330 1413,249 1414,273 1415,363 1416,341 1417,308 1418,320 1419,325 1420,296 1421,386 1422,369 1423,417 1424,522 1425,388 1426,383 1427,347 1428,413 1429,198 1430,334 1431,290 1432,319 1433,303 1434,339 1435,461 1436,384 1437,435 1438,403 1439,480 1440,491 1441,447 1442,421 1443,476 1444,363 1445,405 1446,340 1447,259 1448,401 1449,361 1450,470 1451,336 1452,283 1453,394 1454,518 1455,410 1456,367 1457,471 1458,334 1459,403 1460,344 1461,385 1462,294 1463,412 1464,434 1465,376 1466,424 1467,315 1468,341 1469,381 1470,312 1471,471 1472,441 1473,481 1474,499 1475,419 1476,330 1477,308 1478,345 1479,452 1480,448 1481,399 1482,300 1483,402 1484,287 1485,300 1486,308 1487,362 1488,507 1489,216 1490,423" fill="none" stroke="#1010ff" stroke-width="0.98" vector-effect="non-scaling-stroke" stroke-linejoin="round"/>
<polyline transform="translate(672.1 558.3) scale(0.30000 .1)" points="0,295 1,346 2,301 3,343 4,184 5,315 6,396 7,115 8,378 9,356 10,318 11,382 12,284 13,258 14,224 15,305 16,316 17,284 18,433 19,340 20,335 21,363 22,211 23,189 24,380 25,335 26,440 27,293 28,332 29,288 30,450 31,364 32,216 33,284 34,246 35,323 36,254 37,298 38,319 39,352 40,323 41,381 42,249 43,281 44,296 45,248 46,274 47,259 48,245 49,233 50,407 51,281 52,272 53,279 54,326 55,248 56,380 57,407 58,323 59,301 60,413 61,309 62,318 63,205 64,182 65,362 66,273 67,345 68,270 69,370 70,213 71,251 72,323 73,321 74,268 75,468 76,410 77,379 78,434 79,386 80,277 81,369 82,292 83,247 84,121 85,355 86,279 87,337 88,328 89,318 90,433 91,293 92,332 93,338 94,239 95,269 96,238 97,322 98,231 99,290 100,339 101,340 102,275 103,400 104,311 105,296 106,397 107,358 108,190 109,394 110,322 111,340 112,351 113,346 114,243 115,452 116,113 117,232 118,72 119,369 120,374 121,277 122,329 123,251 124,390 125,294 126,357 127,162 128,314 129,298 130,325 131,278 132,356 133,363 134,191 135,364 136,314 137,395 138,359 139,281 140,181 141,185 142,252 143,402 144,246 145,283 146,367 147,188 148,223 149,362 150,313 151,270 152,302 153,293 154,347 155,356 156,228 157,430 158,246 159,219 160,344 161,342 162,290 163,345 164,380 165,172 166,373 167,327 168,342 169,144 170,331 171,243 172,386 173,233 174,326 175,329 176,256 177,228 178,285 179,371 180,229 181,347 182,215 183,362 184,278 185,331 186,330 187,468 188,302 189,230 190,251 191,361 192,177 193,340 194,250 195,309 196,197 197,341 198,376 199,414 200,263 201,262 202,211 203,315 204,268 205,177 206,316 207,210 208,195 209,277 210,289 211,384 212,317 213,294 214,432 215,375 216,221 217,417 218,302 219,259 220,213 221,170 222,285 223,291 224,327 225,293 226,241 227,317 228,217 229,258 230,224 231,192 232,476 233,253 234,340 235,234 236,321 237,361 238,271 239,374 240,383 241,392 242,352 243,273 244,373 245,332 246,347 247,204 248,285 249,145 250,442 251,300 252,392 253,188 254,266 255,273 256,523 257,381 258,349 259,439 260,366 261,346 262,334 263,353 264,305 265,351 266,206 267,285 268,363 269,206 270,242 271,286 272,341 273,202 274,355 275,387 276,338 277,291 278,482 279,266 280,372 281,324 282,328 283,300 284,369 285,226 286,321 287,176 288,305 289,288 290,218 291,254 292,278 293,351 294,189 295,289 296,195 297,355 298,399 299,454 300,338 301,432 302,236 303,226 304,286 305,389 306,375 307,275 308,407 309,319 310,323 311,365 312,344 313,256 314,185 315,338 316,269 317,254 318,335 319,360 320,179 321,293 322,189 323,238 324,339 325,223 326,297 327,210 328,426 329,474 330,328 331,223 332,421 333,336 334,358 335,428 336,326 337,367 338,335 339,271 340,310 341,481 342,402 343,239 344,356 345,235 346,464 347,354 348,438 349,357 350,246 351,273 352,382 353,306 354,279 355,314 356,294 357,304 358,330 359,196 360,315 361,400 362,308 363,329 364,302 365,262 366,253 367,256 368,207 369,215 370,311 371,329 372,263 373,241 374,275 375,301 376,378 377,271 378,379 379,189 380,253 381,229 382,294 383,344 384,393 385,246 386,313 387,340 388,297 389,315 390,292 391,309 392,338 393,270 394,290 395,232 396,390 397,348 398,365 399,275 400,422 401,263 402,291 403,394 404,189 405,346 406,356 407,382 408,240 409,317 410,249 411,344 412,461 413,321 414,376 415,443 416,199 417,192 418,329 419,311 420,291 421,185 422,88 423,179 424,280 425,219 426,212 427,350 428,385 429,298 430,270 431,154 432,378 433,353 434,284 435,137 436,351 437,344 438,215 439,427 440,184 441,343 442,316 443,347 444,388 445,321 446,231 447,431 448,231 449,193 450,405 451,270 452,311 453,346 454,246 455,426 456,125 457,297 458,191 459,401 460,180 461,135 462,497 463,166 464,225 465,248 466,147 467,265 468,152 469,363 470,212 471,259 472,149 473,403 474,377 475,369 476,493 477,247 478,389 479,458 480,297 481,305 482,222 483,376 484,364 485,222 486,203 487,329 488,350 489,289 490,257 491,339 492,291 493,350 494,361 495,308 496,217 497,354 498,226 499,205 500,378 501,173 502,466 503,164 504,249 505,114 506,380 507,389 508,293 509,261 510,157 511,143 512,352 513,300 514,366 515,313 516,174 517,332 518,436 519,342 520,409 521,216 522,375 523,113 524,407 525,280 526,290 527,325 528,354 529,299 530,253 531,241 532,224 533,219 534,311 535,278 536,298 537,183 538,343 539,240 540,230 541,271 542,300 543,366 544,289 545,476 546,274 547,309 548,332 549,407 550,415 551,86 552,301 553,420 554,227 555,324 556,215 557,407 558,371 559,304 560,347 561,280 562,423 563,374 564,246 565,195 566,326 567,324 568,378 569,323 570,363 571,177 572,272 573,312 574,279 575,452 576,325 577,372 578,245 579,240 580,345 581,430 582,300 583,218 584,270 585,348 586,221 587,286 588,320 589,262 590,201 591,338 592,333 593,199 594,265 595,380 596,154 597,324 598,476 599,358 600,303 601,173 602,310 603,323 604,339 605,374 606,92 607,160 608,260 609,342 610,256 611,394 612,327 613,205 614,248 615,185 616,323 617,234 618,274 619,318 620,255 621,344 622,410 623,162 624,308 625,322 626,351 627,377 628,327 629,344 630,304 631,327 632,416 633,381 634,260 635,233 636,306 637,282 638,277 639,269 640,278 641,380 642,338 643,324 644,143 645,286 646,193 647,348 648,298 649,353 650,385 651,325 652,240 653,307 654,351 655,256 656,300 657,250 658,207 659,359 660,153 661,285 662,213 663,303 664,244 665,474 666,357 667,339 668,277 669,410 670,207 671,275 672,332 673,443 674,307 675,291 676,294 677,297 678,302 679,285 680,581 681,249 682,195 683,294 684,239 685,379 686,355 687,259 688,479 689,351 690,414 691,412 692,325 693,226 694,317 695,110 696,341 697,298 698,270 699,293 700,264 701,318 702,208 703,265 704,278 705,205 706,357 707,172 708,361 709,282 710,290 711,294 712,141 713,213 714,367 715,354 716,379 717,275 718,393 719,354 720,312 721,370 722,265 723,319 724,159 725,344 726,277 727,249 728,428 729,234 730,318 731,487 732,177 733,328 734,226 735,387 736,254 737,361 738,358 739,219 740,291 741,374 742,410 743,258 744,320 745,181 746,375 747,384 748,446 749,296 750,357 751,317 752,231 753,204 754,240 755,245 756,230 757,322 758,297 759,322 760,169 761,403 762,315 763,358 764,217 765,284 766,261 767,409 768,409 769,123 770,386 771,322 772,438 773,246 774,328 775,294 776,288 777,127 778,364 779,216 780,383 781,338 782,266 783,303 784,339 785,328 786,437 787,280 788,345 789,421 790,485 791,199 792,171 793,331 794,38 795,447 796,238 797,362 798,265 799,366 800,292 801,338 802,440 803,332 804,317 805,356 806,220 807,308 808,253 809,333 810,385 811,358 812,399 813,281 814,330 815,479 816,162 817,462 818,266 819,326 820,210 821,254 822,137 823,428 824,359 825,300 826,197 827,351 828,318 829,296 830,320 831,433 832,354 833,386 834,259 835,350 836,256 837,254 838,329 839,192 840,311 841,316 842,434 843,235 844,417 845,176 846,344 847,271 848,98 849,417 850,393 851,347 852,306 853,389 854,307 855,165 856,277 857,211 858,183 859,207 860,388 861,223 862,148 863,360 864,279 865,272 866,310 867,283 868,417 869,209 870,347 871,230 872,363 873,308 874,213 875,254 876,397 877,365 878,320 879,378 880,411 881,174 882,206 883,324 884,420 885,230 886,338 887,162 888,152 889,242 890,176 891,309 892,296 893,358 894,328 895,385 896,41 897,325 898,567 899,303 900,242 901,221 902,409 903,390 904,177 905,341 906,281 907,231 908,419 909,414 910,451 911,409 912,214 913,413 914,225 915,314 916,292 917,315 918,397 919,112 920,392 921,282 922,288 923,349 924,451 925,310 926,74 927,200 928,241 929,333 930,435 931,376 932,285 933,296 934,423 935,255 936,256 937,249 938,275 939,328 940,272 941,398 942,413 943,264 944,336 945,179 946,325 947,247 948,203 949,223 950,382 951,411 952,398 953,337 954,364 955,396 956,318 957,349 958,425 959,231 960,219 961,341 962,200 963,250 964,306 965,416 966,466 967,171 968,326 969,267 970,310 971,400 972,262 973,482 974,156 975,268 976,111 977,168 978,278 979,371 980,269 981,380 982,356 983,162 984,314 985,409 986,211 987,415 988,195 989,485 990,232 991,288 992,337 993,323 994,232 995,289 996,304 997,378 998,498 999,435 1000,240 1001,190 1002,383 1003,222 1004,226 1005,366 1006,411 1007,338 1008,279 1009,436 1010,466 1011,387 1012,318 1013,272 1014,391 1015,374 1016,408 1017,413 1018,382 1019,463 1020,283 1021,118 1022,329 1023,519 1024,182 1025,419 1026,384 1027,226 1028,336 1029,357 1030,424 1031,282 1032,348 1033,196 1034,398 1035,392 1036,254 1037,401 1038,174 1039,241 1040,340 1041,175 1042,426 1043,86 1044,69 1045,243 1046,447 1047,328 1048,392 1049,371 1050,397 1051,322 1052,247 1053,413 1054,324 1055,144 1056,419 1057,318 1058,236 1059,379 1060,336 1061,169 1062,267 1063,276 1064,302 1065,333 1066,455 1067,216 1068,381 1069,187 1070,95 1071,403 1072,339 1073,395 1074,370 1075,344 1076,326 1077,228 1078,260 1079,211 1080,139 1081,251 1082,469 1083,275 1084,349 1085,322 1086,367 1087,280 1088,380 1089,231 1090,425 1091,286 1092,131 1093,378 1094,384 1095,137 1096,256 1097,283 1098,296 1099,294 1100,173 1101,404 1102,393 1103,231 1104,12 1105,284 1106,204 1107,166 1108,235 1109,237 1110,336 1111,356 1112,376 1113,355 1114,126 1115,209 1116,319 1117,308 1118,234 1119,324 1120,104 1121,309 1122,386 1123,280 1124,314 1125,407 1126,319 1127,301 1128,257 1129,343 1130,395 1131,301 1132,264 1133,320 1134,371 1135,252 1136,330 1137,267 1138,263 1139,209 1140,289 1141,270 1142,278 1143,274 1144,439 1145,221 1146,310 1147,206 1148,295 1149,243 1150,342 1151,322 1152,377 1153,327 1154,376 1155,459 1156,341 1157,252 1158,357 1159,296 1160,236 1161,391 1162,274 1163,140 1164,242 1165,310 1166,269 1167,235 1168,246 1169,321 1170,421 1171,273 1172,91 1173,201 1174,415 1175,357 1176,229 1177,297 1178,324 1179,89 1180,278 1181,300 1182,278 1183,442 1184,263 1185,404 1186,320 1187,297 1188,348 1189,368 1190,299 1191,201 1192,297 1193,347 1194,267 1195,394 1196,239 1197,242 1198,110 1199,365 1200,286 1201,254 1202,288 1203,192 1204,318 1205,309 1206,330 1207,300 1208,456 1209,232 1210,257 1211,256 1212,152 1213,287 1214,281 1215,377 1216,118 1217,261 1218,207 1219,228 1220,210 1221,249 1222,443 1223,96 1224,244 1225,337 1226,248 1227,249 1228,199 1229,291 1230,104 1231,144 1232,220 1233,307 1234,210 1235,314 1236,196 1237,323 1238,272 1239,311 1240,246 1241,205 1242,274 1243,305 1244,287 1245,278 1246,347 1247,341 1248,289 1249,196 1250,231 1251,127 1252,256 1253,322 1254,241 1255,193 1256,264 1257,302 1258,153 1259,168 1260,308 1261,376 1262,348 1263,425 1264,165 1265,243 1266,209 1267,268 1268,422 1269,211 1270,56 1271,131 1272,201 1273,231 1274,361 1275,215 1276,327 1277,324 1278,146 1279,314 1280,227 1281,383 1282,98 1283,430 1284,254 1285,243 1286,193 1287,307 1288,195 1289,266 1290,341 1291,88 1292,181 1293,199 1294,174 1295,271 1296,115 1297,422 1298,269 1299,469 1300,253 1301,224 1302,195 1303,244 1304,339 1305,255 1306,290 1307,415 1308,156 1309,277 1310,423 1311,426 1312,176 1313,249 1314,288 1315,165 1316,153 1317,473 1318,179 1319,327 1320,316 1321,228 1322,213 1323,380 1324,466 1325,184 1326,193 1327,329 1328,391 1329,243 1330,352 1331,267 1332,147 1333,373 1334,213 1335,237 1336,101 1337,394 1338,353 1339,334 1340,307 1341,346 1342,179 1343,250 1344,240 1345,288 1346,229 1347,222 1348,245 1349,278 1350,259 1351,378 1352,325 1353,389 1354,196 1355,250 1356,280 1357,344 1358,355 1359,336 1360,314 1361,277 1362,316 1363,395 1364,229 1365,169 1366,212 1367,373 1368,239 1369,284 1370,51 1371,310 1372,432 1373,377 1374,293 1375,331 1376,282 1377,333 1378,329 1379,276 1380,309 1381,217 1382,316 1383,327 1384,347 1385,196 1386,253 1387,381 1388,115 1389,299 1390,193 1391,313 1392,152 1393,282 1394,235 1395,340 1396,519 1397,396 1398,344 1399,311 1400,266 1401,212 1402,300 1403,216 1404,352 1405,231 1406,374 1407,365 1408,276 1409,213 1410,207 1411,303 1412,139 1413,176 1414,294 1415,321 1416,337 1417,303 1418,323 1419,245 1420,246 1421,245 1422,310 1423,290 1424,247 1425,351 1426,238 1427,340 1428,391 1429,259 1430,443 1431,309 1432,246 1433,336 1434,344 1435,374 1436,148 1437,330 1438,328 1439,503 1440,298 1441,294 1442,244 1443,302 1444,171 1445,151 1446,330 1447,274 1448,352 1449,368 1450,386 1451,338 1452,191 1453,281 1454,292 1455,210 1456,197 1457,184 1458,381 1459,284 1460,164 1461,417 1462,244 1463,306 1464,355 1465,387 1466,391 1467,284 1468,333 1469,347 1470,310 1471,278 1472,352 1473,316 1474,221 1475,419 1476,397 1477,282 1478,316 1479,231 1480,447 1481,303 1482,256 1483,220 1484,320 1485,290 1486,271 1487,300 1488,424 1489,361 1490,349" fill="none" stroke="#20f020" stroke-width="0.98" vector-effect="non-scaling-stroke" stroke-linejoin="round"/>
<polyline transform="translate(672.1 558.3) scale(0.30000 .1)" points="0,411 1,290 2,306 3,263 4,360 5,315 6,267 7,333 8,394 9,278 10,383 11,224 12,254 13,399 14,302 15,295 16,361 17,268 18,363 19,209 20,278 21,386 22,290 23,199 24,244 25,341 26,290 27,324 28,338 29,236 30,337 31,414 32,316 33,256 34,281 35,393 36,263 37,285 38,408 39,270 40,249 41,372 42,213 43,367 44,238 45,304 46,383 47,199 48,245 49,275 50,293 51,269 52,337 53,412 54,221 55,377 56,288 57,305 58,359 59,380 60,186 61,376 62,302 63,163 64,225 65,349 66,426 67,357 68,173 69,304 70,294 71,424 72,307 73,286 74,321 75,279 76,317 77,304 78,243 79,204 80,271 81,244 82,190 83,302 84,305 85,388 86,263 87,334 88,251 89,131 90,249 91,317 92,349 93,394 94,342 95,384 96,113 97,257 98,250 99,280 100,304 101,368 102,283 103,177 104,220 105,468 106,366 107,274 108,244 109,225 110,280 111,313 112,160 113,269 114,315 115,363 116,503 117,268 118,290 119,233 120,350 121,428 122,255 123,353 124,205 125,419 126,299 127,321 128,192 129,268 130,254 131,271 132,374 133,377 134,223 135,325 136,369 137,255 138,353 139,229 140,370 141,271 142,228 143,305 144,241 145,319 146,222 147,213 148,406 149,249 150,360 151,337 152,341 153,310 154,303 155,373 156,458 157,340 158,354 159,374 160,278 161,363 162,332 163,255 164,254 165,247 166,308 167,256 168,245 169,275 170,228 171,288 172,325 173,303 174,367 175,274 176,250 177,216 178,345 179,272 180,280 181,330 182,180 183,308 184,333 185,264 186,325 187,466 188,309 189,383 190,302 191,309 192,317 193,369 194,259 195,279 196,290 197,399 198,404 199,194 200,339 201,494 202,219 203,259 204,247 205,313 206,133 207,271 208,308 209,335 210,345 211,404 212,381 213,284 214,432 215,302 216,332 217,266 218,298 219,429 220,313 221,270 222,337 223,346 224,352 225,332 226,293 227,320 228,285 229,239 230,434 231,389 232,351 233,463 234,265 235,288 236,300 237,364 238,274 239,311 240,165 241,195 242,325 243,423 244,313 245,372 246,329 247,351 248,248 249,291 250,387 251,399 252,340 253,371 254,307 255,335 256,378 257,324 258,417 259,402 260,328 261,394 262,406 263,416 264,423 265,329 266,363 267,345 268,454 269,218 270,264 271,273 272,261 273,331 274,380 275,338 276,362 277,349 278,274 279,433 280,344 281,322 282,295 283,328 284,325 285,338 286,282 287,416 288,367 289,321 290,245 291,291 292,413 293,351 294,377 295,315 296,422 297,428 298,320 299,318 300,387 301,369 302,361 303,314 304,367 305,424 306,457 307,262 308,337 309,412 310,241 311,308 312,412 313,288 314,359 315,237 316,206 317,402 318,355 319,319 320,382 321,399 322,371 323,354 324,380 325,339 326,446 327,333 328,236 329,238 330,284 331,325 332,352 333,467 334,253 335,282 336,404 337,394 338,476 339,252 340,427 341,355 342,341 343,334 344,361 345,341 346,405 347,350 348,228 349,374 350,302 351,239 352,258 353,358 354,434 355,277 356,392 357,284 358,296 359,252 360,447 361,374 362,267 363,428 364,319 365,355 366,377 367,378 368,478 369,272 370,440 371,390 372,281 373,294 374,389 375,170 376,276 377,288 378,387 379,351 380,416 381,374 382,306 383,365 384,438 385,279 386,377 387,447 388,409 389,437 390,390 391,544 392,348 393,284 394,354 395,337 396,384 397,441 398,460 399,407 400,337 401,224 402,363 403,377 404,437 405,270 406,291 407,377 408,348 409,347 410,401 411,375 412,393 413,344 414,362 415,318 416,267 417,355 418,333 419,225 420,244 421,315 422,344 423,228 424,464 425,434 426,425 427,350 428,296 429,317 430,361 431,379 432,260 433,356 434,350 435,361 436,343 437,432 438,346 439,321 440,264 441,399 442,351 443,253 444,384 445,316 446,297 447,344 448,277 449,430 450,272 451,244 452,313 453,279 454,452 455,334 456,311 457,381 458,299 459,297 460,230 461,321 462,254 463,391 464,258 465,331 466,352 467,256 468,319 469,292 470,309 471,243 472,334 473,271 474,368 475,344 476,357 477,318 478,253 479,258 480,269 481,160 482,266 483,285 484,253 485,338 486,319 487,223 488,258 489,306 490,303 491,353 492,370 493,306 494,369 495,331 496,298 497,146 498,271 499,317 500,326 501,412 502,296 503,312 504,409 505,209 506,448 507,267 508,254 509,323 510,315 511,342 512,328 513,244 514,397 515,396 516,316 517,331 518,329 519,144 520,446 521,229 522,338 523,325 524,259 525,341 526,139 527,310 528,260 529,314 530,292 531,255 532,415 533,362 534,303 535,360 536,362 537,527 538,330 539,387 540,277 541,293 542,264 543,287 544,269 545,289 546,265 547,419 548,392 549,329 550,399 551,302 552,381 553,334 554,204 555,307 556,320 557,412 558,312 559,296 560,353 561,317 562,255 563,440 564,310 565,321 566,247 567,125 568,229 569,330 570,181 571,286 572,333 573,291 574,317 575,295 576,334 577,360 578,294 579,286 580,302 581,284 582,226 583,310 584,122 585,269 586,507 587,452 588,290 589,366 590,314 591,319 592,305 593,322 594,318 595,236 596,295 597,363 598,245 599,278 600,426 601,283 602,266 603,273 604,339 605,333 606,278 607,301 608,398 609,311 610,272 611,190 612,435 613,356 614,399 615,226 616,304 617,378 618,291 619,342 620,319 621,338 622,347 623,152 624,413 625,207 626,195 627,397 628,366 629,304 630,322 631,381 632,328 633,404 634,300 635,304 636,168 637,305 638,300 639,349 640,351 641,377 642,309 643,229 644,253 645,323 646,337 647,270 648,270 649,286 650,394 651,311 652,385 653,249 654,317 655,383 656,314 657,348 658,419 659,285 660,290 661,286 662,298 663,394 664,285 665,385 666,272 667,343 668,359 669,238 670,352 671,268 672,312 673,278 674,287 675,347 676,267 677,293 678,355 679,393 680,334 681,261 682,277 683,456 684,248 685,207 686,375 687,343 688,424 689,344 690,386 691,347 692,293 693,215 694,303 695,261 696,425 697,415 698,218 699,274 700,323 701,472 702,284 703,255 704,353 705,423 706,409 707,274 708,331 709,312 710,283 711,295 712,311 713,312 714,327 715,355 716,345 717,237 718,343 719,368 720,258 721,313 722,310 723,437 724,183 725,356 726,384 727,285 728,308 729,250 730,267 731,358 732,287 733,275 734,330 735,379 736,307 737,307 738,158 739,269 740,301 741,303 742,431 743,372 744,296 745,341 746,223 747,440 748,294 749,338 750,196 751,429 752,430 753,295 754,365 755,279 756,331 757,283 758,293 759,159 760,293 761,188 762,261 763,222 764,296 765,227 766,344 767,389 768,345 769,304 770,441 771,316 772,316 773,315 774,380 775,309 776,382 777,339 778,295 779,301 780,309 781,273 782,301 783,241 784,215 785,406 786,309 787,355 788,215 789,396 790,298 791,398 792,319 793,240 794,316 795,316 796,205 797,249 798,142 799,298 800,259 801,342 802,318 803,158 804,126 805,335 806,221 807,315 808,291 809,277 810,459 811,355 812,220 813,310 814,315 815,301 816,378 817,275 818,235 819,421 820,252 821,422 822,272 823,337 824,292 825,278 826,179 827,350 828,259 829,298 830,464 831,326 832,197 833,304 834,236 835,304 836,324 837,219 838,186 839,210 840,282 841,326 842,182 843,449 844,270 845,275 846,337 847,217 848,354 849,226 850,306 851,303 852,312 853,355 854,259 855,413 856,219 857,413 858,303 859,315 860,182 861,354 862,218 863,355 864,409 865,263 866,226 867,187 868,338 869,182 870,258 871,360 872,261 873,405 874,255 875,375 876,397 877,291 878,375 879,388 880,349 881,340 882,312 883,320 884,196 885,240 886,348 887,333 888,384 889,305 890,420 891,351 892,355 893,390 894,169 895,430 896,341 897,245 898,303 899,370 900,288 901,311 902,374 903,466 904,307 905,272 906,451 907,137 908,282 909,251 910,239 911,280 912,268 913,285 914,336 915,223 916,312 917,294 918,228 919,118 920,362 921,317 922,416 923,327 924,141 925,248 926,413 927,403 928,209 929,171 930,274 931,337 932,317 933,179 934,266 935,310 936,262 937,429 938,251 939,181 940,269 941,316 942,245 943,299 944,296 945,440 946,279 947,501 948,249 949,185 950,202 951,375 952,300 953,347 954,346 955,255 956,392 957,196 958,238 959,290 960,346 961,381 962,342 963,222 964,225 965,383 966,272 967,349 968,314 969,322 970,251 971,195 972,228 973,128 974,175 975,371 976,349 977,235 978,336 979,370 980,284 981,436 982,282 983,229 984,388 985,408 986,405 987,232 988,373 989,230 990,271 991,431 992,273 993,237 994,397 995,310 996,171 997,376 998,206 999,283 1000,287 1001,433 1002,330 1003,328 1004,302 1005,248 1006,340 1007,372 1008,391 1009,372 1010,244 1011,231 1012,460 1013,329 1014,286 1015,302 1016,438 1017,297 1018,297 1019,402 1020,247 1021,319 1022,358 1023,387 1024,257 1025,313 1026,357 1027,257 1028,255 1029,257 1030,195 1031,345 1032,330 1033,294 1034,528 1035,395 1036,417 1037,235 1038,295 1039,366 1040,218 1041,333 1042,324 1043,184 1044,369 1045,343 1046,359 1047,388 1048,277 1049,260 1050,392 1051,323 1052,342 1053,358 1054,328 1055,250 1056,421 1057,308 1058,256 1059,305 1060,306 1061,312 1062,354 1063,359 1064,328 1065,344 1066,353 1067,168 1068,245 1069,347 1070,283 1071,402 1072,223 1073,210 1074,374 1075,358 1076,236 1077,340 1078,279 1079,391 1080,326 1081,303 1082,211 1083,414 1084,478 1085,386 1086,369 1087,279 1088,409 1089,357 1090,291 1091,299 1092,231 1093,314 1094,287 1095,322 1096,248 1097,278 1098,295 1099,320 1100,273 1101,410 1102,214 1103,239 1104,374 1105,366 1106,313 1107,257 1108,256 1109,238 1110,172 1111,220 1112,408 1113,336 1114,353 1115,448 1116,342 1117,294 1118,360 1119,304 1120,323 1121,334 1122,260 1123,258 1124,430 1125,393 1126,204 1127,343 1128,279 1129,300 1130,169 1131,282 1132,387 1133,328 1134,335 1135,436 1136,341 1137,283 1138,439 1139,286 1140,387 1141,429 1142,101 1143,333 1144,308 1145,269 1146,252 1147,350 1148,198 1149,245 1150,269 1151,331 1152,334 1153,281 1154,286 1155,327 1156,224 1157,424 1158,264 1159,213 1160,328 1161,391 1162,264 1163,331 1164,335 1165,225 1166,345 1167,224 1168,272 1169,348 1170,340 1171,231 1172,271 1173,362 1174,287 1175,253 1176,254 1177,227 1178,242 1179,259 1180,272 1181,218 1182,368 1183,333 1184,241 1185,479 1186,414 1187,330 1188,221 1189,278 1190,222 1191,431 1192,257 1193,286 1194,308 1195,437 1196,236 1197,390 1198,347 1199,280 1200,181 1201,274 1202,224 1203,283 1204,263 1205,191 1206,228 1207,227 1208,342 1209,207 1210,301 1211,231 1212,261 1213,182 1214,355 1215,375 1216,283 1217,259 1218,257 1219,345 1220,326 1221,291 1222,338 1223,318 1224,384 1225,302 1226,359 1227,344 1228,324 1229,348 1230,194 1231,124 1232,209 1233,348 1234,372 1235,397 1236,288 1237,166 1238,258 1239,273 1240,304 1241,184 1242,314 1243,189 1244,117 1245,314 1246,215 1247,203 1248,236 1249,334 1250,230 1251,170 1252,222 1253,201 1254,303 1255,159 1256,357 1257,401 1258,276 1259,404 1260,239 1261,288 1262,379 1263,304 1264,210 1265,264 1266,297 1267,460 1268,323 1269,177 1270,361 1271,301 1272,316 1273,244 1274,267 1275,330 1276,423 1277,305 1278,231 1279,245 1280,312 1281,299 1282,335 1283,352 1284,266 1285,244 1286,305 1287,226 1288,348 1289,306 1290,409 1291,239 1292,168 1293,361 1294,319 1295,292 1296,315 1297,267 1298,231 1299,408 1300,294 1301,366 1302,224 1303,268 1304,236 1305,254 1306,322 1307,311 1308,297 1309,311 1310,278 1311,295 1312,245 1313,380 1314,265 1315,345 1316,204 1317,193 1318,304 1319,486 1320,260 1321,325 1322,304 1323,345 1324,245 1325,446 1326,297 1327,221 1328,239 1329,291 1330,378 1331,322 1332,295 1333,275 1334,426 1335,277 1336,208 1337,346 1338,307 1339,214 1340,392 1341,357 1342,185 1343,317 1344,248 1345,297 1346,369 1347,353 1348,267 1349,200 1350,380 1351,356 1352,381 1353,290 1354,300 1355,269 1356,342 1357,253 1358,510 1359,331 1360,349 1361,383 1362,340 1363,269 1364,259 1365,329 1366,377 1367,238 1368,385 1369,426 1370,301 1371,215 1372,360 1373,287 1374,372 1375,388 1376,313 1377,256 1378,298 1379,387 1380,298 1381,294 1382,317 1383,276 1384,315 1385,351 1386,246 1387,356 1388,311 1389,358 1390,269 1391,283 1392,388 1393,367 1394,345 1395,328 1396,243 1397,413 1398,325 1399,447 1400,294 1401,265 1402,310 1403,269 1404,342 1405,350 1406,366 1407,299 1408,268 1409,339 1410,354 1411,357 1412,336 1413,380 1414,284 1415,466 1416,302 1417,351 1418,410 1419,362 1420,336 1421,314 1422,303 1423,408 1424,350 1425,249 1426,362 1427,289 1428,319 1429,381 1430,346 1431,367 1432,342 1433,334 1434,264 1435,333 1436,337 1437,320 1438,381 1439,389 1440,383 1441,394 1442,313 1443,308 1444,285 1445,320 1446,341 1447,314 1448,276 1449,409 1450,263 1451,334 1452,378 1453,347 1454,339 1455,393 1456,274 1457,368 1458,328 1459,317 1460,404 1461,408 1462,450 1463,354 1464,323 1465,384 1466,370 1467,285 1468,473 1469,360 1470,267 1471,327 1472,342 1473,378 1474,346 1475,399 1476,360 1477,387 1478,258 1479,440 1480,387 1481,440 1482,312 1483,292 1484,300 1485,537 1486,373 1487,288 1488,456 1489,342 1490,352" fill="none" stroke="#f01010" stroke-width="0.98" vector-effect="non-scaling-stroke" stroke-linejoin="round"/>
<line x1="668.5" y1="590.5" x2="1122.4" y2="590.5" stroke="#111" stroke-width="1.2" stroke-dasharray="5.5 3"/>
<line x1="674.8" y1="563.4" x2="692" y2="563.4" stroke="#ff00ff" stroke-width="1.4" stroke-dasharray="1.5 1.5"/>
<text x="693.6" y="566.4" font-size="8.6" text-anchor="start" fill="#ff20ff" >t maxJ</text>
<line x1="674.8" y1="570.2" x2="692" y2="570.2" stroke="#3030ff" stroke-width="1.1" />
<text x="693.6" y="573" font-size="8.6" text-anchor="start" fill="#3030ff" >J<tspan dy="2.5" font-size="6">L</tspan><tspan dy="-2.5" font-size="1">&#8203;</tspan></text>
<line x1="674.8" y1="578" x2="692" y2="578" stroke="#30ff30" stroke-width="1.1" />
<text x="693.6" y="580.8" font-size="8.6" text-anchor="start" fill="#30ff30" >J<tspan dy="2.5" font-size="6">M</tspan><tspan dy="-2.5" font-size="1">&#8203;</tspan></text>
<line x1="674.8" y1="586" x2="692" y2="586" stroke="#ff2020" stroke-width="1.1" />
<text x="693.6" y="588.8" font-size="8.6" text-anchor="start" fill="#ff2020" >J<tspan dy="2.5" font-size="6">N</tspan><tspan dy="-2.5" font-size="1">&#8203;</tspan></text>
<path d="M685.8 558.3v3.5M685.8 632.5v-3.5M704.1 558.3v3.5M704.1 632.5v-3.5M722.4 558.3v10.4M722.4 632.5v-10.4M740.7 558.3v3.5M740.7 632.5v-3.5M759 558.3v3.5M759 632.5v-3.5M777.2 558.3v3.5M777.2 632.5v-3.5M795.5 558.3v3.5M795.5 632.5v-3.5M813.8 558.3v10.4M813.8 632.5v-10.4M832.1 558.3v3.5M832.1 632.5v-3.5M850.4 558.3v3.5M850.4 632.5v-3.5M868.6 558.3v3.5M868.6 632.5v-3.5M886.9 558.3v3.5M886.9 632.5v-3.5M905.2 558.3v10.4M905.2 632.5v-10.4M923.5 558.3v3.5M923.5 632.5v-3.5M941.8 558.3v3.5M941.8 632.5v-3.5M960 558.3v3.5M960 632.5v-3.5M978.3 558.3v3.5M978.3 632.5v-3.5M996.6 558.3v10.4M996.6 632.5v-10.4M1014.9 558.3v3.5M1014.9 632.5v-3.5M1033.2 558.3v3.5M1033.2 632.5v-3.5M1051.4 558.3v3.5M1051.4 632.5v-3.5M1069.7 558.3v3.5M1069.7 632.5v-3.5M1088 558.3v10.4M1088 632.5v-10.4M1106.3 558.3v3.5M1106.3 632.5v-3.5" stroke="#2a2a2a" stroke-width="1.1" fill="none"/>
<rect x="668.5" y="558.3" width="453.9" height="74.2" fill="none" stroke="#1c1c1c" stroke-width="1.15"/>
<line x1="668" y1="558.3" x2="1122.9" y2="558.3" stroke="#000" stroke-width="1.35" />
<line x1="668" y1="632.5" x2="1122.9" y2="632.5" stroke="#000" stroke-width="1.35" />
<path d="M668.5 627h5.8M1122.4 627h-5.8M668.5 608.7h5.8M1122.4 608.7h-5.8M668.5 590.5h5.8M1122.4 590.5h-5.8M668.5 572.2h5.8M1122.4 572.2h-5.8M668.5 630.7h2.6M1122.4 630.7h-2.6M668.5 627h2.6M1122.4 627h-2.6M668.5 623.3h2.6M1122.4 623.3h-2.6M668.5 619.7h2.6M1122.4 619.7h-2.6M668.5 616h2.6M1122.4 616h-2.6M668.5 612.4h2.6M1122.4 612.4h-2.6M668.5 608.7h2.6M1122.4 608.7h-2.6M668.5 605.1h2.6M1122.4 605.1h-2.6M668.5 601.4h2.6M1122.4 601.4h-2.6M668.5 597.8h2.6M1122.4 597.8h-2.6M668.5 594.1h2.6M1122.4 594.1h-2.6M668.5 590.5h2.6M1122.4 590.5h-2.6M668.5 586.8h2.6M1122.4 586.8h-2.6M668.5 583.2h2.6M1122.4 583.2h-2.6M668.5 579.5h2.6M1122.4 579.5h-2.6M668.5 575.9h2.6M1122.4 575.9h-2.6M668.5 572.2h2.6M1122.4 572.2h-2.6M668.5 568.5h2.6M1122.4 568.5h-2.6M668.5 564.9h2.6M1122.4 564.9h-2.6M668.5 561.2h2.6M1122.4 561.2h-2.6" stroke="#111" stroke-width="1.1" fill="none"/>
<text x="1124.6" y="630.7" font-size="10.4" text-anchor="start" fill="#000" >-0.10</text>
<text x="1124.6" y="612.4" font-size="10.4" text-anchor="start" fill="#000" >-0.05</text>
<text x="1124.6" y="594.2" font-size="10.4" text-anchor="start" fill="#000" >0.00</text>
<text x="1124.6" y="575.9" font-size="10.4" text-anchor="start" fill="#000" >0.05</text>
<text x="1159.5" y="593.7" font-size="11.5" text-anchor="middle" fill="#000" transform="rotate(-90 1159.5 593.7)" >J [µA m<tspan dy="-4.6" font-size="8.6">-2</tspan><tspan dy="4.6" font-size="1">&#8203;</tspan>]</text>
<line x1="709.5" y1="636.5" x2="709.5" y2="705.5" stroke="#ff0000" stroke-width="1.2" stroke-dasharray="8.8 4.8"/>
<line x1="724.7" y1="636.5" x2="724.7" y2="705.5" stroke="#3434ff" stroke-width="1.5" stroke-dasharray="1.8 2.7"/>
<line x1="897.7" y1="636.5" x2="897.7" y2="705.5" stroke="#ff0000" stroke-width="1.2" stroke-dasharray="8.8 4.8"/>
<line x1="939.2" y1="636.5" x2="939.2" y2="705.5" stroke="#ff20ff" stroke-width="1.55" stroke-dasharray="1.7 3.0"/>
<line x1="991.5" y1="636.5" x2="991.5" y2="705.5" stroke="#10b010" stroke-width="1.3" stroke-dasharray="8.8 4.8"/>
<polyline transform="translate(672.1 632.5) scale(0.30000 .1)" points="0,274 1,306 2,301 3,220 4,278 5,289 6,380 7,224 8,261 9,284 10,147 11,280 12,249 13,6 14,290 15,410 16,141 17,459 18,563 19,333 20,361 21,370 22,327 23,281 24,311 25,374 26,290 27,312 28,439 29,348 30,485 31,454 32,399 33,341 34,295 35,86 36,250 37,373 38,242 39,364 40,291 41,417 42,112 43,282 44,347 45,240 46,378 47,411 48,276 49,340 50,359 51,345 52,308 53,314 54,269 55,298 56,310 57,253 58,360 59,414 60,252 61,314 62,344 63,169 64,460 65,321 66,627 67,357 68,344 69,651 70,160 71,502 72,324 73,583 74,498 75,349 76,397 77,374 78,282 79,339 80,331 81,326 82,474 83,392 84,201 85,361 86,305 87,251 88,327 89,699 90,399 91,322 92,123 93,364 94,287 95,314 96,435 97,364 98,265 99,223 100,307 101,370 102,412 103,416 104,330 105,342 106,300 107,316 108,250 109,274 110,187 111,331 112,597 113,389 114,318 115,367 116,286 117,220 118,252 119,271 120,283 121,256 122,317 123,272 124,311 125,208 126,220 127,276 128,269 129,333 130,505 131,199 132,253 133,672 134,79 135,352 136,464 137,331 138,381 139,546 140,474 141,351 142,422 143,263 144,336 145,392 146,215 147,292 148,309 149,359 150,341 151,345 152,468 153,254 154,298 155,366 156,486 157,417 158,484 159,335 160,442 161,228 162,313 163,258 164,478 165,389 166,593 167,263 168,450 169,431 170,480 171,363 172,342 173,229 174,399 175,484 176,335 177,568 178,389 179,172 180,430 181,355 182,429 183,453 184,434 185,376 186,401 187,434 188,367 189,341 190,378 191,263 192,361 193,311 194,354 195,556 196,430 197,306 198,349 199,333 200,223 201,319 202,382 203,303 204,354 205,368 206,331 207,339 208,382 209,386 210,302 211,384 212,258 213,376 214,442 215,443 216,418 217,407 218,565 219,560 220,362 221,432 222,233 223,424 224,474 225,402 226,492 227,383 228,373 229,349 230,410 231,411 232,395 233,354 234,373 235,348 236,332 237,320 238,320 239,434 240,417 241,307 242,366 243,294 244,450 245,100 246,539 247,275 248,293 249,431 250,372 251,544 252,334 253,77 254,452 255,489 256,401 257,365 258,366 259,382 260,323 261,341 262,368 263,198 264,297 265,270 266,513 267,308 268,420 269,366 270,201 271,239 272,579 273,297 274,353 275,324 276,223 277,264 278,243 279,144 280,203 281,471 282,384 283,368 284,415 285,292 286,368 287,397 288,475 289,435 290,355 291,460 292,266 293,372 294,442 295,477 296,450 297,250 298,271 299,307 300,336 301,382 302,345 303,403 304,211 305,497 306,405 307,285 308,288 309,393 310,259 311,329 312,343 313,177 314,431 315,423 316,381 317,375 318,447 319,229 320,307 321,396 322,352 323,327 324,338 325,366 326,320 327,388 328,317 329,410 330,327 331,321 332,341 333,295 334,338 335,347 336,344 337,269 338,367 339,387 340,413 341,420 342,397 343,373 344,365 345,325 346,364 347,269 348,337 349,453 350,357 351,339 352,332 353,345 354,372 355,380 356,304 357,343 358,369 359,343 360,379 361,284 362,317 363,227 364,354 365,414 366,310 367,152 368,303 369,294 370,309 371,432 372,337 373,262 374,217 375,732 376,165 377,146 378,355 379,559 380,193 381,316 382,340 383,340 384,249 385,268 386,246 387,352 388,367 389,329 390,332 391,343 392,290 393,270 394,315 395,312 396,281 397,294 398,315 399,309 400,306 401,265 402,317 403,257 404,278 405,259 406,329 407,315 408,303 409,345 410,265 411,278 412,316 413,270 414,281 415,349 416,332 417,284 418,258 419,313 420,414 421,287 422,343 423,288 424,299 425,304 426,281 427,368 428,306 429,314 430,287 431,237 432,351 433,257 434,447 435,93 436,575 437,337 438,259 439,293 440,241 441,229 442,123 443,331 444,109 445,276 446,243 447,222 448,265 449,363 450,298 451,212 452,296 453,255 454,301 455,317 456,316 457,295 458,258 459,281 460,304 461,270 462,276 463,227 464,295 465,308 466,313 467,221 468,282 469,336 470,269 471,315 472,342 473,313 474,276 475,282 476,193 477,282 478,257 479,345 480,468 481,51 482,278 483,225 484,276 485,377 486,218 487,314 488,279 489,314 490,347 491,269 492,271 493,334 494,342 495,258 496,265 497,315 498,284 499,301 500,294 501,277 502,295 503,315 504,265 505,288 506,337 507,334 508,354 509,336 510,260 511,419 512,287 513,255 514,338 515,306 516,308 517,286 518,320 519,330 520,317 521,339 522,329 523,314 524,298 525,267 526,289 527,274 528,297 529,301 530,318 531,421 532,235 533,295 534,409 535,258 536,321 537,397 538,237 539,324 540,301 541,248 542,245 543,227 544,354 545,296 546,269 547,259 548,263 549,333 550,274 551,295 552,296 553,276 554,177 555,362 556,254 557,305 558,342 559,284 560,325 561,337 562,298 563,305 564,301 565,303 566,317 567,297 568,298 569,254 570,245 571,294 572,333 573,286 574,349 575,182 576,238 577,288 578,262 579,376 580,312 581,285 582,275 583,518 584,338 585,268 586,325 587,342 588,328 589,329 590,272 591,395 592,305 593,298 594,256 595,330 596,415 597,186 598,173 599,193 600,290 601,280 602,295 603,355 604,292 605,249 606,309 607,246 608,311 609,272 610,276 611,280 612,234 613,309 614,319 615,217 616,266 617,279 618,385 619,251 620,280 621,247 622,313 623,426 624,285 625,362 626,301 627,257 628,367 629,292 630,294 631,336 632,283 633,307 634,320 635,279 636,319 637,254 638,292 639,344 640,315 641,325 642,313 643,316 644,317 645,277 646,294 647,367 648,404 649,367 650,487 651,349 652,402 653,276 654,283 655,317 656,297 657,397 658,465 659,223 660,364 661,352 662,321 663,564 664,284 665,732 666,286 667,473 668,551 669,407 670,367 671,276 672,391 673,261 674,442 675,246 676,212 677,388 678,370 679,241 680,255 681,346 682,351 683,173 684,312 685,438 686,353 687,235 688,343 689,199 690,491 691,509 692,280 693,364 694,179 695,248 696,406 697,352 698,356 699,362 700,370 701,325 702,369 703,318 704,329 705,313 706,364 707,286 708,290 709,281 710,243 711,300 712,354 713,335 714,334 715,311 716,381 717,346 718,357 719,258 720,345 721,332 722,331 723,344 724,45 725,333 726,374 727,267 728,351 729,333 730,305 731,343 732,310 733,327 734,347 735,346 736,337 737,267 738,311 739,381 740,313 741,286 742,314 743,398 744,393 745,344 746,301 747,349 748,554 749,349 750,367 751,330 752,333 753,369 754,417 755,306 756,307 757,329 758,341 759,256 760,377 761,281 762,315 763,288 764,331 765,274 766,239 767,269 768,275 769,348 770,281 771,385 772,313 773,305 774,273 775,296 776,366 777,424 778,223 779,240 780,163 781,269 782,318 783,329 784,271 785,341 786,348 787,338 788,339 789,320 790,304 791,359 792,348 793,304 794,328 795,366 796,293 797,312 798,270 799,308 800,270 801,342 802,652 803,314 804,174 805,358 806,345 807,346 808,389 809,184 810,112 811,395 812,235 813,335 814,433 815,371 816,6 817,426 818,520 819,87 820,278 821,163 822,306 823,299 824,377 825,316 826,369 827,334 828,245 829,371 830,247 831,162 832,326 833,179 834,294 835,393 836,289 837,316 838,403 839,222 840,215 841,342 842,212 843,276 844,202 845,387 846,242 847,359 848,369 849,330 850,287 851,349 852,262 853,300 854,328 855,361 856,395 857,419 858,236 859,306 860,388 861,394 862,271 863,485 864,315 865,304 866,305 867,296 868,366 869,263 870,420 871,338 872,285 873,353 874,320 875,310 876,331 877,290 878,335 879,234 880,85 881,304 882,272 883,583 884,239 885,291 886,318 887,282 888,327 889,324 890,314 891,287 892,184 893,305 894,311 895,317 896,316 897,291 898,381 899,277 900,333 901,312 902,207 903,311 904,325 905,289 906,328 907,226 908,276 909,391 910,235 911,281 912,403 913,270 914,297 915,309 916,269 917,345 918,357 919,329 920,292 921,389 922,282 923,303 924,301 925,294 926,315 927,298 928,242 929,318 930,265 931,376 932,267 933,314 934,339 935,271 936,254 937,333 938,318 939,235 940,280 941,321 942,350 943,219 944,283 945,270 946,355 947,332 948,310 949,291 950,343 951,258 952,285 953,248 954,421 955,307 956,298 957,285 958,273 959,333 960,265 961,280 962,268 963,223 964,327 965,371 966,389 967,349 968,389 969,291 970,220 971,244 972,310 973,300 974,281 975,270 976,330 977,246 978,187 979,423 980,29 981,374 982,264 983,366 984,262 985,192 986,287 987,312 988,310 989,325 990,303 991,293 992,298 993,332 994,405 995,297 996,305 997,269 998,335 999,300 1000,268 1001,368 1002,324 1003,322 1004,344 1005,399 1006,322 1007,324 1008,329 1009,344 1010,323 1011,344 1012,299 1013,292 1014,290 1015,333 1016,330 1017,300 1018,321 1019,308 1020,288 1021,313 1022,350 1023,303 1024,302 1025,326 1026,358 1027,275 1028,324 1029,327 1030,325 1031,315 1032,308 1033,297 1034,307 1035,323 1036,338 1037,314 1038,289 1039,274 1040,297 1041,291 1042,260 1043,315 1044,281 1045,282 1046,311 1047,310 1048,315 1049,293 1050,239 1051,311 1052,266 1053,298 1054,302 1055,306 1056,334 1057,273 1058,286 1059,360 1060,357 1061,309 1062,343 1063,326 1064,348 1065,331 1066,369 1067,423 1068,313 1069,346 1070,418 1071,373 1072,335 1073,380 1074,245 1075,362 1076,310 1077,158 1078,335 1079,233 1080,293 1081,329 1082,391 1083,320 1084,342 1085,353 1086,340 1087,494 1088,294 1089,328 1090,372 1091,337 1092,386 1093,363 1094,353 1095,270 1096,298 1097,349 1098,348 1099,304 1100,307 1101,379 1102,277 1103,396 1104,315 1105,234 1106,277 1107,375 1108,339 1109,250 1110,252 1111,337 1112,316 1113,243 1114,332 1115,497 1116,286 1117,272 1118,295 1119,323 1120,287 1121,233 1122,335 1123,314 1124,263 1125,257 1126,319 1127,249 1128,296 1129,347 1130,328 1131,300 1132,327 1133,350 1134,386 1135,330 1136,292 1137,264 1138,367 1139,240 1140,311 1141,346 1142,198 1143,408 1144,329 1145,332 1146,331 1147,416 1148,298 1149,299 1150,345 1151,373 1152,287 1153,257 1154,266 1155,344 1156,381 1157,385 1158,220 1159,258 1160,317 1161,342 1162,270 1163,321 1164,333 1165,369 1166,344 1167,292 1168,271 1169,312 1170,292 1171,326 1172,317 1173,349 1174,324 1175,292 1176,274 1177,364 1178,317 1179,259 1180,369 1181,256 1182,305 1183,332 1184,364 1185,336 1186,355 1187,367 1188,312 1189,321 1190,306 1191,353 1192,355 1193,233 1194,281 1195,313 1196,257 1197,321 1198,341 1199,341 1200,263 1201,238 1202,245 1203,500 1204,292 1205,305 1206,378 1207,276 1208,381 1209,446 1210,71 1211,242 1212,313 1213,381 1214,225 1215,401 1216,356 1217,301 1218,299 1219,354 1220,320 1221,354 1222,209 1223,320 1224,288 1225,312 1226,414 1227,248 1228,365 1229,307 1230,305 1231,314 1232,302 1233,297 1234,258 1235,306 1236,329 1237,301 1238,368 1239,255 1240,366 1241,347 1242,289 1243,307 1244,423 1245,307 1246,283 1247,290 1248,348 1249,513 1250,230 1251,131 1252,285 1253,299 1254,282 1255,306 1256,279 1257,364 1258,297 1259,305 1260,255 1261,328 1262,271 1263,354 1264,354 1265,320 1266,321 1267,195 1268,341 1269,352 1270,305 1271,260 1272,387 1273,391 1274,366 1275,231 1276,271 1277,246 1278,259 1279,315 1280,501 1281,197 1282,311 1283,286 1284,268 1285,283 1286,301 1287,359 1288,278 1289,277 1290,295 1291,325 1292,369 1293,296 1294,356 1295,320 1296,368 1297,295 1298,221 1299,233 1300,231 1301,276 1302,298 1303,335 1304,347 1305,372 1306,292 1307,332 1308,325 1309,297 1310,17 1311,312 1312,304 1313,334 1314,299 1315,346 1316,297 1317,529 1318,226 1319,307 1320,371 1321,342 1322,498 1323,427 1324,373 1325,370 1326,287 1327,324 1328,386 1329,348 1330,219 1331,466 1332,129 1333,416 1334,189 1335,407 1336,409 1337,412 1338,351 1339,253 1340,118 1341,268 1342,334 1343,140 1344,322 1345,311 1346,58 1347,310 1348,198 1349,279 1350,238 1351,243 1352,270 1353,306 1354,304 1355,275 1356,283 1357,284 1358,319 1359,280 1360,293 1361,261 1362,331 1363,307 1364,337 1365,293 1366,410 1367,326 1368,296 1369,315 1370,436 1371,304 1372,323 1373,318 1374,323 1375,255 1376,265 1377,513 1378,294 1379,217 1380,367 1381,341 1382,336 1383,304 1384,286 1385,197 1386,263 1387,301 1388,230 1389,304 1390,204 1391,303 1392,287 1393,306 1394,283 1395,318 1396,301 1397,306 1398,296 1399,330 1400,295 1401,341 1402,289 1403,307 1404,422 1405,305 1406,226 1407,350 1408,341 1409,329 1410,273 1411,306 1412,341 1413,309 1414,318 1415,322 1416,368 1417,309 1418,333 1419,285 1420,303 1421,296 1422,304 1423,309 1424,303 1425,311 1426,264 1427,314 1428,309 1429,325 1430,348 1431,315 1432,309 1433,309 1434,328 1435,351 1436,369 1437,343 1438,328 1439,367 1440,344 1441,337 1442,330 1443,335 1444,352 1445,314 1446,342 1447,312 1448,324 1449,331 1450,336 1451,309 1452,331 1453,337 1454,328 1455,274 1456,441 1457,364 1458,361 1459,360 1460,363 1461,366 1462,381 1463,366 1464,383 1465,414 1466,402 1467,408 1468,394 1469,461 1470,407 1471,253 1472,313 1473,432 1474,386 1475,368 1476,509 1477,236 1478,373 1479,263 1480,288 1481,233 1482,405 1483,519 1484,246 1485,367 1486,296 1487,360 1488,378 1489,301 1490,283" fill="none" stroke="#1e1e1e" stroke-width="1.02" vector-effect="non-scaling-stroke" stroke-linejoin="round"/>
<line x1="674.8" y1="647.3" x2="692" y2="647.3" stroke="#333" stroke-width="1.1" />
<text x="696.6" y="650.4" font-size="8.6" text-anchor="start" fill="#222" >J*E'</text>
<path d="M685.8 632.5v3.5M685.8 706.3v-3.5M704.1 632.5v3.5M704.1 706.3v-3.5M722.4 632.5v10.4M722.4 706.3v-10.4M740.7 632.5v3.5M740.7 706.3v-3.5M759 632.5v3.5M759 706.3v-3.5M777.2 632.5v3.5M777.2 706.3v-3.5M795.5 632.5v3.5M795.5 706.3v-3.5M813.8 632.5v10.4M813.8 706.3v-10.4M832.1 632.5v3.5M832.1 706.3v-3.5M850.4 632.5v3.5M850.4 706.3v-3.5M868.6 632.5v3.5M868.6 706.3v-3.5M886.9 632.5v3.5M886.9 706.3v-3.5M905.2 632.5v10.4M905.2 706.3v-10.4M923.5 632.5v3.5M923.5 706.3v-3.5M941.8 632.5v3.5M941.8 706.3v-3.5M960 632.5v3.5M960 706.3v-3.5M978.3 632.5v3.5M978.3 706.3v-3.5M996.6 632.5v10.4M996.6 706.3v-10.4M1014.9 632.5v3.5M1014.9 706.3v-3.5M1033.2 632.5v3.5M1033.2 706.3v-3.5M1051.4 632.5v3.5M1051.4 706.3v-3.5M1069.7 632.5v3.5M1069.7 706.3v-3.5M1088 632.5v10.4M1088 706.3v-10.4M1106.3 632.5v3.5M1106.3 706.3v-3.5" stroke="#2a2a2a" stroke-width="1.1" fill="none"/>
<rect x="668.5" y="632.5" width="453.9" height="73.8" fill="none" stroke="#1c1c1c" stroke-width="1.15"/>
<line x1="668" y1="632.5" x2="1122.9" y2="632.5" stroke="#000" stroke-width="1.35" />
<path d="M668.5 704.9h5.8M1122.4 704.9h-5.8M668.5 690.8h5.8M1122.4 690.8h-5.8M668.5 676.6h5.8M1122.4 676.6h-5.8M668.5 662.5h5.8M1122.4 662.5h-5.8M668.5 648.3h5.8M1122.4 648.3h-5.8M668.5 634.2h5.8M1122.4 634.2h-5.8M668.5 704.9h2.6M1122.4 704.9h-2.6M668.5 702.1h2.6M1122.4 702.1h-2.6M668.5 699.2h2.6M1122.4 699.2h-2.6M668.5 696.4h2.6M1122.4 696.4h-2.6M668.5 693.6h2.6M1122.4 693.6h-2.6M668.5 690.8h2.6M1122.4 690.8h-2.6M668.5 687.9h2.6M1122.4 687.9h-2.6M668.5 685.1h2.6M1122.4 685.1h-2.6M668.5 682.3h2.6M1122.4 682.3h-2.6M668.5 679.4h2.6M1122.4 679.4h-2.6M668.5 676.6h2.6M1122.4 676.6h-2.6M668.5 673.8h2.6M1122.4 673.8h-2.6M668.5 671h2.6M1122.4 671h-2.6M668.5 668.1h2.6M1122.4 668.1h-2.6M668.5 665.3h2.6M1122.4 665.3h-2.6M668.5 662.5h2.6M1122.4 662.5h-2.6M668.5 659.7h2.6M1122.4 659.7h-2.6M668.5 656.8h2.6M1122.4 656.8h-2.6M668.5 654h2.6M1122.4 654h-2.6M668.5 651.2h2.6M1122.4 651.2h-2.6M668.5 648.3h2.6M1122.4 648.3h-2.6M668.5 645.5h2.6M1122.4 645.5h-2.6M668.5 642.7h2.6M1122.4 642.7h-2.6M668.5 639.9h2.6M1122.4 639.9h-2.6M668.5 637h2.6M1122.4 637h-2.6M668.5 634.2h2.6M1122.4 634.2h-2.6" stroke="#111" stroke-width="1.1" fill="none"/>
<text x="665.3" y="708.6" font-size="10.5" text-anchor="end" fill="#000" >-0.15</text>
<text x="665.3" y="694.5" font-size="10.5" text-anchor="end" fill="#000" >-0.10</text>
<text x="665.3" y="680.3" font-size="10.5" text-anchor="end" fill="#000" >-0.05</text>
<text x="665.3" y="666.2" font-size="10.5" text-anchor="end" fill="#000" >0.00</text>
<text x="665.3" y="652" font-size="10.5" text-anchor="end" fill="#000" >0.05</text>
<text x="665.3" y="637.9" font-size="10.5" text-anchor="end" fill="#000" >0.10</text>
<text x="640.5" y="669.5" font-size="11.5" text-anchor="middle" fill="#000" transform="rotate(-90 640.5 669.5)" >J*E' [nW m<tspan dy="-4.6" font-size="8.6">-3</tspan><tspan dy="4.6" font-size="1">&#8203;</tspan>]</text>
<text x="721.9" y="724" font-size="11" text-anchor="middle" fill="#000" >23:53:10</text>
<text x="813.3" y="724" font-size="11" text-anchor="middle" fill="#000" >23:53:20</text>
<text x="904.7" y="724" font-size="11" text-anchor="middle" fill="#000" >23:53:30</text>
<text x="996.1" y="724" font-size="11" text-anchor="middle" fill="#000" >23:53:40</text>
<text x="1087.5" y="724" font-size="11" text-anchor="middle" fill="#000" >23:53:50</text>
<text x="650.6" y="746.2" font-size="11" text-anchor="middle" fill="#000" >X</text>
<text x="721.9" y="746.2" font-size="11" text-anchor="middle" fill="#000" >-0.165</text>
<text x="813.3" y="746.2" font-size="11" text-anchor="middle" fill="#000" >-0.167</text>
<text x="904.7" y="746.2" font-size="11" text-anchor="middle" fill="#000" >-0.169</text>
<text x="996.1" y="746.2" font-size="11" text-anchor="middle" fill="#000" >-0.171</text>
<text x="1087.5" y="746.2" font-size="11" text-anchor="middle" fill="#000" >-0.172</text>
<text x="1142.5" y="746.2" font-size="11" text-anchor="middle" fill="#000" >Re</text>
<text x="650.6" y="763.8" font-size="11" text-anchor="middle" fill="#000" >Y</text>
<text x="721.9" y="763.8" font-size="11" text-anchor="middle" fill="#000" >9.97</text>
<text x="813.3" y="763.8" font-size="11" text-anchor="middle" fill="#000" >9.97</text>
<text x="904.7" y="763.8" font-size="11" text-anchor="middle" fill="#000" >9.97</text>
<text x="996.1" y="763.8" font-size="11" text-anchor="middle" fill="#000" >9.96</text>
<text x="1087.5" y="763.8" font-size="11" text-anchor="middle" fill="#000" >9.96</text>
<text x="1142.5" y="763.8" font-size="11" text-anchor="middle" fill="#000" >Re</text>
<text x="650.6" y="781" font-size="11" text-anchor="middle" fill="#000" >Z</text>
<text x="721.9" y="781" font-size="11" text-anchor="middle" fill="#000" >0.835</text>
<text x="813.3" y="781" font-size="11" text-anchor="middle" fill="#000" >0.836</text>
<text x="904.7" y="781" font-size="11" text-anchor="middle" fill="#000" >0.836</text>
<text x="996.1" y="781" font-size="11" text-anchor="middle" fill="#000" >0.836</text>
<text x="1087.5" y="781" font-size="11" text-anchor="middle" fill="#000" >0.836</text>
<text x="1142.5" y="781" font-size="11" text-anchor="middle" fill="#000" >Re</text>
<text x="1022.6" y="838.5" font-size="12" text-anchor="start" fill="#000" >paschmann 26-Oct-2018 12:20</text>
</svg>
<pre id="info">:
 Event ID         : 20161012_235304
 FlagStr          : sp,udef,mon,mf,s,compl,keep
 GSEpos [Re]      : [ -0.16, 9.98, 0.83 ]
                  :
 LMN coords       :
    L             : [ -0.827, -0.557,  0.078 ]
    M             : [  0.365, -0.426,  0.828 ]
    N             : [  0.428, -0.713, -0.555 ]
                  :
  Times           : (as indicated by red, green lines in plots)
    t_0           : 23:53:21  (red dotted line)
    t_MVAB1       : 23:52:58  (leftmost green line)
    t_MVAB2       : 23:53:39  (rightmost green line)
                  :
|Bmin|, |Vmax|    :
    Bmin          : 48.15 [nT]  at 23:53:45
    Vmax_tht      : 45.71 [km/s]  at 23:53:10
    Vmax_tburst   : 45.71 [km/s]  at 23:53:23
                  :
 Normals          :
    N MVAB        : [  0.531, -0.845, -0.059 ]   (L2/L1 = 4.25)
    N MVAB0       : [  0.498, -0.783,  0.372 ]   (L3/L2 = 338.64)
    N MFR         : [  0.695, -0.580,  0.424 ]   (L2/L1 = 1.34)
                  :
 Durations [s]    : (between red, resp green lines)
    T_CS          : 20.55
    T_MFR/HT      : 41.10
                  :
 Velocity [km/s]  : (based on FPI ion data)
    VnMFR         : -22.8
    VHT.Nmvab     : 81.1  (HTcc = 0.626)
    VHT.Nmvab0    : 6.7
                  :
 CS thickness [km]: (D=T_CS * Vs from above)
    D1=TCS*Vnmfr  : 468
    D2=TCS*VHTn   : 1,667
    D3=TCS*VHTn0  : 138
                  :
 Currents [uA/m2] :
    Jave_CS       : 0.015
    Jmax_THT      : 0.120  at 23:53:33
    Jmax_brst     : 0.120  at 23:53:33
                  :
 HPCA mom [1/cm3] :   Min   -  Max    (  Ave   )  within full brst int
    H+            :   3.925 -  4.021  (  4.021 )
    He+           :   0.000 -  0.000  (  0.000 )
    He++          :   0.023 -  0.034  (  0.031 )
    O+            :   0.000 -  0.003  (  0.000 )
                  :
 SEH date         : 2019-11-29 09:57:28
                  :</pre>
</body></html>
